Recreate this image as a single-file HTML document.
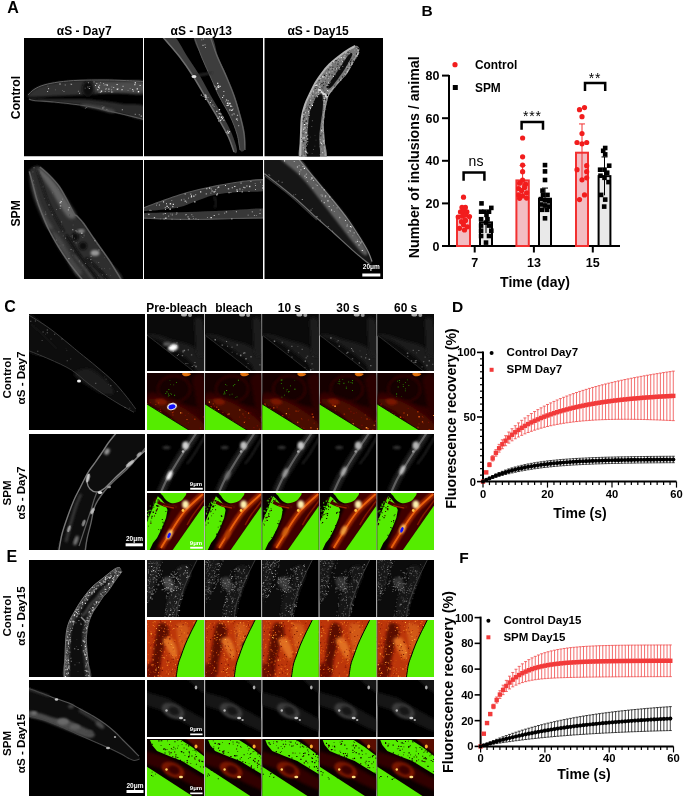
<!DOCTYPE html>
<html><head><meta charset="utf-8"><style>
html,body{margin:0;padding:0;background:#fff;width:685px;height:797px;overflow:hidden}
svg{display:block;will-change:transform}
text{font-family:"Liberation Sans",sans-serif}
</style></head><body>
<svg width="685" height="797" viewBox="0 0 685 797">
<defs>
<filter id="b04" x="-5%" y="-5%" width="110%" height="110%"><feGaussianBlur stdDeviation="0.3"/></filter>
<filter id="b05" x="-20%" y="-20%" width="140%" height="140%"><feGaussianBlur stdDeviation="0.4"/></filter>
<filter id="b1" x="-20%" y="-20%" width="140%" height="140%"><feGaussianBlur stdDeviation="0.8"/></filter>
<filter id="b2" x="-30%" y="-30%" width="160%" height="160%"><feGaussianBlur stdDeviation="1.6"/></filter>
<filter id="b3" x="-30%" y="-30%" width="160%" height="160%"><feGaussianBlur stdDeviation="3"/></filter>
</defs>
<rect width="685" height="797" fill="#fff"/>
<text x="7.3" y="12.6" font-size="16" font-weight="bold" text-anchor="start" fill="#000">A</text>
<text x="84.2" y="34.7" font-size="12" font-weight="bold" text-anchor="middle" fill="#000">αS - Day7</text>
<text x="201.3" y="34.7" font-size="12" font-weight="bold" text-anchor="middle" fill="#000">αS - Day13</text>
<text x="318.1" y="34.7" font-size="12" font-weight="bold" text-anchor="middle" fill="#000">αS - Day15</text>
<text x="19.7" y="97.5" font-size="12.2" font-weight="bold" text-anchor="middle" fill="#000" transform="rotate(-90 19.7 97.5)">Control</text>
<text x="19.7" y="213.3" font-size="12.2" font-weight="bold" text-anchor="middle" fill="#000" transform="rotate(-90 19.7 213.3)">SPM</text>
<clipPath id="cp1"><rect x="0" y="0" width="119" height="118.5"/></clipPath><g transform="translate(24,38)" clip-path="url(#cp1)"><rect x="0" y="0" width="119" height="118.5" fill="#000"/><path d="M4.0 57.0 C4.8 55.8 7.3 53.2 10.0 51.5 C12.7 49.8 15.8 48.2 20.0 47.0 C24.2 45.8 29.2 44.8 35.0 44.0 C40.8 43.2 47.5 42.6 55.0 42.3 C62.5 42.0 72.5 42.0 80.0 42.0 C87.5 42.0 93.3 42.2 100.0 42.5 C106.7 42.8 116.7 41.2 120.0 43.5 C123.3 45.8 123.3 54.0 120.0 56.0 C116.7 58.0 106.7 55.6 100.0 55.5 C93.3 55.4 86.7 55.2 80.0 55.5 C73.3 55.8 67.5 56.6 60.0 57.0 C52.5 57.4 42.5 57.7 35.0 58.0 C27.5 58.3 20.0 58.8 15.0 59.0 C10.0 59.2 6.8 59.3 5.0 59.0 C3.2 58.7 3.2 58.2 4.0 57.0 Z" fill="rgb(50,50,50)" filter="url(#b1)"/><path d="M70.0 45.0 C73.8 43.5 87.0 44.0 95.0 44.0 C103.0 44.0 114.2 43.3 118.0 45.0 C121.8 46.7 121.8 52.5 118.0 54.0 C114.2 55.5 102.7 54.2 95.0 54.0 C87.3 53.8 76.2 54.5 72.0 53.0 C67.8 51.5 66.2 46.5 70.0 45.0 Z" fill="rgb(78,78,78)" filter="url(#b2)"/><ellipse cx="64" cy="51" rx="6" ry="8" fill="rgb(14,14,14)" filter="url(#b2)"/><path d="M6.0 60.5 C10.2 60.5 21.8 60.9 30.0 61.0 C38.2 61.1 46.7 60.7 55.0 61.0 C63.3 61.3 72.5 62.2 80.0 63.0 C87.5 63.8 93.3 65.2 100.0 66.0 C106.7 66.8 116.7 65.4 120.0 68.0 C123.3 70.6 123.3 80.1 120.0 81.5 C116.7 82.9 105.8 77.9 100.0 76.5 C94.2 75.1 90.0 74.2 85.0 73.0 C80.0 71.8 75.5 70.6 70.0 69.5 C64.5 68.4 58.7 67.4 52.0 66.5 C45.3 65.6 37.0 64.7 30.0 64.0 C23.0 63.3 14.2 63.0 10.0 62.5 C5.8 62.0 5.7 61.3 5.0 61.0 C4.3 60.7 1.8 60.5 6.0 60.5 Z" fill="rgb(44,44,44)" filter="url(#b1)"/><path d="M60.0 66.0 C62.8 66.0 70.0 67.0 75.0 68.0 C80.0 69.0 87.8 70.8 90.0 72.0 C92.2 73.2 91.0 75.2 88.0 75.0 C85.0 74.8 77.0 72.2 72.0 71.0 C67.0 69.8 60.0 68.8 58.0 68.0 C56.0 67.2 57.2 66.0 60.0 66.0 Z" fill="rgb(70,70,70)" filter="url(#b1)"/><path d="M4.0 57.0 C5.0 56.1 7.3 53.2 10.0 51.5 C12.7 49.8 15.8 48.2 20.0 47.0 C24.2 45.8 29.2 44.8 35.0 44.0 C40.8 43.2 47.5 42.6 55.0 42.3 C62.5 42.0 72.5 42.0 80.0 42.0 C87.5 42.0 93.3 42.2 100.0 42.5 C106.7 42.8 116.7 43.3 120.0 43.5" stroke="rgb(100,100,100)" stroke-width="1" fill="none" filter="url(#b05)"/><path d="M120.0 81.5 C116.7 80.7 105.8 77.9 100.0 76.5 C94.2 75.1 90.0 74.2 85.0 73.0 C80.0 71.8 75.5 70.6 70.0 69.5 C64.5 68.4 58.7 67.4 52.0 66.5 C45.3 65.6 37.0 64.7 30.0 64.0 C23.0 63.3 14.2 63.0 10.0 62.5 C5.8 62.0 5.8 61.2 5.0 61.0" stroke="rgb(85,85,85)" stroke-width="1.2" fill="none" filter="url(#b05)"/><g filter="url(#b05)"><g filter="url(#b04)"><path d="M76.0 44.1h1.1v1.1h-1.1zM87.2 48.4h1.2v1.2h-1.2z" fill="#787878"/><path d="M81.0 50.7h0.9v0.9h-0.9zM108.6 52.5h1.1v1.1h-1.1zM89.2 48.9h1.0v1.0h-1.0zM97.8 51.2h0.7v0.7h-0.7zM110.7 44.1h1.3v1.3h-1.3zM110.2 46.0h1.3v1.3h-1.3zM72.3 45.0h1.0v1.0h-1.0zM81.5 46.2h1.0v1.0h-1.0zM84.2 50.5h1.3v1.3h-1.3z" fill="#c0c0c0"/><path d="M113.8 53.0h1.4v1.4h-1.4z" fill="#ffffff"/><path d="M115.6 46.9h1.0v1.0h-1.0zM81.9 50.4h0.8v0.8h-0.8zM97.5 51.2h1.0v1.0h-1.0zM73.3 51.2h1.1v1.1h-1.1zM74.0 48.5h1.2v1.2h-1.2zM92.6 46.1h1.0v1.0h-1.0zM71.2 47.1h0.8v0.8h-0.8zM82.7 46.6h1.2v1.2h-1.2z" fill="#f0f0f0"/><path d="M87.1 53.4h1.2v1.2h-1.2zM76.8 52.6h1.4v1.4h-1.4zM87.3 51.5h0.8v0.8h-0.8zM108.1 51.0h1.1v1.1h-1.1zM76.3 53.8h0.9v0.9h-0.9zM74.9 49.5h1.0v1.0h-1.0zM92.7 50.5h1.4v1.4h-1.4zM112.6 50.2h1.4v1.4h-1.4zM74.7 53.7h0.7v0.7h-0.7zM93.6 50.4h0.9v0.9h-0.9zM80.8 53.0h0.8v0.8h-0.8z" fill="#d8d8d8"/><path d="M79.1 44.9h1.0v1.0h-1.0zM84.5 53.0h0.9v0.9h-0.9zM98.5 47.8h1.1v1.1h-1.1zM109.3 52.9h0.7v0.7h-0.7zM103.7 52.1h0.7v0.7h-0.7zM105.7 49.9h0.8v0.8h-0.8z" fill="#a8a8a8"/><path d="M74.9 46.7h1.3v1.3h-1.3zM88.3 53.6h0.9v0.9h-0.9zM79.7 46.6h1.0v1.0h-1.0z" fill="#909090"/></g><g filter="url(#b04)"><path d="M23.0 52.9h1.1v1.1h-1.1zM24.0 50.1h1.1v1.1h-1.1zM63.9 44.3h0.9v0.9h-0.9zM64.8 49.9h1.2v1.2h-1.2z" fill="#a8a8a8"/><path d="M65.5 48.1h0.7v0.7h-0.7zM53.9 52.8h1.0v1.0h-1.0zM55.0 54.8h1.1v1.1h-1.1zM60.8 49.8h0.7v0.7h-0.7zM63.4 48.5h1.0v1.0h-1.0zM46.9 45.7h1.2v1.2h-1.2zM40.7 46.5h1.1v1.1h-1.1z" fill="#909090"/><path d="M31.2 51.4h0.8v0.8h-0.8zM46.1 45.7h0.9v0.9h-0.9zM69.5 43.3h1.1v1.1h-1.1zM23.5 47.8h0.8v0.8h-0.8zM38.2 51.9h0.8v0.8h-0.8z" fill="#787878"/><path d="M39.6 53.3h0.8v0.8h-0.8z" fill="#c0c0c0"/><path d="M35.4 45.4h1.2v1.2h-1.2z" fill="#d8d8d8"/></g><g filter="url(#b04)"><path d="M79.5 68.5h0.9v0.9h-0.9zM114.8 76.2h1.0v1.0h-1.0z" fill="#909090"/><path d="M83.7 72.6h0.8v0.8h-0.8zM78.5 69.6h1.0v1.0h-1.0zM77.6 67.5h0.8v0.8h-0.8zM62.1 68.9h1.1v1.1h-1.1z" fill="#606060"/><path d="M60.9 69.8h0.8v0.8h-0.8zM116.7 77.5h1.2v1.2h-1.2zM78.3 69.5h1.1v1.1h-1.1zM97.8 71.2h1.1v1.1h-1.1z" fill="#a8a8a8"/><path d="M110.7 75.7h1.2v1.2h-1.2zM82.4 71.0h1.0v1.0h-1.0z" fill="#787878"/></g></g></g>
<clipPath id="cp2"><rect x="0" y="0" width="119" height="118.5"/></clipPath><g transform="translate(144,38)" clip-path="url(#cp2)"><rect x="0" y="0" width="119" height="118.5" fill="#000"/><path d="M18.0 -2.0 C18.8 1.3 29.8 11.3 35.0 18.0 C40.2 24.7 44.5 31.0 49.0 38.0 C53.5 45.0 57.8 53.0 62.0 60.0 C66.2 67.0 70.3 73.7 74.0 80.0 C77.7 86.3 81.3 92.3 84.0 98.0 C86.7 103.7 88.5 111.7 90.0 114.0 C91.5 116.3 93.3 115.0 93.0 112.0 C92.7 109.0 90.3 101.7 88.0 96.0 C85.7 90.3 82.5 84.3 79.0 78.0 C75.5 71.7 70.8 64.7 67.0 58.0 C63.2 51.3 60.0 44.7 56.0 38.0 C52.0 31.3 47.3 24.7 43.0 18.0 C38.7 11.3 34.2 1.3 30.0 -2.0 C25.8 -5.3 17.2 -5.3 18.0 -2.0 Z" fill="rgb(60,60,60)" filter="url(#b05)"/><path d="M18.0 -2.0 C20.8 1.3 29.8 11.3 35.0 18.0 C40.2 24.7 44.5 31.0 49.0 38.0 C53.5 45.0 57.8 53.0 62.0 60.0 C66.2 67.0 70.3 73.7 74.0 80.0 C77.7 86.3 81.3 92.3 84.0 98.0 C86.7 103.7 89.0 111.3 90.0 114.0" stroke="rgb(110,110,110)" stroke-width="1.5" fill="none" filter="url(#b05)"/><path d="M50.0 -2.0 C51.5 -5.7 63.0 -5.3 67.0 -2.0 C71.0 1.3 71.3 11.3 74.0 18.0 C76.7 24.7 80.2 31.3 83.0 38.0 C85.8 44.7 88.7 51.3 91.0 58.0 C93.3 64.7 95.3 71.7 97.0 78.0 C98.7 84.3 100.3 90.5 101.0 96.0 C101.7 101.5 101.8 108.3 101.0 111.0 C100.2 113.7 97.3 114.5 96.0 112.0 C94.7 109.5 94.7 101.7 93.0 96.0 C91.3 90.3 89.0 84.3 86.0 78.0 C83.0 71.7 78.2 64.3 75.0 58.0 C71.8 51.7 69.8 46.3 67.0 40.0 C64.2 33.7 60.8 27.0 58.0 20.0 C55.2 13.0 48.5 1.7 50.0 -2.0 Z" fill="rgb(62,62,62)" filter="url(#b05)"/><path d="M66.0 -2.0 C67.2 1.3 70.3 11.3 73.0 18.0 C75.7 24.7 79.2 31.3 82.0 38.0 C84.8 44.7 87.7 51.3 90.0 58.0 C92.3 64.7 94.3 71.7 96.0 78.0 C97.7 84.3 99.2 90.3 100.0 96.0 C100.8 101.7 100.8 109.3 101.0 112.0" stroke="rgb(100,100,100)" stroke-width="1.2" fill="none" filter="url(#b05)"/><path d="M50.0 -2.0 C51.3 1.7 55.2 13.0 58.0 20.0 C60.8 27.0 64.2 33.7 67.0 40.0 C69.8 46.3 71.8 51.7 75.0 58.0 C78.2 64.3 83.0 71.7 86.0 78.0 C89.0 84.3 91.3 90.3 93.0 96.0 C94.7 101.7 95.5 109.3 96.0 112.0" stroke="rgb(90,90,90)" stroke-width="1" fill="none" filter="url(#b05)"/><path d="M48.0 38.0 C49.2 37.8 52.7 37.3 55.0 37.0 C57.3 36.7 59.8 36.5 62.0 36.0 C64.2 35.5 67.0 34.3 68.0 34.0" stroke="rgb(45,45,45)" stroke-width="2" fill="none" filter="url(#b1)"/><ellipse cx="50" cy="38.5" rx="2.5" ry="1.5" fill="rgb(230,230,230)" filter="url(#b05)"/><g filter="url(#b04)"><path d="M74.3 82.6h0.9v0.9h-0.9zM76.1 81.9h1.1v1.1h-1.1zM61.7 57.4h1.0v1.0h-1.0zM60.8 58.5h1.0v1.0h-1.0zM74.8 71.0h1.3v1.3h-1.3zM76.8 78.5h1.4v1.4h-1.4zM79.4 81.7h1.0v1.0h-1.0zM84.0 94.3h1.3v1.3h-1.3zM76.2 75.5h1.1v1.1h-1.1z" fill="#f0f0f0"/><path d="M68.4 66.4h1.0v1.0h-1.0zM78.8 78.8h1.0v1.0h-1.0zM74.6 74.9h1.3v1.3h-1.3zM78.2 77.9h0.7v0.7h-0.7zM58.7 58.2h0.8v0.8h-0.8zM83.1 94.4h1.0v1.0h-1.0zM72.2 72.7h1.2v1.2h-1.2z" fill="#c0c0c0"/><path d="M77.9 80.1h1.1v1.1h-1.1zM60.7 59.4h0.7v0.7h-0.7zM85.0 92.9h1.1v1.1h-1.1zM61.1 56.4h1.1v1.1h-1.1zM65.9 63.9h1.0v1.0h-1.0zM73.6 79.8h1.1v1.1h-1.1zM60.6 56.4h1.3v1.3h-1.3z" fill="#d8d8d8"/><path d="M69.7 68.1h0.9v0.9h-0.9zM64.0 63.1h0.7v0.7h-0.7zM56.8 56.5h1.2v1.2h-1.2z" fill="#909090"/><path d="M83.0 92.5h1.4v1.4h-1.4zM77.3 81.4h0.7v0.7h-0.7zM60.9 60.7h1.4v1.4h-1.4zM76.5 80.8h0.9v0.9h-0.9zM74.9 77.9h1.1v1.1h-1.1zM81.7 94.1h1.0v1.0h-1.0zM63.6 58.9h0.9v0.9h-0.9zM74.9 79.3h0.8v0.8h-0.8zM67.2 62.4h0.8v0.8h-0.8zM61.8 58.7h1.2v1.2h-1.2z" fill="#a8a8a8"/></g><g filter="url(#b04)"><path d="M93.3 80.6h0.8v0.8h-0.8zM92.9 76.8h1.2v1.2h-1.2zM87.5 68.1h0.8v0.8h-0.8zM84.4 66.3h0.9v0.9h-0.9zM87.7 71.1h1.3v1.3h-1.3zM85.2 71.3h1.4v1.4h-1.4zM87.6 76.3h1.1v1.1h-1.1z" fill="#a8a8a8"/><path d="M82.7 65.0h0.8v0.8h-0.8zM89.6 75.5h1.1v1.1h-1.1zM93.1 82.3h0.8v0.8h-0.8zM73.8 46.9h1.3v1.3h-1.3zM70.6 48.2h1.0v1.0h-1.0zM71.9 50.4h1.3v1.3h-1.3zM79.3 53.0h1.1v1.1h-1.1z" fill="#c0c0c0"/><path d="M88.8 70.6h0.9v0.9h-0.9zM81.3 63.3h0.9v0.9h-0.9zM69.9 47.3h0.8v0.8h-0.8zM94.0 87.0h1.2v1.2h-1.2zM88.8 75.2h0.7v0.7h-0.7z" fill="#909090"/><path d="M81.9 61.4h1.2v1.2h-1.2zM91.9 80.4h1.3v1.3h-1.3zM75.5 47.8h1.2v1.2h-1.2zM73.1 44.8h1.2v1.2h-1.2zM79.2 57.2h1.0v1.0h-1.0zM83.6 62.3h1.0v1.0h-1.0z" fill="#d8d8d8"/><path d="M73.3 48.3h1.3v1.3h-1.3zM74.2 48.8h1.1v1.1h-1.1zM78.1 58.9h1.0v1.0h-1.0zM86.1 67.4h1.4v1.4h-1.4zM83.4 66.8h1.2v1.2h-1.2zM85.2 64.8h1.4v1.4h-1.4zM72.3 49.4h0.8v0.8h-0.8zM82.4 67.2h0.9v0.9h-0.9zM83.1 64.5h1.4v1.4h-1.4zM87.2 71.9h1.1v1.1h-1.1z" fill="#f0f0f0"/></g><g filter="url(#b04)"><path d="M59.1 0.6h0.9v0.9h-0.9zM57.3 1.4h0.9v0.9h-0.9z" fill="#c0c0c0"/><path d="M58.4 6.8h1.2v1.2h-1.2z" fill="#a8a8a8"/><path d="M60.5 6.4h0.9v0.9h-0.9zM61.1 8.9h0.9v0.9h-0.9z" fill="#d8d8d8"/></g></g>
<clipPath id="cp3"><rect x="0" y="0" width="118.7" height="118.5"/></clipPath><g transform="translate(264.3,38)" clip-path="url(#cp3)"><rect x="0" y="0" width="118.7" height="118.5" fill="#000"/><path d="M36.0 121.0 C31.9 117.5 36.2 107.0 36.5 100.0 C36.8 93.0 36.9 84.5 37.6 78.8 C38.4 73.1 39.7 69.8 41.0 66.0 C42.3 62.2 43.8 59.5 45.5 56.0 C47.2 52.5 49.0 48.5 51.0 45.0 C53.0 41.5 55.5 38.1 57.8 35.0 C60.1 31.9 62.4 29.1 65.0 26.5 C67.6 23.9 70.7 21.6 73.5 19.3 C76.3 17.1 79.1 14.9 82.0 13.0 C84.9 11.1 88.9 8.5 91.0 7.9 C93.1 7.3 93.9 8.6 94.5 9.6 C95.1 10.6 95.6 11.4 94.5 14.0 C93.4 16.6 90.0 21.5 88.0 25.0 C86.0 28.5 84.3 32.2 82.3 35.0 C80.3 37.8 78.0 39.7 76.0 42.0 C74.0 44.3 72.0 46.5 70.0 49.0 C68.0 51.5 65.5 54.1 64.0 57.0 C62.5 59.9 62.0 63.2 61.3 66.5 C60.5 69.8 59.9 73.5 59.5 77.0 C59.1 80.5 58.7 83.8 58.7 87.6 C58.7 91.4 59.1 94.4 59.5 100.0 C59.9 105.6 65.2 117.5 61.3 121.0 C57.4 124.5 40.1 124.5 36.0 121.0 Z" fill="rgb(120,120,120)" filter="url(#b05)"/><path d="M43.0 121.0 C41.0 117.5 42.8 106.0 43.0 100.0 C43.2 94.0 43.5 89.7 44.0 85.0 C44.5 80.3 45.0 75.8 46.0 72.0 C47.0 68.2 48.7 64.5 50.0 62.0 C51.3 59.5 52.7 57.8 54.0 57.0 C55.3 56.2 57.2 54.8 58.0 57.0 C58.8 59.2 58.8 65.3 58.5 70.0 C58.2 74.7 57.1 80.0 56.5 85.0 C55.9 90.0 55.2 94.0 55.0 100.0 C54.8 106.0 57.0 117.5 55.0 121.0 C53.0 124.5 45.0 124.5 43.0 121.0 Z" fill="rgb(14,14,14)" filter="url(#b05)"/><path d="M62.0 49.0 C62.2 47.7 65.0 44.8 67.0 42.0 C69.0 39.2 71.8 35.2 74.0 32.0 C76.2 28.8 78.1 25.8 80.0 23.0 C81.9 20.2 84.2 16.6 85.5 15.5 C86.8 14.4 88.2 14.9 88.0 16.5 C87.8 18.1 85.6 22.1 84.0 25.0 C82.4 27.9 80.5 31.0 78.5 34.0 C76.5 37.0 74.1 40.3 72.0 43.0 C69.9 45.7 67.7 49.0 66.0 50.0 C64.3 51.0 61.8 50.3 62.0 49.0 Z" fill="rgb(14,14,14)" filter="url(#b05)"/><path d="M36.0 121.0 C36.1 117.5 36.2 107.0 36.5 100.0 C36.8 93.0 36.9 84.5 37.6 78.8 C38.4 73.1 39.7 69.8 41.0 66.0 C42.3 62.2 43.8 59.5 45.5 56.0 C47.2 52.5 49.0 48.5 51.0 45.0 C53.0 41.5 55.5 38.1 57.8 35.0 C60.1 31.9 62.4 29.1 65.0 26.5 C67.6 23.9 70.7 21.6 73.5 19.3 C76.3 17.1 79.1 14.9 82.0 13.0 C84.9 11.1 89.5 8.8 91.0 7.9" stroke="rgb(180,180,180)" stroke-width="2" fill="none" filter="url(#b05)"/><path d="M94.5 14.0 C93.4 15.8 90.0 21.5 88.0 25.0 C86.0 28.5 84.3 32.2 82.3 35.0 C80.3 37.8 78.0 39.7 76.0 42.0 C74.0 44.3 72.0 46.5 70.0 49.0 C68.0 51.5 65.5 54.1 64.0 57.0 C62.5 59.9 62.0 63.2 61.3 66.5 C60.5 69.8 59.9 73.5 59.5 77.0 C59.1 80.5 58.7 83.8 58.7 87.6 C58.7 91.4 59.1 94.4 59.5 100.0 C59.9 105.6 61.0 117.5 61.3 121.0" stroke="rgb(160,160,160)" stroke-width="1.6" fill="none" filter="url(#b05)"/><path d="M54 51 L63 59" stroke="rgb(215,215,215)" stroke-width="2.4" filter="url(#b05)"/><g filter="url(#b04)"><path d="M59.8 114.5h1.0v1.0h-1.0zM45.5 56.5h0.7v0.7h-0.7zM37.9 113.8h0.6v0.6h-0.6zM86.5 20.5h0.8v0.8h-0.8zM74.2 42.7h1.2v1.2h-1.2zM41.7 101.8h0.7v0.7h-0.7zM58.5 112.9h0.7v0.7h-0.7zM61.5 53.7h1.2v1.2h-1.2zM54.6 53.9h0.8v0.8h-0.8zM40.9 110.9h0.6v0.6h-0.6zM38.1 88.5h0.7v0.7h-0.7zM70.8 25.9h0.6v0.6h-0.6zM38.8 99.8h0.8v0.8h-0.8zM69.8 28.4h1.1v1.1h-1.1zM37.9 112.7h0.6v0.6h-0.6zM42.5 63.6h0.7v0.7h-0.7zM74.1 25.0h0.9v0.9h-0.9zM50.9 48.3h1.0v1.0h-1.0zM60.9 33.0h1.0v1.0h-1.0zM54.3 45.9h1.3v1.3h-1.3zM42.4 86.0h1.3v1.3h-1.3zM74.6 30.9h0.9v0.9h-0.9zM51.7 56.3h0.8v0.8h-0.8zM58.0 53.0h0.7v0.7h-0.7zM41.4 71.5h0.7v0.7h-0.7zM57.5 99.5h0.8v0.8h-0.8zM51.1 53.4h0.7v0.7h-0.7zM64.8 31.1h0.7v0.7h-0.7zM80.7 33.2h0.8v0.8h-0.8zM85.2 27.5h1.2v1.2h-1.2zM57.6 80.4h1.0v1.0h-1.0zM50.4 52.3h0.8v0.8h-0.8zM62.1 62.3h0.9v0.9h-0.9zM40.1 91.8h0.7v0.7h-0.7zM40.7 86.7h0.7v0.7h-0.7zM41.5 118.4h1.1v1.1h-1.1zM42.8 103.1h1.2v1.2h-1.2zM43.0 96.5h0.8v0.8h-0.8zM52.0 57.4h1.0v1.0h-1.0zM39.9 97.2h0.9v0.9h-0.9zM88.3 22.6h1.2v1.2h-1.2zM61.0 47.2h0.9v0.9h-0.9zM55.9 100.4h1.1v1.1h-1.1zM44.4 59.0h0.7v0.7h-0.7zM63.9 37.6h1.1v1.1h-1.1zM83.7 13.7h0.8v0.8h-0.8z" fill="#787878"/><path d="M80.9 13.9h0.6v0.6h-0.6zM64.5 33.5h0.9v0.9h-0.9zM40.9 112.7h1.2v1.2h-1.2zM68.5 23.6h1.0v1.0h-1.0zM54.6 45.5h0.9v0.9h-0.9zM51.4 50.9h0.9v0.9h-0.9zM92.0 10.2h1.0v1.0h-1.0zM42.7 105.5h1.0v1.0h-1.0zM63.6 52.6h1.1v1.1h-1.1zM38.9 90.7h1.3v1.3h-1.3zM49.1 54.6h0.7v0.7h-0.7zM42.5 114.7h0.8v0.8h-0.8zM36.9 103.2h0.7v0.7h-0.7zM56.7 92.2h1.1v1.1h-1.1zM39.8 84.6h1.0v1.0h-1.0zM45.5 58.7h1.1v1.1h-1.1zM60.6 54.1h1.2v1.2h-1.2zM39.6 78.4h0.8v0.8h-0.8zM82.4 13.7h1.3v1.3h-1.3zM44.5 77.2h0.8v0.8h-0.8zM43.2 96.8h0.7v0.7h-0.7zM59.6 59.8h1.0v1.0h-1.0zM57.5 106.4h0.7v0.7h-0.7zM51.9 46.6h1.2v1.2h-1.2zM39.2 99.3h1.2v1.2h-1.2zM64.7 44.9h0.7v0.7h-0.7zM57.8 81.3h0.7v0.7h-0.7zM41.3 89.3h1.1v1.1h-1.1zM56.3 104.4h0.6v0.6h-0.6zM42.3 84.8h0.7v0.7h-0.7zM62.7 51.9h1.1v1.1h-1.1zM82.6 14.3h0.9v0.9h-0.9zM41.2 94.0h1.2v1.2h-1.2zM58.4 102.5h1.1v1.1h-1.1zM76.3 19.0h1.2v1.2h-1.2zM59.4 66.0h0.8v0.8h-0.8zM50.6 46.8h1.3v1.3h-1.3zM84.4 25.5h1.0v1.0h-1.0z" fill="#f0f0f0"/><path d="M56.2 42.4h1.0v1.0h-1.0zM52.7 47.3h0.7v0.7h-0.7zM75.1 22.7h0.8v0.8h-0.8zM59.7 62.4h0.9v0.9h-0.9zM74.4 19.3h1.1v1.1h-1.1zM88.6 16.2h0.6v0.6h-0.6zM85.5 25.9h0.7v0.7h-0.7zM69.7 46.0h0.8v0.8h-0.8zM57.7 114.0h1.2v1.2h-1.2zM58.2 38.4h1.3v1.3h-1.3zM60.9 37.6h1.1v1.1h-1.1zM75.9 41.3h1.2v1.2h-1.2zM66.1 26.6h1.3v1.3h-1.3zM38.5 109.2h1.0v1.0h-1.0zM39.1 110.8h0.7v0.7h-0.7zM44.7 68.6h1.0v1.0h-1.0zM48.4 52.6h1.3v1.3h-1.3zM56.4 55.8h0.6v0.6h-0.6zM39.1 76.1h1.0v1.0h-1.0zM73.8 20.4h0.9v0.9h-0.9zM76.3 26.6h0.7v0.7h-0.7zM39.8 82.6h0.8v0.8h-0.8zM70.3 36.4h0.9v0.9h-0.9zM86.4 26.4h0.8v0.8h-0.8zM87.8 22.3h1.2v1.2h-1.2zM59.6 43.4h0.8v0.8h-0.8zM55.5 101.3h0.8v0.8h-0.8zM62.1 46.8h1.2v1.2h-1.2zM57.2 91.4h0.9v0.9h-0.9zM63.6 29.2h0.7v0.7h-0.7zM39.6 89.0h0.9v0.9h-0.9zM84.0 29.4h0.7v0.7h-0.7zM41.8 98.1h0.8v0.8h-0.8zM61.0 39.6h0.9v0.9h-0.9zM87.4 25.9h0.9v0.9h-0.9zM67.3 32.9h0.7v0.7h-0.7zM42.3 84.8h1.1v1.1h-1.1zM67.4 33.0h0.8v0.8h-0.8zM80.1 19.8h1.0v1.0h-1.0zM53.9 56.1h1.0v1.0h-1.0zM41.5 113.8h1.2v1.2h-1.2zM48.0 57.2h1.2v1.2h-1.2zM71.7 30.2h1.2v1.2h-1.2zM61.7 34.2h0.8v0.8h-0.8zM41.5 117.4h0.7v0.7h-0.7zM64.3 52.0h1.0v1.0h-1.0z" fill="#c0c0c0"/><path d="M57.1 44.9h1.1v1.1h-1.1zM58.7 72.6h0.6v0.6h-0.6zM69.9 36.9h1.0v1.0h-1.0zM58.9 47.1h1.1v1.1h-1.1zM40.8 118.5h0.9v0.9h-0.9zM90.5 20.8h0.7v0.7h-0.7zM42.6 101.6h0.8v0.8h-0.8zM38.3 102.5h1.2v1.2h-1.2zM39.6 92.4h0.9v0.9h-0.9zM77.7 38.2h1.2v1.2h-1.2zM42.7 104.8h1.3v1.3h-1.3zM43.3 68.4h0.8v0.8h-0.8zM44.8 66.0h1.1v1.1h-1.1zM59.6 36.7h1.3v1.3h-1.3zM56.0 97.3h1.0v1.0h-1.0zM73.9 22.6h0.8v0.8h-0.8zM58.2 78.8h0.7v0.7h-0.7zM38.4 95.3h0.8v0.8h-0.8zM62.8 56.3h0.8v0.8h-0.8zM42.7 115.0h1.1v1.1h-1.1zM70.8 45.3h1.2v1.2h-1.2zM37.1 117.6h0.8v0.8h-0.8zM41.6 69.7h0.8v0.8h-0.8zM43.9 78.3h0.9v0.9h-0.9zM68.1 28.7h1.0v1.0h-1.0zM50.7 49.9h0.8v0.8h-0.8zM85.8 25.4h0.8v0.8h-0.8zM36.7 100.1h0.7v0.7h-0.7zM70.0 46.6h1.2v1.2h-1.2zM43.2 88.2h1.1v1.1h-1.1zM53.9 56.9h0.6v0.6h-0.6zM71.1 22.0h1.2v1.2h-1.2zM41.7 89.4h1.1v1.1h-1.1zM79.9 22.8h0.7v0.7h-0.7zM73.1 25.6h1.1v1.1h-1.1zM83.0 13.8h1.1v1.1h-1.1zM48.5 61.0h0.8v0.8h-0.8zM52.2 51.6h0.6v0.6h-0.6zM59.0 106.5h1.2v1.2h-1.2zM57.1 90.0h0.7v0.7h-0.7zM41.8 105.6h1.3v1.3h-1.3zM60.1 53.8h1.3v1.3h-1.3zM60.9 60.9h0.7v0.7h-0.7zM75.2 27.5h1.0v1.0h-1.0zM70.7 30.4h0.9v0.9h-0.9zM57.7 49.8h0.6v0.6h-0.6zM78.7 22.6h0.8v0.8h-0.8zM85.6 24.5h0.8v0.8h-0.8zM69.8 48.0h1.0v1.0h-1.0zM42.5 102.2h0.7v0.7h-0.7zM86.2 27.7h1.2v1.2h-1.2zM78.8 22.7h0.9v0.9h-0.9zM91.7 15.2h1.2v1.2h-1.2zM39.6 78.1h0.6v0.6h-0.6zM41.5 82.6h1.2v1.2h-1.2zM64.2 49.8h0.8v0.8h-0.8zM82.9 14.0h0.6v0.6h-0.6zM41.4 87.0h0.8v0.8h-0.8zM67.4 31.1h1.0v1.0h-1.0z" fill="#181818"/><path d="M64.4 52.6h0.8v0.8h-0.8zM74.0 22.3h0.7v0.7h-0.7zM84.9 15.6h0.7v0.7h-0.7zM92.7 15.6h1.3v1.3h-1.3zM88.3 9.4h0.9v0.9h-0.9zM56.6 104.9h1.1v1.1h-1.1zM45.3 56.9h0.8v0.8h-0.8zM40.6 74.3h1.0v1.0h-1.0zM79.1 18.8h1.1v1.1h-1.1zM56.0 103.8h0.8v0.8h-0.8zM57.8 38.1h1.3v1.3h-1.3zM76.7 21.7h0.7v0.7h-0.7zM61.8 37.0h0.7v0.7h-0.7zM37.9 78.6h0.6v0.6h-0.6zM69.6 23.9h0.6v0.6h-0.6zM40.6 102.0h0.8v0.8h-0.8zM68.8 38.0h0.9v0.9h-0.9zM48.9 63.7h0.9v0.9h-0.9zM74.7 29.4h0.9v0.9h-0.9zM55.3 40.1h1.1v1.1h-1.1zM61.8 35.3h0.8v0.8h-0.8zM42.5 96.5h0.9v0.9h-0.9zM70.2 47.8h1.2v1.2h-1.2zM63.7 44.3h1.1v1.1h-1.1zM53.4 53.6h1.2v1.2h-1.2zM59.3 62.0h1.2v1.2h-1.2zM93.3 11.6h1.1v1.1h-1.1zM65.4 37.5h0.7v0.7h-0.7zM43.8 73.1h1.0v1.0h-1.0zM64.3 37.7h0.7v0.7h-0.7zM55.2 48.5h0.6v0.6h-0.6zM51.5 54.1h0.7v0.7h-0.7zM45.7 61.7h1.1v1.1h-1.1zM82.8 33.3h0.9v0.9h-0.9zM38.3 99.8h0.8v0.8h-0.8zM57.9 37.8h1.1v1.1h-1.1z" fill="#d8d8d8"/><path d="M54.9 50.0h1.0v1.0h-1.0zM39.3 96.0h0.6v0.6h-0.6zM39.0 77.0h0.8v0.8h-0.8zM60.6 42.2h0.8v0.8h-0.8zM44.9 73.3h0.7v0.7h-0.7zM55.2 53.3h1.2v1.2h-1.2zM39.5 114.4h1.1v1.1h-1.1zM55.9 46.0h0.9v0.9h-0.9zM74.4 40.9h1.2v1.2h-1.2zM40.4 82.9h1.0v1.0h-1.0zM74.2 31.0h0.8v0.8h-0.8zM80.2 33.8h0.8v0.8h-0.8zM51.4 47.9h1.0v1.0h-1.0zM44.6 78.7h0.8v0.8h-0.8zM57.0 95.9h0.6v0.6h-0.6zM70.2 48.2h1.3v1.3h-1.3zM60.7 38.1h0.8v0.8h-0.8zM82.2 16.6h1.2v1.2h-1.2zM83.9 13.8h1.3v1.3h-1.3zM37.4 94.5h0.8v0.8h-0.8zM64.2 52.6h1.2v1.2h-1.2zM64.2 35.2h0.8v0.8h-0.8zM80.9 34.4h1.0v1.0h-1.0zM38.8 79.5h1.1v1.1h-1.1zM51.6 45.5h0.6v0.6h-0.6zM79.7 37.2h1.2v1.2h-1.2zM58.7 93.1h1.0v1.0h-1.0zM50.7 58.9h1.3v1.3h-1.3zM91.1 8.5h0.7v0.7h-0.7zM89.4 18.4h1.0v1.0h-1.0zM57.3 48.6h0.8v0.8h-0.8zM68.0 24.1h0.9v0.9h-0.9zM59.1 56.9h1.3v1.3h-1.3zM60.7 44.0h0.9v0.9h-0.9zM56.7 48.9h1.3v1.3h-1.3zM92.2 9.2h1.2v1.2h-1.2zM67.1 36.1h1.3v1.3h-1.3zM76.2 40.6h1.0v1.0h-1.0zM61.3 45.2h1.2v1.2h-1.2zM91.4 19.2h1.3v1.3h-1.3zM57.5 80.9h0.8v0.8h-0.8zM56.7 56.6h0.7v0.7h-0.7zM88.7 22.8h0.8v0.8h-0.8z" fill="#484848"/><path d="M86.0 26.6h0.6v0.6h-0.6zM55.2 107.9h0.8v0.8h-0.8zM72.5 28.1h0.8v0.8h-0.8zM85.9 22.5h1.2v1.2h-1.2zM56.5 55.5h1.3v1.3h-1.3zM74.8 42.0h0.8v0.8h-0.8zM91.8 11.6h0.6v0.6h-0.6zM39.7 116.4h0.8v0.8h-0.8zM62.6 51.2h0.7v0.7h-0.7zM54.4 42.0h0.9v0.9h-0.9zM63.8 49.5h0.8v0.8h-0.8zM49.7 61.5h0.7v0.7h-0.7zM85.6 25.3h1.1v1.1h-1.1zM58.3 95.4h0.8v0.8h-0.8zM60.7 61.1h1.2v1.2h-1.2zM39.7 79.1h0.8v0.8h-0.8zM72.6 32.6h0.9v0.9h-0.9zM62.9 38.7h0.7v0.7h-0.7zM42.3 96.0h1.0v1.0h-1.0zM77.5 38.7h0.8v0.8h-0.8zM48.1 55.7h0.9v0.9h-0.9zM73.6 31.0h0.7v0.7h-0.7zM58.8 60.9h1.0v1.0h-1.0zM55.8 106.4h0.9v0.9h-0.9zM71.3 24.8h0.8v0.8h-0.8zM55.2 53.2h0.9v0.9h-0.9zM64.7 53.0h0.7v0.7h-0.7zM64.4 36.3h1.3v1.3h-1.3zM39.7 111.3h0.9v0.9h-0.9zM72.8 30.6h1.0v1.0h-1.0zM42.8 104.9h0.8v0.8h-0.8zM56.9 94.0h1.2v1.2h-1.2zM63.1 38.2h0.6v0.6h-0.6zM41.2 101.5h0.7v0.7h-0.7zM59.0 100.8h0.8v0.8h-0.8zM70.0 33.2h1.2v1.2h-1.2zM63.8 31.2h1.0v1.0h-1.0z" fill="#303030"/><path d="M90.0 11.5h0.7v0.7h-0.7zM58.6 60.0h0.8v0.8h-0.8zM62.2 36.0h0.8v0.8h-0.8zM85.6 27.1h0.7v0.7h-0.7zM57.8 101.5h1.0v1.0h-1.0zM68.5 30.9h1.1v1.1h-1.1zM69.9 49.0h0.8v0.8h-0.8zM59.6 34.2h1.1v1.1h-1.1zM60.4 54.3h1.0v1.0h-1.0zM71.0 45.1h1.2v1.2h-1.2zM56.9 85.1h1.1v1.1h-1.1zM60.1 64.1h1.1v1.1h-1.1zM40.4 97.3h0.6v0.6h-0.6zM46.7 57.3h0.7v0.7h-0.7zM39.4 93.4h0.7v0.7h-0.7zM57.4 89.5h0.9v0.9h-0.9zM66.9 52.7h1.0v1.0h-1.0zM59.6 110.1h1.3v1.3h-1.3zM38.5 92.6h0.6v0.6h-0.6zM62.9 35.3h1.1v1.1h-1.1zM89.7 11.6h1.1v1.1h-1.1zM61.5 33.8h0.7v0.7h-0.7zM63.1 47.0h1.1v1.1h-1.1zM59.1 44.8h1.0v1.0h-1.0zM91.1 17.2h1.2v1.2h-1.2zM56.8 93.8h1.2v1.2h-1.2zM59.2 107.3h1.2v1.2h-1.2zM63.9 43.3h1.0v1.0h-1.0zM62.1 51.1h1.0v1.0h-1.0zM76.1 25.5h1.0v1.0h-1.0zM57.1 116.4h0.9v0.9h-0.9zM45.5 58.7h1.2v1.2h-1.2zM59.9 62.4h0.9v0.9h-0.9zM48.0 65.3h0.8v0.8h-0.8zM60.9 67.7h0.8v0.8h-0.8zM56.5 40.0h0.9v0.9h-0.9zM49.3 61.3h1.1v1.1h-1.1zM80.3 19.6h0.7v0.7h-0.7zM53.6 47.7h1.2v1.2h-1.2zM43.2 63.0h1.2v1.2h-1.2zM55.3 108.2h1.0v1.0h-1.0zM48.6 53.7h0.7v0.7h-0.7zM40.7 118.3h0.6v0.6h-0.6zM76.7 25.6h1.2v1.2h-1.2zM65.7 37.6h1.0v1.0h-1.0z" fill="#909090"/><path d="M45.4 69.6h1.2v1.2h-1.2zM77.9 23.3h0.8v0.8h-0.8zM42.8 100.5h1.1v1.1h-1.1zM47.5 66.9h1.2v1.2h-1.2zM55.2 48.8h0.9v0.9h-0.9zM39.6 85.8h1.3v1.3h-1.3zM52.3 57.5h0.7v0.7h-0.7z" fill="#ffffff"/><path d="M64.9 33.2h1.2v1.2h-1.2zM38.0 102.8h1.2v1.2h-1.2zM43.9 74.5h1.2v1.2h-1.2zM59.3 78.5h1.0v1.0h-1.0zM64.7 52.8h1.0v1.0h-1.0zM80.8 14.8h1.2v1.2h-1.2zM37.8 99.6h1.3v1.3h-1.3zM39.3 89.6h1.2v1.2h-1.2zM38.4 117.6h1.0v1.0h-1.0zM82.0 28.5h1.2v1.2h-1.2zM47.6 52.7h0.6v0.6h-0.6zM67.8 50.1h0.8v0.8h-0.8zM63.7 40.0h1.0v1.0h-1.0zM68.7 29.9h0.9v0.9h-0.9zM75.6 18.0h0.6v0.6h-0.6zM39.0 102.9h1.2v1.2h-1.2zM40.4 102.1h0.9v0.9h-0.9zM51.2 55.0h1.0v1.0h-1.0zM59.0 101.8h1.2v1.2h-1.2zM84.6 12.7h0.8v0.8h-0.8zM42.8 88.8h0.9v0.9h-0.9zM57.0 110.6h0.8v0.8h-0.8zM62.2 37.7h1.0v1.0h-1.0zM52.6 58.1h1.2v1.2h-1.2zM40.5 69.0h0.9v0.9h-0.9zM85.2 12.7h0.9v0.9h-0.9zM55.5 116.1h0.7v0.7h-0.7zM80.2 18.9h0.9v0.9h-0.9zM71.7 24.6h0.8v0.8h-0.8zM58.1 92.7h1.3v1.3h-1.3zM59.9 38.3h1.1v1.1h-1.1zM84.5 26.9h0.8v0.8h-0.8zM38.0 106.5h1.2v1.2h-1.2zM46.6 55.7h1.1v1.1h-1.1zM71.4 23.6h0.7v0.7h-0.7zM56.8 48.6h0.7v0.7h-0.7zM39.1 117.2h1.1v1.1h-1.1zM42.0 77.3h0.6v0.6h-0.6zM80.0 35.2h0.9v0.9h-0.9zM66.1 30.3h1.2v1.2h-1.2zM70.6 46.3h0.7v0.7h-0.7zM80.5 17.0h0.8v0.8h-0.8zM91.7 17.1h1.0v1.0h-1.0zM41.7 80.3h1.1v1.1h-1.1zM92.6 11.4h1.0v1.0h-1.0zM40.1 92.9h0.8v0.8h-0.8zM43.5 74.2h0.9v0.9h-0.9zM39.3 91.2h1.1v1.1h-1.1zM56.1 38.5h0.6v0.6h-0.6zM55.6 117.7h0.7v0.7h-0.7zM47.1 65.7h1.2v1.2h-1.2zM92.1 17.4h1.3v1.3h-1.3zM79.6 17.3h0.9v0.9h-0.9zM73.4 19.6h1.2v1.2h-1.2zM53.8 53.7h0.9v0.9h-0.9zM37.4 99.8h0.9v0.9h-0.9zM59.1 58.1h0.6v0.6h-0.6zM58.5 73.2h0.8v0.8h-0.8zM65.9 52.8h0.8v0.8h-0.8zM75.5 25.5h0.6v0.6h-0.6z" fill="#a8a8a8"/><path d="M58.6 81.5h0.9v0.9h-0.9zM50.9 46.5h0.8v0.8h-0.8zM52.5 49.2h1.1v1.1h-1.1zM46.9 68.3h1.0v1.0h-1.0zM59.4 74.4h0.8v0.8h-0.8zM59.6 46.3h0.7v0.7h-0.7zM45.1 66.7h0.7v0.7h-0.7zM85.6 13.6h1.2v1.2h-1.2zM58.3 49.1h1.0v1.0h-1.0zM46.7 69.1h0.7v0.7h-0.7zM58.6 50.6h1.2v1.2h-1.2zM58.8 108.0h0.6v0.6h-0.6zM42.6 114.6h1.3v1.3h-1.3zM50.5 57.5h0.8v0.8h-0.8zM69.1 47.2h0.9v0.9h-0.9zM72.9 31.2h1.0v1.0h-1.0zM60.5 70.8h1.3v1.3h-1.3zM57.5 85.2h0.8v0.8h-0.8zM38.0 82.9h1.3v1.3h-1.3zM61.5 65.2h1.2v1.2h-1.2zM38.7 104.2h1.1v1.1h-1.1zM78.4 37.6h1.1v1.1h-1.1zM58.7 52.2h0.9v0.9h-0.9zM65.3 43.5h1.2v1.2h-1.2zM36.9 99.9h0.8v0.8h-0.8zM58.4 86.6h0.9v0.9h-0.9zM40.3 107.1h1.0v1.0h-1.0zM63.3 51.3h1.0v1.0h-1.0zM61.1 46.9h0.8v0.8h-0.8zM44.4 62.7h1.1v1.1h-1.1zM40.9 85.6h0.7v0.7h-0.7zM59.3 53.6h1.2v1.2h-1.2zM83.0 13.8h0.9v0.9h-0.9zM38.9 74.5h1.2v1.2h-1.2zM56.7 51.7h0.8v0.8h-0.8zM40.1 102.7h1.2v1.2h-1.2zM62.0 36.0h0.8v0.8h-0.8zM65.4 32.7h0.7v0.7h-0.7zM81.9 31.4h1.0v1.0h-1.0zM73.8 20.2h0.9v0.9h-0.9zM42.8 74.2h0.9v0.9h-0.9zM84.0 29.9h0.9v0.9h-0.9zM42.5 94.6h0.7v0.7h-0.7zM49.9 50.3h0.8v0.8h-0.8z" fill="#606060"/><path d="M39.5 84.5h1.2v1.2h-1.2zM83.1 30.3h0.6v0.6h-0.6zM93.4 10.1h1.1v1.1h-1.1zM87.0 21.4h0.9v0.9h-0.9zM38.5 80.6h1.0v1.0h-1.0zM41.8 109.0h1.3v1.3h-1.3zM49.8 58.7h0.7v0.7h-0.7zM85.8 23.0h0.8v0.8h-0.8zM65.6 29.5h0.6v0.6h-0.6zM45.3 68.6h0.6v0.6h-0.6zM58.5 44.3h0.9v0.9h-0.9zM40.3 91.0h0.6v0.6h-0.6zM88.3 22.6h1.2v1.2h-1.2zM38.9 102.9h1.1v1.1h-1.1zM43.9 69.6h0.6v0.6h-0.6zM84.6 12.2h0.6v0.6h-0.6zM44.3 70.2h1.2v1.2h-1.2zM62.5 56.7h1.2v1.2h-1.2zM39.1 73.7h0.9v0.9h-0.9z" fill="#000000"/></g><g filter="url(#b04)"><path d="M51.4 101.8h0.6v0.6h-0.6zM47.6 82.2h1.0v1.0h-1.0zM47.4 114.9h0.8v0.8h-0.8z" fill="#606060"/><path d="M83.8 23.9h0.8v0.8h-0.8zM48.9 111.3h0.8v0.8h-0.8zM77.9 28.0h1.0v1.0h-1.0zM75.4 31.0h0.7v0.7h-0.7zM50.4 97.4h0.6v0.6h-0.6zM47.1 88.2h0.8v0.8h-0.8z" fill="#787878"/><path d="M58.0 61.6h1.0v1.0h-1.0zM45.7 98.8h0.8v0.8h-0.8zM50.1 107.7h0.9v0.9h-0.9z" fill="#484848"/></g></g>
<clipPath id="cp4"><rect x="0" y="0" width="119" height="119"/></clipPath><g transform="translate(24,160)" clip-path="url(#cp4)"><rect x="0" y="0" width="119" height="119" fill="#000"/><path d="M5.3 11.4 C5.5 14.2 7.7 20.2 9.0 25.0 C10.3 29.8 11.6 35.4 13.0 40.0 C14.4 44.6 15.5 47.5 17.5 52.5 C19.5 57.5 22.1 64.2 25.0 70.0 C27.9 75.8 31.5 81.9 35.0 87.6 C38.5 93.3 41.9 98.4 46.0 104.0 C50.1 109.6 50.8 118.2 59.5 121.0 C68.2 123.8 93.8 124.5 98.0 121.0 C102.2 117.5 89.7 107.0 85.0 100.0 C80.3 93.0 74.2 84.8 70.0 78.8 C65.8 72.8 62.8 67.8 60.0 64.0 C57.2 60.2 54.7 57.7 53.0 56.0 C51.3 54.3 51.5 56.3 50.0 54.0 C48.5 51.7 46.5 46.6 44.0 42.0 C41.5 37.4 38.2 30.8 35.0 26.3 C31.8 21.8 28.2 18.2 25.0 15.0 C21.8 11.8 18.0 8.5 15.8 7.0 C13.6 5.5 13.3 5.8 12.0 6.0 C10.7 6.2 9.1 7.1 8.0 8.0 C6.9 8.9 5.1 8.6 5.3 11.4 Z" fill="rgb(45,45,45)" filter="url(#b1)"/><path d="M15.0 8.0 C17.0 8.8 22.5 13.3 26.0 17.0 C29.5 20.7 32.7 25.3 36.0 30.0 C39.3 34.7 43.3 40.7 46.0 45.0 C48.7 49.3 52.2 53.8 52.0 56.0 C51.8 58.2 47.7 59.7 45.0 58.0 C42.3 56.3 38.8 50.3 36.0 46.0 C33.2 41.7 30.7 36.3 28.0 32.0 C25.3 27.7 22.3 23.3 20.0 20.0 C17.7 16.7 14.8 14.0 14.0 12.0 C13.2 10.0 13.0 7.2 15.0 8.0 Z" fill="rgb(100,100,100)" filter="url(#b2)"/><path d="M6.0 13.0 C6.5 12.7 9.3 22.7 11.0 28.0 C12.7 33.3 13.8 39.7 16.0 45.0 C18.2 50.3 21.8 56.2 24.0 60.0 C26.2 63.8 29.0 66.7 29.0 68.0 C29.0 69.3 26.3 71.0 24.0 68.0 C21.7 65.0 17.7 56.3 15.0 50.0 C12.3 43.7 9.5 36.2 8.0 30.0 C6.5 23.8 5.5 13.3 6.0 13.0 Z" fill="rgb(80,80,80)" filter="url(#b2)"/><path d="M28.0 70.0 C29.0 69.7 34.7 75.3 38.0 80.0 C41.3 84.7 44.7 92.7 48.0 98.0 C51.3 103.3 57.3 109.3 58.0 112.0 C58.7 114.7 54.7 116.3 52.0 114.0 C49.3 111.7 45.3 103.3 42.0 98.0 C38.7 92.7 34.3 86.7 32.0 82.0 C29.7 77.3 27.0 70.3 28.0 70.0 Z" fill="rgb(70,70,70)" filter="url(#b2)"/><path d="M13.0 9.0 C13.8 11.7 16.2 19.5 18.0 25.0 C19.8 30.5 21.7 36.5 24.0 42.0 C26.3 47.5 29.3 53.0 32.0 58.0 C34.7 63.0 38.7 69.7 40.0 72.0" stroke="rgb(18,18,18)" stroke-width="1.8" fill="none" filter="url(#b1)"/><ellipse cx="51" cy="77" rx="3.5" ry="4" fill="rgb(10,10,10)" filter="url(#b1)"/><ellipse cx="59" cy="86" rx="4" ry="4" fill="rgb(12,12,12)" filter="url(#b1)"/><ellipse cx="71" cy="93" rx="4.5" ry="3" fill="rgb(150,150,150)" filter="url(#b1)"/><ellipse cx="57" cy="71" rx="3.5" ry="2" fill="rgb(130,130,130)" filter="url(#b1)"/><path d="M42.0 75.0 C44.2 78.3 50.7 88.8 55.0 95.0 C59.3 101.2 64.7 107.7 68.0 112.0 C71.3 116.3 73.8 119.5 75.0 121.0" stroke="rgb(14,14,14)" stroke-width="3" fill="none" filter="url(#b1)"/><path d="M62.0 98.0 C64.2 100.0 71.2 106.2 75.0 110.0 C78.8 113.8 83.3 119.2 85.0 121.0" stroke="rgb(14,14,14)" stroke-width="2.5" fill="none" filter="url(#b1)"/><path d="M50.0 95.0 C52.0 97.5 58.7 105.7 62.0 110.0 C65.3 114.3 68.7 119.2 70.0 121.0" stroke="rgb(80,80,80)" stroke-width="1.5" fill="none" filter="url(#b1)"/><path d="M5.3 11.4 C5.9 13.7 7.7 20.2 9.0 25.0 C10.3 29.8 11.6 35.4 13.0 40.0 C14.4 44.6 15.5 47.5 17.5 52.5 C19.5 57.5 22.1 64.2 25.0 70.0 C27.9 75.8 31.5 81.9 35.0 87.6 C38.5 93.3 41.9 98.4 46.0 104.0 C50.1 109.6 57.2 118.2 59.5 121.0" stroke="rgb(100,100,100)" stroke-width="1.5" fill="none" filter="url(#b05)"/><path d="M98.0 121.0 C95.8 117.5 89.7 107.0 85.0 100.0 C80.3 93.0 74.2 84.8 70.0 78.8 C65.8 72.8 62.8 67.8 60.0 64.0 C57.2 60.2 54.7 57.7 53.0 56.0 C51.3 54.3 51.5 56.3 50.0 54.0 C48.5 51.7 46.5 46.6 44.0 42.0 C41.5 37.4 38.2 30.8 35.0 26.3 C31.8 21.8 28.2 18.2 25.0 15.0 C21.8 11.8 17.3 8.3 15.8 7.0" stroke="rgb(95,95,95)" stroke-width="1.5" fill="none" filter="url(#b05)"/><g filter="url(#b04)"><path d="M44.6 46.9h1.3v1.3h-1.3zM35.9 45.3h1.3v1.3h-1.3zM43.8 49.2h1.2v1.2h-1.2z" fill="#a8a8a8"/><path d="M35.6 42.1h1.3v1.3h-1.3zM36.6 41.0h1.3v1.3h-1.3z" fill="#c0c0c0"/><path d="M36.8 40.6h0.8v0.8h-0.8z" fill="#d8d8d8"/></g><g filter="url(#b04)"><path d="M52.5 71.4h0.9v0.9h-0.9zM57.1 72.5h1.4v1.4h-1.4z" fill="#a8a8a8"/><path d="M48.3 69.2h1.0v1.0h-1.0z" fill="#c0c0c0"/></g><g filter="url(#b04)"><path d="M48.6 64.5h1.1v1.1h-1.1zM8.3 11.3h1.2v1.2h-1.2zM56.8 109.1h0.7v0.7h-0.7zM80.2 97.2h0.9v0.9h-0.9zM35.0 76.8h0.8v0.8h-0.8zM32.6 81.9h1.0v1.0h-1.0zM37.0 63.7h0.7v0.7h-0.7zM59.7 76.0h0.8v0.8h-0.8zM66.9 102.1h1.2v1.2h-1.2zM29.5 32.7h0.7v0.7h-0.7zM48.1 94.8h1.0v1.0h-1.0zM45.0 54.5h1.1v1.1h-1.1zM57.2 76.3h0.7v0.7h-0.7zM26.8 51.1h0.6v0.6h-0.6zM62.5 109.3h0.7v0.7h-0.7zM73.2 117.5h0.9v0.9h-0.9zM46.4 76.3h0.8v0.8h-0.8zM45.2 92.2h1.0v1.0h-1.0zM36.9 61.2h1.2v1.2h-1.2zM37.2 40.2h0.8v0.8h-0.8zM41.0 77.1h0.8v0.8h-0.8zM85.3 108.2h1.0v1.0h-1.0zM49.1 90.8h0.9v0.9h-0.9zM57.7 61.6h0.8v0.8h-0.8zM54.2 82.5h0.6v0.6h-0.6zM58.4 104.7h0.8v0.8h-0.8zM72.2 83.7h0.8v0.8h-0.8zM86.1 114.9h0.9v0.9h-0.9zM55.2 102.3h1.0v1.0h-1.0zM72.2 101.8h0.8v0.8h-0.8z" fill="#484848"/><path d="M45.0 48.2h1.0v1.0h-1.0zM74.4 115.4h0.6v0.6h-0.6zM61.0 102.9h1.0v1.0h-1.0zM29.8 27.6h1.0v1.0h-1.0zM21.3 53.6h1.1v1.1h-1.1zM38.6 84.5h1.1v1.1h-1.1zM32.7 27.6h1.1v1.1h-1.1zM38.8 75.4h0.9v0.9h-0.9zM34.3 71.3h1.1v1.1h-1.1zM21.2 51.5h0.9v0.9h-0.9zM37.3 61.6h0.8v0.8h-0.8zM16.5 12.3h1.1v1.1h-1.1zM58.0 104.7h0.9v0.9h-0.9zM24.7 14.9h0.7v0.7h-0.7zM74.1 102.0h1.1v1.1h-1.1zM54.8 100.5h1.2v1.2h-1.2zM59.5 74.6h1.1v1.1h-1.1zM35.4 85.6h0.9v0.9h-0.9zM47.7 77.3h1.0v1.0h-1.0zM9.4 24.2h1.0v1.0h-1.0zM80.2 108.2h0.7v0.7h-0.7zM74.8 107.5h0.6v0.6h-0.6zM58.8 62.9h1.2v1.2h-1.2z" fill="#606060"/><path d="M27.8 54.2h1.1v1.1h-1.1zM18.7 26.6h0.6v0.6h-0.6zM63.5 98.2h0.7v0.7h-0.7zM38.3 70.7h0.8v0.8h-0.8zM77.6 90.2h0.8v0.8h-0.8zM78.3 114.5h0.8v0.8h-0.8zM58.4 76.9h0.9v0.9h-0.9zM48.8 89.8h0.7v0.7h-0.7zM82.2 114.2h0.7v0.7h-0.7zM24.5 44.3h1.1v1.1h-1.1zM49.4 81.2h0.9v0.9h-0.9zM46.5 89.0h1.1v1.1h-1.1zM50.3 77.7h0.7v0.7h-0.7zM33.9 29.5h0.6v0.6h-0.6zM9.5 7.3h1.0v1.0h-1.0zM44.9 98.0h0.8v0.8h-0.8zM13.1 40.3h0.8v0.8h-0.8zM81.1 118.7h0.8v0.8h-0.8zM28.4 32.5h0.7v0.7h-0.7zM32.1 79.7h0.9v0.9h-0.9zM66.6 96.1h1.0v1.0h-1.0zM20.1 38.4h0.6v0.6h-0.6zM9.0 20.5h0.8v0.8h-0.8zM74.3 89.4h1.2v1.2h-1.2zM36.3 43.0h1.1v1.1h-1.1z" fill="#787878"/><path d="M35.7 48.0h0.9v0.9h-0.9zM77.5 108.5h0.7v0.7h-0.7zM32.3 49.1h0.7v0.7h-0.7zM38.0 38.7h0.9v0.9h-0.9zM66.4 99.1h0.9v0.9h-0.9zM51.7 82.4h0.8v0.8h-0.8zM70.3 80.1h1.2v1.2h-1.2zM47.7 75.5h1.0v1.0h-1.0zM20.9 53.9h0.7v0.7h-0.7zM44.2 98.1h1.2v1.2h-1.2zM51.4 70.2h1.1v1.1h-1.1zM41.3 78.3h0.8v0.8h-0.8z" fill="#909090"/></g></g>
<clipPath id="cp5"><rect x="0" y="0" width="119" height="119"/></clipPath><g transform="translate(144,160)" clip-path="url(#cp5)"><rect x="0" y="0" width="119" height="119" fill="#000"/><path d="M-2.0 48.5 C0.8 47.0 8.8 44.2 15.0 42.0 C21.2 39.8 28.3 37.1 35.0 35.0 C41.7 32.9 49.2 30.9 55.0 29.5 C60.8 28.1 63.3 27.6 70.0 26.3 C76.7 25.1 86.5 23.2 95.0 22.0 C103.5 20.8 116.7 17.9 121.0 19.3 C125.3 20.7 125.3 28.5 121.0 30.6 C116.7 32.7 103.5 31.3 95.0 32.0 C86.5 32.7 77.5 33.3 70.0 35.0 C62.5 36.7 55.8 40.0 50.0 42.0 C44.2 44.0 40.8 46.0 35.0 47.3 C29.2 48.6 21.2 49.4 15.0 50.0 C8.8 50.6 0.8 51.2 -2.0 51.0 C-4.8 50.8 -4.8 50.0 -2.0 48.5 Z" fill="rgb(55,55,55)" filter="url(#b05)"/><path d="M-2.0 53.5 C1.7 52.6 10.9 52.8 20.0 52.5 C29.1 52.2 40.8 52.1 52.5 51.7 C64.2 51.3 78.6 50.5 90.0 50.0 C101.4 49.5 115.8 47.7 121.0 49.0 C126.2 50.3 126.2 56.2 121.0 57.8 C115.8 59.4 101.4 58.2 90.0 58.5 C78.6 58.8 64.2 59.4 52.5 59.5 C40.8 59.6 29.1 59.2 20.0 59.0 C10.9 58.8 1.7 58.9 -2.0 58.0 C-5.7 57.1 -5.7 54.4 -2.0 53.5 Z" fill="rgb(55,55,55)" filter="url(#b05)"/><path d="M-2.0 48.5 C0.8 47.4 8.8 44.2 15.0 42.0 C21.2 39.8 28.3 37.1 35.0 35.0 C41.7 32.9 49.2 30.9 55.0 29.5 C60.8 28.1 63.3 27.6 70.0 26.3 C76.7 25.1 86.5 23.2 95.0 22.0 C103.5 20.8 116.7 19.8 121.0 19.3" stroke="rgb(90,90,90)" stroke-width="1.2" fill="none" filter="url(#b05)"/><path d="M121.0 57.8 C115.8 57.9 101.4 58.2 90.0 58.5 C78.6 58.8 64.2 59.4 52.5 59.5 C40.8 59.6 29.1 59.2 20.0 59.0 C10.9 58.8 1.7 58.2 -2.0 58.0" stroke="rgb(85,85,85)" stroke-width="1.2" fill="none" filter="url(#b05)"/><path d="M70.0 36.0 C70.3 37.0 71.8 40.0 72.0 42.0 C72.2 44.0 71.2 47.0 71.0 48.0" stroke="rgb(40,40,40)" stroke-width="1.5" fill="none" filter="url(#b1)"/><g filter="url(#b04)"><path d="M22.0 43.3h1.0v1.0h-1.0zM102.4 25.4h1.0v1.0h-1.0zM25.7 43.0h1.4v1.4h-1.4zM95.4 28.4h1.1v1.1h-1.1zM12.0 44.8h0.8v0.8h-0.8zM28.7 43.8h1.3v1.3h-1.3zM20.8 47.3h0.9v0.9h-0.9zM46.8 36.2h1.3v1.3h-1.3zM74.0 26.4h1.3v1.3h-1.3zM84.5 32.2h1.1v1.1h-1.1zM6.6 49.9h0.8v0.8h-0.8zM19.0 41.3h1.1v1.1h-1.1zM67.5 30.4h1.2v1.2h-1.2zM65.0 27.5h1.2v1.2h-1.2zM105.0 25.8h1.4v1.4h-1.4zM47.0 35.2h1.0v1.0h-1.0zM49.2 35.5h1.3v1.3h-1.3zM44.2 37.8h0.8v0.8h-0.8zM72.2 34.2h1.2v1.2h-1.2zM56.0 31.2h1.3v1.3h-1.3z" fill="#d8d8d8"/><path d="M71.2 30.7h0.8v0.8h-0.8zM92.7 30.8h1.2v1.2h-1.2zM21.2 49.0h0.8v0.8h-0.8zM90.2 25.9h1.2v1.2h-1.2zM73.3 27.6h0.7v0.7h-0.7zM50.3 41.3h1.1v1.1h-1.1zM25.5 48.4h1.3v1.3h-1.3zM24.1 47.0h0.8v0.8h-0.8zM40.5 40.7h0.9v0.9h-0.9zM22.5 45.7h1.2v1.2h-1.2zM40.7 33.6h0.9v0.9h-0.9zM81.1 25.0h0.9v0.9h-0.9zM87.8 27.3h0.9v0.9h-0.9zM111.0 25.2h0.8v0.8h-0.8zM69.5 31.2h1.3v1.3h-1.3zM118.2 27.4h1.2v1.2h-1.2z" fill="#f0f0f0"/><path d="M118.5 24.9h1.0v1.0h-1.0zM100.3 27.1h1.1v1.1h-1.1zM72.8 33.3h1.1v1.1h-1.1zM36.9 39.5h1.1v1.1h-1.1zM92.4 29.2h1.2v1.2h-1.2zM51.2 34.3h1.0v1.0h-1.0zM28.2 46.1h1.2v1.2h-1.2zM12.8 42.9h0.7v0.7h-0.7zM86.5 32.0h0.8v0.8h-0.8zM14.9 44.4h1.0v1.0h-1.0z" fill="#c0c0c0"/><path d="M27.4 40.1h0.8v0.8h-0.8zM97.5 31.0h1.4v1.4h-1.4zM46.1 33.4h1.3v1.3h-1.3zM39.6 38.8h0.9v0.9h-0.9zM104.5 31.1h1.0v1.0h-1.0z" fill="#909090"/><path d="M111.0 29.2h0.8v0.8h-0.8zM71.4 29.0h0.8v0.8h-0.8z" fill="#ffffff"/><path d="M62.1 28.0h1.3v1.3h-1.3zM96.5 22.6h1.1v1.1h-1.1zM116.0 21.8h0.8v0.8h-0.8zM61.7 33.2h1.2v1.2h-1.2zM41.1 40.6h1.1v1.1h-1.1zM66.7 28.4h1.1v1.1h-1.1zM99.1 26.7h1.2v1.2h-1.2zM83.8 28.1h1.4v1.4h-1.4zM42.2 41.8h0.9v0.9h-0.9zM106.4 21.1h1.0v1.0h-1.0zM32.9 47.2h0.8v0.8h-0.8z" fill="#a8a8a8"/><path d="M98.2 29.3h1.0v1.0h-1.0zM5.3 49.7h1.4v1.4h-1.4zM27.7 44.5h0.8v0.8h-0.8zM66.2 32.5h1.3v1.3h-1.3zM95.4 30.7h1.1v1.1h-1.1zM110.7 23.0h1.0v1.0h-1.0z" fill="#787878"/></g><g filter="url(#b04)"><path d="M18.8 53.6h0.9v0.9h-0.9zM87.3 58.3h1.1v1.1h-1.1zM74.4 53.8h0.9v0.9h-0.9zM53.8 59.2h0.9v0.9h-0.9zM31.8 53.9h0.8v0.8h-0.8zM49.0 58.0h0.8v0.8h-0.8zM115.4 52.9h1.2v1.2h-1.2zM109.9 55.0h0.9v0.9h-0.9zM48.7 56.0h0.7v0.7h-0.7zM81.8 51.3h1.3v1.3h-1.3zM43.5 56.3h1.1v1.1h-1.1z" fill="#a8a8a8"/><path d="M44.5 58.0h1.0v1.0h-1.0zM80.3 52.8h0.8v0.8h-0.8zM69.7 54.9h1.1v1.1h-1.1zM21.2 57.6h1.3v1.3h-1.3zM20.7 53.0h1.1v1.1h-1.1z" fill="#d8d8d8"/><path d="M24.1 55.6h1.1v1.1h-1.1zM115.8 49.5h0.9v0.9h-0.9zM63.1 57.1h0.9v0.9h-0.9zM27.5 58.8h1.0v1.0h-1.0zM27.8 54.8h0.9v0.9h-0.9zM44.6 59.1h1.0v1.0h-1.0z" fill="#909090"/><path d="M91.9 51.2h1.0v1.0h-1.0zM4.2 53.7h1.3v1.3h-1.3zM41.6 54.1h1.0v1.0h-1.0zM103.7 54.7h0.9v0.9h-0.9zM35.9 59.0h0.7v0.7h-0.7zM27.9 53.8h0.8v0.8h-0.8zM9.8 57.0h1.3v1.3h-1.3zM32.3 52.4h1.1v1.1h-1.1zM19.6 58.5h1.0v1.0h-1.0z" fill="#c0c0c0"/><path d="M51.6 58.6h0.7v0.7h-0.7zM66.5 56.9h1.3v1.3h-1.3z" fill="#f0f0f0"/><path d="M44.1 58.4h1.2v1.2h-1.2zM26.3 53.4h1.0v1.0h-1.0zM41.0 54.3h1.2v1.2h-1.2zM107.7 51.1h1.3v1.3h-1.3zM111.9 55.1h1.0v1.0h-1.0zM47.2 54.1h1.2v1.2h-1.2zM16.0 58.4h0.8v0.8h-0.8z" fill="#787878"/></g></g>
<clipPath id="cp6"><rect x="0" y="0" width="118.7" height="119"/></clipPath><g transform="translate(264.3,160)" clip-path="url(#cp6)"><rect x="0" y="0" width="118.7" height="119" fill="#000"/><path d="M-2.0 -2.0 C3.9 -4.2 24.6 -5.3 33.3 -2.0 C42.0 1.3 43.9 10.7 50.0 18.0 C56.1 25.3 64.3 35.0 70.0 42.0 C75.7 49.0 79.6 53.9 84.0 60.0 C88.4 66.1 93.0 73.5 96.3 78.8 C99.6 84.1 102.1 88.2 104.0 92.0 C105.9 95.8 107.5 99.6 107.7 101.6 C107.9 103.6 106.6 104.6 105.0 104.0 C103.4 103.4 100.9 100.5 98.0 98.0 C95.1 95.5 92.3 93.5 87.6 89.3 C82.9 85.1 75.8 78.2 70.0 73.0 C64.2 67.8 59.2 63.8 52.5 57.8 C45.8 51.8 39.1 44.8 30.0 37.0 C20.9 29.2 3.3 17.5 -2.0 11.0 C-7.3 4.5 -7.9 0.2 -2.0 -2.0 Z" fill="rgb(22,22,22)" filter="url(#b05)"/><path d="M16.0 -2.0 C15.8 -4.7 27.3 -5.3 33.0 -2.0 C38.7 1.3 43.8 10.7 50.0 18.0 C56.2 25.3 64.3 35.0 70.0 42.0 C75.7 49.0 79.7 53.9 84.0 60.0 C88.3 66.1 92.8 73.5 96.0 78.8 C99.2 84.1 102.3 89.3 103.0 92.0 C103.7 94.7 102.2 96.3 100.0 95.0 C97.8 93.7 94.0 88.8 90.0 84.0 C86.0 79.2 80.7 72.0 76.0 66.0 C71.3 60.0 66.7 54.0 62.0 48.0 C57.3 42.0 52.7 35.7 48.0 30.0 C43.3 24.3 39.3 19.3 34.0 14.0 C28.7 8.7 16.2 0.7 16.0 -2.0 Z" fill="rgb(95,95,95)" filter="url(#b1)"/><path d="M-2.0 14.0 C2.5 17.5 15.9 27.3 25.0 35.0 C34.1 42.7 47.9 55.8 52.5 60.0" stroke="rgb(50,50,50)" stroke-width="1.2" fill="none" filter="url(#b05)"/><path d="M-2.0 12.0 C3.3 16.2 20.9 29.8 30.0 37.5 C39.1 45.2 45.8 52.0 52.5 58.0 C59.2 64.0 64.2 68.2 70.0 73.5 C75.8 78.8 82.9 85.4 87.6 89.6 C92.3 93.8 95.1 96.1 98.0 98.5 C100.9 100.9 103.8 103.1 105.0 104.0" stroke="rgb(110,110,110)" stroke-width="1.2" fill="none" filter="url(#b05)"/><path d="M33.3 -2.0 C36.1 1.3 43.9 10.7 50.0 18.0 C56.1 25.3 64.3 35.0 70.0 42.0 C75.7 49.0 79.6 53.9 84.0 60.0 C88.4 66.1 93.0 73.5 96.3 78.8 C99.6 84.1 102.1 88.2 104.0 92.0 C105.9 95.8 107.1 100.0 107.7 101.6" stroke="rgb(130,130,130)" stroke-width="1.2" fill="none" filter="url(#b05)"/><g filter="url(#b04)"><path d="M47.0 17.1h1.2v1.2h-1.2zM68.7 45.0h0.8v0.8h-0.8zM74.8 57.0h1.2v1.2h-1.2zM34.3 5.2h1.1v1.1h-1.1zM69.6 51.2h0.9v0.9h-0.9zM91.2 81.4h1.2v1.2h-1.2zM74.9 56.8h0.7v0.7h-0.7zM60.6 35.1h1.3v1.3h-1.3zM34.9 11.2h1.0v1.0h-1.0zM67.5 39.2h0.8v0.8h-0.8z" fill="#a8a8a8"/><path d="M92.8 81.0h1.0v1.0h-1.0zM41.5 14.2h0.7v0.7h-0.7zM96.6 81.5h0.8v0.8h-0.8zM94.2 84.5h1.1v1.1h-1.1zM46.4 19.1h0.7v0.7h-0.7zM82.5 64.5h0.9v0.9h-0.9zM34.6 13.6h0.9v0.9h-0.9zM19.7 0.3h1.1v1.1h-1.1zM48.1 27.5h1.0v1.0h-1.0zM57.4 35.5h1.0v1.0h-1.0zM85.6 70.6h0.8v0.8h-0.8zM96.0 82.5h0.9v0.9h-0.9zM63.0 40.2h1.3v1.3h-1.3z" fill="#d8d8d8"/><path d="M51.3 24.2h0.8v0.8h-0.8zM83.4 71.8h0.9v0.9h-0.9zM88.0 75.3h1.0v1.0h-1.0zM56.1 34.5h0.9v0.9h-0.9zM82.1 65.6h1.3v1.3h-1.3zM72.2 47.2h1.2v1.2h-1.2zM41.7 13.0h0.8v0.8h-0.8zM57.2 34.3h1.0v1.0h-1.0zM40.5 17.6h0.8v0.8h-0.8zM92.8 79.6h0.8v0.8h-0.8zM56.7 40.3h1.1v1.1h-1.1zM84.6 70.0h1.0v1.0h-1.0zM57.0 27.0h1.2v1.2h-1.2zM92.9 74.0h0.9v0.9h-0.9zM94.7 81.2h1.0v1.0h-1.0z" fill="#909090"/><path d="M36.2 9.4h0.9v0.9h-0.9zM85.6 66.0h1.1v1.1h-1.1zM52.5 25.0h0.8v0.8h-0.8zM89.4 72.4h0.9v0.9h-0.9zM80.8 60.1h0.8v0.8h-0.8zM29.5 0.9h0.8v0.8h-0.8zM32.6 6.4h1.0v1.0h-1.0zM66.8 49.6h1.0v1.0h-1.0zM60.5 36.4h0.9v0.9h-0.9zM86.5 66.6h1.0v1.0h-1.0z" fill="#f0f0f0"/><path d="M41.8 17.1h0.9v0.9h-0.9zM40.1 15.6h1.1v1.1h-1.1zM64.3 45.9h1.2v1.2h-1.2zM64.8 36.2h1.2v1.2h-1.2zM38.1 6.0h1.1v1.1h-1.1zM59.3 29.2h1.2v1.2h-1.2zM42.6 21.1h0.7v0.7h-0.7zM48.7 19.9h1.1v1.1h-1.1zM59.4 42.1h1.1v1.1h-1.1z" fill="#c0c0c0"/><path d="M97.5 89.9h1.0v1.0h-1.0zM47.2 17.7h1.0v1.0h-1.0zM39.5 7.8h1.2v1.2h-1.2z" fill="#ffffff"/></g><g filter="url(#b04)"><path d="M37.5 39.0h0.9v0.9h-0.9zM4.3 14.0h0.7v0.7h-0.7zM12.3 21.5h0.6v0.6h-0.6zM68.0 70.8h0.8v0.8h-0.8zM47.6 47.9h0.7v0.7h-0.7zM63.5 66.2h0.9v0.9h-0.9z" fill="#a8a8a8"/><path d="M17.3 21.8h1.1v1.1h-1.1zM28.8 34.5h1.1v1.1h-1.1z" fill="#606060"/><path d="M31.0 34.2h0.8v0.8h-0.8zM55.8 59.7h0.9v0.9h-0.9zM13.8 20.4h1.1v1.1h-1.1zM46.2 49.6h1.1v1.1h-1.1z" fill="#787878"/><path d="M5.1 15.3h0.8v0.8h-0.8zM68.9 71.9h0.6v0.6h-0.6zM52.1 56.1h1.1v1.1h-1.1z" fill="#909090"/></g><text x="107" y="108.5" font-size="6.5" font-weight="bold" text-anchor="middle" fill="#fff">20μm</text><rect x="98" y="113.5" width="18" height="3" fill="#fff"/></g>
<clipPath id="cp7"><rect x="0" y="0" width="116" height="116"/></clipPath><g transform="translate(29,314)" clip-path="url(#cp7)"><rect x="0" y="0" width="116" height="116" fill="#000"/><path d="M-2.0 0.0 C1.7 -3.7 13.0 9.0 20.0 14.0 C27.0 19.0 34.9 25.8 40.0 30.0 C45.1 34.2 46.1 35.2 50.8 39.0 C55.5 42.8 62.4 48.2 68.0 53.0 C73.7 57.8 79.9 63.0 84.7 67.8 C89.5 72.6 93.3 77.5 97.0 82.0 C100.7 86.5 105.4 92.2 106.7 94.9 C108.0 97.6 107.8 99.1 105.0 98.3 C102.2 97.5 94.8 92.8 90.0 90.0 C85.2 87.2 81.2 84.6 76.2 81.3 C71.2 78.0 65.7 74.2 60.0 70.0 C54.4 65.8 49.0 60.1 42.3 55.9 C35.6 51.7 27.4 48.3 20.0 45.0 C12.6 41.7 1.7 43.5 -2.0 36.0 C-5.7 28.5 -5.7 3.7 -2.0 0.0 Z" fill="rgb(14,14,14)" filter="url(#b1)"/><path d="M45.0 60.0 C45.0 57.2 55.0 54.2 60.0 55.0 C65.0 55.8 70.8 61.2 75.0 65.0 C79.2 68.8 85.0 75.5 85.0 78.0 C85.0 80.5 79.2 81.0 75.0 80.0 C70.8 79.0 65.0 75.3 60.0 72.0 C55.0 68.7 45.0 62.8 45.0 60.0 Z" fill="rgb(30,30,30)" filter="url(#b2)"/><path d="M-2.0 0.0 C1.7 2.3 13.0 9.0 20.0 14.0 C27.0 19.0 34.9 25.8 40.0 30.0 C45.1 34.2 46.1 35.2 50.8 39.0 C55.5 42.8 62.4 48.2 68.0 53.0 C73.7 57.8 79.9 63.0 84.7 67.8 C89.5 72.6 93.3 77.5 97.0 82.0 C100.7 86.5 105.1 92.8 106.7 94.9" stroke="rgb(60,60,60)" stroke-width="1" fill="none" filter="url(#b05)"/><path d="M105.0 98.3 C102.5 96.9 94.8 92.8 90.0 90.0 C85.2 87.2 81.2 84.6 76.2 81.3 C71.2 78.0 65.7 74.2 60.0 70.0 C54.4 65.8 49.0 60.1 42.3 55.9 C35.6 51.7 27.4 48.3 20.0 45.0 C12.6 41.7 1.7 37.5 -2.0 36.0" stroke="rgb(55,55,55)" stroke-width="1" fill="none" filter="url(#b05)"/><path d="M2.0 10.0 C4.2 12.0 10.7 17.8 15.0 22.0 C19.3 26.2 25.8 32.8 28.0 35.0" stroke="rgb(35,35,35)" stroke-width="1" fill="none" filter="url(#b1)"/><ellipse cx="50" cy="67" rx="2" ry="1.5" fill="rgb(240,240,240)" filter="url(#b05)"/><g filter="url(#b04)"></g><g filter="url(#b04)"><path d="M13.6 17.6h0.9v0.9h-0.9zM17.8 15.5h1.0v1.0h-1.0zM17.8 18.3h0.9v0.9h-0.9z" fill="#787878"/></g><g filter="url(#b04)"><path d="M37.5 36.0h0.7v0.7h-0.7zM87.8 77.1h1.0v1.0h-1.0zM16.1 19.8h0.8v0.8h-0.8zM12.6 25.9h1.1v1.1h-1.1z" fill="#484848"/><path d="M76.7 64.8h0.8v0.8h-0.8zM66.2 68.8h1.1v1.1h-1.1zM8.3 36.7h1.0v1.0h-1.0zM5.9 6.5h1.1v1.1h-1.1zM95.6 93.0h1.0v1.0h-1.0zM100.4 93.8h0.8v0.8h-0.8zM41.4 44.4h0.8v0.8h-0.8zM32.5 24.4h1.0v1.0h-1.0zM37.7 46.3h1.0v1.0h-1.0zM25.1 19.7h1.1v1.1h-1.1z" fill="#606060"/><path d="M75.4 62.5h0.8v0.8h-0.8zM21.4 24.6h1.2v1.2h-1.2zM79.1 70.1h1.0v1.0h-1.0zM36.7 34.5h0.7v0.7h-0.7z" fill="#303030"/><path d="M81.3 71.2h1.0v1.0h-1.0zM1.3 6.8h1.0v1.0h-1.0z" fill="#787878"/></g></g>
<clipPath id="cp8"><rect x="0" y="0" width="116" height="116"/></clipPath><g transform="translate(29,434)" clip-path="url(#cp8)"><rect x="0" y="0" width="116" height="116" fill="#000"/><path d="M88.0 -2.0 C81.7 -0.3 82.7 4.3 80.0 8.0 C77.3 11.7 74.5 16.3 72.0 20.0 C69.5 23.7 67.2 26.9 65.0 30.0 C62.8 33.1 61.2 34.8 59.0 38.5 C56.8 42.2 54.3 47.4 52.0 52.0 C49.7 56.6 47.2 60.8 45.0 66.0 C42.8 71.2 40.5 77.3 38.5 83.0 C36.5 88.7 34.5 94.2 33.0 100.0 C31.5 105.8 25.8 115.0 29.6 118.0 C33.4 121.0 51.3 120.2 56.0 118.0 C60.7 115.8 57.0 109.9 58.0 105.0 C59.0 100.1 60.7 94.3 62.0 88.8 C63.3 83.3 64.0 77.0 66.0 72.0 C68.0 67.0 70.8 63.2 74.0 59.0 C77.2 54.8 81.1 50.9 85.0 47.0 C88.9 43.1 93.8 39.3 97.6 35.5 C101.4 31.7 104.6 27.9 108.0 24.0 C111.4 20.1 116.3 16.3 118.0 12.0 C119.7 7.7 123.0 0.3 118.0 -2.0 C113.0 -4.3 94.3 -3.7 88.0 -2.0 Z" fill="rgb(16,16,16)" filter="url(#b1)"/><path d="M88.0 -2.0 C86.7 -0.3 82.7 4.3 80.0 8.0 C77.3 11.7 74.5 16.3 72.0 20.0 C69.5 23.7 67.2 26.9 65.0 30.0 C62.8 33.1 61.2 34.8 59.0 38.5 C56.8 42.2 54.3 47.4 52.0 52.0 C49.7 56.6 47.2 60.8 45.0 66.0 C42.8 71.2 40.5 77.3 38.5 83.0 C36.5 88.7 34.5 94.2 33.0 100.0 C31.5 105.8 30.2 115.0 29.6 118.0" stroke="rgb(120,120,120)" stroke-width="1.4" fill="none" filter="url(#b05)"/><path d="M56.0 118.0 C56.3 115.8 57.0 109.9 58.0 105.0 C59.0 100.1 60.7 94.3 62.0 88.8 C63.3 83.3 64.0 77.0 66.0 72.0 C68.0 67.0 70.8 63.2 74.0 59.0 C77.2 54.8 81.1 50.9 85.0 47.0 C88.9 43.1 93.8 39.3 97.6 35.5 C101.4 31.7 104.6 27.9 108.0 24.0 C111.4 20.1 116.3 14.0 118.0 12.0" stroke="rgb(100,100,100)" stroke-width="1.3" fill="none" filter="url(#b05)"/><path d="M59.0 40.0 C58.8 41.3 57.7 45.5 58.0 48.0 C58.3 50.5 59.3 53.3 61.0 55.0 C62.7 56.7 65.5 58.2 68.0 58.0 C70.5 57.8 73.0 56.3 76.0 54.0 C79.0 51.7 82.3 47.5 86.0 44.0 C89.7 40.5 94.0 36.7 98.0 33.0 C102.0 29.3 106.8 24.8 110.0 22.0 C113.2 19.2 115.8 17.0 117.0 16.0" stroke="rgb(130,130,130)" stroke-width="1.4" fill="none" filter="url(#b05)"/><path d="M68.0 58.0 C67.5 59.3 66.0 63.0 65.0 66.0 C64.0 69.0 63.2 72.3 62.0 76.0 C60.8 79.7 59.3 84.0 58.0 88.0 C56.7 92.0 55.3 96.0 54.0 100.0 C52.7 104.0 50.7 110.0 50.0 112.0" stroke="rgb(90,90,90)" stroke-width="1.2" fill="none" filter="url(#b05)"/><path d="M52.0 60.0 C51.2 62.0 48.5 67.8 47.0 72.0 C45.5 76.2 44.2 81.0 43.0 85.0 C41.8 89.0 41.0 92.2 40.0 96.0 C39.0 99.8 37.5 106.0 37.0 108.0" stroke="rgb(55,55,55)" stroke-width="3" fill="none" filter="url(#b1)"/><ellipse cx="78" cy="17.5" rx="2.5" ry="3.5" transform="rotate(30 78 17.5)" fill="rgb(150,150,150)" filter="url(#b1)"/><ellipse cx="59" cy="44" rx="1.6" ry="4.5" transform="rotate(15 59 44)" fill="rgb(200,200,200)" filter="url(#b05)"/><ellipse cx="101" cy="29.5" rx="5" ry="1.8" transform="rotate(-40 101 29.5)" fill="rgb(190,190,190)" filter="url(#b05)"/><ellipse cx="110" cy="20.5" rx="3" ry="1.5" transform="rotate(-45 110 20.5)" fill="rgb(170,170,170)" filter="url(#b05)"/><ellipse cx="71" cy="58.5" rx="2.2" ry="1.6" fill="rgb(220,220,220)" filter="url(#b05)"/><ellipse cx="80" cy="53" rx="2" ry="1.2" fill="rgb(150,150,150)" filter="url(#b05)"/><ellipse cx="63.5" cy="77" rx="1.5" ry="3.5" transform="rotate(25 63.5 77)" fill="rgb(190,190,190)" filter="url(#b05)"/><ellipse cx="54.7" cy="89" rx="1.5" ry="3.5" transform="rotate(20 54.7 89)" fill="rgb(130,130,130)" filter="url(#b05)"/><ellipse cx="40" cy="94.7" rx="1.5" ry="3.5" transform="rotate(20 40 94.7)" fill="rgb(150,150,150)" filter="url(#b05)"/><ellipse cx="47" cy="106.5" rx="2" ry="5" transform="rotate(20 47 106.5)" fill="rgb(120,120,120)" filter="url(#b1)"/><text x="105.5" y="107.3" font-size="6.5" font-weight="bold" text-anchor="middle" fill="#fff">20μm</text><rect x="96.6" y="109.3" width="17.3" height="3" fill="#fff"/></g>
<rect x="204" y="314" width="174" height="236" fill="#b8b8b8"/>
<rect x="204" y="560" width="174" height="236" fill="#b8b8b8"/>
<clipPath id="cp9"><rect x="0" y="0" width="57.1" height="57"/></clipPath><g transform="translate(147,314)" clip-path="url(#cp9)"><rect x="0" y="0" width="57.1" height="57" fill="#000"/><path d="M-1.0 21.0 L-1.0 -1.0 L58.0 -1.0 L58.0 58.0 L47.5 58.0 Z" fill="rgb(10,10,10)"/><path d="M0.0 21.0 C0.8 22.0 10.0 24.3 15.0 27.0 C20.0 29.7 25.0 33.3 30.0 37.0 C35.0 40.7 41.7 45.5 45.0 49.0 C48.3 52.5 47.8 56.5 50.0 58.0 C52.2 59.5 56.7 60.7 58.0 58.0 C59.3 55.3 59.3 45.8 58.0 42.0 C56.7 38.2 53.0 37.0 50.0 35.0 C47.0 33.0 44.2 31.5 40.0 30.0 C35.8 28.5 30.0 27.5 25.0 26.0 C20.0 24.5 14.2 21.8 10.0 21.0 C5.8 20.2 -0.8 20.0 0.0 21.0 Z" fill="rgb(30,30,30)" filter="url(#b2)"/><path d="M48.0 5.0 C49.3 3.0 54.5 2.2 56.0 8.0 C57.5 13.8 58.0 34.7 57.0 40.0 C56.0 45.3 51.5 43.3 50.0 40.0 C48.5 36.7 48.3 25.8 48.0 20.0 C47.7 14.2 46.7 7.0 48.0 5.0 Z" fill="rgb(26,26,26)" filter="url(#b2)"/><path d="M0 21 L47.5 58" stroke="rgb(40,40,40)" stroke-width="1" filter="url(#b05)"/><ellipse cx="37" cy="0.8" rx="3" ry="1.8" fill="rgb(170,170,170)" filter="url(#b05)"/><ellipse cx="43" cy="1" rx="2" ry="2" fill="rgb(150,150,150)" filter="url(#b05)"/><g filter="url(#b04)"><path d="M43.9 40.2h1.4v1.4h-1.4zM34.7 40.9h1.4v1.4h-1.4zM35.4 37.1h1.4v1.4h-1.4zM29.9 41.0h1.0v1.0h-1.0zM40.7 35.3h1.3v1.3h-1.3zM22.9 30.8h1.2v1.2h-1.2zM35.6 36.1h0.9v0.9h-0.9z" fill="#606060"/><path d="M25.5 36.4h1.5v1.5h-1.5zM46.4 50.8h1.3v1.3h-1.3zM29.3 28.1h1.3v1.3h-1.3zM40.4 49.1h0.9v0.9h-0.9z" fill="#484848"/><path d="M48.3 51.8h1.4v1.4h-1.4zM38.5 49.1h0.9v0.9h-0.9zM31.1 39.9h0.9v0.9h-0.9zM36.6 35.7h1.5v1.5h-1.5zM44.7 52.1h1.0v1.0h-1.0zM28.9 31.2h0.9v0.9h-0.9z" fill="#787878"/><path d="M47.5 48.0h0.9v0.9h-0.9z" fill="#909090"/></g><ellipse cx="26" cy="33.5" rx="5" ry="3.5" transform="rotate(-15 26 33.5)" fill="#fff" filter="url(#b1)"/><ellipse cx="20" cy="30" rx="4" ry="2" fill="rgb(90,90,90)" filter="url(#b1)"/></g>
<clipPath id="cp10"><rect x="0" y="0" width="57.1" height="57"/></clipPath><g transform="translate(147,373)" clip-path="url(#cp10)"><rect x="0" y="0" width="57.1" height="57" fill="#000"/><rect x="0" y="0" width="57" height="57" fill="#160000"/><ellipse cx="27" cy="16" rx="16" ry="13" fill="none" stroke="#2a0200" stroke-width="3" filter="url(#b1)"/><path d="M0.0 22.0 C3.3 16.3 13.3 22.3 20.0 24.0 C26.7 25.7 33.8 29.7 40.0 32.0 C46.2 34.3 54.2 33.7 57.0 38.0 C59.8 42.3 66.5 54.7 57.0 58.0 C47.5 61.3 9.5 64.0 0.0 58.0 C-9.5 52.0 -3.3 27.7 0.0 22.0 Z" fill="#300400" filter="url(#b2)"/><path d="M2.0 26.0 C4.5 25.2 13.7 25.2 20.0 27.0 C26.3 28.8 34.0 33.2 40.0 37.0 C46.0 40.8 53.3 46.5 56.0 50.0 C58.7 53.5 58.7 56.7 56.0 58.0 C53.3 59.3 46.0 61.0 40.0 58.0 C34.0 55.0 25.8 44.3 20.0 40.0 C14.2 35.7 8.0 34.3 5.0 32.0 C2.0 29.7 -0.5 26.8 2.0 26.0 Z" fill="#4a0800" filter="url(#b2)"/><path d="M46.0 5.0 C47.5 2.3 55.2 -2.2 57.0 4.0 C58.8 10.2 58.0 36.7 57.0 42.0 C56.0 47.3 52.5 39.7 51.0 36.0 C49.5 32.3 48.8 25.2 48.0 20.0 C47.2 14.8 44.5 7.7 46.0 5.0 Z" fill="#2a0300" filter="url(#b2)"/><path d="M8.0 27.0 C8.5 26.0 14.0 25.5 16.0 26.0 C18.0 26.5 20.5 29.0 20.0 30.0 C19.5 31.0 15.0 32.5 13.0 32.0 C11.0 31.5 7.5 28.0 8.0 27.0 Z" fill="#7a1800" filter="url(#b1)"/><path d="M35.0 0.5 C35.5 0.0 38.5 -0.1 40.0 0.0 C41.5 0.1 43.8 0.5 44.0 1.0 C44.2 1.5 42.2 2.7 41.0 3.0 C39.8 3.3 38.0 3.4 37.0 3.0 C36.0 2.6 34.5 1.0 35.0 0.5 Z" fill="#e07010" filter="url(#b05)"/><g filter="url(#b04)"><path d="M11.0 48.6h1.0v1.0h-1.0zM24.8 39.1h1.2v1.2h-1.2zM8.3 30.9h1.0v1.0h-1.0zM6.0 40.8h1.5v1.5h-1.5zM20.6 47.1h1.5v1.5h-1.5zM0.1 30.2h1.0v1.0h-1.0zM0.8 54.1h1.6v1.6h-1.6zM26.1 38.6h1.0v1.0h-1.0zM5.5 50.5h1.6v1.6h-1.6zM23.9 33.3h1.4v1.4h-1.4zM25.4 41.4h1.1v1.1h-1.1zM5.3 36.3h0.9v0.9h-0.9zM11.0 29.2h1.2v1.2h-1.2zM8.4 54.9h1.0v1.0h-1.0zM1.5 44.1h1.6v1.6h-1.6zM1.7 54.2h1.1v1.1h-1.1zM21.6 54.6h0.9v0.9h-0.9zM47.1 45.6h1.4v1.4h-1.4z" fill="#9a2800"/><path d="M12.8 38.4h1.4v1.4h-1.4zM26.6 56.7h1.0v1.0h-1.0zM10.9 37.6h0.9v0.9h-0.9zM39.5 46.0h1.0v1.0h-1.0zM34.5 56.7h1.5v1.5h-1.5zM27.3 56.3h1.3v1.3h-1.3zM9.2 49.8h1.3v1.3h-1.3zM12.2 52.6h1.4v1.4h-1.4z" fill="#d05010"/><path d="M33.1 39.2h1.4v1.4h-1.4z" fill="#ff9a30"/><path d="M55.8 43.3h1.3v1.3h-1.3zM31.1 56.1h1.4v1.4h-1.4zM2.6 29.0h1.2v1.2h-1.2zM25.2 41.6h0.9v0.9h-0.9zM12.7 35.7h1.5v1.5h-1.5zM2.3 53.9h1.4v1.4h-1.4zM45.3 43.6h0.8v0.8h-0.8zM52.7 54.5h1.4v1.4h-1.4zM40.9 40.2h0.9v0.9h-0.9zM23.7 45.2h1.3v1.3h-1.3zM9.3 43.7h1.3v1.3h-1.3zM34.4 39.2h1.6v1.6h-1.6zM30.7 54.6h1.5v1.5h-1.5zM38.2 50.4h0.9v0.9h-0.9zM8.7 50.7h1.3v1.3h-1.3zM37.7 41.8h1.1v1.1h-1.1zM40.6 49.3h1.2v1.2h-1.2zM2.3 34.1h1.4v1.4h-1.4z" fill="#6a1000"/></g><g filter="url(#b04)"><path d="M21.8 22.0h0.8v0.8h-0.8zM23.2 10.9h0.7v0.7h-0.7zM29.1 8.9h0.9v0.9h-0.9zM26.5 11.6h0.6v0.6h-0.6zM23.5 20.1h0.7v0.7h-0.7zM24.1 21.3h0.7v0.7h-0.7zM20.9 22.8h0.7v0.7h-0.7zM22.6 7.4h0.7v0.7h-0.7zM27.1 21.7h1.0v1.0h-1.0zM21.1 20.5h0.9v0.9h-0.9zM19.6 18.6h0.8v0.8h-0.8zM19.5 18.2h0.7v0.7h-0.7zM21.5 16.1h0.8v0.8h-0.8zM18.3 20.2h0.9v0.9h-0.9z" fill="#30b000"/></g><path d="M-1 30.5 L-1 59 L45 59 Z" fill="#55ec00"/><path d="M-1 30.5 L45 59" stroke="#000" stroke-width="0.8"/><ellipse cx="25" cy="33.5" rx="5" ry="3.5" transform="rotate(-15 25 33.5)" fill="#fff" filter="url(#b05)"/><ellipse cx="25" cy="33.8" rx="3.6" ry="2.3" transform="rotate(-15 25 33.8)" fill="#1010ff"/></g>
<clipPath id="cp11"><rect x="0" y="0" width="57.1" height="57"/></clipPath><g transform="translate(147,434)" clip-path="url(#cp11)"><rect x="0" y="0" width="57.1" height="57" fill="#000"/><path d="M50.0 -2.0 C48.7 0.0 44.7 6.0 42.0 10.0 C39.3 14.0 36.7 17.8 34.0 22.0 C31.3 26.2 28.3 31.2 26.0 35.0 C23.7 38.8 22.0 41.2 20.0 45.0 C18.0 48.8 15.0 55.8 14.0 58.0" stroke="rgb(35,35,35)" stroke-width="8" fill="none" filter="url(#b2)"/><path d="M50.0 -2.0 C48.7 0.0 44.7 6.0 42.0 10.0 C39.3 14.0 36.7 17.8 34.0 22.0 C31.3 26.2 28.3 31.2 26.0 35.0 C23.7 38.8 22.0 41.2 20.0 45.0 C18.0 48.8 15.0 55.8 14.0 58.0" stroke="rgb(95,95,95)" stroke-width="2.2" fill="none" filter="url(#b05)"/><path d="M58.0 2.0 C57.0 3.7 54.0 8.7 52.0 12.0 C50.0 15.3 48.0 19.0 46.0 22.0 C44.0 25.0 41.0 28.7 40.0 30.0" stroke="rgb(55,55,55)" stroke-width="1.2" fill="none" filter="url(#b1)"/><ellipse cx="19.5" cy="13.5" rx="4" ry="1.8" fill="rgb(50,50,50)" filter="url(#b1)"/><ellipse cx="38.5" cy="11.5" rx="3.3" ry="4" fill="rgb(210,210,210)" filter="url(#b1)"/><ellipse cx="36" cy="17.5" rx="1.3" ry="1.3" fill="rgb(180,180,180)" filter="url(#b05)"/><ellipse cx="22.5" cy="41.5" rx="2.3" ry="5" transform="rotate(25 22.5 41.5)" fill="rgb(250,250,250)" filter="url(#b1)"/><text x="49" y="51.5" font-size="6" font-weight="bold" text-anchor="middle" fill="#fff">9μm</text><rect x="43.2" y="53.8" width="12.6" height="1.9" fill="#fff"/></g>
<clipPath id="cp12"><rect x="0" y="0" width="57.1" height="57"/></clipPath><g transform="translate(147,493)" clip-path="url(#cp12)"><rect x="0" y="0" width="57.1" height="57" fill="#000"/><rect x="0" y="0" width="57" height="57" fill="#0a0000"/><path d="M30.0 -1.0 L58.0 -1.0 L58.0 12.0 L26.0 58.0 L8.0 58.0 Z" fill="#400400" filter="url(#b1)"/><path d="M56.0 1.0 C54.3 2.5 49.0 7.2 46.0 10.0 C43.0 12.8 40.7 14.8 38.0 18.0 C35.3 21.2 32.7 25.0 30.0 29.0 C27.3 33.0 24.7 37.7 22.0 42.0 C19.3 46.3 15.3 52.8 14.0 55.0" stroke="#a02800" stroke-width="6" fill="none" filter="url(#b1)"/><path d="M56.0 1.0 C54.3 2.5 49.0 7.2 46.0 10.0 C43.0 12.8 40.7 14.8 38.0 18.0 C35.3 21.2 32.7 25.0 30.0 29.0 C27.3 33.0 24.7 37.7 22.0 42.0 C19.3 46.3 15.3 52.8 14.0 55.0" stroke="#e86010" stroke-width="1.8" fill="none" filter="url(#b05)"/><path d="M58.0 6.0 C57.0 7.3 54.0 11.3 52.0 14.0 C50.0 16.7 48.0 19.0 46.0 22.0 C44.0 25.0 41.0 30.3 40.0 32.0" stroke="#801800" stroke-width="1.5" fill="none" filter="url(#b05)"/><path d="M8.0 6.0 C9.0 6.7 11.7 8.9 14.0 10.0 C16.3 11.1 19.3 11.8 22.0 12.5 C24.7 13.2 28.7 13.8 30.0 14.0" stroke="#5a0800" stroke-width="3" fill="none" filter="url(#b1)"/><ellipse cx="38.5" cy="11.5" rx="3.3" ry="4" fill="#fff2b0" filter="url(#b1)"/><ellipse cx="36" cy="17.5" rx="1.4" ry="1.4" fill="#ffc040" filter="url(#b05)"/><ellipse cx="22.5" cy="41.5" rx="2.5" ry="5" transform="rotate(25 22.5 41.5)" fill="#ffd070" filter="url(#b1)"/><ellipse cx="22.5" cy="42.5" rx="1.4" ry="3" transform="rotate(25 22.5 41.5)" fill="#1010ff"/><path d="M58.5 10.0 L58.5 58.5 L24.6 58.5 Z" fill="#55ec00"/><path d="M15.0 -1.0 C18.7 -1.7 34.5 -2.2 38.0 -1.0 C41.5 0.2 37.3 4.2 36.0 6.0 C34.7 7.8 32.0 8.8 30.0 9.5 C28.0 10.2 25.8 10.4 24.0 10.0 C22.2 9.6 20.3 8.2 19.0 7.0 C17.7 5.8 16.7 4.3 16.0 3.0 C15.3 1.7 11.3 -0.3 15.0 -1.0 Z" fill="#55ec00"/><path d="M10.8 3.3 L14.0 6.0 L18.0 11.0 L20.5 17.0 L19.0 25.0 L15.0 35.0 L10.0 45.0 L6.0 50.0 L2.0 58.5 L-1.0 58.5 L-1.0 31.7 L3.0 22.0 L7.0 12.0 Z" fill="#55ec00"/><g filter="url(#b04)"><path d="M5.6 18.6h1.3v1.3h-1.3zM1.1 32.7h0.7v0.7h-0.7zM4.5 22.8h1.2v1.2h-1.2zM6.6 13.8h0.8v0.8h-0.8zM9.9 13.3h0.8v0.8h-0.8zM10.3 6.4h1.1v1.1h-1.1zM10.2 12.2h1.2v1.2h-1.2zM8.1 19.8h1.1v1.1h-1.1zM10.0 8.6h0.8v0.8h-0.8zM4.1 24.5h1.1v1.1h-1.1zM3.4 27.7h0.9v0.9h-0.9zM8.3 8.8h0.9v0.9h-0.9zM11.4 6.6h0.8v0.8h-0.8zM9.1 11.9h1.3v1.3h-1.3z" fill="#0a0000"/><path d="M7.0 22.5h1.0v1.0h-1.0zM8.7 17.3h1.3v1.3h-1.3zM12.2 7.2h0.9v0.9h-0.9zM9.9 15.3h1.1v1.1h-1.1zM5.8 13.9h0.9v0.9h-0.9zM11.3 12.7h1.0v1.0h-1.0zM9.2 16.2h1.2v1.2h-1.2zM3.2 29.4h1.3v1.3h-1.3z" fill="#3a0000"/></g><g filter="url(#b04)"><path d="M13.6 38.3h1.1v1.1h-1.1zM14.8 26.0h1.0v1.0h-1.0zM12.9 36.6h1.0v1.0h-1.0zM15.5 28.8h0.9v0.9h-0.9zM15.9 29.8h0.8v0.8h-0.8zM11.3 36.2h0.7v0.7h-0.7zM15.5 32.8h1.1v1.1h-1.1zM18.5 18.1h0.8v0.8h-0.8z" fill="#0a0000"/></g><g filter="url(#b04)"><path d="M1.2 17.4h1.1v1.1h-1.1zM1.1 19.7h1.0v1.0h-1.0zM5.5 13.4h1.2v1.2h-1.2zM6.4 10.6h0.9v0.9h-0.9zM0.0 18.1h0.9v0.9h-0.9zM1.0 22.1h1.1v1.1h-1.1zM0.3 21.1h1.3v1.3h-1.3zM0.6 25.5h1.2v1.2h-1.2zM2.8 21.3h0.9v0.9h-0.9zM0.7 24.2h1.1v1.1h-1.1zM2.4 16.8h1.1v1.1h-1.1zM3.6 16.8h1.0v1.0h-1.0zM2.8 12.6h0.9v0.9h-0.9zM6.5 8.7h0.8v0.8h-0.8z" fill="#40d000"/></g><path d="M11.0 9.0 C11.8 9.4 14.2 10.8 16.0 11.5 C17.8 12.2 20.0 12.9 22.0 13.5 C24.0 14.1 27.0 14.8 28.0 15.0" stroke="#4a0600" stroke-width="3.2" fill="none" filter="url(#b05)"/><path d="M16.0 12.5 C17.0 12.8 20.2 13.6 22.0 14.0 C23.8 14.4 26.2 14.8 27.0 15.0" stroke="#a02a00" stroke-width="1.2" fill="none" filter="url(#b05)"/><text x="49" y="51.5" font-size="6" font-weight="bold" text-anchor="middle" fill="#fff">9μm</text><rect x="43.2" y="53.8" width="12.6" height="1.9" fill="#fff"/></g>
<clipPath id="cp13"><rect x="0" y="0" width="56.2" height="57"/></clipPath><g transform="translate(205.1,314)" clip-path="url(#cp13)"><rect x="0" y="0" width="56.2" height="57" fill="#000"/><path d="M-1.0 21.0 L-1.0 -1.0 L58.0 -1.0 L58.0 58.0 L47.5 58.0 Z" fill="rgb(10,10,10)"/><path d="M0.0 21.0 C0.8 22.0 10.0 24.3 15.0 27.0 C20.0 29.7 25.0 33.3 30.0 37.0 C35.0 40.7 41.7 45.5 45.0 49.0 C48.3 52.5 47.8 56.5 50.0 58.0 C52.2 59.5 56.7 60.7 58.0 58.0 C59.3 55.3 59.3 45.8 58.0 42.0 C56.7 38.2 53.0 37.0 50.0 35.0 C47.0 33.0 44.2 31.5 40.0 30.0 C35.8 28.5 30.0 27.5 25.0 26.0 C20.0 24.5 14.2 21.8 10.0 21.0 C5.8 20.2 -0.8 20.0 0.0 21.0 Z" fill="rgb(30,30,30)" filter="url(#b2)"/><path d="M48.0 5.0 C49.3 3.0 54.5 2.2 56.0 8.0 C57.5 13.8 58.0 34.7 57.0 40.0 C56.0 45.3 51.5 43.3 50.0 40.0 C48.5 36.7 48.3 25.8 48.0 20.0 C47.7 14.2 46.7 7.0 48.0 5.0 Z" fill="rgb(26,26,26)" filter="url(#b2)"/><path d="M0 21 L47.5 58" stroke="rgb(40,40,40)" stroke-width="1" filter="url(#b05)"/><ellipse cx="37" cy="0.8" rx="3" ry="1.8" fill="rgb(170,170,170)" filter="url(#b05)"/><ellipse cx="43" cy="1" rx="2" ry="2" fill="rgb(150,150,150)" filter="url(#b05)"/><g filter="url(#b04)"><path d="M26.6 37.8h1.0v1.0h-1.0zM39.4 39.0h0.8v0.8h-0.8zM53.9 49.9h1.5v1.5h-1.5zM54.6 50.4h1.1v1.1h-1.1zM31.3 39.3h1.1v1.1h-1.1zM26.2 32.5h1.4v1.4h-1.4zM40.8 52.4h1.2v1.2h-1.2zM16.4 30.3h1.6v1.6h-1.6z" fill="#484848"/><path d="M20.9 26.9h1.1v1.1h-1.1zM40.2 44.1h1.4v1.4h-1.4zM42.6 48.9h0.8v0.8h-0.8zM34.8 40.6h1.6v1.6h-1.6zM22.1 31.8h0.9v0.9h-0.9zM9.4 25.0h1.5v1.5h-1.5z" fill="#787878"/><path d="M38.8 37.9h1.5v1.5h-1.5zM45.2 42.1h1.5v1.5h-1.5zM37.9 38.6h1.3v1.3h-1.3z" fill="#606060"/><path d="M31.5 30.5h1.1v1.1h-1.1z" fill="#909090"/></g></g>
<clipPath id="cp14"><rect x="0" y="0" width="56.2" height="57"/></clipPath><g transform="translate(205.1,373)" clip-path="url(#cp14)"><rect x="0" y="0" width="56.2" height="57" fill="#000"/><rect x="0" y="0" width="57" height="57" fill="#160000"/><ellipse cx="27" cy="16" rx="16" ry="13" fill="none" stroke="#2a0200" stroke-width="3" filter="url(#b1)"/><path d="M0.0 22.0 C3.3 16.3 13.3 22.3 20.0 24.0 C26.7 25.7 33.8 29.7 40.0 32.0 C46.2 34.3 54.2 33.7 57.0 38.0 C59.8 42.3 66.5 54.7 57.0 58.0 C47.5 61.3 9.5 64.0 0.0 58.0 C-9.5 52.0 -3.3 27.7 0.0 22.0 Z" fill="#300400" filter="url(#b2)"/><path d="M2.0 26.0 C4.5 25.2 13.7 25.2 20.0 27.0 C26.3 28.8 34.0 33.2 40.0 37.0 C46.0 40.8 53.3 46.5 56.0 50.0 C58.7 53.5 58.7 56.7 56.0 58.0 C53.3 59.3 46.0 61.0 40.0 58.0 C34.0 55.0 25.8 44.3 20.0 40.0 C14.2 35.7 8.0 34.3 5.0 32.0 C2.0 29.7 -0.5 26.8 2.0 26.0 Z" fill="#4a0800" filter="url(#b2)"/><path d="M46.0 5.0 C47.5 2.3 55.2 -2.2 57.0 4.0 C58.8 10.2 58.0 36.7 57.0 42.0 C56.0 47.3 52.5 39.7 51.0 36.0 C49.5 32.3 48.8 25.2 48.0 20.0 C47.2 14.8 44.5 7.7 46.0 5.0 Z" fill="#2a0300" filter="url(#b2)"/><path d="M8.0 27.0 C8.5 26.0 14.0 25.5 16.0 26.0 C18.0 26.5 20.5 29.0 20.0 30.0 C19.5 31.0 15.0 32.5 13.0 32.0 C11.0 31.5 7.5 28.0 8.0 27.0 Z" fill="#7a1800" filter="url(#b1)"/><path d="M35.0 0.5 C35.5 0.0 38.5 -0.1 40.0 0.0 C41.5 0.1 43.8 0.5 44.0 1.0 C44.2 1.5 42.2 2.7 41.0 3.0 C39.8 3.3 38.0 3.4 37.0 3.0 C36.0 2.6 34.5 1.0 35.0 0.5 Z" fill="#e07010" filter="url(#b05)"/><g filter="url(#b04)"><path d="M42.9 39.6h1.2v1.2h-1.2zM5.4 33.3h1.2v1.2h-1.2zM21.2 49.8h1.2v1.2h-1.2zM53.8 55.7h0.9v0.9h-0.9zM27.2 53.1h0.8v0.8h-0.8zM8.5 36.5h1.5v1.5h-1.5zM38.7 48.8h1.2v1.2h-1.2zM8.6 39.9h1.1v1.1h-1.1zM6.2 35.8h1.2v1.2h-1.2z" fill="#d05010"/><path d="M25.7 49.3h1.3v1.3h-1.3zM43.4 44.4h1.3v1.3h-1.3zM48.0 54.1h1.2v1.2h-1.2zM56.3 49.0h1.6v1.6h-1.6zM45.4 39.5h0.8v0.8h-0.8zM40.1 38.0h1.2v1.2h-1.2zM5.8 27.7h0.9v0.9h-0.9zM31.5 45.8h0.8v0.8h-0.8zM39.3 43.6h1.4v1.4h-1.4zM8.6 32.6h1.4v1.4h-1.4zM51.5 51.9h1.5v1.5h-1.5zM38.2 42.0h1.1v1.1h-1.1zM33.9 43.4h1.3v1.3h-1.3zM40.0 47.8h0.9v0.9h-0.9zM17.1 56.2h1.1v1.1h-1.1zM48.6 54.5h1.1v1.1h-1.1zM13.2 56.8h1.1v1.1h-1.1zM1.0 53.2h1.4v1.4h-1.4zM2.3 33.5h0.8v0.8h-0.8z" fill="#6a1000"/><path d="M1.7 32.8h0.9v0.9h-0.9zM10.9 33.5h1.4v1.4h-1.4zM17.4 39.1h0.8v0.8h-0.8zM2.3 51.7h1.2v1.2h-1.2zM7.6 30.2h1.2v1.2h-1.2zM22.0 40.7h1.5v1.5h-1.5zM37.3 40.4h1.1v1.1h-1.1zM23.7 48.9h1.2v1.2h-1.2zM26.8 47.4h1.5v1.5h-1.5zM18.3 42.7h1.4v1.4h-1.4zM56.7 46.6h1.1v1.1h-1.1zM55.5 43.8h1.0v1.0h-1.0z" fill="#9a2800"/><path d="M23.4 40.5h1.1v1.1h-1.1zM34.2 36.6h1.0v1.0h-1.0zM3.7 28.5h1.2v1.2h-1.2zM38.4 54.8h0.8v0.8h-0.8zM13.1 36.0h1.0v1.0h-1.0z" fill="#ff9a30"/></g><g filter="url(#b04)"><path d="M27.8 12.3h0.9v0.9h-0.9zM31.5 23.5h0.8v0.8h-0.8zM21.0 17.0h1.0v1.0h-1.0zM18.4 20.6h0.8v0.8h-0.8zM32.8 6.7h1.0v1.0h-1.0zM20.1 11.2h0.9v0.9h-0.9zM19.5 19.7h0.7v0.7h-0.7zM26.6 20.8h0.8v0.8h-0.8zM30.2 23.9h0.7v0.7h-0.7zM19.0 18.6h0.8v0.8h-0.8zM19.7 20.7h0.6v0.6h-0.6zM29.3 11.1h0.8v0.8h-0.8zM21.5 12.0h0.6v0.6h-0.6zM24.4 21.6h0.7v0.7h-0.7z" fill="#30b000"/></g><path d="M-1 30.5 L-1 59 L45 59 Z" fill="#55ec00"/><path d="M-1 30.5 L45 59" stroke="#000" stroke-width="0.8"/></g>
<clipPath id="cp15"><rect x="0" y="0" width="56.2" height="57"/></clipPath><g transform="translate(205.1,434)" clip-path="url(#cp15)"><rect x="0" y="0" width="56.2" height="57" fill="#000"/><path d="M50.0 -2.0 C48.7 0.0 44.7 6.0 42.0 10.0 C39.3 14.0 36.7 17.8 34.0 22.0 C31.3 26.2 28.3 31.2 26.0 35.0 C23.7 38.8 22.0 41.2 20.0 45.0 C18.0 48.8 15.0 55.8 14.0 58.0" stroke="rgb(35,35,35)" stroke-width="8" fill="none" filter="url(#b2)"/><path d="M50.0 -2.0 C48.7 0.0 44.7 6.0 42.0 10.0 C39.3 14.0 36.7 17.8 34.0 22.0 C31.3 26.2 28.3 31.2 26.0 35.0 C23.7 38.8 22.0 41.2 20.0 45.0 C18.0 48.8 15.0 55.8 14.0 58.0" stroke="rgb(95,95,95)" stroke-width="2.2" fill="none" filter="url(#b05)"/><path d="M58.0 2.0 C57.0 3.7 54.0 8.7 52.0 12.0 C50.0 15.3 48.0 19.0 46.0 22.0 C44.0 25.0 41.0 28.7 40.0 30.0" stroke="rgb(55,55,55)" stroke-width="1.2" fill="none" filter="url(#b1)"/><ellipse cx="19.5" cy="13.5" rx="4" ry="1.8" fill="rgb(50,50,50)" filter="url(#b1)"/><ellipse cx="38.5" cy="11.5" rx="3.3" ry="4" fill="rgb(190,190,190)" filter="url(#b1)"/><ellipse cx="36" cy="17.5" rx="1.3" ry="1.3" fill="rgb(160,160,160)" filter="url(#b05)"/><ellipse cx="22.5" cy="41.5" rx="2.3" ry="5" transform="rotate(25 22.5 41.5)" fill="rgb(110,110,110)" filter="url(#b1)"/></g>
<clipPath id="cp16"><rect x="0" y="0" width="56.2" height="57"/></clipPath><g transform="translate(205.1,493)" clip-path="url(#cp16)"><rect x="0" y="0" width="56.2" height="57" fill="#000"/><rect x="0" y="0" width="57" height="57" fill="#0a0000"/><path d="M30.0 -1.0 L58.0 -1.0 L58.0 12.0 L26.0 58.0 L8.0 58.0 Z" fill="#400400" filter="url(#b1)"/><path d="M56.0 1.0 C54.3 2.5 49.0 7.2 46.0 10.0 C43.0 12.8 40.7 14.8 38.0 18.0 C35.3 21.2 32.7 25.0 30.0 29.0 C27.3 33.0 24.7 37.7 22.0 42.0 C19.3 46.3 15.3 52.8 14.0 55.0" stroke="#a02800" stroke-width="6" fill="none" filter="url(#b1)"/><path d="M56.0 1.0 C54.3 2.5 49.0 7.2 46.0 10.0 C43.0 12.8 40.7 14.8 38.0 18.0 C35.3 21.2 32.7 25.0 30.0 29.0 C27.3 33.0 24.7 37.7 22.0 42.0 C19.3 46.3 15.3 52.8 14.0 55.0" stroke="#e86010" stroke-width="1.8" fill="none" filter="url(#b05)"/><path d="M58.0 6.0 C57.0 7.3 54.0 11.3 52.0 14.0 C50.0 16.7 48.0 19.0 46.0 22.0 C44.0 25.0 41.0 30.3 40.0 32.0" stroke="#801800" stroke-width="1.5" fill="none" filter="url(#b05)"/><path d="M8.0 6.0 C9.0 6.7 11.7 8.9 14.0 10.0 C16.3 11.1 19.3 11.8 22.0 12.5 C24.7 13.2 28.7 13.8 30.0 14.0" stroke="#5a0800" stroke-width="3" fill="none" filter="url(#b1)"/><ellipse cx="38.5" cy="11.5" rx="3.3" ry="4" fill="#fff2b0" filter="url(#b1)"/><ellipse cx="36" cy="17.5" rx="1.4" ry="1.4" fill="#ffc040" filter="url(#b05)"/><ellipse cx="22.5" cy="41.5" rx="2.5" ry="5" transform="rotate(25 22.5 41.5)" fill="#b03a00" filter="url(#b1)"/><path d="M58.5 10.0 L58.5 58.5 L24.6 58.5 Z" fill="#55ec00"/><path d="M15.0 -1.0 C18.7 -1.7 34.5 -2.2 38.0 -1.0 C41.5 0.2 37.3 4.2 36.0 6.0 C34.7 7.8 32.0 8.8 30.0 9.5 C28.0 10.2 25.8 10.4 24.0 10.0 C22.2 9.6 20.3 8.2 19.0 7.0 C17.7 5.8 16.7 4.3 16.0 3.0 C15.3 1.7 11.3 -0.3 15.0 -1.0 Z" fill="#55ec00"/><path d="M10.8 3.3 L14.0 6.0 L18.0 11.0 L20.5 17.0 L19.0 25.0 L15.0 35.0 L10.0 45.0 L6.0 50.0 L2.0 58.5 L-1.0 58.5 L-1.0 31.7 L3.0 22.0 L7.0 12.0 Z" fill="#55ec00"/><g filter="url(#b04)"><path d="M3.0 24.1h0.7v0.7h-0.7zM6.4 12.5h1.1v1.1h-1.1zM8.3 9.5h1.3v1.3h-1.3zM9.8 7.6h0.8v0.8h-0.8zM13.5 6.2h0.8v0.8h-0.8zM9.9 16.2h1.1v1.1h-1.1zM0.5 31.6h0.8v0.8h-0.8zM7.7 20.3h0.7v0.7h-0.7zM9.2 7.3h1.1v1.1h-1.1zM4.5 18.5h0.9v0.9h-0.9zM7.6 13.5h1.0v1.0h-1.0z" fill="#3a0000"/><path d="M12.6 8.6h1.2v1.2h-1.2zM10.0 7.1h1.3v1.3h-1.3zM7.8 12.6h1.3v1.3h-1.3zM9.7 12.0h0.8v0.8h-0.8zM7.1 12.9h1.3v1.3h-1.3zM2.8 25.0h1.0v1.0h-1.0zM2.6 29.4h1.1v1.1h-1.1zM2.6 26.0h0.9v0.9h-0.9zM6.0 22.5h0.7v0.7h-0.7zM7.0 15.9h0.8v0.8h-0.8zM5.2 17.5h1.2v1.2h-1.2z" fill="#0a0000"/></g><g filter="url(#b04)"><path d="M16.5 28.4h0.9v0.9h-0.9zM16.1 22.8h1.1v1.1h-1.1zM12.7 33.8h0.8v0.8h-0.8zM15.7 22.2h1.0v1.0h-1.0zM11.3 41.0h1.0v1.0h-1.0zM14.8 32.4h1.1v1.1h-1.1zM14.5 27.7h1.0v1.0h-1.0zM11.2 40.6h1.1v1.1h-1.1z" fill="#0a0000"/></g><g filter="url(#b04)"><path d="M4.0 10.5h0.9v0.9h-0.9zM7.6 8.7h0.8v0.8h-0.8zM1.8 17.7h0.8v0.8h-0.8zM5.7 13.2h1.2v1.2h-1.2zM3.4 12.5h1.2v1.2h-1.2zM0.7 19.4h0.9v0.9h-0.9zM5.6 8.8h1.1v1.1h-1.1zM6.0 10.1h1.2v1.2h-1.2zM2.0 15.4h1.1v1.1h-1.1zM0.5 15.7h0.9v0.9h-0.9zM0.8 20.3h1.2v1.2h-1.2zM5.8 14.0h0.7v0.7h-0.7zM0.1 13.5h1.1v1.1h-1.1zM6.9 10.1h1.3v1.3h-1.3z" fill="#40d000"/></g><path d="M11.0 9.0 C11.8 9.4 14.2 10.8 16.0 11.5 C17.8 12.2 20.0 12.9 22.0 13.5 C24.0 14.1 27.0 14.8 28.0 15.0" stroke="#4a0600" stroke-width="3.2" fill="none" filter="url(#b05)"/><path d="M16.0 12.5 C17.0 12.8 20.2 13.6 22.0 14.0 C23.8 14.4 26.2 14.8 27.0 15.0" stroke="#a02a00" stroke-width="1.2" fill="none" filter="url(#b05)"/></g>
<clipPath id="cp17"><rect x="0" y="0" width="56.4" height="57"/></clipPath><g transform="translate(262.3,314)" clip-path="url(#cp17)"><rect x="0" y="0" width="56.4" height="57" fill="#000"/><path d="M-1.0 21.0 L-1.0 -1.0 L58.0 -1.0 L58.0 58.0 L47.5 58.0 Z" fill="rgb(10,10,10)"/><path d="M0.0 21.0 C0.8 22.0 10.0 24.3 15.0 27.0 C20.0 29.7 25.0 33.3 30.0 37.0 C35.0 40.7 41.7 45.5 45.0 49.0 C48.3 52.5 47.8 56.5 50.0 58.0 C52.2 59.5 56.7 60.7 58.0 58.0 C59.3 55.3 59.3 45.8 58.0 42.0 C56.7 38.2 53.0 37.0 50.0 35.0 C47.0 33.0 44.2 31.5 40.0 30.0 C35.8 28.5 30.0 27.5 25.0 26.0 C20.0 24.5 14.2 21.8 10.0 21.0 C5.8 20.2 -0.8 20.0 0.0 21.0 Z" fill="rgb(30,30,30)" filter="url(#b2)"/><path d="M48.0 5.0 C49.3 3.0 54.5 2.2 56.0 8.0 C57.5 13.8 58.0 34.7 57.0 40.0 C56.0 45.3 51.5 43.3 50.0 40.0 C48.5 36.7 48.3 25.8 48.0 20.0 C47.7 14.2 46.7 7.0 48.0 5.0 Z" fill="rgb(26,26,26)" filter="url(#b2)"/><path d="M0 21 L47.5 58" stroke="rgb(40,40,40)" stroke-width="1" filter="url(#b05)"/><ellipse cx="37" cy="0.8" rx="3" ry="1.8" fill="rgb(170,170,170)" filter="url(#b05)"/><ellipse cx="43" cy="1" rx="2" ry="2" fill="rgb(150,150,150)" filter="url(#b05)"/><g filter="url(#b04)"><path d="M35.2 32.3h0.8v0.8h-0.8zM39.3 34.7h1.2v1.2h-1.2zM29.1 42.6h1.1v1.1h-1.1zM25.5 37.8h1.0v1.0h-1.0zM47.7 55.1h1.5v1.5h-1.5zM28.9 31.7h1.3v1.3h-1.3z" fill="#606060"/><path d="M50.1 41.9h1.1v1.1h-1.1zM35.9 38.2h1.0v1.0h-1.0zM44.4 41.5h1.5v1.5h-1.5zM50.1 54.5h1.1v1.1h-1.1zM43.2 43.0h1.6v1.6h-1.6zM19.3 27.8h1.4v1.4h-1.4zM49.0 48.9h1.5v1.5h-1.5zM42.1 53.0h1.0v1.0h-1.0z" fill="#484848"/><path d="M25.5 35.7h1.5v1.5h-1.5zM11.5 26.5h1.4v1.4h-1.4z" fill="#787878"/><path d="M47.5 56.4h1.2v1.2h-1.2zM42.4 46.4h1.3v1.3h-1.3z" fill="#909090"/></g></g>
<clipPath id="cp18"><rect x="0" y="0" width="56.4" height="57"/></clipPath><g transform="translate(262.3,373)" clip-path="url(#cp18)"><rect x="0" y="0" width="56.4" height="57" fill="#000"/><rect x="0" y="0" width="57" height="57" fill="#160000"/><ellipse cx="27" cy="16" rx="16" ry="13" fill="none" stroke="#2a0200" stroke-width="3" filter="url(#b1)"/><path d="M0.0 22.0 C3.3 16.3 13.3 22.3 20.0 24.0 C26.7 25.7 33.8 29.7 40.0 32.0 C46.2 34.3 54.2 33.7 57.0 38.0 C59.8 42.3 66.5 54.7 57.0 58.0 C47.5 61.3 9.5 64.0 0.0 58.0 C-9.5 52.0 -3.3 27.7 0.0 22.0 Z" fill="#300400" filter="url(#b2)"/><path d="M2.0 26.0 C4.5 25.2 13.7 25.2 20.0 27.0 C26.3 28.8 34.0 33.2 40.0 37.0 C46.0 40.8 53.3 46.5 56.0 50.0 C58.7 53.5 58.7 56.7 56.0 58.0 C53.3 59.3 46.0 61.0 40.0 58.0 C34.0 55.0 25.8 44.3 20.0 40.0 C14.2 35.7 8.0 34.3 5.0 32.0 C2.0 29.7 -0.5 26.8 2.0 26.0 Z" fill="#4a0800" filter="url(#b2)"/><path d="M46.0 5.0 C47.5 2.3 55.2 -2.2 57.0 4.0 C58.8 10.2 58.0 36.7 57.0 42.0 C56.0 47.3 52.5 39.7 51.0 36.0 C49.5 32.3 48.8 25.2 48.0 20.0 C47.2 14.8 44.5 7.7 46.0 5.0 Z" fill="#2a0300" filter="url(#b2)"/><path d="M8.0 27.0 C8.5 26.0 14.0 25.5 16.0 26.0 C18.0 26.5 20.5 29.0 20.0 30.0 C19.5 31.0 15.0 32.5 13.0 32.0 C11.0 31.5 7.5 28.0 8.0 27.0 Z" fill="#7a1800" filter="url(#b1)"/><path d="M35.0 0.5 C35.5 0.0 38.5 -0.1 40.0 0.0 C41.5 0.1 43.8 0.5 44.0 1.0 C44.2 1.5 42.2 2.7 41.0 3.0 C39.8 3.3 38.0 3.4 37.0 3.0 C36.0 2.6 34.5 1.0 35.0 0.5 Z" fill="#e07010" filter="url(#b05)"/><g filter="url(#b04)"><path d="M38.6 55.2h1.1v1.1h-1.1zM34.8 48.8h1.2v1.2h-1.2zM6.0 52.4h0.9v0.9h-0.9zM10.9 34.3h1.2v1.2h-1.2zM47.9 54.2h1.4v1.4h-1.4zM3.0 33.7h1.2v1.2h-1.2zM6.7 35.1h1.5v1.5h-1.5zM50.2 43.3h1.4v1.4h-1.4zM13.2 41.3h0.9v0.9h-0.9z" fill="#d05010"/><path d="M2.1 30.1h1.0v1.0h-1.0zM38.6 54.6h1.0v1.0h-1.0zM3.5 37.2h1.6v1.6h-1.6zM38.8 45.2h1.0v1.0h-1.0zM2.1 30.8h1.4v1.4h-1.4zM25.9 35.3h1.0v1.0h-1.0zM28.9 49.7h1.4v1.4h-1.4zM21.4 49.8h1.3v1.3h-1.3zM19.4 55.7h1.4v1.4h-1.4zM13.0 53.2h1.3v1.3h-1.3zM11.2 52.3h1.2v1.2h-1.2zM2.8 32.6h1.1v1.1h-1.1zM49.3 40.5h1.5v1.5h-1.5zM19.6 41.9h1.5v1.5h-1.5zM35.3 37.8h1.0v1.0h-1.0zM20.8 54.5h1.0v1.0h-1.0zM29.9 56.3h1.2v1.2h-1.2zM33.1 37.4h1.4v1.4h-1.4z" fill="#9a2800"/><path d="M26.5 40.8h1.4v1.4h-1.4zM26.9 49.1h1.0v1.0h-1.0zM51.2 49.5h1.4v1.4h-1.4zM16.6 49.3h1.6v1.6h-1.6zM19.7 55.5h1.3v1.3h-1.3zM10.6 31.8h0.9v0.9h-0.9zM5.8 32.2h0.9v0.9h-0.9zM39.4 46.3h1.0v1.0h-1.0zM25.5 44.2h1.1v1.1h-1.1zM40.8 54.4h1.5v1.5h-1.5zM14.1 33.3h1.2v1.2h-1.2zM45.5 46.2h1.4v1.4h-1.4zM20.8 51.4h1.4v1.4h-1.4zM36.5 36.9h0.8v0.8h-0.8zM31.8 53.8h1.0v1.0h-1.0zM14.2 33.7h1.6v1.6h-1.6z" fill="#6a1000"/><path d="M54.6 55.3h1.1v1.1h-1.1zM23.5 40.1h1.1v1.1h-1.1z" fill="#ff9a30"/></g><g filter="url(#b04)"><path d="M26.1 18.1h1.0v1.0h-1.0zM27.7 12.4h0.9v0.9h-0.9zM23.9 17.7h0.6v0.6h-0.6zM26.0 19.5h0.6v0.6h-0.6zM24.4 16.2h0.8v0.8h-0.8zM18.6 10.2h0.9v0.9h-0.9zM18.4 6.7h0.7v0.7h-0.7zM32.5 15.7h0.8v0.8h-0.8zM19.1 6.4h1.0v1.0h-1.0zM32.2 7.0h0.6v0.6h-0.6zM21.8 21.8h0.8v0.8h-0.8zM19.2 23.7h0.8v0.8h-0.8zM31.7 15.8h0.7v0.7h-0.7zM20.8 14.8h0.8v0.8h-0.8z" fill="#30b000"/></g><path d="M-1 30.5 L-1 59 L45 59 Z" fill="#55ec00"/><path d="M-1 30.5 L45 59" stroke="#000" stroke-width="0.8"/></g>
<clipPath id="cp19"><rect x="0" y="0" width="56.4" height="57"/></clipPath><g transform="translate(262.3,434)" clip-path="url(#cp19)"><rect x="0" y="0" width="56.4" height="57" fill="#000"/><path d="M50.0 -2.0 C48.7 0.0 44.7 6.0 42.0 10.0 C39.3 14.0 36.7 17.8 34.0 22.0 C31.3 26.2 28.3 31.2 26.0 35.0 C23.7 38.8 22.0 41.2 20.0 45.0 C18.0 48.8 15.0 55.8 14.0 58.0" stroke="rgb(35,35,35)" stroke-width="8" fill="none" filter="url(#b2)"/><path d="M50.0 -2.0 C48.7 0.0 44.7 6.0 42.0 10.0 C39.3 14.0 36.7 17.8 34.0 22.0 C31.3 26.2 28.3 31.2 26.0 35.0 C23.7 38.8 22.0 41.2 20.0 45.0 C18.0 48.8 15.0 55.8 14.0 58.0" stroke="rgb(95,95,95)" stroke-width="2.2" fill="none" filter="url(#b05)"/><path d="M58.0 2.0 C57.0 3.7 54.0 8.7 52.0 12.0 C50.0 15.3 48.0 19.0 46.0 22.0 C44.0 25.0 41.0 28.7 40.0 30.0" stroke="rgb(55,55,55)" stroke-width="1.2" fill="none" filter="url(#b1)"/><ellipse cx="19.5" cy="13.5" rx="4" ry="1.8" fill="rgb(50,50,50)" filter="url(#b1)"/><ellipse cx="38.5" cy="11.5" rx="3.3" ry="4" fill="rgb(200,200,200)" filter="url(#b1)"/><ellipse cx="36" cy="17.5" rx="1.3" ry="1.3" fill="rgb(170,170,170)" filter="url(#b05)"/><ellipse cx="23" cy="39" rx="2.3" ry="5" transform="rotate(25 23 39)" fill="rgb(150,150,150)" filter="url(#b1)"/></g>
<clipPath id="cp20"><rect x="0" y="0" width="56.4" height="57"/></clipPath><g transform="translate(262.3,493)" clip-path="url(#cp20)"><rect x="0" y="0" width="56.4" height="57" fill="#000"/><rect x="0" y="0" width="57" height="57" fill="#0a0000"/><path d="M30.0 -1.0 L58.0 -1.0 L58.0 12.0 L26.0 58.0 L8.0 58.0 Z" fill="#400400" filter="url(#b1)"/><path d="M56.0 1.0 C54.3 2.5 49.0 7.2 46.0 10.0 C43.0 12.8 40.7 14.8 38.0 18.0 C35.3 21.2 32.7 25.0 30.0 29.0 C27.3 33.0 24.7 37.7 22.0 42.0 C19.3 46.3 15.3 52.8 14.0 55.0" stroke="#a02800" stroke-width="6" fill="none" filter="url(#b1)"/><path d="M56.0 1.0 C54.3 2.5 49.0 7.2 46.0 10.0 C43.0 12.8 40.7 14.8 38.0 18.0 C35.3 21.2 32.7 25.0 30.0 29.0 C27.3 33.0 24.7 37.7 22.0 42.0 C19.3 46.3 15.3 52.8 14.0 55.0" stroke="#e86010" stroke-width="1.8" fill="none" filter="url(#b05)"/><path d="M58.0 6.0 C57.0 7.3 54.0 11.3 52.0 14.0 C50.0 16.7 48.0 19.0 46.0 22.0 C44.0 25.0 41.0 30.3 40.0 32.0" stroke="#801800" stroke-width="1.5" fill="none" filter="url(#b05)"/><path d="M8.0 6.0 C9.0 6.7 11.7 8.9 14.0 10.0 C16.3 11.1 19.3 11.8 22.0 12.5 C24.7 13.2 28.7 13.8 30.0 14.0" stroke="#5a0800" stroke-width="3" fill="none" filter="url(#b1)"/><ellipse cx="38.5" cy="11.5" rx="3.3" ry="4" fill="#fff2b0" filter="url(#b1)"/><ellipse cx="36" cy="17.5" rx="1.4" ry="1.4" fill="#ffc040" filter="url(#b05)"/><ellipse cx="23" cy="39" rx="2.5" ry="5" transform="rotate(25 23 39)" fill="#d06010" filter="url(#b1)"/><path d="M58.5 10.0 L58.5 58.5 L24.6 58.5 Z" fill="#55ec00"/><path d="M15.0 -1.0 C18.7 -1.7 34.5 -2.2 38.0 -1.0 C41.5 0.2 37.3 4.2 36.0 6.0 C34.7 7.8 32.0 8.8 30.0 9.5 C28.0 10.2 25.8 10.4 24.0 10.0 C22.2 9.6 20.3 8.2 19.0 7.0 C17.7 5.8 16.7 4.3 16.0 3.0 C15.3 1.7 11.3 -0.3 15.0 -1.0 Z" fill="#55ec00"/><path d="M10.8 3.3 L14.0 6.0 L18.0 11.0 L20.5 17.0 L19.0 25.0 L15.0 35.0 L10.0 45.0 L6.0 50.0 L2.0 58.5 L-1.0 58.5 L-1.0 31.7 L3.0 22.0 L7.0 12.0 Z" fill="#55ec00"/><g filter="url(#b04)"><path d="M8.6 16.7h0.9v0.9h-0.9zM10.6 5.6h0.7v0.7h-0.7zM13.1 6.4h0.9v0.9h-0.9zM10.9 7.0h1.0v1.0h-1.0zM1.1 30.4h0.8v0.8h-0.8zM5.7 22.6h1.1v1.1h-1.1zM8.8 9.0h0.8v0.8h-0.8zM8.4 15.3h0.7v0.7h-0.7zM5.8 20.3h1.3v1.3h-1.3zM5.8 14.4h0.9v0.9h-0.9zM10.1 8.4h0.7v0.7h-0.7zM4.8 27.0h0.9v0.9h-0.9zM3.4 24.1h0.9v0.9h-0.9z" fill="#0a0000"/><path d="M1.6 31.6h1.0v1.0h-1.0zM7.1 17.5h1.1v1.1h-1.1zM8.5 17.0h1.1v1.1h-1.1zM3.1 24.5h1.0v1.0h-1.0zM6.5 22.9h1.0v1.0h-1.0zM2.3 27.7h0.8v0.8h-0.8zM12.0 7.2h1.3v1.3h-1.3zM4.1 23.7h1.3v1.3h-1.3zM4.0 26.7h1.0v1.0h-1.0z" fill="#3a0000"/></g><g filter="url(#b04)"><path d="M14.8 30.2h0.8v0.8h-0.8zM16.1 30.0h1.0v1.0h-1.0zM16.2 27.4h0.8v0.8h-0.8zM11.6 41.5h0.7v0.7h-0.7zM9.2 44.1h0.9v0.9h-0.9zM19.7 18.5h0.8v0.8h-0.8zM13.2 38.5h1.2v1.2h-1.2zM15.7 31.4h0.7v0.7h-0.7z" fill="#0a0000"/></g><g filter="url(#b04)"><path d="M2.8 20.9h1.2v1.2h-1.2zM5.3 7.2h1.3v1.3h-1.3zM6.2 10.1h0.9v0.9h-0.9zM4.6 14.6h1.0v1.0h-1.0zM4.1 14.7h1.3v1.3h-1.3zM4.4 7.6h0.7v0.7h-0.7zM6.6 5.2h0.8v0.8h-0.8zM6.1 9.8h0.9v0.9h-0.9zM1.3 17.3h1.2v1.2h-1.2zM8.4 3.7h0.8v0.8h-0.8zM2.2 22.0h1.0v1.0h-1.0zM8.9 3.3h0.9v0.9h-0.9zM2.5 17.7h1.0v1.0h-1.0zM5.2 6.7h1.0v1.0h-1.0z" fill="#40d000"/></g><path d="M11.0 9.0 C11.8 9.4 14.2 10.8 16.0 11.5 C17.8 12.2 20.0 12.9 22.0 13.5 C24.0 14.1 27.0 14.8 28.0 15.0" stroke="#4a0600" stroke-width="3.2" fill="none" filter="url(#b05)"/><path d="M16.0 12.5 C17.0 12.8 20.2 13.6 22.0 14.0 C23.8 14.4 26.2 14.8 27.0 15.0" stroke="#a02a00" stroke-width="1.2" fill="none" filter="url(#b05)"/></g>
<clipPath id="cp21"><rect x="0" y="0" width="56.6" height="57"/></clipPath><g transform="translate(319.7,314)" clip-path="url(#cp21)"><rect x="0" y="0" width="56.6" height="57" fill="#000"/><path d="M-1.0 21.0 L-1.0 -1.0 L58.0 -1.0 L58.0 58.0 L47.5 58.0 Z" fill="rgb(10,10,10)"/><path d="M0.0 21.0 C0.8 22.0 10.0 24.3 15.0 27.0 C20.0 29.7 25.0 33.3 30.0 37.0 C35.0 40.7 41.7 45.5 45.0 49.0 C48.3 52.5 47.8 56.5 50.0 58.0 C52.2 59.5 56.7 60.7 58.0 58.0 C59.3 55.3 59.3 45.8 58.0 42.0 C56.7 38.2 53.0 37.0 50.0 35.0 C47.0 33.0 44.2 31.5 40.0 30.0 C35.8 28.5 30.0 27.5 25.0 26.0 C20.0 24.5 14.2 21.8 10.0 21.0 C5.8 20.2 -0.8 20.0 0.0 21.0 Z" fill="rgb(30,30,30)" filter="url(#b2)"/><path d="M48.0 5.0 C49.3 3.0 54.5 2.2 56.0 8.0 C57.5 13.8 58.0 34.7 57.0 40.0 C56.0 45.3 51.5 43.3 50.0 40.0 C48.5 36.7 48.3 25.8 48.0 20.0 C47.7 14.2 46.7 7.0 48.0 5.0 Z" fill="rgb(26,26,26)" filter="url(#b2)"/><path d="M0 21 L47.5 58" stroke="rgb(40,40,40)" stroke-width="1" filter="url(#b05)"/><ellipse cx="37" cy="0.8" rx="3" ry="1.8" fill="rgb(170,170,170)" filter="url(#b05)"/><ellipse cx="43" cy="1" rx="2" ry="2" fill="rgb(150,150,150)" filter="url(#b05)"/><g filter="url(#b04)"><path d="M41.0 41.9h1.0v1.0h-1.0zM32.1 44.0h1.4v1.4h-1.4zM41.3 42.4h1.1v1.1h-1.1zM26.3 38.6h1.5v1.5h-1.5zM17.9 25.9h1.4v1.4h-1.4zM39.9 36.5h0.8v0.8h-0.8z" fill="#484848"/><path d="M10.5 23.3h1.4v1.4h-1.4zM50.5 51.0h1.2v1.2h-1.2zM31.3 34.0h1.1v1.1h-1.1zM49.0 44.7h1.4v1.4h-1.4zM27.5 37.7h1.2v1.2h-1.2z" fill="#787878"/><path d="M16.9 27.4h0.9v0.9h-0.9zM46.3 39.9h0.9v0.9h-0.9zM32.2 35.5h1.0v1.0h-1.0zM33.0 36.8h1.1v1.1h-1.1zM18.9 31.6h1.3v1.3h-1.3zM45.3 43.2h1.3v1.3h-1.3z" fill="#606060"/><path d="M39.0 48.4h1.2v1.2h-1.2z" fill="#909090"/></g></g>
<clipPath id="cp22"><rect x="0" y="0" width="56.6" height="57"/></clipPath><g transform="translate(319.7,373)" clip-path="url(#cp22)"><rect x="0" y="0" width="56.6" height="57" fill="#000"/><rect x="0" y="0" width="57" height="57" fill="#160000"/><ellipse cx="27" cy="16" rx="16" ry="13" fill="none" stroke="#2a0200" stroke-width="3" filter="url(#b1)"/><path d="M0.0 22.0 C3.3 16.3 13.3 22.3 20.0 24.0 C26.7 25.7 33.8 29.7 40.0 32.0 C46.2 34.3 54.2 33.7 57.0 38.0 C59.8 42.3 66.5 54.7 57.0 58.0 C47.5 61.3 9.5 64.0 0.0 58.0 C-9.5 52.0 -3.3 27.7 0.0 22.0 Z" fill="#300400" filter="url(#b2)"/><path d="M2.0 26.0 C4.5 25.2 13.7 25.2 20.0 27.0 C26.3 28.8 34.0 33.2 40.0 37.0 C46.0 40.8 53.3 46.5 56.0 50.0 C58.7 53.5 58.7 56.7 56.0 58.0 C53.3 59.3 46.0 61.0 40.0 58.0 C34.0 55.0 25.8 44.3 20.0 40.0 C14.2 35.7 8.0 34.3 5.0 32.0 C2.0 29.7 -0.5 26.8 2.0 26.0 Z" fill="#4a0800" filter="url(#b2)"/><path d="M46.0 5.0 C47.5 2.3 55.2 -2.2 57.0 4.0 C58.8 10.2 58.0 36.7 57.0 42.0 C56.0 47.3 52.5 39.7 51.0 36.0 C49.5 32.3 48.8 25.2 48.0 20.0 C47.2 14.8 44.5 7.7 46.0 5.0 Z" fill="#2a0300" filter="url(#b2)"/><path d="M8.0 27.0 C8.5 26.0 14.0 25.5 16.0 26.0 C18.0 26.5 20.5 29.0 20.0 30.0 C19.5 31.0 15.0 32.5 13.0 32.0 C11.0 31.5 7.5 28.0 8.0 27.0 Z" fill="#7a1800" filter="url(#b1)"/><path d="M35.0 0.5 C35.5 0.0 38.5 -0.1 40.0 0.0 C41.5 0.1 43.8 0.5 44.0 1.0 C44.2 1.5 42.2 2.7 41.0 3.0 C39.8 3.3 38.0 3.4 37.0 3.0 C36.0 2.6 34.5 1.0 35.0 0.5 Z" fill="#e07010" filter="url(#b05)"/><g filter="url(#b04)"><path d="M5.2 48.0h1.3v1.3h-1.3zM41.2 44.2h1.1v1.1h-1.1zM31.7 56.5h1.1v1.1h-1.1zM4.2 33.9h1.0v1.0h-1.0zM1.3 48.3h1.2v1.2h-1.2zM30.6 38.3h1.2v1.2h-1.2zM6.2 52.2h1.3v1.3h-1.3zM14.3 32.3h1.3v1.3h-1.3zM43.7 55.4h1.4v1.4h-1.4zM36.3 39.3h1.0v1.0h-1.0zM54.9 47.6h1.5v1.5h-1.5zM49.0 46.1h1.1v1.1h-1.1zM15.1 36.7h1.2v1.2h-1.2zM24.2 40.7h1.4v1.4h-1.4zM0.1 28.8h1.2v1.2h-1.2zM2.9 43.3h1.2v1.2h-1.2zM11.0 51.7h1.5v1.5h-1.5zM30.7 37.7h1.1v1.1h-1.1zM32.2 45.9h1.0v1.0h-1.0zM25.6 54.4h1.5v1.5h-1.5zM41.5 51.6h1.5v1.5h-1.5zM28.7 34.9h1.6v1.6h-1.6zM5.3 34.6h0.9v0.9h-0.9zM33.5 39.5h1.4v1.4h-1.4zM28.2 55.0h1.0v1.0h-1.0z" fill="#6a1000"/><path d="M1.0 47.8h1.1v1.1h-1.1zM27.4 49.5h0.9v0.9h-0.9zM18.5 53.9h1.0v1.0h-1.0zM23.9 40.5h1.3v1.3h-1.3zM52.4 56.2h1.4v1.4h-1.4zM46.6 45.3h1.5v1.5h-1.5zM12.6 31.5h1.5v1.5h-1.5zM5.0 39.7h1.5v1.5h-1.5zM8.3 53.3h1.2v1.2h-1.2zM45.1 41.5h0.9v0.9h-0.9zM27.6 56.5h1.3v1.3h-1.3z" fill="#9a2800"/><path d="M2.5 44.5h0.9v0.9h-0.9zM4.3 53.0h1.1v1.1h-1.1zM6.3 51.1h1.0v1.0h-1.0zM47.6 55.1h1.3v1.3h-1.3z" fill="#d05010"/><path d="M46.0 53.9h1.6v1.6h-1.6zM8.4 55.5h1.6v1.6h-1.6zM32.9 50.3h1.2v1.2h-1.2zM14.6 32.5h1.6v1.6h-1.6zM54.0 51.8h1.0v1.0h-1.0z" fill="#ff9a30"/></g><g filter="url(#b04)"><path d="M18.1 10.1h0.6v0.6h-0.6zM22.7 6.2h0.7v0.7h-0.7zM19.6 10.5h0.8v0.8h-0.8zM28.6 8.6h0.8v0.8h-0.8zM26.2 15.2h0.8v0.8h-0.8zM19.7 8.2h0.8v0.8h-0.8zM32.3 7.1h0.8v0.8h-0.8zM19.5 6.6h0.7v0.7h-0.7zM32.3 17.2h0.9v0.9h-0.9zM30.9 9.1h0.7v0.7h-0.7zM32.2 9.5h0.9v0.9h-0.9zM26.2 13.8h0.8v0.8h-0.8zM18.6 8.4h0.6v0.6h-0.6zM23.7 9.7h1.0v1.0h-1.0z" fill="#30b000"/></g><path d="M-1 30.5 L-1 59 L45 59 Z" fill="#55ec00"/><path d="M-1 30.5 L45 59" stroke="#000" stroke-width="0.8"/></g>
<clipPath id="cp23"><rect x="0" y="0" width="56.6" height="57"/></clipPath><g transform="translate(319.7,434)" clip-path="url(#cp23)"><rect x="0" y="0" width="56.6" height="57" fill="#000"/><path d="M50.0 -2.0 C48.7 0.0 44.7 6.0 42.0 10.0 C39.3 14.0 36.7 17.8 34.0 22.0 C31.3 26.2 28.3 31.2 26.0 35.0 C23.7 38.8 22.0 41.2 20.0 45.0 C18.0 48.8 15.0 55.8 14.0 58.0" stroke="rgb(35,35,35)" stroke-width="8" fill="none" filter="url(#b2)"/><path d="M50.0 -2.0 C48.7 0.0 44.7 6.0 42.0 10.0 C39.3 14.0 36.7 17.8 34.0 22.0 C31.3 26.2 28.3 31.2 26.0 35.0 C23.7 38.8 22.0 41.2 20.0 45.0 C18.0 48.8 15.0 55.8 14.0 58.0" stroke="rgb(95,95,95)" stroke-width="2.2" fill="none" filter="url(#b05)"/><path d="M58.0 2.0 C57.0 3.7 54.0 8.7 52.0 12.0 C50.0 15.3 48.0 19.0 46.0 22.0 C44.0 25.0 41.0 28.7 40.0 30.0" stroke="rgb(55,55,55)" stroke-width="1.2" fill="none" filter="url(#b1)"/><ellipse cx="19.5" cy="13.5" rx="4" ry="1.8" fill="rgb(50,50,50)" filter="url(#b1)"/><ellipse cx="38.5" cy="11.5" rx="3.3" ry="4" fill="rgb(180,180,180)" filter="url(#b1)"/><ellipse cx="36" cy="17.5" rx="1.3" ry="1.3" fill="rgb(150,150,150)" filter="url(#b05)"/><ellipse cx="24" cy="37.5" rx="2.3" ry="5" transform="rotate(25 24 37.5)" fill="rgb(170,170,170)" filter="url(#b1)"/></g>
<clipPath id="cp24"><rect x="0" y="0" width="56.6" height="57"/></clipPath><g transform="translate(319.7,493)" clip-path="url(#cp24)"><rect x="0" y="0" width="56.6" height="57" fill="#000"/><rect x="0" y="0" width="57" height="57" fill="#0a0000"/><path d="M30.0 -1.0 L58.0 -1.0 L58.0 12.0 L26.0 58.0 L8.0 58.0 Z" fill="#400400" filter="url(#b1)"/><path d="M56.0 1.0 C54.3 2.5 49.0 7.2 46.0 10.0 C43.0 12.8 40.7 14.8 38.0 18.0 C35.3 21.2 32.7 25.0 30.0 29.0 C27.3 33.0 24.7 37.7 22.0 42.0 C19.3 46.3 15.3 52.8 14.0 55.0" stroke="#a02800" stroke-width="6" fill="none" filter="url(#b1)"/><path d="M56.0 1.0 C54.3 2.5 49.0 7.2 46.0 10.0 C43.0 12.8 40.7 14.8 38.0 18.0 C35.3 21.2 32.7 25.0 30.0 29.0 C27.3 33.0 24.7 37.7 22.0 42.0 C19.3 46.3 15.3 52.8 14.0 55.0" stroke="#e86010" stroke-width="1.8" fill="none" filter="url(#b05)"/><path d="M58.0 6.0 C57.0 7.3 54.0 11.3 52.0 14.0 C50.0 16.7 48.0 19.0 46.0 22.0 C44.0 25.0 41.0 30.3 40.0 32.0" stroke="#801800" stroke-width="1.5" fill="none" filter="url(#b05)"/><path d="M8.0 6.0 C9.0 6.7 11.7 8.9 14.0 10.0 C16.3 11.1 19.3 11.8 22.0 12.5 C24.7 13.2 28.7 13.8 30.0 14.0" stroke="#5a0800" stroke-width="3" fill="none" filter="url(#b1)"/><ellipse cx="38.5" cy="11.5" rx="3.3" ry="4" fill="#fff2b0" filter="url(#b1)"/><ellipse cx="36" cy="17.5" rx="1.4" ry="1.4" fill="#ffc040" filter="url(#b05)"/><ellipse cx="24" cy="37.5" rx="2.5" ry="5" transform="rotate(25 24 37.5)" fill="#f0a040" filter="url(#b1)"/><path d="M58.5 10.0 L58.5 58.5 L24.6 58.5 Z" fill="#55ec00"/><path d="M15.0 -1.0 C18.7 -1.7 34.5 -2.2 38.0 -1.0 C41.5 0.2 37.3 4.2 36.0 6.0 C34.7 7.8 32.0 8.8 30.0 9.5 C28.0 10.2 25.8 10.4 24.0 10.0 C22.2 9.6 20.3 8.2 19.0 7.0 C17.7 5.8 16.7 4.3 16.0 3.0 C15.3 1.7 11.3 -0.3 15.0 -1.0 Z" fill="#55ec00"/><path d="M10.8 3.3 L14.0 6.0 L18.0 11.0 L20.5 17.0 L19.0 25.0 L15.0 35.0 L10.0 45.0 L6.0 50.0 L2.0 58.5 L-1.0 58.5 L-1.0 31.7 L3.0 22.0 L7.0 12.0 Z" fill="#55ec00"/><g filter="url(#b04)"><path d="M8.5 9.0h1.2v1.2h-1.2zM10.1 13.6h1.1v1.1h-1.1zM10.8 9.8h1.2v1.2h-1.2zM1.9 30.3h0.7v0.7h-0.7zM13.0 5.9h0.8v0.8h-0.8zM4.4 21.3h0.8v0.8h-0.8zM2.4 22.1h1.1v1.1h-1.1zM8.3 16.1h0.8v0.8h-0.8zM8.1 11.4h1.0v1.0h-1.0zM1.7 24.0h1.0v1.0h-1.0z" fill="#3a0000"/><path d="M2.3 28.9h1.2v1.2h-1.2zM5.9 20.2h1.0v1.0h-1.0zM7.2 22.0h1.0v1.0h-1.0zM7.3 20.0h1.2v1.2h-1.2zM6.8 15.4h0.7v0.7h-0.7zM12.4 7.0h1.3v1.3h-1.3zM8.2 12.6h0.8v0.8h-0.8zM3.5 21.3h0.9v0.9h-0.9zM6.4 25.0h1.1v1.1h-1.1zM8.4 13.0h1.2v1.2h-1.2zM6.7 11.5h1.2v1.2h-1.2zM5.9 15.2h1.2v1.2h-1.2z" fill="#0a0000"/></g><g filter="url(#b04)"><path d="M16.4 19.2h1.2v1.2h-1.2zM16.5 20.2h0.7v0.7h-0.7zM11.0 42.0h1.0v1.0h-1.0zM15.5 31.9h1.0v1.0h-1.0zM19.4 18.6h1.1v1.1h-1.1zM17.7 18.8h0.9v0.9h-0.9zM9.2 45.2h0.8v0.8h-0.8zM11.3 38.1h0.9v0.9h-0.9z" fill="#0a0000"/></g><g filter="url(#b04)"><path d="M7.9 6.8h0.7v0.7h-0.7zM9.0 4.4h1.1v1.1h-1.1zM1.0 16.2h0.8v0.8h-0.8zM3.7 12.7h1.2v1.2h-1.2zM1.8 21.5h1.1v1.1h-1.1zM4.7 13.0h1.3v1.3h-1.3zM1.8 17.7h0.8v0.8h-0.8zM4.5 15.0h0.9v0.9h-0.9zM3.4 9.2h1.1v1.1h-1.1zM6.0 7.6h1.2v1.2h-1.2zM0.1 13.7h0.8v0.8h-0.8zM3.3 9.5h1.1v1.1h-1.1zM2.9 16.9h1.3v1.3h-1.3zM0.9 17.4h1.2v1.2h-1.2z" fill="#40d000"/></g><path d="M11.0 9.0 C11.8 9.4 14.2 10.8 16.0 11.5 C17.8 12.2 20.0 12.9 22.0 13.5 C24.0 14.1 27.0 14.8 28.0 15.0" stroke="#4a0600" stroke-width="3.2" fill="none" filter="url(#b05)"/><path d="M16.0 12.5 C17.0 12.8 20.2 13.6 22.0 14.0 C23.8 14.4 26.2 14.8 27.0 15.0" stroke="#a02a00" stroke-width="1.2" fill="none" filter="url(#b05)"/></g>
<clipPath id="cp25"><rect x="0" y="0" width="56.7" height="57"/></clipPath><g transform="translate(377.3,314)" clip-path="url(#cp25)"><rect x="0" y="0" width="56.7" height="57" fill="#000"/><path d="M-1.0 21.0 L-1.0 -1.0 L58.0 -1.0 L58.0 58.0 L47.5 58.0 Z" fill="rgb(10,10,10)"/><path d="M0.0 21.0 C0.8 22.0 10.0 24.3 15.0 27.0 C20.0 29.7 25.0 33.3 30.0 37.0 C35.0 40.7 41.7 45.5 45.0 49.0 C48.3 52.5 47.8 56.5 50.0 58.0 C52.2 59.5 56.7 60.7 58.0 58.0 C59.3 55.3 59.3 45.8 58.0 42.0 C56.7 38.2 53.0 37.0 50.0 35.0 C47.0 33.0 44.2 31.5 40.0 30.0 C35.8 28.5 30.0 27.5 25.0 26.0 C20.0 24.5 14.2 21.8 10.0 21.0 C5.8 20.2 -0.8 20.0 0.0 21.0 Z" fill="rgb(30,30,30)" filter="url(#b2)"/><path d="M48.0 5.0 C49.3 3.0 54.5 2.2 56.0 8.0 C57.5 13.8 58.0 34.7 57.0 40.0 C56.0 45.3 51.5 43.3 50.0 40.0 C48.5 36.7 48.3 25.8 48.0 20.0 C47.7 14.2 46.7 7.0 48.0 5.0 Z" fill="rgb(26,26,26)" filter="url(#b2)"/><path d="M0 21 L47.5 58" stroke="rgb(40,40,40)" stroke-width="1" filter="url(#b05)"/><ellipse cx="37" cy="0.8" rx="3" ry="1.8" fill="rgb(170,170,170)" filter="url(#b05)"/><ellipse cx="43" cy="1" rx="2" ry="2" fill="rgb(150,150,150)" filter="url(#b05)"/><g filter="url(#b04)"><path d="M54.7 49.7h1.4v1.4h-1.4zM29.8 41.8h1.3v1.3h-1.3zM44.2 52.2h1.2v1.2h-1.2zM46.3 46.9h0.9v0.9h-0.9zM47.2 42.5h1.3v1.3h-1.3z" fill="#484848"/><path d="M35.4 35.8h1.1v1.1h-1.1zM45.7 47.2h1.0v1.0h-1.0zM52.1 56.8h0.9v0.9h-0.9zM40.9 35.9h1.2v1.2h-1.2zM48.9 50.8h1.5v1.5h-1.5zM33.6 46.3h1.3v1.3h-1.3zM39.0 38.5h0.8v0.8h-0.8zM37.5 47.4h1.6v1.6h-1.6zM29.5 38.5h1.5v1.5h-1.5zM37.4 46.5h0.8v0.8h-0.8zM51.3 46.1h1.4v1.4h-1.4z" fill="#606060"/><path d="M38.1 45.9h1.2v1.2h-1.2zM36.3 48.1h0.8v0.8h-0.8z" fill="#787878"/></g></g>
<clipPath id="cp26"><rect x="0" y="0" width="56.7" height="57"/></clipPath><g transform="translate(377.3,373)" clip-path="url(#cp26)"><rect x="0" y="0" width="56.7" height="57" fill="#000"/><rect x="0" y="0" width="57" height="57" fill="#160000"/><ellipse cx="27" cy="16" rx="16" ry="13" fill="none" stroke="#2a0200" stroke-width="3" filter="url(#b1)"/><path d="M0.0 22.0 C3.3 16.3 13.3 22.3 20.0 24.0 C26.7 25.7 33.8 29.7 40.0 32.0 C46.2 34.3 54.2 33.7 57.0 38.0 C59.8 42.3 66.5 54.7 57.0 58.0 C47.5 61.3 9.5 64.0 0.0 58.0 C-9.5 52.0 -3.3 27.7 0.0 22.0 Z" fill="#300400" filter="url(#b2)"/><path d="M2.0 26.0 C4.5 25.2 13.7 25.2 20.0 27.0 C26.3 28.8 34.0 33.2 40.0 37.0 C46.0 40.8 53.3 46.5 56.0 50.0 C58.7 53.5 58.7 56.7 56.0 58.0 C53.3 59.3 46.0 61.0 40.0 58.0 C34.0 55.0 25.8 44.3 20.0 40.0 C14.2 35.7 8.0 34.3 5.0 32.0 C2.0 29.7 -0.5 26.8 2.0 26.0 Z" fill="#4a0800" filter="url(#b2)"/><path d="M46.0 5.0 C47.5 2.3 55.2 -2.2 57.0 4.0 C58.8 10.2 58.0 36.7 57.0 42.0 C56.0 47.3 52.5 39.7 51.0 36.0 C49.5 32.3 48.8 25.2 48.0 20.0 C47.2 14.8 44.5 7.7 46.0 5.0 Z" fill="#2a0300" filter="url(#b2)"/><path d="M8.0 27.0 C8.5 26.0 14.0 25.5 16.0 26.0 C18.0 26.5 20.5 29.0 20.0 30.0 C19.5 31.0 15.0 32.5 13.0 32.0 C11.0 31.5 7.5 28.0 8.0 27.0 Z" fill="#7a1800" filter="url(#b1)"/><path d="M35.0 0.5 C35.5 0.0 38.5 -0.1 40.0 0.0 C41.5 0.1 43.8 0.5 44.0 1.0 C44.2 1.5 42.2 2.7 41.0 3.0 C39.8 3.3 38.0 3.4 37.0 3.0 C36.0 2.6 34.5 1.0 35.0 0.5 Z" fill="#e07010" filter="url(#b05)"/><g filter="url(#b04)"><path d="M3.9 38.4h1.6v1.6h-1.6zM26.5 52.8h1.5v1.5h-1.5zM56.9 55.6h1.1v1.1h-1.1zM27.2 56.3h1.0v1.0h-1.0zM11.6 53.2h1.1v1.1h-1.1zM22.4 43.6h1.6v1.6h-1.6zM14.0 42.5h1.2v1.2h-1.2zM16.9 41.0h0.9v0.9h-0.9zM41.0 43.0h1.6v1.6h-1.6zM44.6 48.3h1.2v1.2h-1.2z" fill="#d05010"/><path d="M18.4 46.0h1.5v1.5h-1.5zM23.1 51.4h1.2v1.2h-1.2zM41.0 50.3h1.4v1.4h-1.4zM51.1 56.9h1.4v1.4h-1.4zM45.7 43.8h0.9v0.9h-0.9zM25.3 43.7h1.5v1.5h-1.5zM14.8 41.5h0.9v0.9h-0.9zM3.7 30.2h1.2v1.2h-1.2zM23.3 49.6h1.0v1.0h-1.0zM45.7 49.5h1.0v1.0h-1.0zM28.1 51.6h1.1v1.1h-1.1zM2.3 52.5h0.9v0.9h-0.9zM22.4 52.2h1.1v1.1h-1.1zM40.4 55.9h1.1v1.1h-1.1zM15.0 39.3h1.0v1.0h-1.0zM50.7 48.8h1.2v1.2h-1.2zM25.5 51.4h1.4v1.4h-1.4zM30.3 34.9h1.2v1.2h-1.2zM7.9 47.7h1.4v1.4h-1.4z" fill="#6a1000"/><path d="M29.7 41.6h0.8v0.8h-0.8zM28.6 55.0h0.8v0.8h-0.8zM55.8 41.9h1.0v1.0h-1.0zM20.1 49.1h1.0v1.0h-1.0z" fill="#ff9a30"/><path d="M3.8 53.8h1.2v1.2h-1.2zM40.0 53.8h1.4v1.4h-1.4zM26.0 39.3h1.4v1.4h-1.4zM23.2 53.1h1.6v1.6h-1.6zM16.6 42.5h1.3v1.3h-1.3zM23.2 48.6h0.9v0.9h-0.9zM51.2 56.1h1.6v1.6h-1.6zM3.0 31.6h1.0v1.0h-1.0zM11.2 38.2h1.4v1.4h-1.4zM39.7 37.9h1.6v1.6h-1.6zM6.8 54.5h1.2v1.2h-1.2zM44.6 43.3h0.9v0.9h-0.9z" fill="#9a2800"/></g><g filter="url(#b04)"><path d="M20.4 13.6h0.9v0.9h-0.9zM21.6 7.0h0.9v0.9h-0.9zM27.8 15.6h0.7v0.7h-0.7zM18.8 20.6h1.0v1.0h-1.0zM27.9 9.1h0.7v0.7h-0.7zM19.9 7.7h0.9v0.9h-0.9zM25.5 11.0h0.7v0.7h-0.7zM27.6 17.4h0.8v0.8h-0.8zM19.0 23.0h0.6v0.6h-0.6zM31.1 12.0h0.8v0.8h-0.8zM22.1 9.4h0.6v0.6h-0.6zM25.6 13.2h0.9v0.9h-0.9zM23.9 23.5h0.6v0.6h-0.6zM30.0 6.5h0.7v0.7h-0.7z" fill="#30b000"/></g><path d="M-1 30.5 L-1 59 L45 59 Z" fill="#55ec00"/><path d="M-1 30.5 L45 59" stroke="#000" stroke-width="0.8"/></g>
<clipPath id="cp27"><rect x="0" y="0" width="56.7" height="57"/></clipPath><g transform="translate(377.3,434)" clip-path="url(#cp27)"><rect x="0" y="0" width="56.7" height="57" fill="#000"/><path d="M50.0 -2.0 C48.7 0.0 44.7 6.0 42.0 10.0 C39.3 14.0 36.7 17.8 34.0 22.0 C31.3 26.2 28.3 31.2 26.0 35.0 C23.7 38.8 22.0 41.2 20.0 45.0 C18.0 48.8 15.0 55.8 14.0 58.0" stroke="rgb(35,35,35)" stroke-width="8" fill="none" filter="url(#b2)"/><path d="M50.0 -2.0 C48.7 0.0 44.7 6.0 42.0 10.0 C39.3 14.0 36.7 17.8 34.0 22.0 C31.3 26.2 28.3 31.2 26.0 35.0 C23.7 38.8 22.0 41.2 20.0 45.0 C18.0 48.8 15.0 55.8 14.0 58.0" stroke="rgb(95,95,95)" stroke-width="2.2" fill="none" filter="url(#b05)"/><path d="M58.0 2.0 C57.0 3.7 54.0 8.7 52.0 12.0 C50.0 15.3 48.0 19.0 46.0 22.0 C44.0 25.0 41.0 28.7 40.0 30.0" stroke="rgb(55,55,55)" stroke-width="1.2" fill="none" filter="url(#b1)"/><ellipse cx="19.5" cy="13.5" rx="4" ry="1.8" fill="rgb(50,50,50)" filter="url(#b1)"/><ellipse cx="38.5" cy="11.5" rx="3.3" ry="4" fill="rgb(180,180,180)" filter="url(#b1)"/><ellipse cx="36" cy="17.5" rx="1.3" ry="1.3" fill="rgb(150,150,150)" filter="url(#b05)"/><ellipse cx="25" cy="36" rx="2.3" ry="5" transform="rotate(25 25 36)" fill="rgb(190,190,190)" filter="url(#b1)"/></g>
<clipPath id="cp28"><rect x="0" y="0" width="56.7" height="57"/></clipPath><g transform="translate(377.3,493)" clip-path="url(#cp28)"><rect x="0" y="0" width="56.7" height="57" fill="#000"/><rect x="0" y="0" width="57" height="57" fill="#0a0000"/><path d="M30.0 -1.0 L58.0 -1.0 L58.0 12.0 L26.0 58.0 L8.0 58.0 Z" fill="#400400" filter="url(#b1)"/><path d="M56.0 1.0 C54.3 2.5 49.0 7.2 46.0 10.0 C43.0 12.8 40.7 14.8 38.0 18.0 C35.3 21.2 32.7 25.0 30.0 29.0 C27.3 33.0 24.7 37.7 22.0 42.0 C19.3 46.3 15.3 52.8 14.0 55.0" stroke="#a02800" stroke-width="6" fill="none" filter="url(#b1)"/><path d="M56.0 1.0 C54.3 2.5 49.0 7.2 46.0 10.0 C43.0 12.8 40.7 14.8 38.0 18.0 C35.3 21.2 32.7 25.0 30.0 29.0 C27.3 33.0 24.7 37.7 22.0 42.0 C19.3 46.3 15.3 52.8 14.0 55.0" stroke="#e86010" stroke-width="1.8" fill="none" filter="url(#b05)"/><path d="M58.0 6.0 C57.0 7.3 54.0 11.3 52.0 14.0 C50.0 16.7 48.0 19.0 46.0 22.0 C44.0 25.0 41.0 30.3 40.0 32.0" stroke="#801800" stroke-width="1.5" fill="none" filter="url(#b05)"/><path d="M8.0 6.0 C9.0 6.7 11.7 8.9 14.0 10.0 C16.3 11.1 19.3 11.8 22.0 12.5 C24.7 13.2 28.7 13.8 30.0 14.0" stroke="#5a0800" stroke-width="3" fill="none" filter="url(#b1)"/><ellipse cx="38.5" cy="11.5" rx="3.3" ry="4" fill="#fff2b0" filter="url(#b1)"/><ellipse cx="36" cy="17.5" rx="1.4" ry="1.4" fill="#ffc040" filter="url(#b05)"/><ellipse cx="25" cy="36" rx="2.5" ry="5" transform="rotate(25 25 36)" fill="#ffc060" filter="url(#b1)"/><ellipse cx="25" cy="37" rx="1.4" ry="3" transform="rotate(25 25 36)" fill="#1010ff"/><path d="M58.5 10.0 L58.5 58.5 L24.6 58.5 Z" fill="#55ec00"/><path d="M15.0 -1.0 C18.7 -1.7 34.5 -2.2 38.0 -1.0 C41.5 0.2 37.3 4.2 36.0 6.0 C34.7 7.8 32.0 8.8 30.0 9.5 C28.0 10.2 25.8 10.4 24.0 10.0 C22.2 9.6 20.3 8.2 19.0 7.0 C17.7 5.8 16.7 4.3 16.0 3.0 C15.3 1.7 11.3 -0.3 15.0 -1.0 Z" fill="#55ec00"/><path d="M10.8 3.3 L14.0 6.0 L18.0 11.0 L20.5 17.0 L19.0 25.0 L15.0 35.0 L10.0 45.0 L6.0 50.0 L2.0 58.5 L-1.0 58.5 L-1.0 31.7 L3.0 22.0 L7.0 12.0 Z" fill="#55ec00"/><g filter="url(#b04)"><path d="M5.0 23.1h0.7v0.7h-0.7zM6.2 24.1h1.1v1.1h-1.1zM8.1 14.2h1.1v1.1h-1.1zM8.8 8.9h0.8v0.8h-0.8zM11.3 9.7h0.9v0.9h-0.9zM9.6 15.3h1.1v1.1h-1.1zM9.9 12.9h1.2v1.2h-1.2zM4.3 19.3h1.0v1.0h-1.0zM1.9 26.5h1.1v1.1h-1.1zM11.4 8.9h0.8v0.8h-0.8zM0.6 30.1h1.2v1.2h-1.2z" fill="#0a0000"/><path d="M10.6 4.9h1.0v1.0h-1.0zM9.8 15.2h1.3v1.3h-1.3zM7.1 22.1h1.1v1.1h-1.1zM9.7 14.9h1.1v1.1h-1.1zM9.9 16.0h1.2v1.2h-1.2zM10.6 3.9h1.0v1.0h-1.0zM6.2 13.1h0.9v0.9h-0.9zM0.4 31.1h1.2v1.2h-1.2zM8.3 8.4h1.1v1.1h-1.1zM12.3 6.0h1.3v1.3h-1.3zM7.7 18.0h1.1v1.1h-1.1z" fill="#3a0000"/></g><g filter="url(#b04)"><path d="M10.2 41.7h1.1v1.1h-1.1zM17.3 21.2h0.8v0.8h-0.8zM16.4 22.3h0.9v0.9h-0.9zM13.8 28.2h0.9v0.9h-0.9zM15.8 26.9h1.1v1.1h-1.1zM14.0 34.4h1.2v1.2h-1.2zM15.9 28.6h0.9v0.9h-0.9zM12.9 33.9h0.9v0.9h-0.9z" fill="#0a0000"/></g><g filter="url(#b04)"><path d="M0.7 17.5h0.8v0.8h-0.8zM2.5 17.3h0.8v0.8h-0.8zM1.7 17.2h1.2v1.2h-1.2zM2.8 13.7h1.0v1.0h-1.0zM6.4 12.1h1.0v1.0h-1.0zM0.6 25.0h0.8v0.8h-0.8zM4.2 12.2h1.1v1.1h-1.1zM4.3 10.6h1.3v1.3h-1.3zM6.1 8.3h1.3v1.3h-1.3zM4.0 13.8h1.2v1.2h-1.2zM4.9 11.8h0.9v0.9h-0.9zM6.1 9.8h0.8v0.8h-0.8zM2.4 19.6h1.1v1.1h-1.1zM0.0 18.3h1.2v1.2h-1.2z" fill="#40d000"/></g><path d="M11.0 9.0 C11.8 9.4 14.2 10.8 16.0 11.5 C17.8 12.2 20.0 12.9 22.0 13.5 C24.0 14.1 27.0 14.8 28.0 15.0" stroke="#4a0600" stroke-width="3.2" fill="none" filter="url(#b05)"/><path d="M16.0 12.5 C17.0 12.8 20.2 13.6 22.0 14.0 C23.8 14.4 26.2 14.8 27.0 15.0" stroke="#a02a00" stroke-width="1.2" fill="none" filter="url(#b05)"/></g>
<rect x="147" y="371" width="287" height="2" fill="#fff"/>
<rect x="147" y="430" width="287" height="4" fill="#fff"/>
<rect x="147" y="491" width="287" height="2" fill="#fff"/>
<rect x="147" y="617" width="287" height="3" fill="#fff"/>
<rect x="147" y="677" width="287" height="3" fill="#fff"/>
<rect x="147" y="737" width="287" height="2" fill="#fff"/>
<clipPath id="cp30"><rect x="0" y="0" width="116" height="117"/></clipPath><g transform="translate(29,560)" clip-path="url(#cp30)"><rect x="0" y="0" width="116" height="117" fill="#000"/><clipPath id="bc29"><path d="M35.6 119.0 C31.4 115.0 35.7 102.7 36.0 95.0 C36.3 87.3 36.6 78.4 37.3 72.9 C38.0 67.4 38.9 65.1 40.0 62.0 C41.1 58.9 42.3 57.2 44.0 54.2 C45.7 51.2 48.0 47.1 50.0 44.0 C52.0 40.9 53.7 38.4 55.9 35.6 C58.1 32.8 60.5 29.6 63.0 27.0 C65.5 24.4 68.5 22.5 71.2 20.3 C73.9 18.1 76.5 16.0 79.0 14.0 C81.5 12.0 84.4 9.6 86.4 8.5 C88.4 7.4 89.9 7.1 91.0 7.5 C92.1 7.9 92.9 10.0 93.0 11.0 C93.1 12.0 92.7 11.9 91.5 13.6 C90.3 15.3 88.0 18.2 86.0 21.0 C84.0 23.8 81.7 27.8 79.7 30.5 C77.7 33.2 75.7 34.8 74.0 37.0 C72.3 39.2 71.3 41.2 69.5 44.0 C67.7 46.8 64.7 50.6 63.0 54.0 C61.3 57.4 60.2 60.9 59.3 64.4 C58.4 67.9 57.9 71.6 57.6 75.0 C57.3 78.4 57.4 80.5 57.6 84.7 C57.8 88.9 58.4 94.3 59.0 100.0 C59.6 105.7 64.9 115.8 61.0 119.0 C57.1 122.2 39.8 123.0 35.6 119.0 Z"/></clipPath><path d="M35.6 119.0 C31.4 115.0 35.7 102.7 36.0 95.0 C36.3 87.3 36.6 78.4 37.3 72.9 C38.0 67.4 38.9 65.1 40.0 62.0 C41.1 58.9 42.3 57.2 44.0 54.2 C45.7 51.2 48.0 47.1 50.0 44.0 C52.0 40.9 53.7 38.4 55.9 35.6 C58.1 32.8 60.5 29.6 63.0 27.0 C65.5 24.4 68.5 22.5 71.2 20.3 C73.9 18.1 76.5 16.0 79.0 14.0 C81.5 12.0 84.4 9.6 86.4 8.5 C88.4 7.4 89.9 7.1 91.0 7.5 C92.1 7.9 92.9 10.0 93.0 11.0 C93.1 12.0 92.7 11.9 91.5 13.6 C90.3 15.3 88.0 18.2 86.0 21.0 C84.0 23.8 81.7 27.8 79.7 30.5 C77.7 33.2 75.7 34.8 74.0 37.0 C72.3 39.2 71.3 41.2 69.5 44.0 C67.7 46.8 64.7 50.6 63.0 54.0 C61.3 57.4 60.2 60.9 59.3 64.4 C58.4 67.9 57.9 71.6 57.6 75.0 C57.3 78.4 57.4 80.5 57.6 84.7 C57.8 88.9 58.4 94.3 59.0 100.0 C59.6 105.7 64.9 115.8 61.0 119.0 C57.1 122.2 39.8 123.0 35.6 119.0 Z" fill="rgb(14,14,14)"/><g clip-path="url(#bc29)"><path d="M35.6 119.0 C35.7 115.0 35.7 102.7 36.0 95.0 C36.3 87.3 36.6 78.4 37.3 72.9 C38.0 67.4 38.9 65.1 40.0 62.0 C41.1 58.9 42.3 57.2 44.0 54.2 C45.7 51.2 48.0 47.1 50.0 44.0 C52.0 40.9 53.7 38.4 55.9 35.6 C58.1 32.8 60.5 29.6 63.0 27.0 C65.5 24.4 68.5 22.5 71.2 20.3 C73.9 18.1 76.5 16.0 79.0 14.0 C81.5 12.0 84.4 9.6 86.4 8.5 C88.4 7.4 90.2 7.7 91.0 7.5" stroke="rgb(65,65,65)" stroke-width="9" fill="none" filter="url(#b1)"/><path d="M93.0 11.0 C92.8 11.4 92.7 11.9 91.5 13.6 C90.3 15.3 88.0 18.2 86.0 21.0 C84.0 23.8 81.7 27.8 79.7 30.5 C77.7 33.2 75.7 34.8 74.0 37.0 C72.3 39.2 71.3 41.2 69.5 44.0 C67.7 46.8 64.7 50.6 63.0 54.0 C61.3 57.4 60.2 60.9 59.3 64.4 C58.4 67.9 57.9 71.6 57.6 75.0 C57.3 78.4 57.4 80.5 57.6 84.7 C57.8 88.9 58.4 94.3 59.0 100.0 C59.6 105.7 60.7 115.8 61.0 119.0" stroke="rgb(55,55,55)" stroke-width="8" fill="none" filter="url(#b1)"/><path d="M53.0 56.0 C53.7 55.3 55.5 54.0 57.0 52.0 C58.5 50.0 60.2 46.3 62.0 44.0 C63.8 41.7 66.3 40.0 68.0 38.0 C69.7 36.0 70.0 34.3 72.0 32.0 C74.0 29.7 77.3 27.0 80.0 24.0 C82.7 21.0 86.7 15.7 88.0 14.0" stroke="rgb(70,70,70)" stroke-width="2.5" fill="none" filter="url(#b1)"/><g filter="url(#b04)"><path d="M48.2 55.0h0.9v0.9h-0.9zM55.7 75.2h0.8v0.8h-0.8zM60.7 116.2h0.9v0.9h-0.9zM82.3 23.5h1.1v1.1h-1.1zM62.0 31.9h0.9v0.9h-0.9zM54.6 72.7h1.1v1.1h-1.1zM59.8 53.4h0.8v0.8h-0.8zM41.9 60.7h1.2v1.2h-1.2zM90.7 8.1h0.7v0.7h-0.7zM39.5 92.1h0.6v0.6h-0.6zM40.4 72.0h1.1v1.1h-1.1zM63.5 32.4h0.9v0.9h-0.9zM77.2 32.4h0.9v0.9h-0.9zM40.0 84.1h0.6v0.6h-0.6zM56.7 84.2h0.6v0.6h-0.6zM86.3 9.1h0.6v0.6h-0.6zM70.5 36.5h0.6v0.6h-0.6zM38.6 74.4h0.9v0.9h-0.9zM52.2 42.2h0.9v0.9h-0.9zM56.9 62.0h0.9v0.9h-0.9zM57.6 62.5h1.2v1.2h-1.2zM58.5 61.0h0.6v0.6h-0.6zM41.5 70.5h0.8v0.8h-0.8zM59.2 33.5h0.9v0.9h-0.9zM37.9 98.6h0.5v0.5h-0.5zM47.4 50.3h0.9v0.9h-0.9zM38.8 73.3h0.7v0.7h-0.7zM84.8 17.3h0.6v0.6h-0.6zM40.1 63.4h0.6v0.6h-0.6zM58.3 63.7h1.1v1.1h-1.1zM56.9 111.2h0.8v0.8h-0.8zM46.4 52.9h0.9v0.9h-0.9zM47.4 54.8h0.6v0.6h-0.6zM58.0 35.5h0.6v0.6h-0.6zM67.6 45.5h0.6v0.6h-0.6zM74.9 29.5h0.8v0.8h-0.8zM56.8 64.8h1.1v1.1h-1.1zM53.9 91.8h0.9v0.9h-0.9zM39.9 106.6h0.9v0.9h-0.9zM58.6 35.0h1.2v1.2h-1.2zM62.8 50.0h0.9v0.9h-0.9zM37.6 96.4h1.1v1.1h-1.1zM90.7 8.6h1.0v1.0h-1.0zM91.2 9.7h0.6v0.6h-0.6zM58.0 35.6h0.8v0.8h-0.8zM78.3 16.5h0.7v0.7h-0.7zM77.4 31.6h0.7v0.7h-0.7zM37.1 84.0h0.6v0.6h-0.6zM81.3 23.6h1.1v1.1h-1.1zM61.9 55.0h0.9v0.9h-0.9zM82.0 25.5h1.0v1.0h-1.0zM69.1 36.6h0.7v0.7h-0.7zM49.1 51.8h0.7v0.7h-0.7zM71.7 24.9h0.9v0.9h-0.9zM86.8 18.4h1.2v1.2h-1.2zM56.0 105.8h1.0v1.0h-1.0zM82.2 25.2h1.1v1.1h-1.1zM61.0 32.4h0.7v0.7h-0.7zM57.5 79.8h0.6v0.6h-0.6zM87.8 18.1h0.6v0.6h-0.6zM38.7 77.1h1.2v1.2h-1.2zM60.3 53.3h0.6v0.6h-0.6zM70.3 37.8h0.9v0.9h-0.9zM59.2 35.0h0.7v0.7h-0.7zM38.2 109.3h0.5v0.5h-0.5zM59.0 64.5h0.6v0.6h-0.6zM38.1 109.6h0.9v0.9h-0.9zM78.7 25.0h0.8v0.8h-0.8z" fill="#606060"/><path d="M48.0 52.8h0.8v0.8h-0.8zM82.7 23.4h0.7v0.7h-0.7zM82.5 25.9h1.1v1.1h-1.1zM64.9 26.8h1.0v1.0h-1.0zM79.6 24.0h0.7v0.7h-0.7zM55.8 88.6h1.2v1.2h-1.2zM38.9 69.4h0.6v0.6h-0.6zM85.5 12.1h1.2v1.2h-1.2zM54.0 80.4h0.8v0.8h-0.8zM49.1 50.9h1.1v1.1h-1.1zM39.2 81.8h0.9v0.9h-0.9zM64.6 29.3h1.2v1.2h-1.2zM37.5 103.3h0.9v0.9h-0.9zM43.3 61.5h1.1v1.1h-1.1zM61.1 58.4h0.5v0.5h-0.5zM81.4 25.4h1.1v1.1h-1.1zM77.1 32.6h0.7v0.7h-0.7zM41.6 70.6h0.5v0.5h-0.5zM38.6 90.9h0.8v0.8h-0.8zM37.8 114.0h0.7v0.7h-0.7zM55.3 39.5h1.0v1.0h-1.0zM75.8 31.0h1.1v1.1h-1.1zM58.9 34.9h1.2v1.2h-1.2zM55.7 110.0h1.0v1.0h-1.0zM86.6 13.5h0.8v0.8h-0.8zM36.1 95.4h1.2v1.2h-1.2zM88.9 14.7h0.6v0.6h-0.6zM60.5 30.1h0.5v0.5h-0.5zM54.7 69.3h0.7v0.7h-0.7zM81.4 15.1h1.1v1.1h-1.1zM71.0 36.2h0.5v0.5h-0.5zM57.8 57.3h0.8v0.8h-0.8zM57.2 87.7h1.1v1.1h-1.1zM44.1 60.4h0.6v0.6h-0.6zM55.0 81.6h0.9v0.9h-0.9zM69.7 42.5h0.6v0.6h-0.6zM86.3 10.3h1.2v1.2h-1.2zM58.6 100.9h0.6v0.6h-0.6zM61.1 53.0h1.2v1.2h-1.2zM57.4 117.0h1.2v1.2h-1.2zM60.4 115.4h0.6v0.6h-0.6zM57.9 39.3h1.2v1.2h-1.2zM73.5 23.8h0.9v0.9h-0.9zM56.4 105.5h0.7v0.7h-0.7zM67.1 26.6h0.6v0.6h-0.6zM58.2 33.2h0.8v0.8h-0.8zM38.9 80.3h0.7v0.7h-0.7zM48.2 53.0h0.5v0.5h-0.5zM62.6 31.6h1.2v1.2h-1.2zM36.9 100.3h1.0v1.0h-1.0zM81.2 16.6h0.7v0.7h-0.7zM69.9 42.6h1.0v1.0h-1.0zM40.8 79.3h1.1v1.1h-1.1zM44.0 63.8h0.6v0.6h-0.6zM64.4 48.6h1.1v1.1h-1.1zM68.6 25.2h1.0v1.0h-1.0zM53.8 80.8h1.1v1.1h-1.1zM57.6 92.6h0.9v0.9h-0.9zM43.3 60.7h0.7v0.7h-0.7zM37.4 100.3h1.1v1.1h-1.1zM56.4 96.8h0.7v0.7h-0.7zM67.6 25.1h0.6v0.6h-0.6z" fill="#a8a8a8"/><path d="M49.5 46.1h1.1v1.1h-1.1zM74.0 21.3h1.0v1.0h-1.0zM83.5 23.7h1.1v1.1h-1.1zM38.8 98.2h0.9v0.9h-0.9zM56.2 97.6h1.0v1.0h-1.0zM81.9 25.0h0.7v0.7h-0.7zM40.9 70.0h0.6v0.6h-0.6zM53.6 90.4h1.1v1.1h-1.1zM62.3 48.9h0.9v0.9h-0.9zM57.5 106.3h1.0v1.0h-1.0zM66.0 43.9h0.8v0.8h-0.8zM37.5 87.9h1.0v1.0h-1.0zM67.7 45.5h1.0v1.0h-1.0zM48.2 54.2h0.7v0.7h-0.7zM56.3 40.3h0.5v0.5h-0.5zM37.4 108.9h0.7v0.7h-0.7zM67.9 41.1h1.0v1.0h-1.0zM57.3 96.6h0.8v0.8h-0.8zM38.8 95.6h1.0v1.0h-1.0zM63.7 26.9h1.0v1.0h-1.0zM57.7 110.7h1.1v1.1h-1.1zM56.4 78.1h0.9v0.9h-0.9zM39.4 107.6h1.1v1.1h-1.1zM44.4 54.8h0.8v0.8h-0.8zM72.0 36.4h0.8v0.8h-0.8zM39.2 100.6h0.8v0.8h-0.8zM55.5 94.9h0.9v0.9h-0.9zM61.2 59.1h0.5v0.5h-0.5zM38.0 99.1h0.7v0.7h-0.7zM66.4 47.5h0.8v0.8h-0.8zM38.1 75.6h0.7v0.7h-0.7zM53.2 43.6h0.9v0.9h-0.9zM76.1 19.6h1.0v1.0h-1.0zM56.2 39.9h0.7v0.7h-0.7zM44.4 62.5h0.7v0.7h-0.7zM36.7 86.3h0.6v0.6h-0.6zM72.1 36.2h0.6v0.6h-0.6zM59.8 52.7h0.6v0.6h-0.6zM68.2 42.0h0.6v0.6h-0.6zM61.5 34.9h0.6v0.6h-0.6zM79.5 16.2h0.5v0.5h-0.5zM59.3 58.0h0.7v0.7h-0.7zM37.0 98.6h0.7v0.7h-0.7zM56.8 103.2h0.6v0.6h-0.6zM39.6 74.0h1.0v1.0h-1.0zM55.4 80.6h1.1v1.1h-1.1zM60.7 58.2h0.6v0.6h-0.6zM85.4 19.7h0.8v0.8h-0.8zM37.6 112.7h0.9v0.9h-0.9zM83.8 17.3h0.8v0.8h-0.8zM43.9 54.9h0.8v0.8h-0.8zM58.5 66.8h0.7v0.7h-0.7zM40.9 68.7h0.6v0.6h-0.6zM40.8 77.1h1.1v1.1h-1.1zM56.4 64.3h0.6v0.6h-0.6zM90.5 12.1h0.7v0.7h-0.7zM74.4 31.8h1.1v1.1h-1.1zM56.5 102.5h0.7v0.7h-0.7zM57.8 58.1h1.1v1.1h-1.1zM81.0 15.0h0.8v0.8h-0.8zM86.5 13.2h1.1v1.1h-1.1zM62.2 33.8h1.2v1.2h-1.2zM50.2 47.2h0.6v0.6h-0.6zM36.3 100.7h0.7v0.7h-0.7z" fill="#787878"/><path d="M71.4 33.5h0.9v0.9h-0.9zM73.1 35.6h0.6v0.6h-0.6zM52.1 47.4h1.0v1.0h-1.0zM38.9 99.6h1.2v1.2h-1.2zM38.2 79.7h0.7v0.7h-0.7zM65.4 49.2h0.9v0.9h-0.9z" fill="#ffffff"/><path d="M39.1 85.9h0.8v0.8h-0.8zM40.7 61.2h1.1v1.1h-1.1zM60.1 56.4h0.7v0.7h-0.7zM59.5 116.8h1.1v1.1h-1.1zM91.1 11.6h0.7v0.7h-0.7zM39.0 102.4h0.7v0.7h-0.7zM56.9 87.8h0.9v0.9h-0.9zM44.2 62.6h0.6v0.6h-0.6zM37.1 79.7h0.8v0.8h-0.8zM60.0 31.9h1.0v1.0h-1.0zM80.0 17.4h1.1v1.1h-1.1zM60.5 115.7h0.7v0.7h-0.7zM71.8 24.8h0.7v0.7h-0.7zM88.9 11.5h0.8v0.8h-0.8zM60.0 51.6h0.7v0.7h-0.7zM77.8 18.0h0.8v0.8h-0.8zM40.0 73.9h0.5v0.5h-0.5zM56.9 92.2h0.8v0.8h-0.8zM52.9 42.0h1.1v1.1h-1.1zM58.3 95.8h1.0v1.0h-1.0zM53.6 71.8h0.9v0.9h-0.9zM54.4 90.3h1.0v1.0h-1.0zM43.7 61.0h1.1v1.1h-1.1zM80.9 16.5h1.2v1.2h-1.2zM83.9 19.5h0.9v0.9h-0.9zM67.6 28.1h0.6v0.6h-0.6zM57.8 94.5h1.2v1.2h-1.2zM70.5 41.3h1.1v1.1h-1.1zM63.1 32.7h0.7v0.7h-0.7zM64.8 31.4h1.2v1.2h-1.2zM64.5 30.7h0.8v0.8h-0.8zM56.7 66.9h1.1v1.1h-1.1zM43.0 67.7h0.8v0.8h-0.8zM37.5 89.7h1.1v1.1h-1.1zM66.7 41.2h1.2v1.2h-1.2zM55.7 94.3h1.1v1.1h-1.1zM36.7 105.4h0.9v0.9h-0.9zM55.0 64.9h0.7v0.7h-0.7zM57.5 83.0h0.9v0.9h-0.9zM84.6 18.7h0.8v0.8h-0.8zM56.0 86.0h1.1v1.1h-1.1zM45.3 54.2h0.9v0.9h-0.9zM53.3 41.4h0.6v0.6h-0.6zM57.3 71.5h0.9v0.9h-0.9zM81.1 13.3h0.6v0.6h-0.6zM55.8 42.8h1.2v1.2h-1.2zM76.1 17.0h1.0v1.0h-1.0zM38.0 76.5h1.1v1.1h-1.1zM58.4 39.1h0.7v0.7h-0.7zM37.1 113.2h0.9v0.9h-0.9zM54.9 90.9h0.5v0.5h-0.5zM64.3 51.1h0.5v0.5h-0.5zM54.5 81.0h0.8v0.8h-0.8zM66.4 48.3h0.8v0.8h-0.8zM79.5 22.9h1.0v1.0h-1.0zM63.0 53.4h0.9v0.9h-0.9zM57.0 68.8h0.6v0.6h-0.6zM75.6 28.8h1.0v1.0h-1.0zM38.4 72.8h0.5v0.5h-0.5zM53.1 43.7h0.8v0.8h-0.8zM66.9 42.5h1.0v1.0h-1.0zM65.3 44.6h0.7v0.7h-0.7zM72.5 23.2h0.7v0.7h-0.7zM56.4 61.9h0.7v0.7h-0.7z" fill="#d8d8d8"/><path d="M83.7 11.3h0.7v0.7h-0.7zM86.1 8.8h0.9v0.9h-0.9zM58.5 57.0h0.7v0.7h-0.7zM57.1 104.7h1.1v1.1h-1.1zM41.3 80.9h0.9v0.9h-0.9zM36.2 102.3h1.0v1.0h-1.0zM61.4 48.3h0.7v0.7h-0.7zM54.3 80.3h1.1v1.1h-1.1zM55.8 63.8h0.8v0.8h-0.8zM60.6 33.8h0.8v0.8h-0.8zM56.6 91.3h0.5v0.5h-0.5zM56.4 106.9h0.7v0.7h-0.7zM39.8 108.0h0.7v0.7h-0.7zM44.8 56.0h0.6v0.6h-0.6zM57.8 64.3h0.5v0.5h-0.5zM61.1 54.5h1.1v1.1h-1.1zM64.5 48.4h1.0v1.0h-1.0zM56.2 115.0h0.8v0.8h-0.8zM39.1 81.1h1.0v1.0h-1.0zM88.1 9.3h0.5v0.5h-0.5zM58.5 65.8h0.8v0.8h-0.8zM80.4 16.7h0.8v0.8h-0.8zM87.6 16.3h1.1v1.1h-1.1zM51.4 43.0h0.9v0.9h-0.9zM58.8 116.9h1.2v1.2h-1.2zM45.0 61.2h1.1v1.1h-1.1zM38.7 97.2h0.7v0.7h-0.7zM39.3 103.1h1.0v1.0h-1.0zM58.1 62.1h0.7v0.7h-0.7zM58.1 102.1h1.0v1.0h-1.0zM40.1 87.6h0.9v0.9h-0.9zM83.6 20.2h0.9v0.9h-0.9zM42.1 70.0h1.1v1.1h-1.1zM59.4 52.5h0.5v0.5h-0.5zM61.7 32.0h1.0v1.0h-1.0zM87.1 11.1h1.1v1.1h-1.1zM38.8 98.9h1.0v1.0h-1.0zM57.3 114.6h1.0v1.0h-1.0zM59.8 55.5h0.7v0.7h-0.7zM49.3 48.6h0.6v0.6h-0.6zM64.4 43.5h1.1v1.1h-1.1zM40.7 81.4h1.0v1.0h-1.0zM40.1 106.4h1.0v1.0h-1.0zM69.4 25.3h0.6v0.6h-0.6zM56.7 76.5h0.9v0.9h-0.9zM63.5 50.6h0.7v0.7h-0.7zM57.4 39.0h1.2v1.2h-1.2zM57.0 94.3h0.8v0.8h-0.8zM85.4 10.6h0.9v0.9h-0.9zM55.3 77.0h0.7v0.7h-0.7zM83.7 22.0h1.1v1.1h-1.1zM38.8 67.1h0.6v0.6h-0.6zM89.5 11.2h1.1v1.1h-1.1zM57.2 110.1h1.0v1.0h-1.0zM53.4 79.7h1.1v1.1h-1.1zM37.5 108.4h1.2v1.2h-1.2zM40.9 83.1h0.5v0.5h-0.5zM61.5 29.6h0.5v0.5h-0.5zM57.6 115.7h0.6v0.6h-0.6zM42.5 59.6h0.6v0.6h-0.6zM49.6 47.6h0.7v0.7h-0.7zM39.8 104.7h0.8v0.8h-0.8zM57.2 103.5h1.0v1.0h-1.0zM72.3 23.0h1.0v1.0h-1.0zM57.0 67.2h1.1v1.1h-1.1zM58.4 103.2h0.9v0.9h-0.9zM36.1 106.1h0.8v0.8h-0.8zM79.3 28.3h0.6v0.6h-0.6zM57.2 97.3h0.8v0.8h-0.8z" fill="#909090"/><path d="M75.4 21.6h0.8v0.8h-0.8zM57.4 68.0h0.9v0.9h-0.9zM79.0 23.5h1.1v1.1h-1.1zM61.2 56.1h1.1v1.1h-1.1zM75.9 21.6h0.9v0.9h-0.9zM76.2 34.4h0.6v0.6h-0.6zM38.8 108.4h0.7v0.7h-0.7zM84.2 21.8h0.9v0.9h-0.9zM74.3 21.9h0.6v0.6h-0.6zM45.3 55.5h0.6v0.6h-0.6zM56.5 37.7h1.1v1.1h-1.1zM40.9 61.7h0.7v0.7h-0.7zM75.9 19.5h0.8v0.8h-0.8zM75.7 18.4h1.2v1.2h-1.2zM47.9 49.8h0.5v0.5h-0.5zM42.4 58.6h0.7v0.7h-0.7zM57.6 60.0h0.9v0.9h-0.9zM55.4 92.6h0.6v0.6h-0.6zM87.6 14.9h0.6v0.6h-0.6zM46.7 51.9h1.1v1.1h-1.1zM59.7 51.4h1.1v1.1h-1.1zM38.7 112.6h1.1v1.1h-1.1zM58.9 111.5h0.7v0.7h-0.7zM36.5 116.0h0.6v0.6h-0.6zM88.3 14.9h1.1v1.1h-1.1zM57.9 66.1h1.1v1.1h-1.1zM66.5 28.3h1.1v1.1h-1.1zM66.3 28.4h0.6v0.6h-0.6zM63.0 50.3h0.5v0.5h-0.5zM80.5 17.6h0.8v0.8h-0.8zM49.5 53.6h0.9v0.9h-0.9zM57.3 34.4h1.1v1.1h-1.1zM38.4 71.3h1.0v1.0h-1.0zM76.5 29.1h0.8v0.8h-0.8zM77.6 16.1h0.7v0.7h-0.7zM60.6 35.4h0.5v0.5h-0.5zM63.3 47.1h1.2v1.2h-1.2zM41.3 68.5h0.6v0.6h-0.6zM57.5 110.9h0.8v0.8h-0.8zM39.1 82.7h1.0v1.0h-1.0zM62.4 33.3h0.6v0.6h-0.6zM44.9 54.5h1.2v1.2h-1.2zM56.3 35.9h0.9v0.9h-0.9zM35.9 115.9h1.1v1.1h-1.1zM56.9 98.6h1.1v1.1h-1.1zM36.3 109.3h1.0v1.0h-1.0zM85.1 15.4h1.0v1.0h-1.0zM40.5 91.7h0.8v0.8h-0.8zM91.9 12.1h1.0v1.0h-1.0zM80.0 26.9h1.0v1.0h-1.0zM55.6 85.4h0.9v0.9h-0.9zM82.4 16.1h0.6v0.6h-0.6zM71.4 23.5h1.1v1.1h-1.1zM70.4 21.9h1.0v1.0h-1.0zM79.3 16.9h1.0v1.0h-1.0zM36.9 80.2h0.5v0.5h-0.5zM55.7 86.5h0.5v0.5h-0.5zM63.1 27.2h0.7v0.7h-0.7zM48.8 49.2h0.7v0.7h-0.7zM39.1 83.7h0.9v0.9h-0.9zM72.0 34.5h0.7v0.7h-0.7zM48.2 53.3h0.8v0.8h-0.8zM56.5 90.4h1.1v1.1h-1.1z" fill="#f0f0f0"/><path d="M39.0 96.2h1.1v1.1h-1.1zM87.2 11.9h1.1v1.1h-1.1zM55.3 68.1h1.1v1.1h-1.1zM59.9 61.8h1.2v1.2h-1.2zM39.2 111.3h0.6v0.6h-0.6zM36.4 113.8h1.1v1.1h-1.1zM45.9 51.8h1.0v1.0h-1.0zM58.5 36.5h1.2v1.2h-1.2zM56.2 103.4h0.8v0.8h-0.8zM39.5 72.2h0.9v0.9h-0.9zM56.4 78.3h1.1v1.1h-1.1zM55.5 38.0h0.9v0.9h-0.9zM38.5 87.2h0.9v0.9h-0.9zM71.8 34.4h0.5v0.5h-0.5zM56.6 84.9h0.6v0.6h-0.6zM50.0 46.0h0.6v0.6h-0.6zM39.7 65.8h0.5v0.5h-0.5zM83.0 20.1h1.1v1.1h-1.1zM54.1 75.4h0.8v0.8h-0.8zM39.4 105.6h1.1v1.1h-1.1zM83.3 21.1h0.8v0.8h-0.8zM39.9 91.6h0.8v0.8h-0.8zM37.2 98.1h1.1v1.1h-1.1zM81.1 15.9h0.8v0.8h-0.8zM62.9 31.2h0.6v0.6h-0.6zM60.6 52.0h0.8v0.8h-0.8zM40.1 94.3h0.8v0.8h-0.8z" fill="#484848"/><path d="M56.9 110.7h0.8v0.8h-0.8zM57.2 89.5h0.7v0.7h-0.7zM37.6 113.8h0.6v0.6h-0.6zM38.7 101.9h0.9v0.9h-0.9zM57.6 93.2h0.9v0.9h-0.9zM83.0 21.1h1.2v1.2h-1.2zM37.1 92.3h0.8v0.8h-0.8zM41.0 71.5h0.7v0.7h-0.7zM37.7 92.9h0.8v0.8h-0.8zM57.5 89.1h0.8v0.8h-0.8zM76.3 18.6h1.1v1.1h-1.1zM58.1 96.6h1.1v1.1h-1.1zM60.9 56.1h1.1v1.1h-1.1zM46.2 50.9h1.0v1.0h-1.0zM88.9 13.8h0.6v0.6h-0.6zM55.1 81.4h1.2v1.2h-1.2zM39.7 79.5h1.1v1.1h-1.1zM73.8 20.4h1.0v1.0h-1.0zM84.1 17.1h1.1v1.1h-1.1zM91.0 12.3h1.1v1.1h-1.1zM43.8 64.4h0.9v0.9h-0.9zM39.3 105.6h1.1v1.1h-1.1zM37.8 108.7h1.2v1.2h-1.2zM84.2 20.9h0.7v0.7h-0.7zM90.5 11.9h0.9v0.9h-0.9zM55.3 93.9h1.1v1.1h-1.1zM59.4 60.2h1.1v1.1h-1.1zM38.8 82.8h1.2v1.2h-1.2zM39.2 107.1h0.7v0.7h-0.7zM47.3 56.1h1.1v1.1h-1.1zM63.7 49.6h1.1v1.1h-1.1zM36.1 99.2h1.0v1.0h-1.0zM40.0 108.8h0.6v0.6h-0.6zM63.8 30.4h0.7v0.7h-0.7zM83.2 18.1h1.0v1.0h-1.0zM55.5 78.8h0.8v0.8h-0.8zM57.1 96.9h1.2v1.2h-1.2zM47.4 49.1h1.1v1.1h-1.1zM56.0 84.4h0.8v0.8h-0.8zM37.4 106.7h0.9v0.9h-0.9zM78.2 32.1h1.1v1.1h-1.1zM60.7 55.9h0.7v0.7h-0.7zM36.8 91.5h0.7v0.7h-0.7zM59.2 115.1h1.2v1.2h-1.2zM73.8 37.2h1.2v1.2h-1.2zM58.7 60.7h1.0v1.0h-1.0zM69.1 41.8h1.2v1.2h-1.2zM36.5 97.6h1.0v1.0h-1.0zM74.8 21.4h0.9v0.9h-0.9zM60.2 115.5h0.6v0.6h-0.6zM73.0 31.9h0.7v0.7h-0.7zM55.8 72.5h0.8v0.8h-0.8zM62.8 50.3h1.1v1.1h-1.1zM39.0 106.9h0.8v0.8h-0.8zM55.7 87.4h0.7v0.7h-0.7zM55.6 93.2h0.6v0.6h-0.6zM40.2 74.3h1.0v1.0h-1.0z" fill="#c0c0c0"/></g><g filter="url(#b04)"><path d="M45.2 88.3h1.0v1.0h-1.0zM78.9 24.7h0.9v0.9h-0.9zM48.6 88.9h1.0v1.0h-1.0zM75.0 18.9h0.6v0.6h-0.6zM57.3 67.5h0.5v0.5h-0.5zM74.9 26.4h0.9v0.9h-0.9zM55.0 92.9h0.9v0.9h-0.9zM44.4 62.5h0.9v0.9h-0.9zM41.6 97.7h0.9v0.9h-0.9zM41.8 100.7h1.0v1.0h-1.0zM55.4 62.3h0.5v0.5h-0.5z" fill="#909090"/><path d="M72.8 35.9h0.7v0.7h-0.7zM36.8 93.0h0.9v0.9h-0.9zM41.2 97.9h0.8v0.8h-0.8zM51.7 46.7h0.7v0.7h-0.7zM49.8 102.3h0.9v0.9h-0.9zM49.7 56.8h0.7v0.7h-0.7zM82.2 20.5h0.7v0.7h-0.7z" fill="#606060"/><path d="M59.1 44.9h0.5v0.5h-0.5zM38.5 72.1h0.9v0.9h-0.9zM47.5 79.3h0.7v0.7h-0.7zM83.4 13.9h0.7v0.7h-0.7zM66.2 27.3h1.0v1.0h-1.0zM61.1 33.4h0.8v0.8h-0.8zM69.6 42.6h0.8v0.8h-0.8z" fill="#303030"/><path d="M78.7 16.7h1.0v1.0h-1.0zM45.5 104.4h0.9v0.9h-0.9zM52.1 85.1h0.9v0.9h-0.9zM50.2 52.7h0.7v0.7h-0.7zM78.8 20.2h0.9v0.9h-0.9zM52.3 53.5h0.7v0.7h-0.7zM47.0 86.0h0.5v0.5h-0.5zM46.5 62.4h0.9v0.9h-0.9z" fill="#787878"/><path d="M53.3 76.5h0.5v0.5h-0.5zM55.5 65.5h0.8v0.8h-0.8zM72.8 26.8h0.7v0.7h-0.7zM62.8 51.1h0.6v0.6h-0.6zM55.2 83.5h0.8v0.8h-0.8zM62.5 44.5h0.6v0.6h-0.6zM85.7 16.6h0.9v0.9h-0.9zM38.8 99.4h0.9v0.9h-0.9zM40.7 109.7h0.7v0.7h-0.7zM51.3 62.8h0.9v0.9h-0.9zM74.6 32.5h0.9v0.9h-0.9zM48.7 111.3h0.6v0.6h-0.6zM70.1 23.6h0.5v0.5h-0.5zM57.0 95.2h0.7v0.7h-0.7zM47.7 102.5h0.5v0.5h-0.5z" fill="#484848"/><path d="M49.5 60.1h0.8v0.8h-0.8zM51.6 63.7h1.0v1.0h-1.0z" fill="#a8a8a8"/></g></g><path d="M35.6 119.0 C35.7 115.0 35.7 102.7 36.0 95.0 C36.3 87.3 36.6 78.4 37.3 72.9 C38.0 67.4 38.9 65.1 40.0 62.0 C41.1 58.9 42.3 57.2 44.0 54.2 C45.7 51.2 48.0 47.1 50.0 44.0 C52.0 40.9 53.7 38.4 55.9 35.6 C58.1 32.8 60.5 29.6 63.0 27.0 C65.5 24.4 68.5 22.5 71.2 20.3 C73.9 18.1 76.5 16.0 79.0 14.0 C81.5 12.0 84.4 9.6 86.4 8.5 C88.4 7.4 90.2 7.7 91.0 7.5" stroke="rgb(130,130,130)" stroke-width="0.9" fill="none" filter="url(#b05)"/><path d="M93.0 11.0 C92.8 11.4 92.7 11.9 91.5 13.6 C90.3 15.3 88.0 18.2 86.0 21.0 C84.0 23.8 81.7 27.8 79.7 30.5 C77.7 33.2 75.7 34.8 74.0 37.0 C72.3 39.2 71.3 41.2 69.5 44.0 C67.7 46.8 64.7 50.6 63.0 54.0 C61.3 57.4 60.2 60.9 59.3 64.4 C58.4 67.9 57.9 71.6 57.6 75.0 C57.3 78.4 57.4 80.5 57.6 84.7 C57.8 88.9 58.4 94.3 59.0 100.0 C59.6 105.7 60.7 115.8 61.0 119.0" stroke="rgb(110,110,110)" stroke-width="0.9" fill="none" filter="url(#b05)"/><path d="M52.0 57.0 C52.8 57.8 56.2 61.2 57.0 62.0" stroke="rgb(140,140,140)" stroke-width="1.5" fill="none" filter="url(#b05)"/></g>
<clipPath id="cp31"><rect x="0" y="0" width="116" height="116"/></clipPath><g transform="translate(29,680)" clip-path="url(#cp31)"><rect x="0" y="0" width="116" height="116" fill="#000"/><path d="M-2.0 8.0 C0.3 4.2 7.2 11.2 12.0 13.0 C16.8 14.8 22.3 16.9 27.0 18.6 C31.7 20.3 36.0 21.3 40.0 23.0 C44.0 24.7 46.8 26.6 50.8 28.8 C54.8 31.0 59.8 33.5 64.0 36.0 C68.2 38.5 72.5 41.3 76.2 44.0 C79.9 46.7 82.9 49.2 86.0 52.0 C89.1 54.8 92.1 58.2 94.9 61.0 C97.7 63.8 100.5 66.5 103.0 69.0 C105.5 71.5 108.8 74.5 110.0 76.2 C111.2 77.9 111.3 78.3 110.5 79.0 C109.7 79.7 106.9 80.7 105.0 80.5 C103.1 80.3 101.0 79.0 99.0 78.0 C97.0 77.0 96.4 76.3 93.2 74.6 C90.0 72.9 84.2 70.0 80.0 68.0 C75.8 66.0 72.8 64.9 67.8 62.7 C62.8 60.5 55.6 57.5 50.0 55.0 C44.4 52.5 39.7 50.0 33.9 47.5 C28.1 45.0 21.0 42.0 15.0 40.0 C9.0 38.0 0.8 40.9 -2.0 35.6 C-4.8 30.3 -4.3 11.8 -2.0 8.0 Z" fill="rgb(12,12,12)" filter="url(#b05)"/><path d="M-2.0 31.0 C-0.7 30.3 3.3 31.5 6.0 32.0 C8.7 32.5 11.3 33.2 14.0 34.0 C16.7 34.8 19.3 36.2 22.0 37.0 C24.7 37.8 27.3 38.5 30.0 39.0 C32.7 39.5 35.3 39.3 38.0 40.0 C40.7 40.7 43.3 41.8 46.0 43.0 C48.7 44.2 51.3 45.7 54.0 47.0 C56.7 48.3 60.0 49.7 62.0 51.0 C64.0 52.3 66.3 53.8 66.0 55.0 C65.7 56.2 63.5 58.3 60.0 58.0 C56.5 57.7 50.0 54.8 45.0 53.0 C40.0 51.2 35.0 49.0 30.0 47.0 C25.0 45.0 20.3 42.8 15.0 41.0 C9.7 39.2 0.8 37.7 -2.0 36.0 C-4.8 34.3 -3.3 31.7 -2.0 31.0 Z" fill="rgb(75,75,75)" filter="url(#b1)"/><ellipse cx="34" cy="41.5" rx="6" ry="3.5" fill="rgb(105,105,105)" filter="url(#b1)"/><ellipse cx="46" cy="47" rx="5" ry="2.8" fill="rgb(95,95,95)" filter="url(#b1)"/><ellipse cx="5" cy="33" rx="3" ry="2" fill="rgb(110,110,110)" filter="url(#b1)"/><ellipse cx="61" cy="52" rx="3" ry="2" fill="rgb(70,70,70)" filter="url(#b1)"/><path d="M50.0 30.0 C51.3 30.8 55.3 33.3 58.0 35.0 C60.7 36.7 63.7 38.5 66.0 40.0 C68.3 41.5 71.0 43.3 72.0 44.0" stroke="rgb(55,55,55)" stroke-width="3" fill="none" filter="url(#b1)"/><ellipse cx="71" cy="45" rx="5" ry="2.5" transform="rotate(35 71 45)" fill="rgb(75,75,75)" filter="url(#b1)"/><ellipse cx="42" cy="26.5" rx="3" ry="2" fill="rgb(65,65,65)" filter="url(#b1)"/><path d="M-2.0 8.0 C0.3 8.8 7.2 11.2 12.0 13.0 C16.8 14.8 22.3 16.9 27.0 18.6 C31.7 20.3 36.0 21.3 40.0 23.0 C44.0 24.7 46.8 26.6 50.8 28.8 C54.8 31.0 59.8 33.5 64.0 36.0 C68.2 38.5 72.5 41.3 76.2 44.0 C79.9 46.7 82.9 49.2 86.0 52.0 C89.1 54.8 92.1 58.2 94.9 61.0 C97.7 63.8 100.5 66.5 103.0 69.0 C105.5 71.5 108.8 75.0 110.0 76.2" stroke="rgb(85,85,85)" stroke-width="1.1" fill="none" filter="url(#b05)"/><path d="M110.5 79.0 C109.6 79.2 106.9 80.7 105.0 80.5 C103.1 80.3 101.0 79.0 99.0 78.0 C97.0 77.0 96.4 76.3 93.2 74.6 C90.0 72.9 84.2 70.0 80.0 68.0 C75.8 66.0 72.8 64.9 67.8 62.7 C62.8 60.5 55.6 57.5 50.0 55.0 C44.4 52.5 39.7 50.0 33.9 47.5 C28.1 45.0 21.0 42.0 15.0 40.0 C9.0 38.0 0.8 36.3 -2.0 35.6" stroke="rgb(70,70,70)" stroke-width="1.1" fill="none" filter="url(#b05)"/><path d="M-2.0 9.0 C-0.3 9.5 4.3 10.8 8.0 12.0 C11.7 13.2 18.0 15.3 20.0 16.0" stroke="rgb(55,55,55)" stroke-width="2" fill="none" filter="url(#b1)"/><ellipse cx="27.5" cy="19.5" rx="1.7" ry="1.2" fill="rgb(200,200,200)" filter="url(#b05)"/><ellipse cx="79" cy="68" rx="2" ry="1.2" fill="rgb(180,180,180)" filter="url(#b05)"/><ellipse cx="86" cy="57" rx="1.2" ry="1" fill="rgb(170,170,170)" filter="url(#b05)"/><text x="106" y="108.3" font-size="6.5" font-weight="bold" text-anchor="middle" fill="#fff">20μm</text><rect x="97.5" y="110" width="17" height="3" fill="#fff"/></g>
<clipPath id="cp32"><rect x="0" y="0" width="57.1" height="57"/></clipPath><g transform="translate(147,560)" clip-path="url(#cp32)"><rect x="0" y="0" width="57.1" height="57" fill="#000"/><path d="M-1.0 -1.0 L50.5 -1.0 L47.0 6.0 L43.0 14.0 L38.0 25.0 L34.0 36.0 L31.0 45.0 L29.0 58.5 L-1.0 58.5 Z" fill="rgb(12,12,12)"/><path d="M30.0 8.0 C31.3 5.8 37.7 4.0 40.0 5.0 C42.3 6.0 44.3 9.8 44.0 14.0 C43.7 18.2 39.8 24.8 38.0 30.0 C36.2 35.2 34.3 40.7 33.0 45.0 C31.7 49.3 32.2 54.2 30.0 56.0 C27.8 57.8 21.7 58.7 20.0 56.0 C18.3 53.3 19.0 44.7 20.0 40.0 C21.0 35.3 24.0 31.7 26.0 28.0 C28.0 24.3 31.3 21.3 32.0 18.0 C32.7 14.7 28.7 10.2 30.0 8.0 Z" fill="rgb(30,30,30)" filter="url(#b1)"/><path d="M-1.0 -1.0 C1.5 -7.8 11.8 -2.8 14.0 -1.0 C16.2 0.8 13.0 5.7 12.0 10.0 C11.0 14.3 9.3 20.8 8.0 25.0 C6.7 29.2 5.5 32.5 4.0 35.0 C2.5 37.5 -0.2 46.0 -1.0 40.0 C-1.8 34.0 -3.5 5.8 -1.0 -1.0 Z" fill="rgb(30,30,30)" filter="url(#b1)"/><path d="M16.0 19.0 C16.8 17.3 21.2 16.0 23.0 17.0 C24.8 18.0 26.7 22.7 27.0 25.0 C27.3 27.3 26.5 30.7 25.0 31.0 C23.5 31.3 19.5 29.0 18.0 27.0 C16.5 25.0 15.2 20.7 16.0 19.0 Z" fill="rgb(70,70,70)" filter="url(#b1)"/><g filter="url(#b04)"><path d="M33.0 14.6h0.9v0.9h-0.9zM32.5 45.1h0.5v0.5h-0.5zM27.2 13.7h0.6v0.6h-0.6zM31.1 44.9h0.9v0.9h-0.9zM34.7 33.9h0.7v0.7h-0.7zM29.5 33.7h0.5v0.5h-0.5zM31.8 47.4h0.5v0.5h-0.5zM25.6 46.7h0.9v0.9h-0.9zM28.4 37.5h0.5v0.5h-0.5zM26.5 38.4h0.6v0.6h-0.6zM29.0 17.1h1.0v1.0h-1.0zM18.9 37.5h0.9v0.9h-0.9zM39.9 15.5h0.5v0.5h-0.5zM26.4 48.1h0.9v0.9h-0.9zM39.8 16.9h0.9v0.9h-0.9zM29.0 29.8h0.7v0.7h-0.7zM30.2 9.1h0.6v0.6h-0.6zM23.2 30.7h0.8v0.8h-0.8zM22.6 20.9h0.9v0.9h-0.9zM44.0 5.5h0.5v0.5h-0.5zM28.4 48.7h0.8v0.8h-0.8z" fill="#606060"/><path d="M22.7 16.8h1.0v1.0h-1.0zM25.5 17.5h0.6v0.6h-0.6zM19.4 37.2h0.6v0.6h-0.6zM21.5 49.2h0.6v0.6h-0.6zM29.0 14.3h0.7v0.7h-0.7zM23.9 19.9h1.0v1.0h-1.0zM22.4 36.7h0.6v0.6h-0.6zM27.1 17.3h0.6v0.6h-0.6zM19.2 46.1h0.9v0.9h-0.9zM21.7 40.8h0.8v0.8h-0.8zM25.2 46.7h0.8v0.8h-0.8zM34.7 27.1h0.9v0.9h-0.9zM36.0 12.4h0.6v0.6h-0.6zM34.7 32.6h0.9v0.9h-0.9zM21.7 27.8h1.0v1.0h-1.0zM25.4 40.9h0.5v0.5h-0.5zM33.0 43.4h0.8v0.8h-0.8zM28.2 9.4h0.9v0.9h-0.9zM42.7 4.2h0.8v0.8h-0.8zM31.7 41.7h0.5v0.5h-0.5zM31.7 46.7h0.7v0.7h-0.7z" fill="#303030"/><path d="M27.2 54.0h0.8v0.8h-0.8zM33.0 31.5h0.5v0.5h-0.5zM27.3 19.3h0.7v0.7h-0.7zM17.6 53.6h0.7v0.7h-0.7zM26.0 29.6h0.9v0.9h-0.9zM20.5 42.6h0.8v0.8h-0.8zM24.9 52.1h0.9v0.9h-0.9zM22.8 43.2h0.7v0.7h-0.7zM30.7 33.1h0.7v0.7h-0.7zM30.9 56.1h0.7v0.7h-0.7zM35.4 34.9h1.0v1.0h-1.0zM28.8 14.5h0.6v0.6h-0.6zM21.2 32.2h1.0v1.0h-1.0zM27.7 43.9h0.7v0.7h-0.7zM39.6 8.0h0.5v0.5h-0.5zM33.0 26.8h0.9v0.9h-0.9zM27.3 51.0h0.7v0.7h-0.7zM28.0 16.8h0.9v0.9h-0.9zM33.7 8.2h0.8v0.8h-0.8zM25.3 20.4h0.7v0.7h-0.7zM20.9 36.6h0.5v0.5h-0.5zM32.4 19.3h0.8v0.8h-0.8zM30.7 8.5h1.0v1.0h-1.0zM27.2 45.6h0.9v0.9h-0.9zM31.4 18.6h0.9v0.9h-0.9zM24.6 16.8h0.8v0.8h-0.8zM22.7 28.2h0.9v0.9h-0.9zM22.3 21.7h0.6v0.6h-0.6zM28.6 34.2h0.6v0.6h-0.6zM22.3 54.8h0.5v0.5h-0.5zM29.2 16.7h0.7v0.7h-0.7zM22.2 54.9h0.9v0.9h-0.9zM22.3 17.8h0.7v0.7h-0.7zM24.8 44.8h0.7v0.7h-0.7zM34.9 38.3h1.0v1.0h-1.0zM37.2 15.4h0.6v0.6h-0.6z" fill="#484848"/><path d="M42.0 15.8h0.8v0.8h-0.8zM18.8 48.2h0.7v0.7h-0.7zM27.9 43.2h0.8v0.8h-0.8zM31.2 55.1h0.7v0.7h-0.7zM40.0 7.0h0.9v0.9h-0.9zM32.0 45.7h0.5v0.5h-0.5zM23.6 13.6h1.0v1.0h-1.0zM29.9 12.0h0.7v0.7h-0.7zM39.1 6.0h0.9v0.9h-0.9zM39.9 12.0h0.9v0.9h-0.9zM33.8 22.2h0.6v0.6h-0.6zM34.7 33.1h0.7v0.7h-0.7zM39.2 7.0h0.9v0.9h-0.9zM27.2 20.4h0.7v0.7h-0.7zM33.2 29.1h0.8v0.8h-0.8zM19.7 51.9h0.5v0.5h-0.5zM30.3 16.5h0.6v0.6h-0.6zM35.5 24.3h0.7v0.7h-0.7zM18.9 53.8h0.7v0.7h-0.7zM19.7 50.6h0.8v0.8h-0.8zM38.7 12.5h0.9v0.9h-0.9zM33.1 24.4h0.9v0.9h-0.9zM29.4 25.9h0.9v0.9h-0.9zM31.7 34.6h0.6v0.6h-0.6zM23.1 54.3h0.9v0.9h-0.9zM41.2 16.0h0.9v0.9h-0.9zM30.4 26.6h0.8v0.8h-0.8zM22.8 41.7h0.7v0.7h-0.7zM27.1 41.3h0.8v0.8h-0.8zM30.5 38.1h0.6v0.6h-0.6zM22.1 31.9h0.6v0.6h-0.6zM25.2 53.7h1.0v1.0h-1.0zM33.4 7.4h0.8v0.8h-0.8zM27.1 11.5h0.8v0.8h-0.8zM26.8 12.4h0.6v0.6h-0.6zM24.8 24.1h1.0v1.0h-1.0zM20.3 33.3h0.8v0.8h-0.8zM30.3 17.2h0.6v0.6h-0.6z" fill="#909090"/><path d="M21.1 32.9h0.9v0.9h-0.9zM29.0 43.2h0.7v0.7h-0.7zM29.0 17.9h1.0v1.0h-1.0zM34.5 27.6h0.6v0.6h-0.6zM40.1 10.1h0.7v0.7h-0.7zM22.5 38.5h0.5v0.5h-0.5zM18.0 49.6h1.0v1.0h-1.0zM27.1 20.7h0.8v0.8h-0.8zM22.5 42.2h0.8v0.8h-0.8zM22.9 54.1h1.0v1.0h-1.0zM27.5 36.8h0.7v0.7h-0.7zM22.4 25.6h0.9v0.9h-0.9zM18.9 36.5h0.5v0.5h-0.5zM24.3 23.7h0.5v0.5h-0.5zM32.4 8.7h0.9v0.9h-0.9zM24.1 34.6h0.9v0.9h-0.9zM32.8 16.4h0.7v0.7h-0.7zM31.0 9.0h0.6v0.6h-0.6zM40.1 12.7h0.9v0.9h-0.9zM24.5 29.1h1.0v1.0h-1.0zM20.0 44.0h0.8v0.8h-0.8zM27.1 27.8h0.8v0.8h-0.8zM30.0 54.1h0.5v0.5h-0.5zM31.9 15.0h0.8v0.8h-0.8zM23.0 42.9h0.5v0.5h-0.5zM39.8 18.7h0.9v0.9h-0.9zM35.0 35.5h0.9v0.9h-0.9zM23.3 48.2h0.8v0.8h-0.8zM22.8 19.5h1.0v1.0h-1.0z" fill="#787878"/><path d="M22.0 54.3h0.9v0.9h-0.9zM28.8 27.5h0.9v0.9h-0.9zM39.2 16.9h0.9v0.9h-0.9zM37.9 10.3h1.0v1.0h-1.0zM21.7 20.2h0.7v0.7h-0.7zM23.0 50.3h0.8v0.8h-0.8zM26.4 29.8h0.9v0.9h-0.9zM32.3 22.6h0.9v0.9h-0.9zM24.5 14.2h0.8v0.8h-0.8zM19.9 32.2h0.5v0.5h-0.5zM27.2 49.8h0.7v0.7h-0.7zM30.7 50.1h0.8v0.8h-0.8zM30.5 18.4h1.0v1.0h-1.0zM25.6 11.4h0.6v0.6h-0.6zM23.4 30.8h0.6v0.6h-0.6zM23.5 29.7h0.8v0.8h-0.8zM33.4 38.9h1.0v1.0h-1.0zM31.2 21.3h0.8v0.8h-0.8zM37.2 12.6h0.6v0.6h-0.6zM25.5 56.6h0.8v0.8h-0.8zM26.2 52.2h0.7v0.7h-0.7zM29.3 47.4h0.8v0.8h-0.8zM21.1 55.7h0.8v0.8h-0.8z" fill="#c0c0c0"/><path d="M20.6 27.7h1.0v1.0h-1.0zM36.2 13.6h0.9v0.9h-0.9zM19.6 36.2h0.7v0.7h-0.7zM23.5 49.6h1.0v1.0h-1.0zM30.2 19.4h0.9v0.9h-0.9zM27.6 14.0h0.6v0.6h-0.6zM40.7 17.3h0.5v0.5h-0.5zM33.1 23.0h0.7v0.7h-0.7zM18.4 52.0h0.6v0.6h-0.6zM26.1 30.0h1.0v1.0h-1.0zM25.5 15.2h1.0v1.0h-1.0zM29.0 35.9h0.6v0.6h-0.6zM21.8 19.6h1.0v1.0h-1.0zM33.0 18.9h0.5v0.5h-0.5zM32.1 45.0h0.8v0.8h-0.8zM28.0 35.8h0.9v0.9h-0.9zM17.6 56.0h0.8v0.8h-0.8zM19.6 29.4h0.5v0.5h-0.5zM40.6 16.8h0.7v0.7h-0.7zM19.2 34.9h0.7v0.7h-0.7zM22.8 28.4h0.9v0.9h-0.9zM32.1 50.1h1.0v1.0h-1.0zM35.8 31.7h0.5v0.5h-0.5zM25.1 24.5h0.7v0.7h-0.7zM24.2 31.1h0.9v0.9h-0.9zM40.3 15.6h0.8v0.8h-0.8zM27.7 13.7h1.0v1.0h-1.0zM29.3 30.1h0.8v0.8h-0.8zM38.4 6.2h0.5v0.5h-0.5z" fill="#a8a8a8"/><path d="M29.1 41.6h1.0v1.0h-1.0zM29.2 13.4h0.7v0.7h-0.7zM31.0 28.3h0.6v0.6h-0.6z" fill="#d8d8d8"/></g><g filter="url(#b04)"><path d="M12.8 20.9h0.7v0.7h-0.7zM4.7 30.6h0.7v0.7h-0.7zM6.8 7.2h0.7v0.7h-0.7zM1.2 13.5h0.6v0.6h-0.6zM9.5 19.3h0.6v0.6h-0.6zM10.9 12.9h0.9v0.9h-0.9zM1.1 20.3h0.6v0.6h-0.6zM11.3 24.4h0.9v0.9h-0.9zM4.1 6.1h1.0v1.0h-1.0zM12.7 9.8h0.9v0.9h-0.9zM0.4 42.3h0.6v0.6h-0.6zM9.9 19.8h0.5v0.5h-0.5zM7.0 29.7h0.6v0.6h-0.6zM8.0 31.7h0.6v0.6h-0.6zM2.3 23.6h0.6v0.6h-0.6zM3.3 14.2h0.9v0.9h-0.9zM12.0 14.8h0.8v0.8h-0.8zM1.7 6.8h0.5v0.5h-0.5zM1.7 27.0h0.8v0.8h-0.8zM9.2 21.8h0.6v0.6h-0.6z" fill="#c0c0c0"/><path d="M1.0 9.8h0.9v0.9h-0.9zM7.6 8.9h0.6v0.6h-0.6zM9.3 3.5h0.9v0.9h-0.9zM3.8 10.0h0.7v0.7h-0.7zM13.7 13.5h0.9v0.9h-0.9zM5.0 31.6h1.0v1.0h-1.0zM10.1 2.7h0.8v0.8h-0.8zM2.5 28.3h0.8v0.8h-0.8zM13.1 16.6h0.7v0.7h-0.7zM6.7 29.0h1.0v1.0h-1.0zM7.9 18.2h0.7v0.7h-0.7zM13.1 4.9h0.8v0.8h-0.8zM5.5 34.4h0.7v0.7h-0.7zM11.4 4.5h0.9v0.9h-0.9zM11.9 7.3h1.0v1.0h-1.0zM5.5 14.0h1.0v1.0h-1.0zM5.0 27.3h0.8v0.8h-0.8zM8.8 5.1h0.5v0.5h-0.5zM4.9 5.8h0.9v0.9h-0.9z" fill="#606060"/><path d="M4.5 15.3h0.6v0.6h-0.6zM5.7 16.4h0.5v0.5h-0.5zM2.6 14.3h0.5v0.5h-0.5zM1.7 38.6h0.7v0.7h-0.7zM3.6 21.7h0.7v0.7h-0.7zM0.8 29.5h1.0v1.0h-1.0zM5.8 1.7h0.6v0.6h-0.6zM4.2 32.8h0.8v0.8h-0.8zM6.1 2.6h0.9v0.9h-0.9zM9.3 1.6h0.9v0.9h-0.9zM12.9 4.5h0.7v0.7h-0.7zM10.9 23.5h1.0v1.0h-1.0zM8.4 31.2h0.9v0.9h-0.9zM8.1 2.5h0.6v0.6h-0.6zM3.5 33.5h0.9v0.9h-0.9zM7.6 12.2h1.0v1.0h-1.0zM2.3 28.3h1.0v1.0h-1.0zM0.4 19.3h1.0v1.0h-1.0zM9.8 2.2h0.9v0.9h-0.9zM3.7 15.7h0.5v0.5h-0.5zM8.2 31.3h0.9v0.9h-0.9zM1.4 40.3h0.9v0.9h-0.9zM4.1 11.4h0.8v0.8h-0.8zM1.2 19.3h0.8v0.8h-0.8zM3.7 18.9h0.5v0.5h-0.5zM15.1 11.2h0.8v0.8h-0.8zM3.4 14.9h0.9v0.9h-0.9z" fill="#484848"/><path d="M15.1 2.3h0.6v0.6h-0.6zM6.6 29.6h1.0v1.0h-1.0zM7.0 18.2h0.6v0.6h-0.6zM6.2 32.9h0.9v0.9h-0.9zM6.4 8.0h0.6v0.6h-0.6zM5.4 34.1h0.9v0.9h-0.9zM0.6 24.9h0.8v0.8h-0.8zM1.6 31.8h0.7v0.7h-0.7zM11.9 7.2h0.6v0.6h-0.6zM5.0 9.5h0.7v0.7h-0.7zM7.6 3.1h0.6v0.6h-0.6zM6.2 21.4h0.9v0.9h-0.9zM5.9 10.3h0.6v0.6h-0.6zM2.4 17.3h0.7v0.7h-0.7zM0.1 31.2h0.9v0.9h-0.9zM15.2 9.9h0.6v0.6h-0.6zM5.2 33.0h0.7v0.7h-0.7zM3.9 3.1h0.6v0.6h-0.6zM5.8 17.6h0.8v0.8h-0.8z" fill="#909090"/><path d="M8.3 27.9h0.7v0.7h-0.7zM0.3 36.9h0.9v0.9h-0.9zM2.7 18.0h1.0v1.0h-1.0zM15.3 2.0h0.6v0.6h-0.6zM0.9 28.4h0.7v0.7h-0.7zM11.6 23.8h0.8v0.8h-0.8zM0.3 35.9h0.9v0.9h-0.9zM5.7 33.5h0.8v0.8h-0.8zM8.2 6.9h0.8v0.8h-0.8zM10.9 17.4h0.8v0.8h-0.8zM7.2 0.5h0.7v0.7h-0.7zM1.0 42.3h0.8v0.8h-0.8zM3.2 37.6h0.8v0.8h-0.8zM0.9 35.3h0.7v0.7h-0.7zM9.5 10.4h0.9v0.9h-0.9zM7.7 19.3h0.8v0.8h-0.8z" fill="#303030"/><path d="M6.4 26.1h0.6v0.6h-0.6zM7.1 17.0h0.5v0.5h-0.5zM4.6 38.6h1.0v1.0h-1.0zM6.9 17.3h0.6v0.6h-0.6zM1.0 11.5h0.9v0.9h-0.9zM1.8 21.4h0.8v0.8h-0.8zM3.1 37.5h1.0v1.0h-1.0zM9.1 16.3h0.7v0.7h-0.7zM2.7 20.7h0.8v0.8h-0.8zM2.9 1.0h0.5v0.5h-0.5zM3.5 36.7h0.8v0.8h-0.8zM10.9 10.2h0.8v0.8h-0.8zM9.6 8.0h0.7v0.7h-0.7zM6.5 21.9h0.6v0.6h-0.6zM10.3 15.9h0.7v0.7h-0.7zM2.6 31.6h0.9v0.9h-0.9zM2.4 3.0h0.7v0.7h-0.7zM10.1 5.8h0.5v0.5h-0.5zM6.5 11.4h0.7v0.7h-0.7zM9.4 28.8h0.8v0.8h-0.8zM4.7 28.4h0.6v0.6h-0.6z" fill="#a8a8a8"/><path d="M3.4 36.5h0.8v0.8h-0.8zM5.1 3.2h0.8v0.8h-0.8zM0.9 8.9h0.9v0.9h-0.9zM3.8 2.7h0.6v0.6h-0.6zM14.0 14.1h0.7v0.7h-0.7zM9.1 11.9h0.6v0.6h-0.6zM12.6 11.6h0.6v0.6h-0.6zM8.1 11.0h0.9v0.9h-0.9zM1.4 3.1h0.7v0.7h-0.7zM5.7 19.0h0.9v0.9h-0.9zM11.7 17.6h0.6v0.6h-0.6zM6.9 17.2h0.8v0.8h-0.8zM8.6 19.7h0.9v0.9h-0.9zM7.5 9.9h0.7v0.7h-0.7zM9.3 9.4h0.8v0.8h-0.8zM1.5 40.7h0.5v0.5h-0.5zM8.8 24.5h0.6v0.6h-0.6zM11.0 24.3h0.8v0.8h-0.8zM4.8 11.6h0.7v0.7h-0.7zM10.4 24.6h1.0v1.0h-1.0zM2.1 6.5h0.6v0.6h-0.6zM11.6 24.5h0.7v0.7h-0.7zM2.8 19.3h0.7v0.7h-0.7z" fill="#787878"/><path d="M4.4 11.0h0.8v0.8h-0.8zM9.4 7.4h0.7v0.7h-0.7zM6.1 9.9h1.0v1.0h-1.0zM8.8 15.3h0.6v0.6h-0.6zM4.0 33.7h0.7v0.7h-0.7z" fill="#d8d8d8"/></g><g filter="url(#b04)"><path d="M24.3 27.9h0.8v0.8h-0.8zM27.9 25.9h0.8v0.8h-0.8zM19.2 27.2h1.0v1.0h-1.0zM17.4 22.1h0.8v0.8h-0.8zM19.7 21.9h0.6v0.6h-0.6zM24.4 31.3h0.9v0.9h-0.9zM17.6 28.1h0.8v0.8h-0.8zM16.1 19.4h0.8v0.8h-0.8zM15.7 29.3h0.8v0.8h-0.8zM22.6 23.3h0.7v0.7h-0.7zM27.6 21.6h0.5v0.5h-0.5zM24.1 23.8h0.9v0.9h-0.9zM27.5 23.5h0.6v0.6h-0.6z" fill="#c0c0c0"/><path d="M20.8 26.9h1.0v1.0h-1.0zM14.0 21.2h0.9v0.9h-0.9zM21.3 24.4h0.5v0.5h-0.5zM19.8 27.7h0.5v0.5h-0.5zM19.7 29.8h0.7v0.7h-0.7zM25.6 24.0h0.7v0.7h-0.7zM26.8 16.2h0.8v0.8h-0.8zM17.3 28.3h0.9v0.9h-0.9zM24.5 17.2h0.9v0.9h-0.9zM17.6 31.4h0.5v0.5h-0.5z" fill="#909090"/><path d="M18.2 17.8h0.7v0.7h-0.7zM27.3 17.1h0.6v0.6h-0.6zM18.2 30.3h0.7v0.7h-0.7zM18.7 20.7h0.9v0.9h-0.9zM24.2 21.0h0.8v0.8h-0.8zM20.2 32.0h0.6v0.6h-0.6zM21.6 22.6h0.8v0.8h-0.8zM18.3 17.7h0.6v0.6h-0.6zM24.4 30.4h1.0v1.0h-1.0z" fill="#606060"/><path d="M14.2 20.0h0.7v0.7h-0.7zM26.0 16.8h1.0v1.0h-1.0zM15.0 23.7h0.6v0.6h-0.6zM15.1 23.4h0.5v0.5h-0.5zM15.2 17.6h0.7v0.7h-0.7z" fill="#787878"/><path d="M14.7 29.3h0.9v0.9h-0.9zM15.0 23.3h0.9v0.9h-0.9zM15.8 19.9h0.7v0.7h-0.7zM22.2 16.0h0.9v0.9h-0.9zM26.7 21.9h0.5v0.5h-0.5zM18.6 28.9h0.6v0.6h-0.6zM23.1 29.5h0.6v0.6h-0.6z" fill="#a8a8a8"/><path d="M21.4 21.5h0.6v0.6h-0.6z" fill="#484848"/></g><path d="M50.5 -1.0 C49.9 0.2 48.2 3.5 47.0 6.0 C45.8 8.5 44.5 10.8 43.0 14.0 C41.5 17.2 39.5 21.3 38.0 25.0 C36.5 28.7 35.2 32.7 34.0 36.0 C32.8 39.3 31.8 41.2 31.0 45.0 C30.2 48.8 29.3 56.2 29.0 58.5" stroke="rgb(70,70,70)" stroke-width="0.8" fill="none" filter="url(#b05)"/></g>
<clipPath id="cp33"><rect x="0" y="0" width="57.1" height="57"/></clipPath><g transform="translate(147,620)" clip-path="url(#cp33)"><rect x="0" y="0" width="57.1" height="57" fill="#000"/><rect x="0" y="0" width="57" height="57" fill="#bc360a"/><path d="M12.0 4.0 C14.0 1.5 18.3 3.2 20.0 5.0 C21.7 6.8 22.3 11.7 22.0 15.0 C21.7 18.3 19.3 20.8 18.0 25.0 C16.7 29.2 15.0 35.0 14.0 40.0 C13.0 45.0 13.7 52.5 12.0 55.0 C10.3 57.5 5.0 58.3 4.0 55.0 C3.0 51.7 5.3 40.8 6.0 35.0 C6.7 29.2 7.0 25.2 8.0 20.0 C9.0 14.8 10.0 6.5 12.0 4.0 Z" fill="#5a0800" filter="url(#b2)"/><path d="M0.0 45.0 C1.3 42.7 6.3 41.8 8.0 44.0 C9.7 46.2 11.3 55.7 10.0 58.0 C8.7 60.3 1.7 60.2 0.0 58.0 C-1.7 55.8 -1.3 47.3 0.0 45.0 Z" fill="#6a1000" filter="url(#b2)"/><path d="M16.0 20.0 C16.3 17.7 21.7 16.3 24.0 18.0 C26.3 19.7 29.3 26.3 30.0 30.0 C30.7 33.7 29.3 39.7 28.0 40.0 C26.7 40.3 24.0 35.3 22.0 32.0 C20.0 28.7 15.7 22.3 16.0 20.0 Z" fill="#e07020" filter="url(#b2)"/><path d="M30.0 5.0 C31.3 1.7 38.0 3.3 40.0 5.0 C42.0 6.7 42.7 10.5 42.0 15.0 C41.3 19.5 37.7 30.3 36.0 32.0 C34.3 33.7 33.0 29.5 32.0 25.0 C31.0 20.5 28.7 8.3 30.0 5.0 Z" fill="#d05818" filter="url(#b2)"/><g filter="url(#b04)"><path d="M53.6 19.6h0.8v0.8h-0.8zM53.0 22.3h0.8v0.8h-0.8zM37.3 33.3h0.9v0.9h-0.9zM54.8 13.4h0.6v0.6h-0.6zM10.8 43.6h1.0v1.0h-1.0zM41.8 39.1h0.6v0.6h-0.6zM40.5 12.6h0.8v0.8h-0.8zM41.0 29.7h1.0v1.0h-1.0zM32.9 10.4h0.5v0.5h-0.5zM47.8 11.8h0.7v0.7h-0.7zM40.9 44.1h1.0v1.0h-1.0zM14.8 50.0h1.1v1.1h-1.1zM46.0 24.6h1.2v1.2h-1.2zM16.2 7.1h0.8v0.8h-0.8zM7.2 24.5h1.1v1.1h-1.1zM0.1 48.3h0.7v0.7h-0.7zM20.9 17.0h1.0v1.0h-1.0zM12.7 14.5h0.6v0.6h-0.6zM13.2 43.4h0.9v0.9h-0.9zM22.2 18.3h1.2v1.2h-1.2zM25.9 41.8h0.8v0.8h-0.8zM33.3 43.0h0.6v0.6h-0.6zM13.5 20.4h1.1v1.1h-1.1zM26.3 38.8h1.0v1.0h-1.0zM4.9 37.1h0.8v0.8h-0.8zM50.2 15.4h0.6v0.6h-0.6zM35.6 4.2h1.0v1.0h-1.0zM13.1 21.8h0.8v0.8h-0.8zM5.8 36.7h0.8v0.8h-0.8zM23.4 51.2h1.1v1.1h-1.1zM32.2 52.0h1.0v1.0h-1.0zM4.4 24.4h0.5v0.5h-0.5zM53.6 37.7h0.8v0.8h-0.8zM20.2 40.5h1.2v1.2h-1.2zM9.9 36.6h0.5v0.5h-0.5zM28.6 5.3h1.0v1.0h-1.0zM12.9 0.6h0.9v0.9h-0.9zM49.5 41.7h0.6v0.6h-0.6zM42.8 19.1h0.6v0.6h-0.6z" fill="#6a0c00"/><path d="M39.5 31.7h0.5v0.5h-0.5zM9.2 7.9h0.8v0.8h-0.8zM10.2 32.0h0.7v0.7h-0.7zM35.1 21.7h0.7v0.7h-0.7zM22.0 45.9h0.6v0.6h-0.6zM29.2 56.5h0.6v0.6h-0.6zM41.0 24.7h0.9v0.9h-0.9zM24.5 35.3h1.2v1.2h-1.2zM33.8 43.6h0.6v0.6h-0.6zM2.1 14.8h0.8v0.8h-0.8zM21.2 22.7h0.8v0.8h-0.8zM34.3 20.9h0.6v0.6h-0.6zM27.7 47.7h1.0v1.0h-1.0zM51.0 44.9h1.0v1.0h-1.0zM33.3 50.3h0.9v0.9h-0.9zM23.1 42.3h1.0v1.0h-1.0zM25.9 29.6h0.9v0.9h-0.9zM49.7 35.0h0.9v0.9h-0.9zM37.3 26.0h1.2v1.2h-1.2zM12.8 6.9h0.8v0.8h-0.8zM36.1 43.4h0.6v0.6h-0.6zM52.4 25.6h0.5v0.5h-0.5zM25.8 56.0h0.8v0.8h-0.8zM19.3 54.4h0.6v0.6h-0.6zM0.2 10.8h0.9v0.9h-0.9zM39.0 50.8h0.6v0.6h-0.6zM3.7 36.9h1.0v1.0h-1.0zM5.8 15.5h1.0v1.0h-1.0zM49.6 35.6h1.1v1.1h-1.1zM18.8 13.7h1.1v1.1h-1.1zM8.6 6.9h0.5v0.5h-0.5zM39.6 21.4h1.1v1.1h-1.1zM1.8 48.2h0.8v0.8h-0.8zM2.6 12.7h0.7v0.7h-0.7zM38.8 18.4h0.8v0.8h-0.8zM32.5 15.9h0.8v0.8h-0.8zM31.1 46.3h1.1v1.1h-1.1zM32.9 0.5h0.9v0.9h-0.9zM19.7 42.4h0.7v0.7h-0.7zM47.7 18.6h0.9v0.9h-0.9zM29.3 44.9h0.9v0.9h-0.9zM54.0 56.1h1.2v1.2h-1.2zM32.8 49.4h0.6v0.6h-0.6zM20.7 37.6h0.6v0.6h-0.6zM19.9 4.4h0.7v0.7h-0.7zM42.5 47.4h1.0v1.0h-1.0zM45.9 38.3h0.7v0.7h-0.7zM6.4 20.3h1.0v1.0h-1.0zM13.0 5.2h0.8v0.8h-0.8zM29.9 6.3h1.2v1.2h-1.2zM40.9 5.8h0.7v0.7h-0.7zM11.8 15.2h1.0v1.0h-1.0zM48.1 20.3h0.7v0.7h-0.7zM18.3 18.3h0.8v0.8h-0.8zM49.0 56.1h1.1v1.1h-1.1zM43.6 14.0h0.7v0.7h-0.7zM28.3 37.5h1.1v1.1h-1.1zM2.6 50.5h0.9v0.9h-0.9zM39.5 55.3h0.7v0.7h-0.7zM27.0 21.0h0.8v0.8h-0.8zM4.7 17.0h0.9v0.9h-0.9zM7.8 43.0h0.7v0.7h-0.7zM18.8 8.9h0.8v0.8h-0.8zM2.3 51.6h1.0v1.0h-1.0zM34.3 13.4h0.9v0.9h-0.9zM35.2 56.2h0.8v0.8h-0.8zM14.3 39.8h0.6v0.6h-0.6zM18.3 26.3h1.0v1.0h-1.0zM24.5 38.8h1.2v1.2h-1.2zM49.3 35.4h1.0v1.0h-1.0zM46.2 33.5h0.8v0.8h-0.8zM34.8 19.9h0.7v0.7h-0.7zM11.0 37.5h0.9v0.9h-0.9zM5.5 14.1h1.0v1.0h-1.0zM18.7 4.1h0.7v0.7h-0.7zM5.4 2.5h0.9v0.9h-0.9zM45.1 22.9h0.5v0.5h-0.5zM49.9 49.4h1.1v1.1h-1.1zM32.2 46.4h0.5v0.5h-0.5zM49.7 47.4h0.8v0.8h-0.8zM22.0 13.1h0.6v0.6h-0.6zM18.4 16.4h1.0v1.0h-1.0zM53.4 5.0h1.2v1.2h-1.2zM21.7 32.9h1.1v1.1h-1.1zM53.6 41.4h1.0v1.0h-1.0zM3.2 25.1h0.9v0.9h-0.9zM41.0 24.8h0.9v0.9h-0.9zM23.7 24.8h0.9v0.9h-0.9zM5.5 38.9h1.2v1.2h-1.2z" fill="#9a2200"/><path d="M35.6 19.4h0.6v0.6h-0.6zM39.2 30.8h1.1v1.1h-1.1zM30.6 48.6h0.9v0.9h-0.9zM25.0 8.7h1.0v1.0h-1.0zM29.7 53.1h1.1v1.1h-1.1zM41.2 14.4h1.2v1.2h-1.2zM55.2 4.3h0.9v0.9h-0.9zM20.3 16.2h1.1v1.1h-1.1zM19.3 51.5h1.0v1.0h-1.0zM47.4 46.1h1.0v1.0h-1.0zM44.4 34.3h1.1v1.1h-1.1zM14.6 23.5h1.0v1.0h-1.0zM42.1 33.8h0.5v0.5h-0.5zM23.9 20.8h0.9v0.9h-0.9zM25.6 42.4h1.1v1.1h-1.1zM46.7 23.3h0.7v0.7h-0.7zM27.1 54.8h1.0v1.0h-1.0zM2.2 54.0h0.8v0.8h-0.8zM17.4 37.7h0.8v0.8h-0.8zM51.7 16.4h0.6v0.6h-0.6zM6.4 20.4h1.0v1.0h-1.0zM9.1 24.5h0.9v0.9h-0.9zM55.5 5.8h1.1v1.1h-1.1zM31.2 54.8h1.0v1.0h-1.0zM50.8 29.2h0.5v0.5h-0.5zM4.9 4.3h0.5v0.5h-0.5zM8.3 34.1h1.0v1.0h-1.0zM32.5 6.2h0.5v0.5h-0.5zM21.8 20.0h0.7v0.7h-0.7zM51.3 11.0h1.2v1.2h-1.2zM15.4 16.2h0.9v0.9h-0.9zM45.3 50.6h0.9v0.9h-0.9zM49.4 25.0h0.9v0.9h-0.9zM25.8 32.0h0.6v0.6h-0.6zM15.1 47.9h0.9v0.9h-0.9zM7.2 11.5h0.6v0.6h-0.6zM18.2 5.3h0.9v0.9h-0.9zM34.5 0.9h0.6v0.6h-0.6zM45.2 14.7h0.5v0.5h-0.5zM1.7 9.4h0.7v0.7h-0.7zM26.3 36.5h0.6v0.6h-0.6zM46.0 10.2h1.1v1.1h-1.1zM13.4 55.1h0.7v0.7h-0.7zM33.9 42.5h0.8v0.8h-0.8zM8.2 45.6h0.6v0.6h-0.6zM7.5 14.2h1.1v1.1h-1.1zM1.2 6.5h0.7v0.7h-0.7zM14.1 24.5h0.6v0.6h-0.6zM38.0 33.4h0.5v0.5h-0.5zM47.2 27.5h0.9v0.9h-0.9zM6.1 44.3h0.6v0.6h-0.6zM53.3 35.3h0.9v0.9h-0.9zM26.4 45.1h0.6v0.6h-0.6zM34.7 21.7h0.6v0.6h-0.6zM53.3 33.3h0.6v0.6h-0.6zM3.9 44.4h1.2v1.2h-1.2zM4.7 27.4h0.6v0.6h-0.6zM7.1 55.8h1.1v1.1h-1.1zM20.3 44.5h1.1v1.1h-1.1zM40.3 2.7h0.7v0.7h-0.7zM40.8 34.7h0.8v0.8h-0.8zM44.3 50.1h0.6v0.6h-0.6zM13.8 30.9h1.0v1.0h-1.0zM40.2 25.5h1.2v1.2h-1.2zM31.6 21.0h1.1v1.1h-1.1zM23.9 5.3h0.9v0.9h-0.9zM25.7 35.1h0.6v0.6h-0.6zM19.8 56.6h0.7v0.7h-0.7zM5.6 46.1h0.5v0.5h-0.5zM1.3 49.4h0.9v0.9h-0.9zM15.8 47.2h0.5v0.5h-0.5zM35.3 57.0h1.1v1.1h-1.1zM11.0 52.1h1.1v1.1h-1.1zM27.4 19.8h1.1v1.1h-1.1zM55.9 6.6h0.8v0.8h-0.8zM16.8 14.3h0.6v0.6h-0.6zM17.9 53.5h0.6v0.6h-0.6zM56.4 47.1h0.8v0.8h-0.8zM23.4 11.4h0.8v0.8h-0.8zM3.6 52.4h0.7v0.7h-0.7zM31.3 46.0h1.0v1.0h-1.0zM39.9 37.0h0.6v0.6h-0.6zM18.9 50.6h0.7v0.7h-0.7zM37.7 40.6h0.7v0.7h-0.7zM0.5 39.5h1.1v1.1h-1.1zM11.4 9.8h0.8v0.8h-0.8zM6.8 0.9h1.1v1.1h-1.1zM30.7 50.1h1.0v1.0h-1.0zM49.5 34.0h0.8v0.8h-0.8zM1.4 6.6h0.7v0.7h-0.7zM14.9 47.1h0.9v0.9h-0.9zM46.1 39.8h1.0v1.0h-1.0zM51.7 32.6h1.0v1.0h-1.0zM51.2 44.6h0.8v0.8h-0.8zM52.7 1.8h1.0v1.0h-1.0zM21.9 4.5h1.1v1.1h-1.1zM21.6 16.1h1.0v1.0h-1.0zM54.6 47.6h0.6v0.6h-0.6zM5.4 44.2h0.8v0.8h-0.8zM45.5 36.1h0.7v0.7h-0.7zM39.2 21.9h1.0v1.0h-1.0zM17.2 24.8h0.7v0.7h-0.7zM29.0 36.9h0.9v0.9h-0.9zM54.2 9.9h0.8v0.8h-0.8zM15.4 0.9h0.9v0.9h-0.9zM7.1 6.0h0.9v0.9h-0.9zM26.1 30.4h0.6v0.6h-0.6zM47.9 54.2h1.1v1.1h-1.1zM0.9 42.3h1.1v1.1h-1.1zM0.7 34.0h0.9v0.9h-0.9zM40.0 41.5h0.8v0.8h-0.8zM33.2 47.8h0.8v0.8h-0.8zM54.9 36.6h1.1v1.1h-1.1zM25.6 27.0h1.0v1.0h-1.0zM34.8 53.3h1.0v1.0h-1.0zM7.1 20.0h0.8v0.8h-0.8zM49.0 34.6h0.7v0.7h-0.7zM47.7 44.2h0.9v0.9h-0.9zM22.6 13.0h0.6v0.6h-0.6zM1.5 22.0h1.2v1.2h-1.2zM27.4 36.0h1.1v1.1h-1.1zM44.4 44.3h1.0v1.0h-1.0zM46.5 15.9h0.7v0.7h-0.7zM43.3 32.9h0.8v0.8h-0.8zM54.0 51.4h0.9v0.9h-0.9zM19.9 3.4h1.0v1.0h-1.0zM45.4 10.4h1.0v1.0h-1.0zM56.0 29.9h0.7v0.7h-0.7zM47.1 43.1h0.5v0.5h-0.5zM47.3 1.3h1.2v1.2h-1.2zM19.4 21.9h0.5v0.5h-0.5zM35.2 1.3h0.5v0.5h-0.5zM14.3 23.9h0.7v0.7h-0.7zM27.3 28.5h0.9v0.9h-0.9zM1.0 0.7h0.8v0.8h-0.8zM40.0 3.2h0.9v0.9h-0.9zM45.9 4.6h0.7v0.7h-0.7zM1.1 50.0h0.6v0.6h-0.6zM51.8 11.6h0.6v0.6h-0.6zM16.0 10.7h1.1v1.1h-1.1zM51.1 27.6h0.7v0.7h-0.7zM56.4 12.2h1.0v1.0h-1.0zM45.7 10.7h1.2v1.2h-1.2zM17.4 8.2h0.6v0.6h-0.6zM35.3 30.3h1.0v1.0h-1.0zM29.0 46.4h0.7v0.7h-0.7zM17.0 31.3h1.1v1.1h-1.1z" fill="#e05a12"/><path d="M46.4 7.3h1.2v1.2h-1.2zM34.3 6.2h0.9v0.9h-0.9zM50.6 55.9h0.9v0.9h-0.9zM39.7 15.3h1.1v1.1h-1.1zM5.6 2.2h1.0v1.0h-1.0zM17.3 21.6h0.9v0.9h-0.9zM3.3 27.6h0.9v0.9h-0.9zM29.0 53.5h1.2v1.2h-1.2zM46.9 39.5h0.7v0.7h-0.7zM47.0 10.5h0.7v0.7h-0.7zM19.8 44.8h1.2v1.2h-1.2zM57.0 1.2h1.1v1.1h-1.1zM6.2 22.3h0.8v0.8h-0.8zM13.3 47.8h0.6v0.6h-0.6zM55.9 9.3h0.5v0.5h-0.5zM49.1 24.9h0.9v0.9h-0.9zM55.9 0.8h0.9v0.9h-0.9zM32.2 35.1h0.7v0.7h-0.7zM22.6 51.4h1.1v1.1h-1.1zM3.5 11.4h0.9v0.9h-0.9zM35.4 54.8h0.9v0.9h-0.9zM25.8 53.0h0.6v0.6h-0.6zM32.7 19.5h0.9v0.9h-0.9zM5.3 44.5h1.1v1.1h-1.1zM31.6 14.9h1.2v1.2h-1.2zM20.6 41.0h0.5v0.5h-0.5zM14.8 35.0h0.8v0.8h-0.8zM29.8 7.9h0.5v0.5h-0.5zM38.3 2.1h1.0v1.0h-1.0zM7.6 20.4h0.7v0.7h-0.7zM15.0 22.7h0.7v0.7h-0.7zM27.1 49.4h0.5v0.5h-0.5zM26.6 31.0h0.7v0.7h-0.7zM7.7 52.3h0.7v0.7h-0.7zM37.2 36.8h1.1v1.1h-1.1zM43.3 29.7h0.5v0.5h-0.5zM46.2 2.2h1.2v1.2h-1.2zM44.1 28.4h0.8v0.8h-0.8zM17.3 11.5h0.8v0.8h-0.8zM28.2 51.0h0.6v0.6h-0.6zM20.6 16.9h0.8v0.8h-0.8zM17.2 8.4h0.9v0.9h-0.9zM30.2 39.1h1.1v1.1h-1.1zM10.4 42.1h0.8v0.8h-0.8zM28.0 45.4h0.6v0.6h-0.6zM1.2 40.5h0.7v0.7h-0.7zM8.1 49.7h0.8v0.8h-0.8zM21.0 49.6h0.5v0.5h-0.5zM36.8 12.3h1.1v1.1h-1.1zM29.9 52.1h0.5v0.5h-0.5zM28.6 34.7h1.2v1.2h-1.2zM5.8 4.9h1.0v1.0h-1.0zM42.9 37.6h0.9v0.9h-0.9zM53.4 17.9h1.0v1.0h-1.0zM14.7 37.2h0.8v0.8h-0.8zM29.3 4.9h0.5v0.5h-0.5zM24.5 25.0h1.1v1.1h-1.1zM23.8 14.5h1.1v1.1h-1.1zM53.2 0.3h1.0v1.0h-1.0zM8.1 49.3h0.7v0.7h-0.7zM5.6 39.3h1.1v1.1h-1.1zM39.6 28.9h0.9v0.9h-0.9zM40.6 45.8h1.0v1.0h-1.0zM20.8 9.3h0.8v0.8h-0.8zM39.7 55.8h0.9v0.9h-0.9zM13.8 28.4h0.9v0.9h-0.9zM14.4 7.7h0.8v0.8h-0.8zM25.0 34.9h1.2v1.2h-1.2zM21.4 16.9h0.8v0.8h-0.8zM29.7 4.7h0.5v0.5h-0.5zM19.2 35.2h0.7v0.7h-0.7zM47.5 30.8h0.7v0.7h-0.7zM45.3 45.0h0.9v0.9h-0.9zM36.1 53.7h0.9v0.9h-0.9zM53.4 18.3h1.0v1.0h-1.0zM17.3 19.0h1.0v1.0h-1.0zM45.9 56.0h0.5v0.5h-0.5zM32.2 6.0h1.0v1.0h-1.0zM5.9 51.6h0.6v0.6h-0.6zM3.2 13.2h1.1v1.1h-1.1zM34.1 25.7h0.6v0.6h-0.6zM36.3 22.6h0.9v0.9h-0.9zM23.6 21.0h0.8v0.8h-0.8zM8.6 50.2h0.6v0.6h-0.6zM42.0 7.8h0.5v0.5h-0.5zM50.0 31.6h0.6v0.6h-0.6zM34.2 9.4h1.1v1.1h-1.1zM42.7 25.2h0.8v0.8h-0.8zM25.0 48.7h1.0v1.0h-1.0zM23.6 30.8h0.7v0.7h-0.7zM44.0 23.7h1.0v1.0h-1.0zM5.5 34.0h1.0v1.0h-1.0zM35.4 35.7h0.7v0.7h-0.7z" fill="#f07a20"/><path d="M28.1 44.0h0.8v0.8h-0.8zM50.6 0.7h0.6v0.6h-0.6zM19.2 41.8h0.6v0.6h-0.6zM17.4 1.7h1.1v1.1h-1.1zM23.0 1.1h1.1v1.1h-1.1zM38.8 48.2h1.2v1.2h-1.2zM21.1 53.6h0.9v0.9h-0.9zM3.9 13.3h1.1v1.1h-1.1zM43.2 25.2h1.2v1.2h-1.2zM42.2 56.0h0.7v0.7h-0.7zM38.8 50.7h1.1v1.1h-1.1zM23.8 24.1h1.0v1.0h-1.0zM17.0 37.8h0.6v0.6h-0.6zM13.6 56.7h1.2v1.2h-1.2zM39.3 42.7h1.1v1.1h-1.1zM13.0 23.3h1.0v1.0h-1.0zM26.4 8.0h0.9v0.9h-0.9zM45.7 25.1h0.6v0.6h-0.6zM42.5 37.8h0.8v0.8h-0.8zM26.4 29.8h0.8v0.8h-0.8zM8.9 47.7h0.7v0.7h-0.7zM16.5 37.1h0.8v0.8h-0.8zM32.2 44.9h0.9v0.9h-0.9zM6.5 28.4h0.8v0.8h-0.8zM51.9 17.9h0.6v0.6h-0.6zM50.1 45.9h0.6v0.6h-0.6zM40.4 52.9h0.8v0.8h-0.8zM27.2 38.7h0.6v0.6h-0.6zM44.3 37.2h0.9v0.9h-0.9zM10.6 55.2h1.1v1.1h-1.1zM39.9 33.7h1.2v1.2h-1.2zM11.9 2.0h0.5v0.5h-0.5zM0.4 56.7h0.8v0.8h-0.8zM25.7 27.0h0.9v0.9h-0.9zM7.8 1.6h0.7v0.7h-0.7zM55.1 9.9h1.1v1.1h-1.1zM11.6 5.1h1.0v1.0h-1.0zM0.5 3.8h0.6v0.6h-0.6zM20.1 42.8h0.5v0.5h-0.5zM40.8 39.2h1.0v1.0h-1.0zM21.4 41.8h0.9v0.9h-0.9zM41.9 51.1h0.9v0.9h-0.9zM9.4 19.0h0.8v0.8h-0.8zM50.0 41.6h0.7v0.7h-0.7zM8.9 49.6h0.8v0.8h-0.8zM9.0 8.1h0.8v0.8h-0.8zM12.8 29.9h0.8v0.8h-0.8zM53.7 39.2h0.6v0.6h-0.6zM43.0 45.6h1.1v1.1h-1.1zM11.9 10.0h0.9v0.9h-0.9zM11.0 46.8h1.0v1.0h-1.0zM41.7 35.9h0.7v0.7h-0.7z" fill="#ffb040"/></g><path d="M50.5 -1.0 L47.0 6.0 L43.0 14.0 L38.0 25.0 L34.0 36.0 L31.0 45.0 L29.0 58.5 L58.5 58.5 L58.5 -1.0 Z" fill="#55ec00"/><path d="M50.5 -1.0 C49.9 0.2 48.2 3.5 47.0 6.0 C45.8 8.5 44.5 10.8 43.0 14.0 C41.5 17.2 39.5 21.3 38.0 25.0 C36.5 28.7 35.2 32.7 34.0 36.0 C32.8 39.3 31.8 41.2 31.0 45.0 C30.2 48.8 29.3 56.2 29.0 58.5" stroke="#000" stroke-width="1" fill="none"/></g>
<clipPath id="cp34"><rect x="0" y="0" width="57.1" height="57"/></clipPath><g transform="translate(147,680)" clip-path="url(#cp34)"><rect x="0" y="0" width="57.1" height="57" fill="#000"/><path d="M-1.0 12.0 L20.0 18.0 L40.0 30.0 L58.0 40.0 L58.0 52.0 L40.0 44.0 L20.0 32.0 L-1.0 25.0 Z" fill="rgb(22,22,22)" filter="url(#b2)"/><path d="M40.0 -1.0 L58.0 -1.0 L58.0 14.0 L48.0 6.0 Z" fill="rgb(25,25,25)" filter="url(#b2)"/><ellipse cx="26" cy="31" rx="12" ry="7" transform="rotate(25 26 31)" fill="rgb(58,58,58)" filter="url(#b1)"/><ellipse cx="27" cy="31" rx="6" ry="4.3" transform="rotate(25 27 31)" fill="rgb(22,22,22)" filter="url(#b1)"/><ellipse cx="19.5" cy="30.5" rx="1.2" ry="1.2" fill="rgb(180,180,180)" filter="url(#b05)"/><ellipse cx="34" cy="38" rx="2" ry="1.2" fill="rgb(200,200,200)" filter="url(#b05)"/><ellipse cx="37.5" cy="40" rx="1.2" ry="1" fill="rgb(170,170,170)" filter="url(#b05)"/><ellipse cx="49" cy="7.5" rx="1.3" ry="2" fill="rgb(170,170,170)" filter="url(#b05)"/><text x="49" y="51" font-size="6" font-weight="bold" text-anchor="middle" fill="#fff">9μm</text><rect x="43.2" y="53.5" width="12.4" height="1.7" fill="#fff"/></g>
<clipPath id="cp35"><rect x="0" y="0" width="57.1" height="57"/></clipPath><g transform="translate(147,739)" clip-path="url(#cp35)"><rect x="0" y="0" width="57.1" height="57" fill="#000"/><rect x="0" y="0" width="57" height="57" fill="#0a0000"/><path d="M-1.0 12.0 L20.0 18.0 L40.0 30.0 L58.0 40.0 L58.0 52.0 L40.0 44.0 L20.0 32.0 L-1.0 25.0 Z" fill="#300000" filter="url(#b2)"/><path d="M38.0 -1.0 L58.0 -1.0 L58.0 16.0 L46.0 6.0 Z" fill="#5a0a00" filter="url(#b1)"/><ellipse cx="26" cy="31" rx="12" ry="7" transform="rotate(25 26 31)" fill="#7a1800" filter="url(#b1)"/><ellipse cx="27" cy="31" rx="6" ry="4.3" transform="rotate(25 27 31)" fill="#3a0400" filter="url(#b1)"/><ellipse cx="19.5" cy="30.5" rx="1.2" ry="1.2" fill="#ffd060" filter="url(#b05)"/><ellipse cx="34" cy="38" rx="2" ry="1.2" fill="#ffe080" filter="url(#b05)"/><ellipse cx="49" cy="7.5" rx="1.5" ry="2" fill="#ffb030" filter="url(#b05)"/><path d="M3.0 1.0 L34.0 1.0 L45.0 8.0 L58.0 18.0 L58.0 36.0 L48.0 30.0 L35.0 22.0 L22.0 17.0 L10.0 12.0 L5.0 6.0 Z" fill="#55ec00"/><g filter="url(#b04)"><path d="M29.1 17.9h0.7v0.7h-0.7zM37.6 16.1h0.7v0.7h-0.7zM48.9 24.8h0.9v0.9h-0.9zM55.4 22.3h1.0v1.0h-1.0zM54.4 21.7h1.2v1.2h-1.2zM28.3 16.8h1.0v1.0h-1.0zM30.3 18.1h1.0v1.0h-1.0zM52.9 27.4h0.9v0.9h-0.9zM45.6 11.4h0.7v0.7h-0.7zM32.7 20.7h1.3v1.3h-1.3zM33.8 12.0h1.1v1.1h-1.1zM39.3 9.7h1.0v1.0h-1.0zM41.7 12.3h1.0v1.0h-1.0zM48.7 16.9h1.2v1.2h-1.2zM30.0 8.7h0.9v0.9h-0.9zM41.0 17.1h1.3v1.3h-1.3zM34.2 12.3h1.2v1.2h-1.2zM25.6 10.0h0.8v0.8h-0.8zM48.2 15.0h0.7v0.7h-0.7zM51.9 21.7h1.1v1.1h-1.1zM4.6 4.8h1.1v1.1h-1.1zM42.3 14.4h0.8v0.8h-0.8zM14.3 1.2h1.0v1.0h-1.0zM17.4 9.3h0.8v0.8h-0.8zM13.5 1.4h0.9v0.9h-0.9zM36.2 13.3h1.0v1.0h-1.0zM20.1 1.4h0.8v0.8h-0.8zM17.7 10.3h0.9v0.9h-0.9zM34.7 5.1h0.7v0.7h-0.7zM27.8 9.4h0.9v0.9h-0.9zM44.4 16.5h1.1v1.1h-1.1zM27.9 18.4h0.9v0.9h-0.9zM27.4 2.2h1.1v1.1h-1.1zM18.2 10.3h0.9v0.9h-0.9zM39.6 21.0h1.2v1.2h-1.2zM48.7 12.4h0.9v0.9h-0.9zM30.8 6.4h0.8v0.8h-0.8zM41.0 6.2h1.2v1.2h-1.2zM21.6 12.4h1.1v1.1h-1.1zM13.6 5.9h0.9v0.9h-0.9zM47.5 10.6h1.2v1.2h-1.2zM11.3 1.3h1.2v1.2h-1.2zM17.4 13.4h1.2v1.2h-1.2zM41.8 13.2h0.9v0.9h-0.9zM16.1 9.6h1.2v1.2h-1.2zM26.3 7.8h1.0v1.0h-1.0z" fill="#0a0000"/><path d="M19.6 9.9h0.9v0.9h-0.9zM52.2 20.6h1.0v1.0h-1.0zM23.5 13.0h1.2v1.2h-1.2zM38.7 5.3h0.9v0.9h-0.9zM23.9 9.2h1.1v1.1h-1.1zM36.6 8.6h1.0v1.0h-1.0zM22.2 5.0h0.9v0.9h-0.9zM56.0 27.5h1.1v1.1h-1.1zM27.1 12.4h1.1v1.1h-1.1zM41.9 16.6h0.9v0.9h-0.9zM30.3 1.2h0.9v0.9h-0.9zM43.4 24.3h0.8v0.8h-0.8zM51.4 20.7h1.0v1.0h-1.0zM33.9 2.2h0.9v0.9h-0.9zM39.6 23.0h1.2v1.2h-1.2zM25.3 16.9h1.0v1.0h-1.0zM33.9 2.2h0.7v0.7h-0.7zM47.1 18.4h1.1v1.1h-1.1zM22.2 14.4h1.0v1.0h-1.0zM28.4 15.2h1.1v1.1h-1.1zM36.7 22.6h0.8v0.8h-0.8zM48.6 17.5h0.8v0.8h-0.8zM47.6 19.8h0.9v0.9h-0.9zM28.2 19.2h1.1v1.1h-1.1z" fill="#2a0000"/></g><path d="M-1.0 27.0 L-1.0 58.5 L47.5 58.5 Z" fill="#55ec00"/><g filter="url(#b04)"><path d="M1.7 28.3h0.8v0.8h-0.8zM8.2 34.7h0.7v0.7h-0.7zM5.5 36.7h0.9v0.9h-0.9zM4.7 32.7h0.8v0.8h-0.8zM4.0 36.1h1.0v1.0h-1.0z" fill="#0a0000"/></g><text x="49" y="51" font-size="6" font-weight="bold" text-anchor="middle" fill="#fff">9μm</text><rect x="43.2" y="53.5" width="12.4" height="1.7" fill="#fff"/></g>
<clipPath id="cp36"><rect x="0" y="0" width="56.2" height="57"/></clipPath><g transform="translate(205.1,560)" clip-path="url(#cp36)"><rect x="0" y="0" width="56.2" height="57" fill="#000"/><path d="M-1.0 -1.0 L50.5 -1.0 L47.0 6.0 L43.0 14.0 L38.0 25.0 L34.0 36.0 L31.0 45.0 L29.0 58.5 L-1.0 58.5 Z" fill="rgb(12,12,12)"/><path d="M30.0 8.0 C31.3 5.8 37.7 4.0 40.0 5.0 C42.3 6.0 44.3 9.8 44.0 14.0 C43.7 18.2 39.8 24.8 38.0 30.0 C36.2 35.2 34.3 40.7 33.0 45.0 C31.7 49.3 32.2 54.2 30.0 56.0 C27.8 57.8 21.7 58.7 20.0 56.0 C18.3 53.3 19.0 44.7 20.0 40.0 C21.0 35.3 24.0 31.7 26.0 28.0 C28.0 24.3 31.3 21.3 32.0 18.0 C32.7 14.7 28.7 10.2 30.0 8.0 Z" fill="rgb(25,25,25)" filter="url(#b1)"/><path d="M-1.0 -1.0 C1.5 -7.8 11.8 -2.8 14.0 -1.0 C16.2 0.8 13.0 5.7 12.0 10.0 C11.0 14.3 9.3 20.8 8.0 25.0 C6.7 29.2 5.5 32.5 4.0 35.0 C2.5 37.5 -0.2 46.0 -1.0 40.0 C-1.8 34.0 -3.5 5.8 -1.0 -1.0 Z" fill="rgb(25,25,25)" filter="url(#b1)"/><path d="M16.0 19.0 C16.8 17.3 21.2 16.0 23.0 17.0 C24.8 18.0 26.7 22.7 27.0 25.0 C27.3 27.3 26.5 30.7 25.0 31.0 C23.5 31.3 19.5 29.0 18.0 27.0 C16.5 25.0 15.2 20.7 16.0 19.0 Z" fill="rgb(59,59,59)" filter="url(#b1)"/><g filter="url(#b04)"><path d="M26.0 38.5h0.7v0.7h-0.7zM26.6 46.2h0.6v0.6h-0.6zM21.0 52.7h0.6v0.6h-0.6zM36.6 22.6h0.6v0.6h-0.6zM43.3 5.4h0.7v0.7h-0.7zM30.7 9.4h0.6v0.6h-0.6zM17.3 56.6h0.8v0.8h-0.8zM32.5 10.4h1.0v1.0h-1.0zM35.3 17.4h0.9v0.9h-0.9zM18.2 46.5h0.8v0.8h-0.8zM35.5 31.5h0.7v0.7h-0.7zM20.2 56.1h0.8v0.8h-0.8zM30.6 8.8h0.8v0.8h-0.8zM19.7 41.9h0.9v0.9h-0.9zM33.3 41.2h0.6v0.6h-0.6zM18.7 44.6h1.0v1.0h-1.0zM32.8 47.9h0.7v0.7h-0.7zM22.0 33.8h0.7v0.7h-0.7zM35.8 20.3h1.0v1.0h-1.0zM25.9 51.0h0.8v0.8h-0.8zM31.1 21.7h0.7v0.7h-0.7zM29.4 56.0h0.8v0.8h-0.8zM26.4 16.3h0.9v0.9h-0.9zM26.8 41.0h0.9v0.9h-0.9zM30.9 8.3h0.6v0.6h-0.6z" fill="#a8a8a8"/><path d="M22.5 20.4h0.6v0.6h-0.6zM24.5 36.3h0.5v0.5h-0.5zM23.3 27.7h0.8v0.8h-0.8zM28.1 31.9h0.9v0.9h-0.9zM36.3 26.3h0.6v0.6h-0.6zM21.2 50.3h0.7v0.7h-0.7zM32.7 43.1h0.9v0.9h-0.9zM18.6 54.7h0.6v0.6h-0.6zM43.6 7.4h0.5v0.5h-0.5zM30.3 53.0h0.8v0.8h-0.8zM29.0 28.0h1.0v1.0h-1.0zM27.5 18.4h0.9v0.9h-0.9zM28.5 47.3h0.8v0.8h-0.8zM29.2 27.6h0.8v0.8h-0.8zM43.0 4.7h0.6v0.6h-0.6zM23.7 45.3h0.8v0.8h-0.8zM30.5 43.1h0.6v0.6h-0.6zM21.6 37.5h0.7v0.7h-0.7zM27.4 22.3h0.9v0.9h-0.9zM29.1 41.9h0.5v0.5h-0.5zM25.1 28.4h0.8v0.8h-0.8zM26.5 20.2h0.9v0.9h-0.9zM22.0 17.9h0.9v0.9h-0.9zM18.5 54.3h0.8v0.8h-0.8zM39.7 7.0h0.8v0.8h-0.8zM20.5 30.2h0.9v0.9h-0.9zM23.1 32.6h0.8v0.8h-0.8zM37.5 22.2h0.9v0.9h-0.9z" fill="#303030"/><path d="M21.9 40.7h1.0v1.0h-1.0zM20.4 53.6h0.8v0.8h-0.8zM44.0 7.0h0.9v0.9h-0.9zM29.7 15.5h0.8v0.8h-0.8zM33.3 28.6h0.8v0.8h-0.8zM26.0 54.0h0.7v0.7h-0.7zM30.3 21.5h0.6v0.6h-0.6zM34.7 22.7h0.5v0.5h-0.5zM41.4 15.0h0.7v0.7h-0.7zM30.3 44.8h0.7v0.7h-0.7zM25.4 36.0h0.7v0.7h-0.7zM24.8 32.6h0.7v0.7h-0.7zM35.3 35.8h0.6v0.6h-0.6zM27.4 42.0h0.9v0.9h-0.9zM26.6 16.6h0.5v0.5h-0.5zM36.5 12.5h0.6v0.6h-0.6zM30.1 31.9h0.6v0.6h-0.6zM27.0 51.5h0.5v0.5h-0.5zM38.0 10.3h0.8v0.8h-0.8zM23.6 33.2h0.9v0.9h-0.9zM22.1 23.9h0.6v0.6h-0.6zM24.3 51.6h0.8v0.8h-0.8zM32.4 16.8h1.0v1.0h-1.0zM28.2 31.0h0.6v0.6h-0.6zM25.1 10.4h0.6v0.6h-0.6zM39.1 12.5h0.9v0.9h-0.9zM33.4 37.0h0.7v0.7h-0.7zM37.8 11.0h0.9v0.9h-0.9zM21.6 46.6h0.9v0.9h-0.9zM27.4 24.7h0.7v0.7h-0.7zM35.3 34.6h0.8v0.8h-0.8zM29.3 9.1h0.9v0.9h-0.9zM33.1 28.4h0.9v0.9h-0.9zM32.8 32.7h0.7v0.7h-0.7zM24.0 33.6h0.8v0.8h-0.8zM30.3 21.7h0.9v0.9h-0.9zM34.3 24.4h0.9v0.9h-0.9zM25.6 17.3h1.0v1.0h-1.0zM38.2 26.1h0.7v0.7h-0.7zM38.8 22.2h0.7v0.7h-0.7zM21.3 36.3h0.7v0.7h-0.7zM20.4 44.0h0.5v0.5h-0.5zM24.5 31.9h0.6v0.6h-0.6z" fill="#606060"/><path d="M23.5 39.6h0.6v0.6h-0.6zM33.2 18.3h0.8v0.8h-0.8zM19.8 28.4h0.6v0.6h-0.6zM28.2 9.5h0.6v0.6h-0.6zM36.8 13.9h0.5v0.5h-0.5zM24.0 15.6h1.0v1.0h-1.0zM27.0 42.5h0.9v0.9h-0.9zM30.4 8.0h0.8v0.8h-0.8zM40.9 15.3h1.0v1.0h-1.0zM28.3 40.5h0.5v0.5h-0.5zM32.8 8.4h0.9v0.9h-0.9zM29.6 13.9h0.9v0.9h-0.9zM28.5 27.9h0.6v0.6h-0.6zM32.4 28.1h0.8v0.8h-0.8zM32.2 39.0h0.9v0.9h-0.9zM18.2 49.4h0.8v0.8h-0.8zM40.9 6.6h0.5v0.5h-0.5zM22.7 56.5h0.7v0.7h-0.7zM31.8 29.1h0.6v0.6h-0.6zM32.6 7.3h0.7v0.7h-0.7zM17.2 49.1h0.7v0.7h-0.7zM16.9 52.5h0.8v0.8h-0.8zM27.4 24.6h0.6v0.6h-0.6zM17.5 55.4h0.6v0.6h-0.6zM25.9 42.8h0.9v0.9h-0.9zM27.5 37.1h0.7v0.7h-0.7zM39.6 12.5h0.5v0.5h-0.5zM28.8 50.4h0.8v0.8h-0.8zM26.6 37.6h0.8v0.8h-0.8zM24.7 35.8h0.5v0.5h-0.5zM37.0 25.2h0.9v0.9h-0.9zM40.9 6.0h0.6v0.6h-0.6zM34.5 11.6h1.0v1.0h-1.0z" fill="#484848"/><path d="M29.2 11.1h0.9v0.9h-0.9zM39.5 20.5h0.7v0.7h-0.7zM27.9 39.0h0.6v0.6h-0.6zM27.2 39.9h0.9v0.9h-0.9zM37.7 18.6h0.5v0.5h-0.5zM33.6 21.5h0.9v0.9h-0.9zM20.7 50.1h0.8v0.8h-0.8zM40.9 18.1h0.8v0.8h-0.8zM18.8 53.2h0.8v0.8h-0.8zM23.8 34.0h0.5v0.5h-0.5zM32.6 16.0h0.9v0.9h-0.9zM20.9 45.9h0.7v0.7h-0.7zM20.4 28.0h0.8v0.8h-0.8zM33.6 29.5h1.0v1.0h-1.0zM32.8 37.3h1.0v1.0h-1.0zM35.4 21.6h0.9v0.9h-0.9zM19.2 50.1h0.5v0.5h-0.5zM21.3 50.2h0.8v0.8h-0.8zM34.4 24.6h0.7v0.7h-0.7zM29.2 45.7h0.8v0.8h-0.8zM23.0 21.9h0.8v0.8h-0.8zM27.0 48.2h0.8v0.8h-0.8zM21.2 40.8h0.9v0.9h-0.9zM28.8 25.6h0.9v0.9h-0.9zM32.0 29.7h0.9v0.9h-0.9zM23.8 51.0h0.7v0.7h-0.7zM38.5 9.0h1.0v1.0h-1.0zM28.7 15.9h0.5v0.5h-0.5zM25.3 36.7h0.6v0.6h-0.6zM33.4 30.8h0.7v0.7h-0.7zM30.0 26.2h1.0v1.0h-1.0zM35.5 27.3h1.0v1.0h-1.0zM36.3 13.0h0.8v0.8h-0.8zM29.2 30.1h0.8v0.8h-0.8zM22.4 56.5h0.7v0.7h-0.7zM29.4 34.7h0.6v0.6h-0.6zM29.7 22.5h0.8v0.8h-0.8zM25.2 13.8h0.6v0.6h-0.6z" fill="#787878"/><path d="M33.9 8.8h0.9v0.9h-0.9zM22.0 19.6h0.8v0.8h-0.8zM30.4 18.3h1.0v1.0h-1.0zM40.7 15.8h0.9v0.9h-0.9zM21.3 53.8h0.5v0.5h-0.5zM31.2 56.1h0.6v0.6h-0.6zM20.7 28.4h0.7v0.7h-0.7zM19.9 42.0h1.0v1.0h-1.0zM23.7 19.4h0.5v0.5h-0.5zM29.5 49.8h0.6v0.6h-0.6zM21.7 38.8h0.9v0.9h-0.9zM39.5 17.8h0.7v0.7h-0.7zM19.8 56.4h0.6v0.6h-0.6zM30.7 23.8h0.9v0.9h-0.9zM33.9 10.3h0.5v0.5h-0.5zM30.6 16.5h0.7v0.7h-0.7zM29.6 38.4h0.7v0.7h-0.7zM25.1 14.6h0.7v0.7h-0.7zM20.3 36.3h0.7v0.7h-0.7zM18.5 53.5h0.7v0.7h-0.7zM20.5 38.8h0.8v0.8h-0.8zM26.5 29.9h0.7v0.7h-0.7zM34.7 28.7h0.8v0.8h-0.8zM33.8 32.8h0.5v0.5h-0.5zM20.9 25.6h0.7v0.7h-0.7zM28.7 26.5h0.9v0.9h-0.9zM21.2 38.0h0.8v0.8h-0.8zM34.3 26.7h1.0v1.0h-1.0zM23.0 45.4h0.6v0.6h-0.6zM27.6 38.4h0.8v0.8h-0.8zM31.7 23.1h0.6v0.6h-0.6zM43.8 6.2h0.5v0.5h-0.5zM26.3 11.5h0.7v0.7h-0.7z" fill="#909090"/></g><g filter="url(#b04)"><path d="M3.2 26.0h0.9v0.9h-0.9zM5.6 13.5h0.7v0.7h-0.7zM4.7 34.1h1.0v1.0h-1.0zM1.3 5.8h0.8v0.8h-0.8zM4.5 39.0h1.0v1.0h-1.0zM1.7 17.8h1.0v1.0h-1.0zM2.1 11.2h0.6v0.6h-0.6zM2.4 28.7h0.6v0.6h-0.6zM7.1 3.0h0.9v0.9h-0.9zM2.1 26.7h1.0v1.0h-1.0zM2.9 28.1h1.0v1.0h-1.0zM11.5 23.5h0.5v0.5h-0.5zM1.6 31.9h0.6v0.6h-0.6zM7.8 28.9h0.8v0.8h-0.8zM0.8 8.7h1.0v1.0h-1.0zM13.0 2.9h0.7v0.7h-0.7zM6.0 32.2h0.9v0.9h-0.9zM7.9 0.2h1.0v1.0h-1.0zM13.8 4.5h1.0v1.0h-1.0zM8.9 0.5h0.5v0.5h-0.5z" fill="#303030"/><path d="M14.9 5.9h0.5v0.5h-0.5zM13.0 9.6h0.7v0.7h-0.7zM3.9 27.7h0.6v0.6h-0.6zM2.9 29.2h0.7v0.7h-0.7zM0.3 34.4h0.7v0.7h-0.7zM8.0 22.7h0.7v0.7h-0.7zM13.4 9.0h0.8v0.8h-0.8zM0.5 1.6h1.0v1.0h-1.0zM3.2 32.2h0.5v0.5h-0.5zM12.1 21.7h0.6v0.6h-0.6zM7.1 18.9h0.8v0.8h-0.8zM6.9 15.8h0.5v0.5h-0.5zM3.9 19.1h0.5v0.5h-0.5zM2.1 2.2h0.9v0.9h-0.9zM13.1 14.0h0.8v0.8h-0.8zM8.8 22.7h0.9v0.9h-0.9zM12.2 3.6h0.9v0.9h-0.9zM3.3 37.6h0.7v0.7h-0.7zM13.4 3.2h0.7v0.7h-0.7zM4.4 13.8h0.6v0.6h-0.6zM2.0 8.4h0.6v0.6h-0.6zM9.4 11.4h0.8v0.8h-0.8z" fill="#a8a8a8"/><path d="M16.5 0.5h0.6v0.6h-0.6zM14.4 7.6h0.7v0.7h-0.7zM13.9 3.0h0.7v0.7h-0.7zM12.8 20.5h0.9v0.9h-0.9zM8.4 10.0h0.7v0.7h-0.7zM10.0 21.6h0.7v0.7h-0.7zM4.3 1.6h0.9v0.9h-0.9zM7.5 7.2h0.6v0.6h-0.6zM11.5 14.6h0.9v0.9h-0.9zM2.5 31.3h0.9v0.9h-0.9zM4.8 6.7h0.7v0.7h-0.7zM0.8 21.9h0.6v0.6h-0.6zM9.6 26.9h0.9v0.9h-0.9zM1.0 42.4h0.6v0.6h-0.6zM10.8 3.8h0.7v0.7h-0.7zM17.5 0.6h0.9v0.9h-0.9zM1.8 6.0h0.5v0.5h-0.5zM6.1 22.6h0.9v0.9h-0.9zM0.5 26.3h0.8v0.8h-0.8zM2.9 5.4h1.0v1.0h-1.0zM2.0 31.4h0.7v0.7h-0.7zM2.6 21.9h0.9v0.9h-0.9zM8.6 19.4h0.8v0.8h-0.8zM16.2 3.1h0.6v0.6h-0.6zM5.0 20.5h0.5v0.5h-0.5zM2.9 3.7h1.0v1.0h-1.0zM7.6 17.3h0.7v0.7h-0.7zM5.2 33.0h0.6v0.6h-0.6zM5.8 16.5h0.9v0.9h-0.9zM2.5 19.8h0.9v0.9h-0.9zM4.9 5.0h0.8v0.8h-0.8zM5.3 4.6h1.0v1.0h-1.0zM10.2 6.8h0.6v0.6h-0.6zM4.5 22.3h0.9v0.9h-0.9zM3.8 19.5h0.8v0.8h-0.8zM0.2 4.3h0.8v0.8h-0.8z" fill="#787878"/><path d="M0.4 28.9h0.8v0.8h-0.8zM13.6 14.4h0.7v0.7h-0.7zM13.3 16.4h0.9v0.9h-0.9zM10.1 15.8h0.7v0.7h-0.7zM9.5 18.4h0.7v0.7h-0.7zM3.9 30.1h0.9v0.9h-0.9zM10.0 26.0h0.6v0.6h-0.6zM4.1 7.0h0.6v0.6h-0.6zM8.9 15.2h0.8v0.8h-0.8zM4.4 33.2h0.8v0.8h-0.8zM7.4 31.1h0.8v0.8h-0.8zM1.6 28.9h0.9v0.9h-0.9zM9.0 16.8h0.5v0.5h-0.5zM4.2 38.9h0.6v0.6h-0.6zM3.6 13.0h0.9v0.9h-0.9zM6.4 10.0h0.6v0.6h-0.6zM5.3 32.2h0.8v0.8h-0.8zM9.9 4.2h0.6v0.6h-0.6zM13.1 14.1h0.9v0.9h-0.9zM2.5 29.7h0.8v0.8h-0.8zM2.8 10.5h0.7v0.7h-0.7zM14.3 11.0h0.6v0.6h-0.6zM5.2 30.8h0.8v0.8h-0.8zM1.4 37.8h0.7v0.7h-0.7zM13.6 13.8h0.6v0.6h-0.6z" fill="#606060"/><path d="M10.9 23.2h0.6v0.6h-0.6zM11.4 9.0h1.0v1.0h-1.0zM13.1 18.9h0.7v0.7h-0.7zM9.0 12.9h0.9v0.9h-0.9zM14.1 5.0h0.9v0.9h-0.9zM8.3 9.9h0.6v0.6h-0.6zM12.7 5.7h0.7v0.7h-0.7zM15.2 6.5h0.6v0.6h-0.6zM10.6 16.3h0.7v0.7h-0.7zM1.4 38.8h0.7v0.7h-0.7zM0.5 30.5h0.7v0.7h-0.7zM11.9 19.4h0.8v0.8h-0.8zM3.7 21.5h1.0v1.0h-1.0zM2.8 0.3h0.8v0.8h-0.8zM8.7 21.9h0.6v0.6h-0.6zM2.8 15.4h0.8v0.8h-0.8zM3.4 27.5h1.0v1.0h-1.0zM16.5 4.3h0.6v0.6h-0.6zM2.4 9.6h0.7v0.7h-0.7zM9.3 28.1h0.6v0.6h-0.6zM3.5 24.7h0.7v0.7h-0.7zM5.5 17.2h0.6v0.6h-0.6zM10.5 24.0h0.8v0.8h-0.8zM3.1 22.0h1.0v1.0h-1.0zM4.0 8.2h0.5v0.5h-0.5zM4.7 31.3h0.8v0.8h-0.8zM8.5 28.2h0.9v0.9h-0.9z" fill="#909090"/><path d="M11.9 22.2h0.6v0.6h-0.6zM6.8 19.9h0.8v0.8h-0.8zM4.4 36.1h0.5v0.5h-0.5zM0.2 17.9h0.6v0.6h-0.6zM2.0 11.0h0.9v0.9h-0.9zM10.5 24.8h0.7v0.7h-0.7zM6.1 33.5h0.8v0.8h-0.8zM11.8 17.0h0.8v0.8h-0.8zM12.8 6.0h0.6v0.6h-0.6zM12.8 18.3h0.6v0.6h-0.6zM8.9 16.3h0.9v0.9h-0.9zM0.8 34.2h0.7v0.7h-0.7zM2.2 20.7h0.8v0.8h-0.8zM6.1 31.3h0.7v0.7h-0.7zM7.4 5.5h0.5v0.5h-0.5zM6.6 10.4h1.0v1.0h-1.0zM9.3 8.3h0.6v0.6h-0.6zM15.3 4.8h0.8v0.8h-0.8zM0.8 12.5h0.9v0.9h-0.9zM9.3 12.5h0.6v0.6h-0.6z" fill="#484848"/></g><g filter="url(#b04)"><path d="M16.0 17.7h0.9v0.9h-0.9zM21.7 25.7h0.8v0.8h-0.8zM21.8 31.2h0.6v0.6h-0.6zM16.8 28.8h0.6v0.6h-0.6zM17.7 24.7h0.8v0.8h-0.8zM18.3 22.3h0.6v0.6h-0.6zM18.4 28.2h0.7v0.7h-0.7zM22.1 29.6h0.7v0.7h-0.7zM21.4 22.5h1.0v1.0h-1.0zM27.1 26.4h0.8v0.8h-0.8zM22.9 21.1h0.9v0.9h-0.9zM24.3 30.7h0.5v0.5h-0.5zM27.2 30.5h0.8v0.8h-0.8zM15.1 22.1h0.8v0.8h-0.8zM16.7 28.8h0.6v0.6h-0.6zM23.2 26.3h0.7v0.7h-0.7zM14.8 18.8h1.0v1.0h-1.0z" fill="#606060"/><path d="M27.5 24.1h0.9v0.9h-0.9z" fill="#909090"/><path d="M26.0 18.1h0.8v0.8h-0.8zM24.0 21.7h0.8v0.8h-0.8zM27.4 29.0h1.0v1.0h-1.0zM21.0 28.7h0.5v0.5h-0.5zM24.4 19.4h0.8v0.8h-0.8zM26.6 16.1h0.9v0.9h-0.9zM16.9 25.5h0.7v0.7h-0.7zM19.5 23.2h0.9v0.9h-0.9zM15.5 31.5h0.8v0.8h-0.8zM20.0 22.7h0.6v0.6h-0.6zM16.2 27.3h0.5v0.5h-0.5zM23.5 30.7h1.0v1.0h-1.0zM26.2 28.9h0.8v0.8h-0.8zM18.0 20.4h0.7v0.7h-0.7z" fill="#a8a8a8"/><path d="M19.5 21.9h0.6v0.6h-0.6zM24.7 23.5h0.9v0.9h-0.9zM19.5 23.3h0.9v0.9h-0.9zM26.5 22.9h0.8v0.8h-0.8zM14.9 24.0h0.8v0.8h-0.8zM18.4 26.5h0.8v0.8h-0.8zM17.4 21.9h0.9v0.9h-0.9zM26.9 24.9h0.6v0.6h-0.6zM22.9 24.0h0.7v0.7h-0.7zM21.5 31.6h0.6v0.6h-0.6zM27.2 27.1h1.0v1.0h-1.0zM17.7 30.2h0.7v0.7h-0.7z" fill="#787878"/><path d="M21.5 29.4h0.8v0.8h-0.8z" fill="#484848"/></g><path d="M50.5 -1.0 C49.9 0.2 48.2 3.5 47.0 6.0 C45.8 8.5 44.5 10.8 43.0 14.0 C41.5 17.2 39.5 21.3 38.0 25.0 C36.5 28.7 35.2 32.7 34.0 36.0 C32.8 39.3 31.8 41.2 31.0 45.0 C30.2 48.8 29.3 56.2 29.0 58.5" stroke="rgb(70,70,70)" stroke-width="0.8" fill="none" filter="url(#b05)"/></g>
<clipPath id="cp37"><rect x="0" y="0" width="56.2" height="57"/></clipPath><g transform="translate(205.1,620)" clip-path="url(#cp37)"><rect x="0" y="0" width="56.2" height="57" fill="#000"/><rect x="0" y="0" width="57" height="57" fill="#bc360a"/><path d="M12.0 4.0 C14.0 1.5 18.3 3.2 20.0 5.0 C21.7 6.8 22.3 11.7 22.0 15.0 C21.7 18.3 19.3 20.8 18.0 25.0 C16.7 29.2 15.0 35.0 14.0 40.0 C13.0 45.0 13.7 52.5 12.0 55.0 C10.3 57.5 5.0 58.3 4.0 55.0 C3.0 51.7 5.3 40.8 6.0 35.0 C6.7 29.2 7.0 25.2 8.0 20.0 C9.0 14.8 10.0 6.5 12.0 4.0 Z" fill="#5a0800" filter="url(#b2)"/><path d="M0.0 45.0 C1.3 42.7 6.3 41.8 8.0 44.0 C9.7 46.2 11.3 55.7 10.0 58.0 C8.7 60.3 1.7 60.2 0.0 58.0 C-1.7 55.8 -1.3 47.3 0.0 45.0 Z" fill="#6a1000" filter="url(#b2)"/><path d="M16.0 20.0 C16.3 17.7 21.7 16.3 24.0 18.0 C26.3 19.7 29.3 26.3 30.0 30.0 C30.7 33.7 29.3 39.7 28.0 40.0 C26.7 40.3 24.0 35.3 22.0 32.0 C20.0 28.7 15.7 22.3 16.0 20.0 Z" fill="#e07020" filter="url(#b2)"/><path d="M30.0 5.0 C31.3 1.7 38.0 3.3 40.0 5.0 C42.0 6.7 42.7 10.5 42.0 15.0 C41.3 19.5 37.7 30.3 36.0 32.0 C34.3 33.7 33.0 29.5 32.0 25.0 C31.0 20.5 28.7 8.3 30.0 5.0 Z" fill="#d05818" filter="url(#b2)"/><g filter="url(#b04)"><path d="M11.0 32.3h1.0v1.0h-1.0zM38.0 39.2h0.7v0.7h-0.7zM31.7 22.3h1.0v1.0h-1.0zM56.9 37.2h1.1v1.1h-1.1zM53.3 24.8h0.9v0.9h-0.9zM46.8 45.7h0.9v0.9h-0.9zM28.4 0.3h0.9v0.9h-0.9zM39.6 55.3h0.9v0.9h-0.9zM8.2 35.4h0.9v0.9h-0.9zM25.4 12.5h1.1v1.1h-1.1zM33.5 15.4h0.9v0.9h-0.9zM50.4 12.2h1.1v1.1h-1.1zM14.7 14.7h1.2v1.2h-1.2zM37.3 13.4h1.1v1.1h-1.1zM16.9 29.3h0.7v0.7h-0.7zM22.8 13.5h0.9v0.9h-0.9zM21.2 39.5h0.9v0.9h-0.9zM2.6 2.4h0.6v0.6h-0.6zM39.2 34.4h0.9v0.9h-0.9zM17.6 7.0h1.0v1.0h-1.0zM28.3 21.5h0.7v0.7h-0.7zM54.9 41.1h0.7v0.7h-0.7zM24.2 47.3h0.9v0.9h-0.9zM27.3 29.6h1.0v1.0h-1.0zM12.7 34.2h0.6v0.6h-0.6zM3.4 6.0h0.5v0.5h-0.5zM56.7 36.5h0.8v0.8h-0.8zM35.6 12.9h0.8v0.8h-0.8zM21.6 52.2h0.6v0.6h-0.6zM48.0 34.3h0.5v0.5h-0.5zM56.7 45.1h0.5v0.5h-0.5zM43.1 52.3h1.0v1.0h-1.0zM4.3 33.6h1.1v1.1h-1.1zM18.3 50.9h0.7v0.7h-0.7zM42.8 48.7h1.1v1.1h-1.1zM43.5 49.0h0.8v0.8h-0.8zM45.8 0.3h0.8v0.8h-0.8zM52.4 21.2h0.6v0.6h-0.6zM51.3 43.2h0.7v0.7h-0.7zM53.9 18.8h1.1v1.1h-1.1zM3.7 20.4h1.1v1.1h-1.1zM24.3 56.7h0.9v0.9h-0.9zM22.2 38.0h0.9v0.9h-0.9zM52.0 22.7h0.8v0.8h-0.8zM39.6 17.2h1.0v1.0h-1.0zM48.8 8.8h0.6v0.6h-0.6zM36.7 11.1h0.7v0.7h-0.7zM15.3 1.3h1.0v1.0h-1.0zM32.8 46.3h0.7v0.7h-0.7zM43.9 4.2h1.2v1.2h-1.2zM52.8 7.9h0.8v0.8h-0.8zM43.5 42.5h0.6v0.6h-0.6zM56.3 44.0h0.7v0.7h-0.7zM48.4 33.4h0.7v0.7h-0.7zM47.5 24.9h1.0v1.0h-1.0zM19.1 12.7h1.1v1.1h-1.1zM19.8 7.4h0.9v0.9h-0.9zM25.3 33.3h0.6v0.6h-0.6zM18.5 37.2h1.0v1.0h-1.0zM33.0 9.1h0.9v0.9h-0.9zM16.9 3.6h1.0v1.0h-1.0zM55.9 3.0h1.0v1.0h-1.0zM31.6 3.7h1.0v1.0h-1.0zM10.2 50.6h1.1v1.1h-1.1zM20.2 49.7h1.0v1.0h-1.0zM42.0 2.9h0.6v0.6h-0.6zM47.5 11.4h1.2v1.2h-1.2zM24.6 29.1h0.8v0.8h-0.8zM25.5 1.8h1.0v1.0h-1.0zM3.3 6.8h1.1v1.1h-1.1zM26.5 1.0h0.7v0.7h-0.7zM41.9 13.1h0.8v0.8h-0.8zM4.5 23.9h0.6v0.6h-0.6zM3.9 5.0h0.9v0.9h-0.9zM50.1 11.7h0.9v0.9h-0.9zM35.8 33.2h0.6v0.6h-0.6zM27.2 47.5h0.7v0.7h-0.7zM3.3 22.3h0.8v0.8h-0.8zM4.7 3.4h0.8v0.8h-0.8zM42.1 37.5h1.2v1.2h-1.2zM8.9 2.5h0.9v0.9h-0.9zM12.2 23.0h0.8v0.8h-0.8zM6.0 30.1h1.1v1.1h-1.1zM24.0 12.6h0.9v0.9h-0.9zM36.3 6.5h0.9v0.9h-0.9zM20.3 4.8h1.0v1.0h-1.0zM48.2 38.8h0.6v0.6h-0.6zM37.2 21.2h1.0v1.0h-1.0zM11.7 55.6h0.6v0.6h-0.6zM9.1 17.9h1.1v1.1h-1.1zM49.3 45.7h1.1v1.1h-1.1zM3.0 42.6h1.2v1.2h-1.2zM30.1 56.0h1.0v1.0h-1.0zM24.7 1.3h0.9v0.9h-0.9zM50.8 50.8h1.1v1.1h-1.1zM40.4 27.1h0.7v0.7h-0.7zM37.1 49.8h1.1v1.1h-1.1zM4.3 36.4h0.8v0.8h-0.8zM19.0 47.0h1.1v1.1h-1.1zM17.6 17.9h0.7v0.7h-0.7zM32.4 3.9h0.8v0.8h-0.8zM4.3 38.5h1.2v1.2h-1.2zM36.4 20.9h1.1v1.1h-1.1zM27.0 29.0h1.0v1.0h-1.0zM17.8 21.1h0.6v0.6h-0.6zM55.0 7.1h1.0v1.0h-1.0zM18.1 1.1h1.1v1.1h-1.1zM2.8 5.8h0.7v0.7h-0.7zM22.1 1.3h0.5v0.5h-0.5zM47.2 41.6h1.0v1.0h-1.0zM55.9 25.8h1.1v1.1h-1.1zM43.3 8.3h1.1v1.1h-1.1zM22.4 46.8h0.6v0.6h-0.6zM23.8 27.0h0.9v0.9h-0.9zM0.9 52.3h0.7v0.7h-0.7zM4.8 20.1h0.5v0.5h-0.5zM35.8 13.5h1.0v1.0h-1.0zM19.4 2.5h0.7v0.7h-0.7zM19.1 7.7h0.8v0.8h-0.8zM46.4 23.2h0.5v0.5h-0.5zM37.3 55.3h1.0v1.0h-1.0zM5.6 33.9h0.5v0.5h-0.5zM41.1 35.2h1.1v1.1h-1.1zM30.8 32.0h1.0v1.0h-1.0zM17.5 39.5h0.7v0.7h-0.7zM45.9 21.8h0.8v0.8h-0.8zM54.5 46.1h0.6v0.6h-0.6zM48.6 1.7h0.8v0.8h-0.8zM33.5 18.7h0.8v0.8h-0.8zM23.4 54.3h1.1v1.1h-1.1zM20.8 6.6h0.9v0.9h-0.9zM38.3 55.9h0.6v0.6h-0.6zM47.4 56.7h1.0v1.0h-1.0zM25.6 10.0h1.0v1.0h-1.0zM9.8 50.4h0.5v0.5h-0.5zM9.0 41.3h1.0v1.0h-1.0zM41.6 51.3h0.6v0.6h-0.6zM48.0 26.6h0.6v0.6h-0.6zM42.3 0.7h0.8v0.8h-0.8zM56.9 9.9h1.1v1.1h-1.1zM7.3 44.9h0.7v0.7h-0.7zM39.2 25.7h0.9v0.9h-0.9zM29.1 49.3h0.9v0.9h-0.9zM38.2 44.7h1.0v1.0h-1.0zM7.9 31.0h0.6v0.6h-0.6z" fill="#e05a12"/><path d="M41.6 28.4h1.1v1.1h-1.1zM13.7 25.4h0.5v0.5h-0.5zM3.7 39.5h0.6v0.6h-0.6zM11.9 30.4h0.8v0.8h-0.8zM2.2 38.5h1.1v1.1h-1.1zM21.0 11.6h0.5v0.5h-0.5zM48.1 20.7h1.0v1.0h-1.0zM56.4 29.6h1.0v1.0h-1.0zM51.1 11.7h1.0v1.0h-1.0zM18.6 51.3h0.8v0.8h-0.8zM22.8 54.8h0.5v0.5h-0.5zM44.8 33.6h1.0v1.0h-1.0zM46.4 28.4h1.0v1.0h-1.0zM45.1 13.1h0.9v0.9h-0.9zM51.2 54.6h0.8v0.8h-0.8zM47.7 54.9h0.6v0.6h-0.6zM0.8 27.4h0.8v0.8h-0.8zM43.8 37.2h0.9v0.9h-0.9zM47.6 0.9h1.1v1.1h-1.1zM39.8 15.0h1.0v1.0h-1.0zM7.5 23.3h1.1v1.1h-1.1zM5.4 49.9h0.7v0.7h-0.7zM23.1 9.0h0.8v0.8h-0.8zM17.7 34.5h1.2v1.2h-1.2zM49.2 2.9h0.7v0.7h-0.7zM33.5 48.7h0.5v0.5h-0.5zM24.0 12.7h0.9v0.9h-0.9zM4.0 50.8h0.7v0.7h-0.7zM44.9 14.8h1.1v1.1h-1.1zM19.8 41.0h0.6v0.6h-0.6zM31.2 53.3h0.9v0.9h-0.9zM35.5 21.6h0.7v0.7h-0.7zM6.9 3.6h0.9v0.9h-0.9zM37.3 0.9h0.6v0.6h-0.6zM28.9 1.1h1.2v1.2h-1.2zM32.5 39.0h1.1v1.1h-1.1zM46.0 48.0h1.2v1.2h-1.2zM7.5 14.4h0.7v0.7h-0.7zM17.0 23.4h0.7v0.7h-0.7zM17.6 4.9h0.8v0.8h-0.8zM15.0 28.5h0.8v0.8h-0.8zM49.5 9.8h1.2v1.2h-1.2zM25.7 30.5h0.7v0.7h-0.7zM15.8 23.1h1.0v1.0h-1.0zM7.6 36.7h0.9v0.9h-0.9zM6.9 52.1h0.9v0.9h-0.9zM24.8 29.5h0.9v0.9h-0.9zM20.8 29.2h0.7v0.7h-0.7zM42.0 1.5h0.7v0.7h-0.7zM27.8 3.3h1.0v1.0h-1.0zM48.3 37.9h0.8v0.8h-0.8zM24.5 46.3h0.6v0.6h-0.6zM12.4 34.8h1.1v1.1h-1.1zM5.7 9.0h1.0v1.0h-1.0zM20.7 50.5h1.1v1.1h-1.1zM34.7 30.4h0.8v0.8h-0.8zM43.9 7.2h0.9v0.9h-0.9zM30.5 10.3h1.1v1.1h-1.1zM2.4 50.6h1.0v1.0h-1.0zM10.5 12.1h0.6v0.6h-0.6zM38.8 56.1h0.9v0.9h-0.9zM54.8 43.3h0.7v0.7h-0.7zM37.2 19.6h0.5v0.5h-0.5zM1.1 1.3h0.8v0.8h-0.8zM31.2 17.8h0.6v0.6h-0.6zM34.6 40.0h0.5v0.5h-0.5zM51.2 28.8h1.0v1.0h-1.0zM38.7 34.8h0.9v0.9h-0.9zM10.8 42.5h0.9v0.9h-0.9zM44.2 44.1h0.7v0.7h-0.7zM9.7 50.7h0.8v0.8h-0.8zM29.1 49.8h1.0v1.0h-1.0zM0.4 51.5h0.6v0.6h-0.6zM53.6 2.8h0.9v0.9h-0.9zM33.5 40.3h0.5v0.5h-0.5zM20.2 51.4h1.0v1.0h-1.0zM57.0 17.3h1.0v1.0h-1.0zM35.6 42.2h1.0v1.0h-1.0zM56.3 56.9h1.1v1.1h-1.1zM33.1 2.9h0.8v0.8h-0.8zM31.6 5.5h0.9v0.9h-0.9zM38.5 32.7h0.8v0.8h-0.8zM52.1 16.0h0.7v0.7h-0.7zM14.9 31.7h1.1v1.1h-1.1zM7.6 3.0h0.5v0.5h-0.5zM41.9 22.0h1.2v1.2h-1.2zM24.6 38.1h1.1v1.1h-1.1zM38.3 12.8h0.8v0.8h-0.8zM22.3 21.8h0.8v0.8h-0.8zM50.4 0.6h0.9v0.9h-0.9zM9.4 27.6h0.6v0.6h-0.6zM52.1 11.1h0.9v0.9h-0.9zM27.9 35.9h1.0v1.0h-1.0zM0.8 51.4h0.5v0.5h-0.5zM47.3 41.2h0.6v0.6h-0.6zM45.6 51.1h0.6v0.6h-0.6zM12.5 42.6h0.8v0.8h-0.8zM15.2 32.4h1.0v1.0h-1.0zM4.3 45.9h1.1v1.1h-1.1zM24.0 33.2h0.6v0.6h-0.6z" fill="#9a2200"/><path d="M20.4 37.9h0.9v0.9h-0.9zM14.1 0.1h1.0v1.0h-1.0zM28.8 10.9h0.9v0.9h-0.9zM14.5 18.8h0.8v0.8h-0.8zM42.2 11.0h0.6v0.6h-0.6zM30.1 21.2h0.7v0.7h-0.7zM38.3 37.4h0.9v0.9h-0.9zM38.2 4.7h1.2v1.2h-1.2zM42.2 19.1h1.1v1.1h-1.1zM10.6 19.5h1.0v1.0h-1.0zM41.5 10.4h0.8v0.8h-0.8zM8.0 49.8h0.8v0.8h-0.8zM33.6 10.6h1.2v1.2h-1.2zM1.0 17.0h0.8v0.8h-0.8zM35.6 33.5h1.1v1.1h-1.1zM46.7 12.6h1.1v1.1h-1.1zM20.3 4.3h0.6v0.6h-0.6zM38.0 2.3h1.1v1.1h-1.1zM52.8 22.9h0.7v0.7h-0.7zM33.0 47.9h0.7v0.7h-0.7zM20.5 9.5h0.5v0.5h-0.5zM37.9 37.5h1.0v1.0h-1.0zM42.7 0.9h0.8v0.8h-0.8zM40.2 17.5h0.5v0.5h-0.5zM19.1 39.8h0.6v0.6h-0.6zM41.4 20.7h1.2v1.2h-1.2zM14.1 2.7h1.1v1.1h-1.1zM18.6 34.8h1.1v1.1h-1.1zM47.0 24.5h0.8v0.8h-0.8zM20.1 43.7h1.1v1.1h-1.1zM13.9 19.5h0.8v0.8h-0.8zM28.0 54.7h0.9v0.9h-0.9zM45.6 14.2h0.8v0.8h-0.8zM56.8 28.1h1.0v1.0h-1.0zM32.2 45.6h1.1v1.1h-1.1zM11.2 11.5h1.0v1.0h-1.0zM30.5 31.5h0.5v0.5h-0.5zM32.1 29.5h1.0v1.0h-1.0zM9.2 14.9h1.0v1.0h-1.0zM23.1 1.2h0.6v0.6h-0.6zM17.0 28.7h0.9v0.9h-0.9zM17.9 50.8h0.9v0.9h-0.9zM35.6 11.3h1.0v1.0h-1.0zM34.3 13.1h1.0v1.0h-1.0zM12.3 13.8h1.0v1.0h-1.0zM42.0 4.7h0.9v0.9h-0.9zM38.0 31.4h0.6v0.6h-0.6zM34.9 16.5h0.8v0.8h-0.8zM31.4 26.6h0.7v0.7h-0.7zM32.9 14.7h1.1v1.1h-1.1zM19.8 56.2h0.7v0.7h-0.7zM55.8 55.4h0.6v0.6h-0.6zM37.6 20.7h0.6v0.6h-0.6zM5.2 3.4h0.7v0.7h-0.7zM22.4 19.4h0.6v0.6h-0.6zM25.3 23.2h1.1v1.1h-1.1zM1.3 7.8h1.1v1.1h-1.1zM22.3 41.6h0.7v0.7h-0.7zM48.8 38.2h0.7v0.7h-0.7zM32.3 35.4h0.7v0.7h-0.7zM33.9 39.3h0.9v0.9h-0.9zM48.2 30.0h0.6v0.6h-0.6zM29.7 12.9h0.9v0.9h-0.9zM32.4 47.7h0.9v0.9h-0.9zM11.7 6.4h0.9v0.9h-0.9zM11.9 19.6h0.5v0.5h-0.5zM18.4 33.0h1.0v1.0h-1.0zM34.6 18.0h1.1v1.1h-1.1zM21.1 8.9h0.5v0.5h-0.5zM47.0 22.2h0.8v0.8h-0.8zM35.7 48.9h0.9v0.9h-0.9zM16.2 51.3h1.0v1.0h-1.0zM0.2 55.4h0.5v0.5h-0.5zM49.4 5.9h0.9v0.9h-0.9zM40.9 6.1h0.9v0.9h-0.9zM6.0 53.3h0.6v0.6h-0.6zM15.1 31.5h0.5v0.5h-0.5zM8.8 47.3h1.2v1.2h-1.2zM46.3 10.7h0.8v0.8h-0.8zM37.9 16.4h1.0v1.0h-1.0zM36.7 20.1h1.0v1.0h-1.0zM27.0 0.7h0.8v0.8h-0.8zM46.5 10.1h1.2v1.2h-1.2zM28.2 45.9h0.5v0.5h-0.5zM26.7 52.7h0.6v0.6h-0.6zM22.3 54.4h1.0v1.0h-1.0zM49.4 5.5h0.6v0.6h-0.6zM23.5 3.8h0.7v0.7h-0.7zM35.6 44.8h0.8v0.8h-0.8zM41.2 36.3h1.1v1.1h-1.1z" fill="#f07a20"/><path d="M34.7 25.6h0.7v0.7h-0.7zM39.1 15.7h1.2v1.2h-1.2zM39.8 23.8h1.0v1.0h-1.0zM24.8 34.3h0.9v0.9h-0.9zM47.3 52.4h1.2v1.2h-1.2zM29.0 56.5h0.6v0.6h-0.6zM35.2 46.1h0.7v0.7h-0.7zM14.8 27.9h1.1v1.1h-1.1zM23.0 55.9h0.6v0.6h-0.6zM8.0 46.3h0.8v0.8h-0.8zM30.7 42.4h0.9v0.9h-0.9zM22.9 26.3h0.6v0.6h-0.6zM8.0 55.5h1.2v1.2h-1.2zM43.4 52.4h1.1v1.1h-1.1zM21.8 9.4h0.6v0.6h-0.6zM9.2 19.9h0.9v0.9h-0.9zM2.3 14.2h0.6v0.6h-0.6zM20.7 10.2h1.0v1.0h-1.0zM29.0 6.9h0.6v0.6h-0.6zM27.8 49.7h1.0v1.0h-1.0zM17.6 24.5h0.6v0.6h-0.6zM16.0 43.0h1.0v1.0h-1.0zM31.0 31.4h0.9v0.9h-0.9zM42.7 0.0h0.6v0.6h-0.6zM31.2 15.5h1.1v1.1h-1.1zM31.5 13.6h0.9v0.9h-0.9zM8.5 27.1h0.5v0.5h-0.5zM38.6 25.8h1.1v1.1h-1.1zM6.2 54.0h0.8v0.8h-0.8zM10.3 38.9h0.6v0.6h-0.6zM18.8 14.7h1.2v1.2h-1.2zM17.8 50.1h0.9v0.9h-0.9zM3.5 37.1h1.1v1.1h-1.1zM22.6 25.5h0.6v0.6h-0.6zM22.6 44.3h1.1v1.1h-1.1zM4.9 19.1h1.1v1.1h-1.1zM12.8 16.7h1.0v1.0h-1.0zM33.7 50.1h0.6v0.6h-0.6zM7.3 17.1h1.0v1.0h-1.0zM6.4 27.6h0.6v0.6h-0.6zM7.8 6.6h1.2v1.2h-1.2zM18.5 47.9h0.6v0.6h-0.6zM7.6 56.4h0.7v0.7h-0.7zM19.7 25.5h0.9v0.9h-0.9zM31.0 30.2h0.5v0.5h-0.5zM9.0 13.1h0.8v0.8h-0.8zM42.8 4.5h1.1v1.1h-1.1zM33.6 51.2h0.9v0.9h-0.9zM2.0 11.6h0.7v0.7h-0.7zM10.9 37.8h0.6v0.6h-0.6z" fill="#6a0c00"/><path d="M11.5 16.9h1.0v1.0h-1.0zM29.9 49.8h1.0v1.0h-1.0zM20.7 49.3h1.0v1.0h-1.0zM37.5 24.9h0.8v0.8h-0.8zM53.0 8.7h0.9v0.9h-0.9zM33.0 32.8h1.0v1.0h-1.0zM21.5 39.2h1.0v1.0h-1.0zM4.9 43.1h0.5v0.5h-0.5zM13.3 34.4h0.5v0.5h-0.5zM34.1 8.1h0.5v0.5h-0.5zM19.7 19.0h1.1v1.1h-1.1zM21.2 51.9h1.0v1.0h-1.0zM22.5 1.1h1.2v1.2h-1.2zM15.5 27.2h0.8v0.8h-0.8zM36.6 53.0h1.2v1.2h-1.2zM33.1 44.5h0.9v0.9h-0.9zM21.9 47.9h1.0v1.0h-1.0zM49.4 32.4h1.1v1.1h-1.1zM14.8 25.6h0.6v0.6h-0.6zM2.4 20.0h0.5v0.5h-0.5zM16.4 31.2h0.5v0.5h-0.5zM53.9 37.2h0.9v0.9h-0.9zM41.5 18.9h0.7v0.7h-0.7zM32.4 24.5h0.7v0.7h-0.7zM16.0 14.2h0.7v0.7h-0.7zM38.4 16.7h0.7v0.7h-0.7zM16.4 2.7h1.1v1.1h-1.1zM45.5 14.2h0.7v0.7h-0.7zM34.8 2.3h1.0v1.0h-1.0zM32.2 47.9h0.9v0.9h-0.9zM43.9 39.8h1.1v1.1h-1.1zM55.1 48.1h1.2v1.2h-1.2zM56.3 28.2h0.9v0.9h-0.9zM56.1 27.8h1.0v1.0h-1.0zM41.9 54.5h0.9v0.9h-0.9z" fill="#ffb040"/></g><ellipse cx="40" cy="25" rx="3" ry="3" fill="#200000" filter="url(#b1)"/><path d="M50.5 -1.0 L47.0 6.0 L43.0 14.0 L38.0 25.0 L34.0 36.0 L31.0 45.0 L29.0 58.5 L58.5 58.5 L58.5 -1.0 Z" fill="#55ec00"/><path d="M50.5 -1.0 C49.9 0.2 48.2 3.5 47.0 6.0 C45.8 8.5 44.5 10.8 43.0 14.0 C41.5 17.2 39.5 21.3 38.0 25.0 C36.5 28.7 35.2 32.7 34.0 36.0 C32.8 39.3 31.8 41.2 31.0 45.0 C30.2 48.8 29.3 56.2 29.0 58.5" stroke="#000" stroke-width="1" fill="none"/></g>
<clipPath id="cp38"><rect x="0" y="0" width="56.2" height="57"/></clipPath><g transform="translate(205.1,680)" clip-path="url(#cp38)"><rect x="0" y="0" width="56.2" height="57" fill="#000"/><path d="M-1.0 12.0 L20.0 18.0 L40.0 30.0 L58.0 40.0 L58.0 52.0 L40.0 44.0 L20.0 32.0 L-1.0 25.0 Z" fill="rgb(22,22,22)" filter="url(#b2)"/><path d="M40.0 -1.0 L58.0 -1.0 L58.0 14.0 L48.0 6.0 Z" fill="rgb(25,25,25)" filter="url(#b2)"/><ellipse cx="26" cy="31" rx="12" ry="7" transform="rotate(25 26 31)" fill="rgb(58,58,58)" filter="url(#b1)"/><ellipse cx="27" cy="31" rx="6" ry="4.3" transform="rotate(25 27 31)" fill="rgb(22,22,22)" filter="url(#b1)"/><ellipse cx="19.5" cy="30.5" rx="1.2" ry="1.2" fill="rgb(180,180,180)" filter="url(#b05)"/><ellipse cx="34" cy="38" rx="2" ry="1.2" fill="rgb(200,200,200)" filter="url(#b05)"/><ellipse cx="37.5" cy="40" rx="1.2" ry="1" fill="rgb(170,170,170)" filter="url(#b05)"/><ellipse cx="49" cy="7.5" rx="1.3" ry="2" fill="rgb(170,170,170)" filter="url(#b05)"/></g>
<clipPath id="cp39"><rect x="0" y="0" width="56.2" height="57"/></clipPath><g transform="translate(205.1,739)" clip-path="url(#cp39)"><rect x="0" y="0" width="56.2" height="57" fill="#000"/><rect x="0" y="0" width="57" height="57" fill="#0a0000"/><path d="M-1.0 12.0 L20.0 18.0 L40.0 30.0 L58.0 40.0 L58.0 52.0 L40.0 44.0 L20.0 32.0 L-1.0 25.0 Z" fill="#300000" filter="url(#b2)"/><path d="M38.0 -1.0 L58.0 -1.0 L58.0 16.0 L46.0 6.0 Z" fill="#5a0a00" filter="url(#b1)"/><ellipse cx="26" cy="31" rx="12" ry="7" transform="rotate(25 26 31)" fill="#7a1800" filter="url(#b1)"/><ellipse cx="27" cy="31" rx="6" ry="4.3" transform="rotate(25 27 31)" fill="#3a0400" filter="url(#b1)"/><ellipse cx="19.5" cy="30.5" rx="1.2" ry="1.2" fill="#ffd060" filter="url(#b05)"/><ellipse cx="34" cy="38" rx="2" ry="1.2" fill="#ffe080" filter="url(#b05)"/><ellipse cx="49" cy="7.5" rx="1.5" ry="2" fill="#ffb030" filter="url(#b05)"/><path d="M3.0 1.0 L34.0 1.0 L45.0 8.0 L58.0 18.0 L58.0 36.0 L48.0 30.0 L35.0 22.0 L22.0 17.0 L10.0 12.0 L5.0 6.0 Z" fill="#55ec00"/><g filter="url(#b04)"><path d="M45.6 28.1h1.0v1.0h-1.0zM55.7 29.5h1.1v1.1h-1.1zM49.4 19.1h1.2v1.2h-1.2zM52.8 21.2h1.2v1.2h-1.2zM17.1 11.9h1.1v1.1h-1.1zM23.7 4.1h1.2v1.2h-1.2zM52.0 28.2h0.9v0.9h-0.9zM14.1 11.0h1.0v1.0h-1.0zM16.9 3.0h0.7v0.7h-0.7zM39.9 23.1h0.9v0.9h-0.9zM31.0 9.4h1.0v1.0h-1.0zM51.7 23.5h1.2v1.2h-1.2zM35.0 7.2h1.0v1.0h-1.0zM12.3 4.7h0.9v0.9h-0.9zM7.7 1.4h0.9v0.9h-0.9zM52.1 14.4h1.1v1.1h-1.1zM55.6 26.3h1.0v1.0h-1.0zM27.7 4.7h0.8v0.8h-0.8zM25.1 16.9h1.0v1.0h-1.0zM52.5 14.3h1.0v1.0h-1.0zM56.3 29.0h0.7v0.7h-0.7zM48.4 11.9h0.8v0.8h-0.8zM43.5 9.0h0.9v0.9h-0.9zM47.4 12.5h0.8v0.8h-0.8zM24.9 1.2h0.8v0.8h-0.8zM12.9 4.2h1.1v1.1h-1.1zM25.8 16.9h0.9v0.9h-0.9zM18.3 12.1h0.8v0.8h-0.8z" fill="#2a0000"/><path d="M31.8 20.3h0.9v0.9h-0.9zM48.3 29.6h1.1v1.1h-1.1zM28.9 16.0h1.2v1.2h-1.2zM31.3 2.5h1.2v1.2h-1.2zM46.0 26.3h0.9v0.9h-0.9zM33.3 3.6h1.0v1.0h-1.0zM18.4 11.2h1.0v1.0h-1.0zM42.8 10.7h0.8v0.8h-0.8zM44.5 15.2h0.9v0.9h-0.9zM7.9 9.3h1.2v1.2h-1.2zM37.2 22.2h1.1v1.1h-1.1zM53.2 24.8h1.2v1.2h-1.2zM12.8 8.7h1.1v1.1h-1.1zM22.7 13.2h0.9v0.9h-0.9zM54.1 17.0h0.7v0.7h-0.7zM9.4 3.7h1.3v1.3h-1.3zM13.8 4.6h1.3v1.3h-1.3zM49.1 22.0h1.2v1.2h-1.2zM35.8 18.1h0.9v0.9h-0.9zM55.6 18.5h0.9v0.9h-0.9zM29.5 16.3h1.2v1.2h-1.2zM31.2 16.2h1.1v1.1h-1.1zM42.0 6.7h0.8v0.8h-0.8zM51.9 26.3h1.0v1.0h-1.0zM35.9 7.9h0.7v0.7h-0.7zM36.6 22.8h0.7v0.7h-0.7zM43.6 23.9h0.7v0.7h-0.7zM8.3 7.4h0.9v0.9h-0.9zM47.8 20.8h1.2v1.2h-1.2zM45.5 27.2h1.1v1.1h-1.1zM27.5 2.6h0.8v0.8h-0.8zM43.1 19.0h0.7v0.7h-0.7zM45.3 14.1h0.9v0.9h-0.9zM34.6 19.6h0.9v0.9h-0.9zM42.0 14.4h0.7v0.7h-0.7zM32.1 6.3h0.9v0.9h-0.9zM44.6 18.1h0.9v0.9h-0.9zM38.5 15.3h1.0v1.0h-1.0zM17.9 13.5h1.3v1.3h-1.3zM13.5 7.9h0.7v0.7h-0.7zM32.2 12.2h0.8v0.8h-0.8zM17.3 13.3h1.0v1.0h-1.0z" fill="#0a0000"/></g><path d="M-1.0 27.0 L-1.0 58.5 L47.5 58.5 Z" fill="#55ec00"/><g filter="url(#b04)"><path d="M2.7 34.4h1.0v1.0h-1.0zM12.7 39.3h0.9v0.9h-0.9zM2.1 36.6h0.9v0.9h-0.9zM3.9 35.8h0.9v0.9h-0.9zM5.7 31.1h1.0v1.0h-1.0zM8.7 32.7h0.7v0.7h-0.7z" fill="#0a0000"/></g></g>
<clipPath id="cp40"><rect x="0" y="0" width="56.4" height="57"/></clipPath><g transform="translate(262.3,560)" clip-path="url(#cp40)"><rect x="0" y="0" width="56.4" height="57" fill="#000"/><path d="M-1.0 -1.0 L50.5 -1.0 L47.0 6.0 L43.0 14.0 L38.0 25.0 L34.0 36.0 L31.0 45.0 L29.0 58.5 L-1.0 58.5 Z" fill="rgb(12,12,12)"/><path d="M30.0 8.0 C31.3 5.8 37.7 4.0 40.0 5.0 C42.3 6.0 44.3 9.8 44.0 14.0 C43.7 18.2 39.8 24.8 38.0 30.0 C36.2 35.2 34.3 40.7 33.0 45.0 C31.7 49.3 32.2 54.2 30.0 56.0 C27.8 57.8 21.7 58.7 20.0 56.0 C18.3 53.3 19.0 44.7 20.0 40.0 C21.0 35.3 24.0 31.7 26.0 28.0 C28.0 24.3 31.3 21.3 32.0 18.0 C32.7 14.7 28.7 10.2 30.0 8.0 Z" fill="rgb(25,25,25)" filter="url(#b1)"/><path d="M-1.0 -1.0 C1.5 -7.8 11.8 -2.8 14.0 -1.0 C16.2 0.8 13.0 5.7 12.0 10.0 C11.0 14.3 9.3 20.8 8.0 25.0 C6.7 29.2 5.5 32.5 4.0 35.0 C2.5 37.5 -0.2 46.0 -1.0 40.0 C-1.8 34.0 -3.5 5.8 -1.0 -1.0 Z" fill="rgb(25,25,25)" filter="url(#b1)"/><path d="M16.0 19.0 C16.8 17.3 21.2 16.0 23.0 17.0 C24.8 18.0 26.7 22.7 27.0 25.0 C27.3 27.3 26.5 30.7 25.0 31.0 C23.5 31.3 19.5 29.0 18.0 27.0 C16.5 25.0 15.2 20.7 16.0 19.0 Z" fill="rgb(59,59,59)" filter="url(#b1)"/><g filter="url(#b04)"><path d="M28.8 9.6h0.7v0.7h-0.7zM34.1 41.9h0.9v0.9h-0.9zM23.4 15.9h0.6v0.6h-0.6zM27.1 26.6h0.9v0.9h-0.9zM37.9 22.3h0.9v0.9h-0.9zM27.4 52.3h0.8v0.8h-0.8zM23.7 9.7h0.8v0.8h-0.8zM20.9 24.6h0.9v0.9h-0.9zM29.8 49.0h0.8v0.8h-0.8zM35.0 13.9h0.7v0.7h-0.7zM32.0 43.8h0.7v0.7h-0.7zM41.5 5.9h1.0v1.0h-1.0zM33.3 44.2h0.7v0.7h-0.7zM33.1 11.3h0.8v0.8h-0.8zM32.5 45.0h0.8v0.8h-0.8zM34.7 27.9h0.7v0.7h-0.7zM29.5 28.8h0.7v0.7h-0.7zM19.3 31.4h0.7v0.7h-0.7zM30.7 53.4h0.6v0.6h-0.6zM25.0 46.2h0.8v0.8h-0.8zM31.0 55.5h0.8v0.8h-0.8zM27.1 44.7h1.0v1.0h-1.0zM28.6 55.2h0.5v0.5h-0.5zM24.6 12.7h0.9v0.9h-0.9zM19.5 52.7h0.5v0.5h-0.5zM27.9 15.8h0.7v0.7h-0.7zM27.9 47.0h0.5v0.5h-0.5zM34.3 8.7h0.7v0.7h-0.7zM29.1 37.8h0.8v0.8h-0.8zM39.0 24.3h0.6v0.6h-0.6zM28.5 54.2h0.7v0.7h-0.7zM21.8 16.5h0.6v0.6h-0.6zM37.8 24.9h0.9v0.9h-0.9zM33.5 26.1h0.7v0.7h-0.7zM27.6 47.9h1.0v1.0h-1.0zM30.8 33.7h0.7v0.7h-0.7zM35.5 25.7h1.0v1.0h-1.0zM22.5 28.5h0.8v0.8h-0.8zM31.7 45.8h0.7v0.7h-0.7zM38.8 24.2h0.9v0.9h-0.9z" fill="#909090"/><path d="M39.8 9.7h0.9v0.9h-0.9zM30.3 15.6h0.8v0.8h-0.8zM28.1 8.6h0.9v0.9h-0.9zM28.3 30.1h0.5v0.5h-0.5zM30.7 29.7h0.7v0.7h-0.7zM33.5 45.8h1.0v1.0h-1.0zM35.7 24.2h1.0v1.0h-1.0zM31.8 44.0h0.6v0.6h-0.6zM31.9 46.0h0.8v0.8h-0.8zM32.1 50.7h0.5v0.5h-0.5zM31.6 29.4h0.7v0.7h-0.7zM25.5 20.6h1.0v1.0h-1.0zM30.7 8.0h0.5v0.5h-0.5zM28.2 51.4h0.9v0.9h-0.9zM33.7 8.1h0.8v0.8h-0.8zM35.1 14.4h0.5v0.5h-0.5zM29.3 50.3h0.8v0.8h-0.8zM33.3 46.5h0.5v0.5h-0.5zM29.6 20.0h0.5v0.5h-0.5zM34.4 19.1h0.8v0.8h-0.8zM18.3 55.9h0.7v0.7h-0.7zM29.4 53.4h1.0v1.0h-1.0zM35.2 34.8h0.7v0.7h-0.7zM23.9 18.7h0.8v0.8h-0.8zM23.2 25.5h0.7v0.7h-0.7zM39.6 15.8h0.7v0.7h-0.7zM35.1 17.1h0.8v0.8h-0.8zM33.5 17.6h1.0v1.0h-1.0zM25.9 51.1h1.0v1.0h-1.0zM40.7 5.3h0.8v0.8h-0.8zM35.2 28.7h0.7v0.7h-0.7zM25.5 19.9h0.6v0.6h-0.6z" fill="#a8a8a8"/><path d="M39.2 13.3h0.9v0.9h-0.9zM32.8 13.8h0.8v0.8h-0.8zM28.4 28.4h0.7v0.7h-0.7zM30.2 44.3h0.6v0.6h-0.6zM26.7 50.2h0.6v0.6h-0.6zM21.0 34.5h0.5v0.5h-0.5zM34.5 21.2h0.9v0.9h-0.9zM33.3 7.2h0.7v0.7h-0.7zM38.9 13.6h0.8v0.8h-0.8zM25.5 15.1h0.5v0.5h-0.5zM27.5 44.9h0.8v0.8h-0.8zM23.4 43.4h0.9v0.9h-0.9zM42.8 11.1h0.8v0.8h-0.8zM21.0 30.3h0.8v0.8h-0.8zM31.4 10.2h1.0v1.0h-1.0zM30.8 37.9h0.6v0.6h-0.6zM17.6 54.6h0.6v0.6h-0.6zM33.6 10.5h1.0v1.0h-1.0zM19.9 55.5h0.8v0.8h-0.8zM23.5 50.2h0.9v0.9h-0.9zM41.6 4.5h0.9v0.9h-0.9zM33.4 13.1h0.7v0.7h-0.7zM37.1 9.1h0.6v0.6h-0.6zM38.5 12.7h0.7v0.7h-0.7zM34.3 31.5h0.9v0.9h-0.9zM25.8 27.2h0.7v0.7h-0.7zM27.9 31.2h0.8v0.8h-0.8zM41.0 16.9h0.5v0.5h-0.5zM20.1 29.3h1.0v1.0h-1.0zM21.4 27.7h0.9v0.9h-0.9zM35.3 6.3h0.9v0.9h-0.9z" fill="#787878"/><path d="M28.3 31.2h1.0v1.0h-1.0zM20.3 34.6h0.7v0.7h-0.7zM35.2 38.4h0.7v0.7h-0.7zM23.1 14.4h0.7v0.7h-0.7zM28.1 54.2h0.7v0.7h-0.7zM31.7 35.1h0.8v0.8h-0.8zM29.8 53.2h0.8v0.8h-0.8zM35.7 33.2h0.6v0.6h-0.6zM28.4 14.1h0.8v0.8h-0.8zM39.8 12.7h0.9v0.9h-0.9zM31.2 34.0h0.6v0.6h-0.6zM29.6 18.6h0.9v0.9h-0.9zM34.5 21.3h0.9v0.9h-0.9zM22.6 26.7h0.8v0.8h-0.8zM30.4 33.1h0.7v0.7h-0.7zM28.3 28.7h0.9v0.9h-0.9zM24.7 27.4h0.9v0.9h-0.9zM29.0 17.0h0.7v0.7h-0.7zM25.2 53.7h0.5v0.5h-0.5zM25.5 27.8h0.7v0.7h-0.7zM18.6 47.8h0.5v0.5h-0.5zM25.6 16.4h0.7v0.7h-0.7zM20.1 35.1h0.5v0.5h-0.5zM40.6 7.6h0.5v0.5h-0.5zM28.4 31.5h1.0v1.0h-1.0zM32.4 25.1h0.8v0.8h-0.8zM19.7 41.0h0.9v0.9h-0.9zM25.6 31.3h0.9v0.9h-0.9z" fill="#303030"/><path d="M27.4 47.1h0.6v0.6h-0.6zM23.4 45.0h0.8v0.8h-0.8zM27.7 42.8h0.5v0.5h-0.5zM28.9 27.1h0.7v0.7h-0.7zM23.3 23.4h0.6v0.6h-0.6zM27.9 54.1h0.6v0.6h-0.6zM32.1 46.9h0.6v0.6h-0.6zM35.9 6.4h1.0v1.0h-1.0zM22.5 19.5h0.5v0.5h-0.5zM24.9 29.7h0.7v0.7h-0.7zM42.2 11.5h0.6v0.6h-0.6zM34.5 39.5h0.7v0.7h-0.7zM29.5 24.0h1.0v1.0h-1.0zM22.9 48.0h0.7v0.7h-0.7zM30.0 9.3h0.6v0.6h-0.6zM29.5 54.2h0.6v0.6h-0.6zM28.8 48.7h0.8v0.8h-0.8zM19.7 56.8h0.7v0.7h-0.7zM32.7 24.4h0.7v0.7h-0.7zM22.7 30.6h0.8v0.8h-0.8zM19.4 53.2h0.9v0.9h-0.9zM34.5 34.7h0.9v0.9h-0.9zM19.2 37.9h0.8v0.8h-0.8zM30.6 56.3h0.6v0.6h-0.6zM33.7 37.4h0.6v0.6h-0.6zM22.5 55.3h0.8v0.8h-0.8zM23.5 22.4h0.6v0.6h-0.6zM21.3 18.1h0.6v0.6h-0.6zM23.3 22.4h0.8v0.8h-0.8zM22.9 31.8h0.6v0.6h-0.6zM18.9 35.6h0.6v0.6h-0.6zM39.3 12.2h1.0v1.0h-1.0zM32.2 12.2h0.6v0.6h-0.6zM33.3 44.9h0.7v0.7h-0.7zM22.4 48.4h0.7v0.7h-0.7zM35.6 19.3h0.8v0.8h-0.8zM32.7 29.4h0.7v0.7h-0.7zM37.5 21.1h0.6v0.6h-0.6zM23.4 47.5h0.9v0.9h-0.9zM17.1 53.4h0.9v0.9h-0.9zM27.9 18.2h0.6v0.6h-0.6zM24.4 16.5h0.8v0.8h-0.8zM38.2 11.1h0.5v0.5h-0.5z" fill="#606060"/><path d="M34.9 38.1h0.7v0.7h-0.7zM31.1 18.2h0.8v0.8h-0.8zM32.8 48.8h0.5v0.5h-0.5zM42.8 10.8h0.8v0.8h-0.8zM21.7 19.4h1.0v1.0h-1.0zM23.8 46.6h0.9v0.9h-0.9zM30.0 39.5h0.6v0.6h-0.6zM18.5 45.1h0.6v0.6h-0.6zM28.9 55.2h0.7v0.7h-0.7zM28.9 47.2h0.7v0.7h-0.7zM33.8 36.6h0.8v0.8h-0.8zM23.9 36.2h0.9v0.9h-0.9zM26.4 20.6h1.0v1.0h-1.0zM20.9 33.9h0.9v0.9h-0.9zM22.3 53.9h0.9v0.9h-0.9zM32.4 11.8h0.9v0.9h-0.9zM28.8 22.8h0.5v0.5h-0.5zM36.8 7.4h0.5v0.5h-0.5zM27.4 52.5h0.9v0.9h-0.9zM32.0 35.4h0.9v0.9h-0.9zM33.2 33.1h0.9v0.9h-0.9zM33.0 23.3h0.7v0.7h-0.7zM25.6 19.1h0.7v0.7h-0.7zM17.3 54.6h0.7v0.7h-0.7zM32.1 45.2h0.9v0.9h-0.9zM36.1 29.1h0.6v0.6h-0.6z" fill="#484848"/></g><g filter="url(#b04)"><path d="M11.4 12.8h0.6v0.6h-0.6zM4.6 17.5h0.8v0.8h-0.8zM5.6 22.9h0.9v0.9h-0.9zM2.8 41.2h1.0v1.0h-1.0zM2.0 0.4h0.9v0.9h-0.9zM4.9 36.9h0.6v0.6h-0.6zM11.4 13.2h1.0v1.0h-1.0zM6.1 6.7h0.7v0.7h-0.7zM6.8 18.8h0.6v0.6h-0.6zM14.3 2.0h0.9v0.9h-0.9zM5.7 25.9h0.9v0.9h-0.9zM9.5 18.2h0.8v0.8h-0.8zM10.2 15.7h0.6v0.6h-0.6zM9.9 6.8h0.6v0.6h-0.6zM12.3 19.1h0.6v0.6h-0.6zM7.0 30.8h0.8v0.8h-0.8zM3.2 13.9h0.9v0.9h-0.9z" fill="#303030"/><path d="M12.5 0.3h0.7v0.7h-0.7zM3.2 6.9h0.6v0.6h-0.6zM10.9 16.1h0.5v0.5h-0.5zM10.7 25.9h1.0v1.0h-1.0zM0.3 22.9h1.0v1.0h-1.0zM9.8 13.2h0.8v0.8h-0.8zM6.1 4.2h0.6v0.6h-0.6zM0.7 22.1h0.8v0.8h-0.8zM9.0 4.3h0.9v0.9h-0.9zM11.9 24.6h1.0v1.0h-1.0zM7.7 31.3h0.9v0.9h-0.9zM0.7 7.2h0.9v0.9h-0.9zM1.8 30.4h0.8v0.8h-0.8zM0.2 26.0h0.7v0.7h-0.7zM3.7 37.3h0.6v0.6h-0.6zM12.9 16.3h0.6v0.6h-0.6zM7.9 5.1h0.7v0.7h-0.7zM2.1 26.0h0.7v0.7h-0.7zM10.9 1.8h0.8v0.8h-0.8zM6.9 8.8h1.0v1.0h-1.0zM0.1 25.1h0.6v0.6h-0.6zM1.2 28.9h0.9v0.9h-0.9zM10.8 16.1h1.0v1.0h-1.0zM8.0 5.9h0.8v0.8h-0.8zM10.5 19.7h0.9v0.9h-0.9zM17.0 0.1h0.6v0.6h-0.6zM0.1 34.0h0.9v0.9h-0.9zM9.6 12.9h0.9v0.9h-0.9zM16.0 6.5h0.8v0.8h-0.8z" fill="#a8a8a8"/><path d="M5.9 27.8h1.0v1.0h-1.0zM5.8 31.2h0.8v0.8h-0.8zM9.8 7.2h1.0v1.0h-1.0zM11.9 4.9h1.0v1.0h-1.0zM9.0 10.5h0.5v0.5h-0.5zM10.0 26.9h1.0v1.0h-1.0zM5.2 5.4h1.0v1.0h-1.0zM12.2 9.9h0.7v0.7h-0.7zM13.7 4.6h0.9v0.9h-0.9zM9.0 23.1h0.6v0.6h-0.6zM13.2 11.1h0.6v0.6h-0.6zM9.7 15.9h0.6v0.6h-0.6zM6.7 26.0h0.6v0.6h-0.6zM7.8 4.0h0.8v0.8h-0.8zM1.2 14.8h0.7v0.7h-0.7zM3.6 9.4h1.0v1.0h-1.0zM13.8 2.5h0.6v0.6h-0.6zM4.6 20.3h0.8v0.8h-0.8zM15.7 7.2h0.9v0.9h-0.9zM5.2 8.0h0.6v0.6h-0.6zM5.0 10.0h1.0v1.0h-1.0zM14.6 7.4h0.6v0.6h-0.6zM6.5 34.6h0.6v0.6h-0.6zM5.7 8.9h0.8v0.8h-0.8zM10.7 26.6h0.7v0.7h-0.7zM6.7 1.9h1.0v1.0h-1.0zM1.2 19.7h0.6v0.6h-0.6zM7.1 5.5h0.5v0.5h-0.5zM1.9 29.7h0.6v0.6h-0.6zM4.0 17.6h0.7v0.7h-0.7zM5.2 36.0h0.9v0.9h-0.9zM7.3 23.3h1.0v1.0h-1.0zM1.3 24.0h0.6v0.6h-0.6zM5.8 20.5h0.6v0.6h-0.6z" fill="#484848"/><path d="M16.2 3.4h0.5v0.5h-0.5zM11.3 5.8h0.7v0.7h-0.7zM8.8 11.9h0.6v0.6h-0.6zM14.4 1.5h0.9v0.9h-0.9zM1.5 22.0h0.7v0.7h-0.7zM0.2 36.3h0.8v0.8h-0.8zM6.7 29.9h1.0v1.0h-1.0zM3.4 28.0h1.0v1.0h-1.0zM5.9 13.6h0.6v0.6h-0.6zM6.8 11.7h0.9v0.9h-0.9zM4.6 28.8h0.9v0.9h-0.9zM7.2 23.7h0.6v0.6h-0.6zM7.3 23.6h0.9v0.9h-0.9zM4.7 4.1h0.7v0.7h-0.7zM2.5 19.8h0.9v0.9h-0.9zM2.5 29.9h1.0v1.0h-1.0zM4.8 36.3h0.9v0.9h-0.9zM16.1 1.1h0.9v0.9h-0.9zM4.6 35.6h0.7v0.7h-0.7zM9.0 11.4h0.8v0.8h-0.8zM12.2 3.2h1.0v1.0h-1.0z" fill="#787878"/><path d="M3.4 28.3h0.5v0.5h-0.5zM12.1 6.1h0.8v0.8h-0.8zM4.4 23.5h1.0v1.0h-1.0zM7.1 27.7h0.8v0.8h-0.8zM3.7 0.4h0.7v0.7h-0.7zM5.1 16.1h0.8v0.8h-0.8zM8.1 29.1h0.7v0.7h-0.7zM4.5 4.5h0.7v0.7h-0.7zM0.2 33.0h0.6v0.6h-0.6zM9.9 3.0h0.8v0.8h-0.8zM0.2 4.1h0.8v0.8h-0.8zM14.6 12.7h0.7v0.7h-0.7zM5.9 33.9h0.9v0.9h-0.9zM6.2 22.5h0.6v0.6h-0.6zM7.7 27.5h0.5v0.5h-0.5zM0.9 7.7h0.9v0.9h-0.9zM6.1 0.5h0.5v0.5h-0.5zM3.9 19.6h0.8v0.8h-0.8zM0.1 30.2h0.9v0.9h-0.9zM8.3 5.5h0.6v0.6h-0.6z" fill="#606060"/><path d="M0.2 4.3h0.6v0.6h-0.6zM0.4 25.6h0.5v0.5h-0.5zM3.4 11.5h1.0v1.0h-1.0zM4.0 35.0h0.7v0.7h-0.7zM4.3 2.5h0.9v0.9h-0.9zM8.7 26.1h0.9v0.9h-0.9zM10.2 2.4h0.8v0.8h-0.8zM3.2 35.6h0.6v0.6h-0.6zM2.8 32.3h0.6v0.6h-0.6zM8.7 12.8h0.7v0.7h-0.7zM1.7 7.6h0.6v0.6h-0.6zM5.8 7.3h0.8v0.8h-0.8zM16.3 4.8h0.8v0.8h-0.8zM7.6 9.1h0.9v0.9h-0.9zM4.4 17.3h0.9v0.9h-0.9zM3.1 3.7h0.9v0.9h-0.9zM2.7 16.0h0.8v0.8h-0.8zM12.8 13.7h1.0v1.0h-1.0zM3.3 6.1h0.8v0.8h-0.8zM4.6 0.9h0.7v0.7h-0.7zM7.2 18.8h0.8v0.8h-0.8zM10.8 16.6h1.0v1.0h-1.0zM1.1 10.0h0.6v0.6h-0.6zM12.1 2.8h0.9v0.9h-0.9zM5.7 35.0h0.9v0.9h-0.9zM0.6 33.0h0.7v0.7h-0.7zM11.7 19.3h0.8v0.8h-0.8zM2.5 37.6h0.5v0.5h-0.5zM12.8 10.1h1.0v1.0h-1.0z" fill="#909090"/></g><g filter="url(#b04)"><path d="M26.7 22.3h0.7v0.7h-0.7zM25.7 23.2h0.8v0.8h-0.8zM27.3 17.8h0.9v0.9h-0.9zM23.9 27.4h0.6v0.6h-0.6zM26.3 31.8h0.8v0.8h-0.8zM15.6 17.6h1.0v1.0h-1.0zM22.9 24.9h0.8v0.8h-0.8zM18.0 19.8h0.8v0.8h-0.8zM19.5 18.6h0.9v0.9h-0.9zM25.6 26.6h0.5v0.5h-0.5zM25.6 29.1h0.9v0.9h-0.9zM21.5 17.2h0.6v0.6h-0.6zM21.7 31.0h1.0v1.0h-1.0z" fill="#909090"/><path d="M20.9 21.3h0.6v0.6h-0.6zM22.9 19.3h0.8v0.8h-0.8zM28.0 27.3h0.6v0.6h-0.6zM18.2 29.6h0.6v0.6h-0.6zM27.4 17.7h1.0v1.0h-1.0zM24.5 18.5h0.6v0.6h-0.6zM18.4 21.6h0.8v0.8h-0.8zM14.3 28.6h0.7v0.7h-0.7zM27.0 20.3h0.8v0.8h-0.8zM16.1 19.0h1.0v1.0h-1.0zM16.0 22.8h0.9v0.9h-0.9z" fill="#a8a8a8"/><path d="M25.3 17.6h0.9v0.9h-0.9zM26.1 19.8h1.0v1.0h-1.0zM21.1 18.7h0.5v0.5h-0.5zM16.2 26.7h0.5v0.5h-0.5zM19.0 21.2h0.8v0.8h-0.8zM26.7 26.8h1.0v1.0h-1.0zM21.8 18.7h0.9v0.9h-0.9zM21.2 21.6h0.6v0.6h-0.6zM25.8 18.4h0.6v0.6h-0.6zM20.3 29.7h0.6v0.6h-0.6zM27.1 17.1h0.5v0.5h-0.5z" fill="#606060"/><path d="M17.8 17.6h0.9v0.9h-0.9zM15.4 20.7h0.6v0.6h-0.6zM24.5 30.7h0.6v0.6h-0.6zM22.0 21.9h0.7v0.7h-0.7zM14.6 22.6h0.7v0.7h-0.7zM21.7 31.7h0.7v0.7h-0.7zM15.4 28.9h0.9v0.9h-0.9zM26.0 29.7h0.5v0.5h-0.5zM23.7 32.0h1.0v1.0h-1.0zM15.3 21.5h0.9v0.9h-0.9z" fill="#787878"/></g><path d="M50.5 -1.0 C49.9 0.2 48.2 3.5 47.0 6.0 C45.8 8.5 44.5 10.8 43.0 14.0 C41.5 17.2 39.5 21.3 38.0 25.0 C36.5 28.7 35.2 32.7 34.0 36.0 C32.8 39.3 31.8 41.2 31.0 45.0 C30.2 48.8 29.3 56.2 29.0 58.5" stroke="rgb(70,70,70)" stroke-width="0.8" fill="none" filter="url(#b05)"/></g>
<clipPath id="cp41"><rect x="0" y="0" width="56.4" height="57"/></clipPath><g transform="translate(262.3,620)" clip-path="url(#cp41)"><rect x="0" y="0" width="56.4" height="57" fill="#000"/><rect x="0" y="0" width="57" height="57" fill="#bc360a"/><path d="M12.0 4.0 C14.0 1.5 18.3 3.2 20.0 5.0 C21.7 6.8 22.3 11.7 22.0 15.0 C21.7 18.3 19.3 20.8 18.0 25.0 C16.7 29.2 15.0 35.0 14.0 40.0 C13.0 45.0 13.7 52.5 12.0 55.0 C10.3 57.5 5.0 58.3 4.0 55.0 C3.0 51.7 5.3 40.8 6.0 35.0 C6.7 29.2 7.0 25.2 8.0 20.0 C9.0 14.8 10.0 6.5 12.0 4.0 Z" fill="#5a0800" filter="url(#b2)"/><path d="M0.0 45.0 C1.3 42.7 6.3 41.8 8.0 44.0 C9.7 46.2 11.3 55.7 10.0 58.0 C8.7 60.3 1.7 60.2 0.0 58.0 C-1.7 55.8 -1.3 47.3 0.0 45.0 Z" fill="#6a1000" filter="url(#b2)"/><path d="M16.0 20.0 C16.3 17.7 21.7 16.3 24.0 18.0 C26.3 19.7 29.3 26.3 30.0 30.0 C30.7 33.7 29.3 39.7 28.0 40.0 C26.7 40.3 24.0 35.3 22.0 32.0 C20.0 28.7 15.7 22.3 16.0 20.0 Z" fill="#e07020" filter="url(#b2)"/><path d="M30.0 5.0 C31.3 1.7 38.0 3.3 40.0 5.0 C42.0 6.7 42.7 10.5 42.0 15.0 C41.3 19.5 37.7 30.3 36.0 32.0 C34.3 33.7 33.0 29.5 32.0 25.0 C31.0 20.5 28.7 8.3 30.0 5.0 Z" fill="#d05818" filter="url(#b2)"/><g filter="url(#b04)"><path d="M22.9 19.1h1.0v1.0h-1.0zM34.3 21.6h1.1v1.1h-1.1zM55.9 20.1h0.8v0.8h-0.8zM50.2 47.8h0.5v0.5h-0.5zM36.8 27.5h0.9v0.9h-0.9zM52.5 40.0h0.5v0.5h-0.5zM29.9 2.5h1.2v1.2h-1.2zM53.3 2.9h0.6v0.6h-0.6zM48.2 11.5h1.1v1.1h-1.1zM39.8 24.2h0.7v0.7h-0.7zM41.8 56.4h0.8v0.8h-0.8zM10.6 34.2h0.6v0.6h-0.6zM27.4 0.3h0.5v0.5h-0.5zM3.0 25.8h0.6v0.6h-0.6zM17.3 19.7h0.8v0.8h-0.8zM0.0 47.4h0.6v0.6h-0.6zM17.8 39.7h0.8v0.8h-0.8zM28.3 11.8h0.6v0.6h-0.6zM12.5 53.6h1.1v1.1h-1.1zM48.8 19.2h0.6v0.6h-0.6zM33.4 7.8h1.1v1.1h-1.1zM18.2 31.3h0.8v0.8h-0.8zM28.5 2.6h1.2v1.2h-1.2zM50.7 10.0h0.7v0.7h-0.7zM45.8 9.4h1.1v1.1h-1.1zM26.4 26.8h0.5v0.5h-0.5zM52.9 30.7h1.1v1.1h-1.1zM7.0 36.2h0.6v0.6h-0.6zM41.0 34.5h0.6v0.6h-0.6zM18.8 6.0h1.0v1.0h-1.0zM54.2 17.9h0.8v0.8h-0.8zM44.0 24.7h1.1v1.1h-1.1zM25.4 35.4h0.7v0.7h-0.7zM18.2 28.6h1.0v1.0h-1.0zM38.5 18.6h0.8v0.8h-0.8zM25.3 0.9h1.0v1.0h-1.0zM17.1 2.5h0.9v0.9h-0.9zM6.1 19.3h0.8v0.8h-0.8zM45.8 22.9h1.1v1.1h-1.1zM1.1 7.5h0.9v0.9h-0.9zM29.9 31.3h1.1v1.1h-1.1zM45.0 32.6h0.6v0.6h-0.6zM12.6 15.2h0.5v0.5h-0.5zM29.1 8.2h0.9v0.9h-0.9zM50.3 19.6h0.5v0.5h-0.5zM40.9 25.4h0.7v0.7h-0.7zM35.6 16.5h1.0v1.0h-1.0zM29.0 52.8h0.9v0.9h-0.9zM25.6 7.8h0.6v0.6h-0.6zM27.4 20.0h0.8v0.8h-0.8zM50.2 24.2h0.6v0.6h-0.6zM28.8 47.2h0.6v0.6h-0.6zM1.7 49.2h0.9v0.9h-0.9zM0.6 19.2h1.1v1.1h-1.1zM52.3 11.1h1.1v1.1h-1.1zM5.9 44.8h0.9v0.9h-0.9zM50.1 37.9h0.9v0.9h-0.9zM54.8 18.8h0.8v0.8h-0.8zM47.0 52.6h1.2v1.2h-1.2zM31.5 54.2h1.0v1.0h-1.0zM46.9 27.1h1.0v1.0h-1.0zM13.9 5.4h0.5v0.5h-0.5zM32.5 8.2h0.8v0.8h-0.8zM5.2 55.0h0.6v0.6h-0.6zM31.6 18.9h0.7v0.7h-0.7zM19.2 45.7h0.8v0.8h-0.8zM10.7 14.8h1.1v1.1h-1.1zM18.2 52.6h0.7v0.7h-0.7zM36.8 19.7h0.6v0.6h-0.6zM37.5 47.2h1.1v1.1h-1.1zM22.3 25.8h0.9v0.9h-0.9zM5.1 4.7h0.6v0.6h-0.6zM18.8 48.3h1.1v1.1h-1.1zM29.0 35.6h1.0v1.0h-1.0zM53.7 8.4h0.5v0.5h-0.5zM31.1 3.9h1.0v1.0h-1.0zM2.0 5.5h0.6v0.6h-0.6zM35.8 39.7h0.6v0.6h-0.6zM53.5 56.2h1.2v1.2h-1.2zM39.9 12.1h0.9v0.9h-0.9zM32.3 24.4h1.1v1.1h-1.1zM18.6 14.8h1.1v1.1h-1.1zM42.5 44.6h0.8v0.8h-0.8zM47.2 44.9h1.2v1.2h-1.2zM12.5 25.7h0.8v0.8h-0.8zM28.3 32.2h1.1v1.1h-1.1zM55.3 33.7h0.6v0.6h-0.6zM11.4 31.9h0.6v0.6h-0.6zM3.3 26.1h0.7v0.7h-0.7zM54.3 24.5h1.0v1.0h-1.0zM51.6 25.0h0.8v0.8h-0.8zM51.7 0.8h0.7v0.7h-0.7zM52.1 26.5h0.7v0.7h-0.7zM1.6 28.3h0.6v0.6h-0.6zM8.3 42.4h0.8v0.8h-0.8zM54.0 55.4h1.0v1.0h-1.0z" fill="#f07a20"/><path d="M42.2 18.0h0.7v0.7h-0.7zM7.6 3.5h0.7v0.7h-0.7zM40.3 4.9h1.0v1.0h-1.0zM20.4 5.4h1.1v1.1h-1.1zM40.2 37.0h0.5v0.5h-0.5zM28.2 53.7h1.0v1.0h-1.0zM47.6 38.5h0.7v0.7h-0.7zM35.6 44.3h0.9v0.9h-0.9zM21.1 19.5h0.8v0.8h-0.8zM18.7 17.1h0.9v0.9h-0.9zM20.8 17.0h0.8v0.8h-0.8zM3.5 47.7h0.6v0.6h-0.6zM11.9 49.7h1.0v1.0h-1.0zM30.5 50.5h0.8v0.8h-0.8zM31.3 42.6h0.7v0.7h-0.7zM7.4 25.1h0.6v0.6h-0.6zM20.5 33.6h0.6v0.6h-0.6zM43.5 1.2h0.9v0.9h-0.9zM17.9 47.9h1.2v1.2h-1.2zM7.9 22.6h1.0v1.0h-1.0zM46.0 55.6h0.9v0.9h-0.9zM35.7 21.7h1.1v1.1h-1.1zM49.6 52.9h0.7v0.7h-0.7zM23.4 53.8h0.8v0.8h-0.8zM14.7 56.1h0.8v0.8h-0.8zM7.2 20.4h0.5v0.5h-0.5zM17.1 11.4h0.9v0.9h-0.9zM54.9 50.0h0.7v0.7h-0.7zM34.4 6.2h1.0v1.0h-1.0zM13.9 5.1h0.8v0.8h-0.8zM44.1 11.3h0.8v0.8h-0.8zM9.3 30.4h1.1v1.1h-1.1zM16.1 55.7h0.7v0.7h-0.7zM20.6 23.5h0.6v0.6h-0.6zM52.0 20.6h0.6v0.6h-0.6zM5.9 43.0h0.7v0.7h-0.7zM2.9 23.9h1.2v1.2h-1.2zM33.9 46.6h1.1v1.1h-1.1zM18.5 22.3h0.5v0.5h-0.5zM49.4 27.8h0.8v0.8h-0.8zM36.7 0.7h1.0v1.0h-1.0zM0.7 19.3h0.6v0.6h-0.6zM25.5 52.1h0.7v0.7h-0.7zM7.7 54.5h1.1v1.1h-1.1zM29.4 23.9h1.1v1.1h-1.1zM13.5 18.2h1.1v1.1h-1.1zM29.2 26.0h0.5v0.5h-0.5zM20.5 37.9h1.1v1.1h-1.1zM14.4 29.9h0.8v0.8h-0.8zM4.4 7.4h0.5v0.5h-0.5zM54.4 5.8h1.0v1.0h-1.0zM3.2 42.5h1.1v1.1h-1.1zM19.4 26.2h0.6v0.6h-0.6zM8.2 29.1h1.1v1.1h-1.1zM54.7 2.8h0.5v0.5h-0.5zM39.3 11.8h0.6v0.6h-0.6zM6.7 38.8h1.2v1.2h-1.2zM5.1 42.5h0.7v0.7h-0.7zM49.4 13.8h0.9v0.9h-0.9zM40.7 15.4h0.6v0.6h-0.6zM3.6 1.3h0.9v0.9h-0.9zM43.9 34.2h0.7v0.7h-0.7zM39.1 26.2h1.1v1.1h-1.1zM3.0 18.6h0.6v0.6h-0.6zM16.3 49.1h0.9v0.9h-0.9zM51.4 9.6h0.9v0.9h-0.9zM26.4 56.7h0.6v0.6h-0.6zM6.7 54.6h0.5v0.5h-0.5zM22.3 45.8h1.1v1.1h-1.1zM1.2 13.9h1.2v1.2h-1.2zM11.5 43.8h0.7v0.7h-0.7zM37.9 32.7h0.7v0.7h-0.7zM38.6 39.8h1.1v1.1h-1.1zM42.0 51.0h0.8v0.8h-0.8zM6.4 6.7h1.0v1.0h-1.0zM28.6 27.4h0.9v0.9h-0.9zM30.0 41.8h0.7v0.7h-0.7zM53.5 23.2h0.6v0.6h-0.6zM35.1 6.6h0.5v0.5h-0.5zM8.5 15.0h0.9v0.9h-0.9zM7.6 2.8h0.9v0.9h-0.9zM23.4 16.0h0.5v0.5h-0.5zM3.4 51.8h0.7v0.7h-0.7zM27.7 27.5h1.1v1.1h-1.1zM42.0 50.5h1.1v1.1h-1.1zM43.1 48.3h0.8v0.8h-0.8zM13.8 5.2h0.7v0.7h-0.7zM52.0 53.8h1.1v1.1h-1.1zM55.9 38.0h0.7v0.7h-0.7zM4.2 27.5h0.6v0.6h-0.6zM5.5 51.0h1.1v1.1h-1.1zM36.9 41.4h1.0v1.0h-1.0zM49.4 53.7h1.2v1.2h-1.2zM12.2 40.6h1.2v1.2h-1.2zM36.3 56.1h0.6v0.6h-0.6zM17.7 21.1h0.8v0.8h-0.8zM51.8 34.3h1.2v1.2h-1.2zM23.0 17.7h1.1v1.1h-1.1zM4.6 54.6h0.6v0.6h-0.6zM12.3 13.8h1.0v1.0h-1.0zM11.7 43.9h0.8v0.8h-0.8zM0.2 28.7h0.5v0.5h-0.5zM39.2 41.8h0.7v0.7h-0.7zM55.4 11.9h1.1v1.1h-1.1zM9.3 41.5h0.9v0.9h-0.9zM5.1 33.2h1.0v1.0h-1.0zM32.7 5.5h0.9v0.9h-0.9zM23.0 51.9h0.8v0.8h-0.8zM5.1 56.4h0.6v0.6h-0.6zM34.8 25.8h0.6v0.6h-0.6zM2.6 10.8h0.7v0.7h-0.7zM43.0 43.6h0.7v0.7h-0.7zM4.1 7.5h1.1v1.1h-1.1zM11.5 21.4h1.0v1.0h-1.0zM16.0 10.8h0.7v0.7h-0.7zM20.7 50.8h0.9v0.9h-0.9zM47.9 52.2h1.1v1.1h-1.1zM37.8 2.4h0.6v0.6h-0.6zM2.2 48.5h1.0v1.0h-1.0zM51.7 40.8h1.1v1.1h-1.1zM22.9 37.1h1.0v1.0h-1.0zM54.6 20.6h1.0v1.0h-1.0zM27.2 0.3h0.9v0.9h-0.9zM2.0 6.0h0.7v0.7h-0.7zM11.0 5.9h0.8v0.8h-0.8zM13.2 33.2h1.0v1.0h-1.0zM9.2 38.3h0.6v0.6h-0.6zM47.7 2.5h1.1v1.1h-1.1zM21.6 39.3h0.9v0.9h-0.9zM49.9 6.3h1.0v1.0h-1.0zM6.2 1.1h1.0v1.0h-1.0zM24.8 16.8h0.8v0.8h-0.8zM1.0 37.5h0.8v0.8h-0.8zM16.5 20.2h1.1v1.1h-1.1zM12.6 12.0h1.1v1.1h-1.1zM53.6 44.0h0.5v0.5h-0.5zM33.5 56.4h0.9v0.9h-0.9zM10.8 6.9h0.6v0.6h-0.6zM12.5 53.0h0.7v0.7h-0.7zM29.1 28.9h0.6v0.6h-0.6zM52.6 14.4h0.6v0.6h-0.6zM5.7 31.2h0.7v0.7h-0.7zM54.1 46.0h0.9v0.9h-0.9zM52.3 6.3h1.0v1.0h-1.0zM5.9 19.3h1.0v1.0h-1.0zM32.2 14.8h0.6v0.6h-0.6zM10.4 10.0h1.1v1.1h-1.1zM29.1 45.5h1.2v1.2h-1.2zM34.6 0.5h1.0v1.0h-1.0zM54.7 23.5h0.9v0.9h-0.9zM24.7 34.6h0.8v0.8h-0.8z" fill="#e05a12"/><path d="M54.9 37.5h0.7v0.7h-0.7zM53.6 24.3h0.6v0.6h-0.6zM36.0 39.7h0.6v0.6h-0.6zM13.8 45.3h0.9v0.9h-0.9zM21.8 48.3h0.8v0.8h-0.8zM13.7 35.7h0.7v0.7h-0.7zM5.8 46.3h0.6v0.6h-0.6zM11.5 4.1h0.6v0.6h-0.6zM54.6 24.6h0.9v0.9h-0.9zM42.9 43.9h0.9v0.9h-0.9zM36.6 45.7h0.8v0.8h-0.8zM1.2 46.7h0.7v0.7h-0.7zM22.9 51.3h1.0v1.0h-1.0zM39.3 33.4h1.1v1.1h-1.1zM44.6 24.5h0.9v0.9h-0.9zM45.1 34.2h0.6v0.6h-0.6zM33.3 39.0h0.8v0.8h-0.8zM15.3 2.3h1.0v1.0h-1.0zM17.8 7.0h0.8v0.8h-0.8zM10.8 44.3h1.1v1.1h-1.1zM13.8 18.7h0.9v0.9h-0.9zM16.8 53.8h1.1v1.1h-1.1zM46.2 13.1h1.1v1.1h-1.1zM44.0 15.6h1.2v1.2h-1.2zM49.1 46.2h0.6v0.6h-0.6zM42.9 2.8h1.1v1.1h-1.1zM31.1 49.3h1.1v1.1h-1.1zM16.1 6.9h0.7v0.7h-0.7zM29.1 56.7h1.2v1.2h-1.2zM31.2 53.7h0.7v0.7h-0.7zM0.0 24.2h0.7v0.7h-0.7zM19.9 8.8h0.7v0.7h-0.7zM39.4 13.8h1.0v1.0h-1.0zM24.5 41.1h1.1v1.1h-1.1zM23.7 43.8h1.2v1.2h-1.2zM42.7 22.7h0.8v0.8h-0.8zM21.5 18.4h0.5v0.5h-0.5zM56.6 8.1h1.1v1.1h-1.1zM14.0 49.2h0.8v0.8h-0.8zM36.6 51.2h0.9v0.9h-0.9zM2.4 40.3h0.6v0.6h-0.6zM31.8 52.3h0.8v0.8h-0.8zM35.7 15.7h0.7v0.7h-0.7zM20.2 45.2h0.8v0.8h-0.8zM27.4 16.2h0.7v0.7h-0.7zM7.2 4.8h0.8v0.8h-0.8zM6.5 53.3h0.9v0.9h-0.9zM34.6 26.5h1.2v1.2h-1.2zM29.1 6.1h0.9v0.9h-0.9zM36.5 21.5h0.6v0.6h-0.6zM1.8 32.2h1.1v1.1h-1.1zM7.4 45.7h0.6v0.6h-0.6zM13.1 56.4h0.9v0.9h-0.9zM48.6 33.4h0.6v0.6h-0.6zM24.0 55.9h0.6v0.6h-0.6zM34.2 13.5h0.5v0.5h-0.5zM39.1 30.8h1.1v1.1h-1.1zM56.9 14.8h0.8v0.8h-0.8zM16.6 36.1h0.7v0.7h-0.7zM53.0 21.2h1.1v1.1h-1.1zM44.0 12.3h1.0v1.0h-1.0zM34.7 54.4h0.7v0.7h-0.7zM19.4 50.9h0.8v0.8h-0.8zM27.5 38.1h0.8v0.8h-0.8zM12.6 32.9h0.9v0.9h-0.9zM10.3 42.8h0.5v0.5h-0.5zM16.6 46.2h0.5v0.5h-0.5zM19.8 37.3h0.6v0.6h-0.6zM24.5 5.6h0.6v0.6h-0.6zM14.6 26.2h0.9v0.9h-0.9zM19.0 13.2h0.7v0.7h-0.7zM9.0 18.9h0.6v0.6h-0.6zM12.3 24.2h0.8v0.8h-0.8zM41.6 48.7h1.1v1.1h-1.1zM14.2 44.1h0.8v0.8h-0.8zM52.3 44.5h1.0v1.0h-1.0zM41.6 37.1h0.7v0.7h-0.7zM30.3 33.6h1.2v1.2h-1.2zM46.9 21.9h1.0v1.0h-1.0zM9.0 41.6h1.0v1.0h-1.0zM27.5 45.0h0.6v0.6h-0.6zM2.2 20.5h0.7v0.7h-0.7zM9.6 39.2h0.6v0.6h-0.6zM52.8 55.0h0.6v0.6h-0.6zM11.5 35.9h0.9v0.9h-0.9zM5.7 2.7h1.0v1.0h-1.0zM12.7 36.9h0.8v0.8h-0.8zM34.2 54.2h0.8v0.8h-0.8zM27.3 52.3h0.7v0.7h-0.7z" fill="#9a2200"/><path d="M24.8 53.6h0.9v0.9h-0.9zM33.4 7.3h0.6v0.6h-0.6zM18.8 2.4h1.0v1.0h-1.0zM45.0 20.7h0.9v0.9h-0.9zM49.7 33.2h1.1v1.1h-1.1zM40.6 27.3h0.9v0.9h-0.9zM45.2 45.6h0.5v0.5h-0.5zM33.4 32.1h1.1v1.1h-1.1zM6.6 14.3h1.0v1.0h-1.0zM16.6 5.6h0.6v0.6h-0.6zM2.9 27.5h0.6v0.6h-0.6zM4.6 8.7h0.6v0.6h-0.6zM55.4 11.5h1.0v1.0h-1.0zM15.4 39.6h1.2v1.2h-1.2zM0.3 39.0h0.8v0.8h-0.8zM54.4 1.4h0.9v0.9h-0.9zM39.8 43.6h0.9v0.9h-0.9zM23.5 21.0h1.1v1.1h-1.1zM54.3 41.5h1.2v1.2h-1.2zM24.5 48.9h1.0v1.0h-1.0zM54.8 14.0h0.8v0.8h-0.8zM16.9 52.4h0.9v0.9h-0.9zM47.2 52.8h1.0v1.0h-1.0zM39.7 36.2h0.5v0.5h-0.5zM17.9 23.5h0.9v0.9h-0.9zM13.5 14.5h0.8v0.8h-0.8zM25.8 0.6h0.8v0.8h-0.8zM50.3 2.8h0.6v0.6h-0.6zM10.8 17.6h1.0v1.0h-1.0zM34.1 55.0h1.1v1.1h-1.1zM38.0 13.8h1.1v1.1h-1.1zM9.8 17.0h1.0v1.0h-1.0zM51.6 29.2h1.2v1.2h-1.2z" fill="#ffb040"/><path d="M20.6 2.3h1.0v1.0h-1.0zM53.6 42.2h0.7v0.7h-0.7zM50.4 16.1h1.1v1.1h-1.1zM44.4 28.7h0.6v0.6h-0.6zM15.9 12.0h0.8v0.8h-0.8zM29.6 16.7h0.9v0.9h-0.9zM8.2 9.2h0.9v0.9h-0.9zM43.2 35.9h0.8v0.8h-0.8zM54.1 27.3h0.7v0.7h-0.7zM41.8 29.9h0.7v0.7h-0.7zM47.3 21.3h1.1v1.1h-1.1zM55.2 40.2h0.9v0.9h-0.9zM19.6 52.5h0.9v0.9h-0.9zM40.5 48.9h0.6v0.6h-0.6zM19.1 44.4h0.9v0.9h-0.9zM11.9 37.7h0.5v0.5h-0.5zM44.4 34.9h0.5v0.5h-0.5zM50.6 36.6h0.5v0.5h-0.5zM29.9 54.3h0.9v0.9h-0.9zM31.9 14.1h0.9v0.9h-0.9zM35.7 22.3h1.0v1.0h-1.0zM48.1 29.5h1.2v1.2h-1.2zM37.9 39.9h0.5v0.5h-0.5zM30.8 4.7h1.0v1.0h-1.0zM7.5 11.4h0.9v0.9h-0.9zM54.8 14.3h0.7v0.7h-0.7zM14.7 35.3h1.1v1.1h-1.1zM51.5 48.6h1.1v1.1h-1.1zM26.6 10.4h0.8v0.8h-0.8zM51.5 36.9h0.7v0.7h-0.7zM0.8 35.1h1.1v1.1h-1.1zM5.1 8.5h0.9v0.9h-0.9zM22.5 54.4h0.7v0.7h-0.7zM17.9 21.6h0.5v0.5h-0.5zM34.2 10.9h1.1v1.1h-1.1zM21.9 5.6h0.9v0.9h-0.9zM15.9 44.8h1.1v1.1h-1.1zM15.9 36.6h0.8v0.8h-0.8zM18.5 26.0h1.0v1.0h-1.0zM1.7 11.1h0.9v0.9h-0.9zM52.6 29.0h0.9v0.9h-0.9zM38.2 48.3h0.6v0.6h-0.6zM10.5 40.8h0.7v0.7h-0.7zM21.7 34.2h1.1v1.1h-1.1zM44.0 55.2h0.6v0.6h-0.6zM22.3 13.9h1.0v1.0h-1.0zM23.5 36.3h1.0v1.0h-1.0zM7.0 11.7h1.1v1.1h-1.1zM34.6 39.7h1.0v1.0h-1.0zM50.2 42.0h0.8v0.8h-0.8zM7.4 25.9h0.6v0.6h-0.6z" fill="#6a0c00"/></g><path d="M50.5 -1.0 L47.0 6.0 L43.0 14.0 L38.0 25.0 L34.0 36.0 L31.0 45.0 L29.0 58.5 L58.5 58.5 L58.5 -1.0 Z" fill="#55ec00"/><path d="M50.5 -1.0 C49.9 0.2 48.2 3.5 47.0 6.0 C45.8 8.5 44.5 10.8 43.0 14.0 C41.5 17.2 39.5 21.3 38.0 25.0 C36.5 28.7 35.2 32.7 34.0 36.0 C32.8 39.3 31.8 41.2 31.0 45.0 C30.2 48.8 29.3 56.2 29.0 58.5" stroke="#000" stroke-width="1" fill="none"/></g>
<clipPath id="cp42"><rect x="0" y="0" width="56.4" height="57"/></clipPath><g transform="translate(262.3,680)" clip-path="url(#cp42)"><rect x="0" y="0" width="56.4" height="57" fill="#000"/><path d="M-1.0 12.0 L20.0 18.0 L40.0 30.0 L58.0 40.0 L58.0 52.0 L40.0 44.0 L20.0 32.0 L-1.0 25.0 Z" fill="rgb(22,22,22)" filter="url(#b2)"/><path d="M40.0 -1.0 L58.0 -1.0 L58.0 14.0 L48.0 6.0 Z" fill="rgb(25,25,25)" filter="url(#b2)"/><ellipse cx="26" cy="31" rx="12" ry="7" transform="rotate(25 26 31)" fill="rgb(58,58,58)" filter="url(#b1)"/><ellipse cx="27" cy="31" rx="6" ry="4.3" transform="rotate(25 27 31)" fill="rgb(22,22,22)" filter="url(#b1)"/><ellipse cx="19.5" cy="30.5" rx="1.2" ry="1.2" fill="rgb(180,180,180)" filter="url(#b05)"/><ellipse cx="34" cy="38" rx="2" ry="1.2" fill="rgb(200,200,200)" filter="url(#b05)"/><ellipse cx="37.5" cy="40" rx="1.2" ry="1" fill="rgb(170,170,170)" filter="url(#b05)"/><ellipse cx="49" cy="7.5" rx="1.3" ry="2" fill="rgb(170,170,170)" filter="url(#b05)"/></g>
<clipPath id="cp43"><rect x="0" y="0" width="56.4" height="57"/></clipPath><g transform="translate(262.3,739)" clip-path="url(#cp43)"><rect x="0" y="0" width="56.4" height="57" fill="#000"/><rect x="0" y="0" width="57" height="57" fill="#0a0000"/><path d="M-1.0 12.0 L20.0 18.0 L40.0 30.0 L58.0 40.0 L58.0 52.0 L40.0 44.0 L20.0 32.0 L-1.0 25.0 Z" fill="#300000" filter="url(#b2)"/><path d="M38.0 -1.0 L58.0 -1.0 L58.0 16.0 L46.0 6.0 Z" fill="#5a0a00" filter="url(#b1)"/><ellipse cx="26" cy="31" rx="12" ry="7" transform="rotate(25 26 31)" fill="#7a1800" filter="url(#b1)"/><ellipse cx="27" cy="31" rx="6" ry="4.3" transform="rotate(25 27 31)" fill="#3a0400" filter="url(#b1)"/><ellipse cx="19.5" cy="30.5" rx="1.2" ry="1.2" fill="#ffd060" filter="url(#b05)"/><ellipse cx="34" cy="38" rx="2" ry="1.2" fill="#ffe080" filter="url(#b05)"/><ellipse cx="49" cy="7.5" rx="1.5" ry="2" fill="#ffb030" filter="url(#b05)"/><path d="M3.0 1.0 L34.0 1.0 L45.0 8.0 L58.0 18.0 L58.0 36.0 L48.0 30.0 L35.0 22.0 L22.0 17.0 L10.0 12.0 L5.0 6.0 Z" fill="#55ec00"/><g filter="url(#b04)"><path d="M53.5 27.0h1.2v1.2h-1.2zM56.3 31.0h0.8v0.8h-0.8zM51.5 27.2h1.2v1.2h-1.2zM23.2 5.2h0.8v0.8h-0.8zM40.7 14.0h1.1v1.1h-1.1zM15.4 8.4h1.1v1.1h-1.1zM53.2 21.5h0.7v0.7h-0.7zM49.5 22.3h1.1v1.1h-1.1zM26.8 5.4h0.8v0.8h-0.8zM26.5 16.3h1.2v1.2h-1.2zM22.9 1.7h0.9v0.9h-0.9zM55.1 17.7h1.1v1.1h-1.1zM50.6 14.8h1.1v1.1h-1.1zM49.7 19.0h1.1v1.1h-1.1zM20.0 9.3h0.7v0.7h-0.7zM17.6 13.1h0.9v0.9h-0.9zM20.5 4.7h1.1v1.1h-1.1zM45.9 12.4h0.8v0.8h-0.8zM53.9 21.5h0.8v0.8h-0.8zM29.0 6.5h1.2v1.2h-1.2zM29.2 18.9h0.8v0.8h-0.8zM52.8 16.9h0.8v0.8h-0.8zM49.1 18.3h1.1v1.1h-1.1zM38.0 4.3h0.9v0.9h-0.9zM18.9 12.2h0.7v0.7h-0.7zM13.8 2.0h0.7v0.7h-0.7zM54.8 31.1h1.2v1.2h-1.2zM54.9 28.7h1.0v1.0h-1.0zM56.1 21.9h0.9v0.9h-0.9zM29.1 18.5h1.1v1.1h-1.1zM26.0 15.9h1.2v1.2h-1.2zM45.8 15.1h1.2v1.2h-1.2zM38.0 19.7h1.2v1.2h-1.2zM11.0 2.4h0.8v0.8h-0.8zM18.4 7.2h0.8v0.8h-0.8zM32.7 3.6h0.8v0.8h-0.8zM53.4 14.8h1.3v1.3h-1.3zM6.1 3.2h1.3v1.3h-1.3zM13.4 12.0h1.2v1.2h-1.2zM40.9 7.4h1.0v1.0h-1.0zM42.1 13.5h1.2v1.2h-1.2zM14.0 6.4h0.7v0.7h-0.7zM44.9 10.4h1.0v1.0h-1.0zM43.1 21.6h1.3v1.3h-1.3zM33.9 16.9h1.2v1.2h-1.2zM39.6 6.7h1.1v1.1h-1.1zM51.8 22.9h1.3v1.3h-1.3zM28.0 2.6h1.2v1.2h-1.2zM7.3 4.8h1.1v1.1h-1.1zM34.1 1.3h0.9v0.9h-0.9zM40.1 17.1h0.9v0.9h-0.9zM49.3 22.0h1.1v1.1h-1.1z" fill="#0a0000"/><path d="M14.2 2.3h1.1v1.1h-1.1zM44.2 8.2h0.8v0.8h-0.8zM45.0 23.4h0.9v0.9h-0.9zM21.7 7.2h1.1v1.1h-1.1zM30.1 13.4h1.1v1.1h-1.1zM40.7 16.3h1.2v1.2h-1.2zM55.4 31.2h0.9v0.9h-0.9zM26.5 2.5h0.8v0.8h-0.8zM37.5 7.6h1.0v1.0h-1.0zM10.7 4.2h0.7v0.7h-0.7zM30.6 6.4h0.9v0.9h-0.9zM32.5 13.7h0.8v0.8h-0.8zM19.2 1.2h0.9v0.9h-0.9zM41.4 23.3h1.2v1.2h-1.2zM34.3 4.8h1.1v1.1h-1.1zM22.7 4.7h0.9v0.9h-0.9zM46.6 27.6h1.0v1.0h-1.0zM37.1 13.7h0.9v0.9h-0.9z" fill="#2a0000"/></g><path d="M-1.0 27.0 L-1.0 58.5 L47.5 58.5 Z" fill="#55ec00"/><g filter="url(#b04)"><path d="M11.3 37.7h0.9v0.9h-0.9zM10.7 38.3h0.8v0.8h-0.8zM7.7 34.4h1.0v1.0h-1.0zM0.5 34.8h1.0v1.0h-1.0zM7.0 36.9h0.8v0.8h-0.8zM8.2 33.9h1.1v1.1h-1.1z" fill="#0a0000"/></g></g>
<clipPath id="cp44"><rect x="0" y="0" width="56.6" height="57"/></clipPath><g transform="translate(319.7,560)" clip-path="url(#cp44)"><rect x="0" y="0" width="56.6" height="57" fill="#000"/><path d="M-1.0 -1.0 L50.5 -1.0 L47.0 6.0 L43.0 14.0 L38.0 25.0 L34.0 36.0 L31.0 45.0 L29.0 58.5 L-1.0 58.5 Z" fill="rgb(12,12,12)"/><path d="M30.0 8.0 C31.3 5.8 37.7 4.0 40.0 5.0 C42.3 6.0 44.3 9.8 44.0 14.0 C43.7 18.2 39.8 24.8 38.0 30.0 C36.2 35.2 34.3 40.7 33.0 45.0 C31.7 49.3 32.2 54.2 30.0 56.0 C27.8 57.8 21.7 58.7 20.0 56.0 C18.3 53.3 19.0 44.7 20.0 40.0 C21.0 35.3 24.0 31.7 26.0 28.0 C28.0 24.3 31.3 21.3 32.0 18.0 C32.7 14.7 28.7 10.2 30.0 8.0 Z" fill="rgb(22,22,22)" filter="url(#b1)"/><path d="M-1.0 -1.0 C1.5 -7.8 11.8 -2.8 14.0 -1.0 C16.2 0.8 13.0 5.7 12.0 10.0 C11.0 14.3 9.3 20.8 8.0 25.0 C6.7 29.2 5.5 32.5 4.0 35.0 C2.5 37.5 -0.2 46.0 -1.0 40.0 C-1.8 34.0 -3.5 5.8 -1.0 -1.0 Z" fill="rgb(22,22,22)" filter="url(#b1)"/><path d="M16.0 19.0 C16.8 17.3 21.2 16.0 23.0 17.0 C24.8 18.0 26.7 22.7 27.0 25.0 C27.3 27.3 26.5 30.7 25.0 31.0 C23.5 31.3 19.5 29.0 18.0 27.0 C16.5 25.0 15.2 20.7 16.0 19.0 Z" fill="rgb(52,52,52)" filter="url(#b1)"/><g filter="url(#b04)"><path d="M31.8 51.2h0.7v0.7h-0.7zM36.6 21.3h0.9v0.9h-0.9zM27.0 47.6h0.7v0.7h-0.7zM26.4 42.0h0.9v0.9h-0.9zM32.5 28.6h0.6v0.6h-0.6zM20.6 26.2h0.5v0.5h-0.5zM21.6 13.1h1.0v1.0h-1.0zM22.8 30.8h0.9v0.9h-0.9zM33.9 7.5h0.8v0.8h-0.8zM42.1 7.5h0.8v0.8h-0.8zM24.1 19.0h0.6v0.6h-0.6zM22.0 52.9h0.8v0.8h-0.8zM29.6 11.6h0.5v0.5h-0.5zM31.3 49.4h0.8v0.8h-0.8zM21.6 44.2h0.5v0.5h-0.5zM20.8 26.4h0.8v0.8h-0.8zM36.0 19.9h1.0v1.0h-1.0zM24.7 40.0h0.8v0.8h-0.8zM32.1 44.2h0.8v0.8h-0.8zM30.6 9.9h0.7v0.7h-0.7zM37.7 22.1h0.9v0.9h-0.9zM37.2 8.4h0.8v0.8h-0.8zM24.2 21.6h0.9v0.9h-0.9zM34.6 16.4h0.6v0.6h-0.6zM39.4 15.0h0.7v0.7h-0.7zM25.5 53.5h0.9v0.9h-0.9zM29.6 55.1h0.8v0.8h-0.8zM18.1 43.0h0.8v0.8h-0.8zM44.0 8.9h0.9v0.9h-0.9zM26.2 23.2h0.8v0.8h-0.8zM33.2 31.7h0.8v0.8h-0.8zM41.3 13.3h0.9v0.9h-0.9zM23.4 16.3h0.7v0.7h-0.7zM34.3 7.3h0.8v0.8h-0.8zM33.1 45.1h0.9v0.9h-0.9zM16.6 55.3h0.6v0.6h-0.6zM26.3 30.7h0.5v0.5h-0.5zM38.8 23.7h0.6v0.6h-0.6zM31.6 43.7h0.5v0.5h-0.5zM23.5 38.6h0.9v0.9h-0.9z" fill="#787878"/><path d="M24.5 50.8h0.5v0.5h-0.5zM37.1 15.1h0.5v0.5h-0.5zM21.0 29.0h1.0v1.0h-1.0zM29.4 11.4h0.5v0.5h-0.5zM28.5 12.1h0.8v0.8h-0.8zM38.6 10.2h0.6v0.6h-0.6zM26.3 54.9h0.7v0.7h-0.7zM30.9 36.9h1.0v1.0h-1.0zM26.2 18.1h1.0v1.0h-1.0zM36.0 23.4h0.7v0.7h-0.7zM25.9 26.1h0.5v0.5h-0.5zM23.9 24.2h0.7v0.7h-0.7zM29.0 17.0h0.6v0.6h-0.6zM39.3 14.3h0.8v0.8h-0.8zM20.7 29.8h0.7v0.7h-0.7zM35.1 33.7h0.8v0.8h-0.8zM24.0 11.4h0.8v0.8h-0.8zM37.6 18.6h0.9v0.9h-0.9zM18.3 54.5h0.7v0.7h-0.7zM30.3 13.6h1.0v1.0h-1.0zM25.3 9.5h0.9v0.9h-0.9zM43.4 10.1h0.8v0.8h-0.8zM36.9 24.5h0.8v0.8h-0.8zM28.4 50.7h0.9v0.9h-0.9zM36.2 33.0h0.6v0.6h-0.6zM26.2 17.0h0.9v0.9h-0.9zM30.8 31.4h0.5v0.5h-0.5zM26.6 42.2h0.8v0.8h-0.8zM26.1 11.2h0.9v0.9h-0.9zM42.7 9.3h1.0v1.0h-1.0zM23.7 34.4h0.7v0.7h-0.7zM28.3 32.6h0.6v0.6h-0.6zM29.4 56.7h0.8v0.8h-0.8zM22.2 55.4h0.5v0.5h-0.5zM28.4 37.2h0.9v0.9h-0.9zM39.1 18.9h0.7v0.7h-0.7zM19.6 34.0h0.6v0.6h-0.6zM25.8 30.2h0.6v0.6h-0.6zM26.0 16.7h0.7v0.7h-0.7zM18.8 46.0h0.6v0.6h-0.6zM18.8 42.6h0.6v0.6h-0.6zM27.8 20.5h0.7v0.7h-0.7zM30.8 39.4h0.9v0.9h-0.9zM35.0 7.4h0.8v0.8h-0.8z" fill="#303030"/><path d="M27.3 16.8h0.8v0.8h-0.8zM37.9 23.9h0.6v0.6h-0.6zM39.1 7.1h0.5v0.5h-0.5zM18.5 55.6h0.7v0.7h-0.7zM35.1 36.6h0.9v0.9h-0.9zM40.9 13.2h0.6v0.6h-0.6zM38.8 13.0h0.9v0.9h-0.9zM20.9 21.3h0.6v0.6h-0.6zM31.2 48.3h0.8v0.8h-0.8zM23.1 29.0h0.8v0.8h-0.8zM30.1 44.7h0.6v0.6h-0.6zM26.4 37.3h0.8v0.8h-0.8zM18.7 45.6h0.8v0.8h-0.8zM24.9 31.2h0.5v0.5h-0.5zM24.8 11.5h0.7v0.7h-0.7zM32.5 31.4h0.9v0.9h-0.9zM22.1 39.5h1.0v1.0h-1.0zM36.7 27.4h0.9v0.9h-0.9zM25.1 32.8h0.7v0.7h-0.7zM30.7 48.6h0.5v0.5h-0.5zM45.0 5.0h0.5v0.5h-0.5zM38.2 8.6h0.5v0.5h-0.5zM18.8 37.6h0.6v0.6h-0.6zM44.1 4.0h0.9v0.9h-0.9zM32.5 7.3h0.7v0.7h-0.7zM31.1 42.6h0.9v0.9h-0.9zM26.2 39.4h1.0v1.0h-1.0zM20.9 33.4h1.0v1.0h-1.0zM31.9 26.1h0.9v0.9h-0.9zM25.5 32.2h0.9v0.9h-0.9zM30.0 36.5h0.7v0.7h-0.7zM24.2 16.7h0.9v0.9h-0.9zM24.9 48.5h0.8v0.8h-0.8zM32.9 38.5h0.7v0.7h-0.7zM26.9 19.8h0.6v0.6h-0.6zM33.8 19.4h1.0v1.0h-1.0zM27.4 45.2h1.0v1.0h-1.0zM32.9 44.4h0.7v0.7h-0.7z" fill="#909090"/><path d="M31.8 9.7h1.0v1.0h-1.0zM38.1 23.3h0.9v0.9h-0.9zM36.2 19.4h0.8v0.8h-0.8zM38.3 26.6h0.9v0.9h-0.9zM31.2 47.3h0.8v0.8h-0.8zM32.4 39.4h0.9v0.9h-0.9zM23.6 51.1h0.8v0.8h-0.8zM27.0 17.4h0.7v0.7h-0.7zM31.5 51.6h0.8v0.8h-0.8zM29.7 26.0h1.0v1.0h-1.0zM31.7 23.1h0.6v0.6h-0.6zM25.4 40.4h0.5v0.5h-0.5zM38.0 8.3h0.8v0.8h-0.8zM25.8 36.2h0.9v0.9h-0.9zM35.7 8.4h0.5v0.5h-0.5zM25.5 14.3h0.7v0.7h-0.7zM21.1 40.4h0.7v0.7h-0.7zM24.7 46.2h0.5v0.5h-0.5zM37.6 17.1h0.7v0.7h-0.7zM19.2 34.2h0.9v0.9h-0.9zM26.7 43.3h0.6v0.6h-0.6zM18.9 34.8h0.5v0.5h-0.5zM34.5 30.9h0.7v0.7h-0.7zM20.4 56.2h0.5v0.5h-0.5zM34.0 21.6h0.8v0.8h-0.8zM26.5 9.8h0.5v0.5h-0.5zM32.7 11.1h0.6v0.6h-0.6zM31.5 23.7h0.5v0.5h-0.5zM41.2 16.2h1.0v1.0h-1.0zM32.7 44.6h0.6v0.6h-0.6zM23.4 55.3h0.9v0.9h-0.9zM42.3 6.2h1.0v1.0h-1.0zM35.7 14.5h0.8v0.8h-0.8zM32.0 24.2h0.5v0.5h-0.5zM33.3 17.6h0.7v0.7h-0.7zM26.6 35.2h0.6v0.6h-0.6zM31.2 38.1h0.8v0.8h-0.8zM18.3 44.2h0.9v0.9h-0.9z" fill="#606060"/><path d="M30.1 43.9h0.6v0.6h-0.6zM32.3 7.3h0.6v0.6h-0.6zM22.9 13.8h0.5v0.5h-0.5zM26.3 26.2h0.7v0.7h-0.7zM30.7 32.3h0.5v0.5h-0.5zM24.1 22.1h0.6v0.6h-0.6zM25.8 16.6h0.6v0.6h-0.6zM31.0 44.3h0.8v0.8h-0.8zM29.7 29.3h0.8v0.8h-0.8zM29.5 53.2h0.6v0.6h-0.6zM27.6 23.3h0.6v0.6h-0.6zM36.6 6.7h0.9v0.9h-0.9zM31.3 16.1h0.8v0.8h-0.8zM38.1 20.3h0.5v0.5h-0.5zM31.3 49.0h1.0v1.0h-1.0zM29.7 27.1h0.8v0.8h-0.8zM29.1 29.4h0.6v0.6h-0.6zM32.0 12.5h0.8v0.8h-0.8zM28.0 23.0h0.8v0.8h-0.8zM32.8 41.0h0.6v0.6h-0.6zM16.7 51.3h0.9v0.9h-0.9zM26.0 11.3h0.6v0.6h-0.6zM28.4 14.7h0.7v0.7h-0.7zM35.5 35.6h0.8v0.8h-0.8zM23.2 53.9h0.9v0.9h-0.9zM30.5 47.3h0.6v0.6h-0.6zM33.4 9.3h0.9v0.9h-0.9zM42.8 7.0h1.0v1.0h-1.0zM39.6 9.6h0.5v0.5h-0.5zM43.2 5.5h0.7v0.7h-0.7zM22.7 52.9h1.0v1.0h-1.0zM17.6 51.7h0.6v0.6h-0.6zM29.7 48.1h0.9v0.9h-0.9zM20.5 32.8h0.7v0.7h-0.7zM37.3 21.1h0.9v0.9h-0.9zM32.1 43.6h0.8v0.8h-0.8zM29.4 24.1h0.6v0.6h-0.6zM37.7 9.3h0.7v0.7h-0.7z" fill="#484848"/><path d="M27.9 27.5h0.5v0.5h-0.5zM30.8 12.0h0.5v0.5h-0.5z" fill="#a8a8a8"/></g><g filter="url(#b04)"><path d="M13.3 13.5h0.6v0.6h-0.6zM12.5 5.8h0.8v0.8h-0.8zM2.7 38.2h0.8v0.8h-0.8zM0.3 0.8h1.0v1.0h-1.0zM5.3 30.4h1.0v1.0h-1.0zM1.7 11.8h0.5v0.5h-0.5zM11.0 6.1h0.7v0.7h-0.7zM8.3 30.9h0.9v0.9h-0.9zM4.1 35.5h0.5v0.5h-0.5zM5.8 3.3h0.8v0.8h-0.8zM8.3 26.7h1.0v1.0h-1.0zM10.2 6.0h0.9v0.9h-0.9zM6.8 15.8h0.7v0.7h-0.7zM15.3 5.3h0.6v0.6h-0.6zM0.9 28.1h0.5v0.5h-0.5zM8.1 17.3h0.9v0.9h-0.9zM2.9 33.1h0.6v0.6h-0.6zM0.6 4.4h0.5v0.5h-0.5zM10.0 7.7h0.6v0.6h-0.6zM5.2 20.0h0.8v0.8h-0.8zM4.8 34.1h0.7v0.7h-0.7zM17.1 2.8h0.7v0.7h-0.7zM10.3 0.0h0.7v0.7h-0.7zM6.9 31.2h0.7v0.7h-0.7zM1.8 40.3h0.9v0.9h-0.9zM5.2 2.6h0.9v0.9h-0.9zM1.7 19.4h0.9v0.9h-0.9zM8.6 2.6h0.7v0.7h-0.7zM6.4 21.1h0.8v0.8h-0.8zM12.2 12.2h0.7v0.7h-0.7zM3.0 2.9h0.9v0.9h-0.9zM0.4 31.7h0.9v0.9h-0.9zM4.7 36.2h0.5v0.5h-0.5z" fill="#787878"/><path d="M2.8 15.3h0.6v0.6h-0.6zM10.9 4.9h0.6v0.6h-0.6zM1.9 16.9h0.7v0.7h-0.7zM0.3 32.4h0.8v0.8h-0.8zM11.3 12.5h0.8v0.8h-0.8zM14.2 3.7h0.5v0.5h-0.5zM3.8 37.5h0.7v0.7h-0.7zM1.5 37.9h0.6v0.6h-0.6zM2.0 26.2h0.8v0.8h-0.8zM1.4 40.7h1.0v1.0h-1.0zM7.9 3.5h0.7v0.7h-0.7zM2.5 9.9h0.9v0.9h-0.9zM3.4 5.3h0.7v0.7h-0.7zM7.7 12.3h0.7v0.7h-0.7zM1.0 39.9h0.6v0.6h-0.6zM0.7 30.9h0.7v0.7h-0.7zM1.0 13.3h0.9v0.9h-0.9zM17.3 0.1h0.7v0.7h-0.7zM1.0 6.5h0.7v0.7h-0.7zM2.8 39.8h0.6v0.6h-0.6zM9.2 27.8h0.8v0.8h-0.8zM9.5 23.0h0.9v0.9h-0.9zM8.1 11.7h0.6v0.6h-0.6zM5.6 32.7h0.7v0.7h-0.7zM6.5 33.6h0.7v0.7h-0.7zM5.0 8.3h0.6v0.6h-0.6zM2.2 19.2h0.6v0.6h-0.6zM0.4 43.0h0.8v0.8h-0.8zM2.4 0.6h0.7v0.7h-0.7z" fill="#484848"/><path d="M7.0 12.1h0.5v0.5h-0.5zM3.0 2.3h0.9v0.9h-0.9zM0.3 13.5h0.6v0.6h-0.6zM3.7 39.9h0.6v0.6h-0.6zM3.2 9.6h0.9v0.9h-0.9zM0.8 37.7h0.5v0.5h-0.5zM8.2 17.7h0.6v0.6h-0.6zM11.2 7.5h1.0v1.0h-1.0zM0.1 28.6h0.8v0.8h-0.8zM11.1 7.7h0.9v0.9h-0.9zM11.2 20.8h0.7v0.7h-0.7zM7.0 7.3h0.7v0.7h-0.7zM0.4 11.9h0.8v0.8h-0.8zM2.4 7.9h1.0v1.0h-1.0zM4.0 17.4h0.7v0.7h-0.7zM4.5 25.0h0.5v0.5h-0.5zM5.5 34.3h0.6v0.6h-0.6zM3.7 23.3h0.9v0.9h-0.9zM0.4 31.4h0.8v0.8h-0.8zM2.1 28.5h0.7v0.7h-0.7zM3.9 39.1h0.5v0.5h-0.5zM1.4 1.5h0.9v0.9h-0.9zM7.8 23.6h0.7v0.7h-0.7zM15.1 0.1h0.7v0.7h-0.7zM1.1 32.2h0.7v0.7h-0.7zM2.3 27.8h0.6v0.6h-0.6zM2.0 30.1h0.6v0.6h-0.6zM1.2 9.0h1.0v1.0h-1.0zM5.2 30.2h0.7v0.7h-0.7z" fill="#303030"/><path d="M0.5 38.8h0.8v0.8h-0.8zM15.0 7.4h1.0v1.0h-1.0zM13.0 3.4h0.9v0.9h-0.9zM4.3 25.1h0.8v0.8h-0.8zM3.9 33.7h0.7v0.7h-0.7zM2.1 31.1h0.9v0.9h-0.9zM8.0 8.9h0.6v0.6h-0.6zM14.4 12.9h0.5v0.5h-0.5zM9.0 2.8h0.8v0.8h-0.8zM5.3 26.6h0.7v0.7h-0.7zM3.1 20.2h0.7v0.7h-0.7zM8.0 26.0h0.9v0.9h-0.9zM6.5 33.1h0.9v0.9h-0.9zM8.0 15.6h0.6v0.6h-0.6zM6.1 33.4h0.6v0.6h-0.6zM11.9 0.7h0.7v0.7h-0.7zM4.5 14.0h0.8v0.8h-0.8zM4.1 4.9h0.9v0.9h-0.9zM2.7 38.9h0.9v0.9h-0.9zM7.8 20.4h1.0v1.0h-1.0zM7.6 25.3h0.6v0.6h-0.6zM7.0 34.3h0.8v0.8h-0.8zM1.9 21.1h0.9v0.9h-0.9zM9.8 5.6h0.6v0.6h-0.6zM11.8 2.7h0.8v0.8h-0.8zM8.4 25.9h0.8v0.8h-0.8zM1.8 24.9h1.0v1.0h-1.0zM5.9 34.7h0.7v0.7h-0.7zM4.9 9.7h0.5v0.5h-0.5zM2.1 19.4h0.5v0.5h-0.5z" fill="#909090"/><path d="M15.5 6.3h0.5v0.5h-0.5zM7.8 8.8h1.0v1.0h-1.0zM0.0 25.9h0.8v0.8h-0.8zM3.9 24.9h0.9v0.9h-0.9zM6.8 11.2h0.8v0.8h-0.8zM1.5 0.3h0.7v0.7h-0.7zM3.2 17.6h0.9v0.9h-0.9zM3.5 38.3h0.7v0.7h-0.7zM11.4 25.4h0.9v0.9h-0.9zM9.3 17.5h0.7v0.7h-0.7zM2.7 9.0h0.6v0.6h-0.6zM6.9 22.5h0.9v0.9h-0.9zM1.2 25.1h0.6v0.6h-0.6zM2.6 26.8h0.8v0.8h-0.8zM3.4 9.9h0.5v0.5h-0.5zM5.0 17.1h0.7v0.7h-0.7zM4.9 1.5h0.8v0.8h-0.8zM8.7 8.1h0.6v0.6h-0.6zM9.1 6.2h0.8v0.8h-0.8zM8.2 19.5h0.8v0.8h-0.8zM1.8 19.3h1.0v1.0h-1.0zM4.2 12.9h0.7v0.7h-0.7zM7.3 15.8h0.7v0.7h-0.7zM13.6 16.5h0.9v0.9h-0.9zM0.8 36.6h0.7v0.7h-0.7zM5.4 37.1h0.5v0.5h-0.5zM4.2 0.7h0.7v0.7h-0.7zM6.9 0.2h0.8v0.8h-0.8z" fill="#606060"/><path d="M3.5 3.4h0.6v0.6h-0.6z" fill="#a8a8a8"/></g><g filter="url(#b04)"><path d="M16.9 31.2h0.6v0.6h-0.6zM24.7 28.8h0.6v0.6h-0.6zM16.8 27.5h0.8v0.8h-0.8zM16.4 17.4h0.6v0.6h-0.6zM20.3 26.2h0.8v0.8h-0.8zM25.4 27.9h1.0v1.0h-1.0zM21.9 27.0h0.6v0.6h-0.6zM27.4 30.8h0.8v0.8h-0.8zM22.6 23.5h0.9v0.9h-0.9zM22.3 24.5h0.8v0.8h-0.8zM24.4 28.2h0.9v0.9h-0.9zM15.6 27.8h0.8v0.8h-0.8zM24.7 18.1h0.8v0.8h-0.8z" fill="#909090"/><path d="M25.8 17.7h0.8v0.8h-0.8zM14.2 17.1h0.9v0.9h-0.9zM18.3 28.3h0.6v0.6h-0.6zM15.5 31.7h0.9v0.9h-0.9zM24.3 20.2h0.7v0.7h-0.7zM20.1 30.5h0.6v0.6h-0.6zM22.9 29.4h0.9v0.9h-0.9zM23.2 30.5h0.8v0.8h-0.8zM15.1 19.6h0.5v0.5h-0.5zM26.8 18.3h0.6v0.6h-0.6zM24.6 22.5h1.0v1.0h-1.0zM27.8 26.2h0.7v0.7h-0.7zM20.4 21.4h0.5v0.5h-0.5zM21.1 21.7h0.6v0.6h-0.6zM14.9 18.9h0.9v0.9h-0.9zM25.1 22.9h0.7v0.7h-0.7zM26.2 16.8h0.6v0.6h-0.6z" fill="#606060"/><path d="M23.5 24.3h0.5v0.5h-0.5zM14.9 17.2h0.7v0.7h-0.7zM16.9 27.2h0.6v0.6h-0.6zM15.8 28.6h1.0v1.0h-1.0zM18.6 17.5h1.0v1.0h-1.0zM20.0 29.6h0.8v0.8h-0.8zM18.6 24.0h0.8v0.8h-0.8zM17.2 28.6h0.6v0.6h-0.6zM27.0 31.7h0.8v0.8h-0.8zM25.6 17.1h0.6v0.6h-0.6zM19.3 19.5h0.8v0.8h-0.8zM26.0 17.7h0.8v0.8h-0.8zM24.8 18.9h1.0v1.0h-1.0zM26.2 28.5h1.0v1.0h-1.0zM24.3 26.0h0.8v0.8h-0.8z" fill="#787878"/></g><path d="M50.5 -1.0 C49.9 0.2 48.2 3.5 47.0 6.0 C45.8 8.5 44.5 10.8 43.0 14.0 C41.5 17.2 39.5 21.3 38.0 25.0 C36.5 28.7 35.2 32.7 34.0 36.0 C32.8 39.3 31.8 41.2 31.0 45.0 C30.2 48.8 29.3 56.2 29.0 58.5" stroke="rgb(70,70,70)" stroke-width="0.8" fill="none" filter="url(#b05)"/></g>
<clipPath id="cp45"><rect x="0" y="0" width="56.6" height="57"/></clipPath><g transform="translate(319.7,620)" clip-path="url(#cp45)"><rect x="0" y="0" width="56.6" height="57" fill="#000"/><rect x="0" y="0" width="57" height="57" fill="#bc360a"/><path d="M12.0 4.0 C14.0 1.5 18.3 3.2 20.0 5.0 C21.7 6.8 22.3 11.7 22.0 15.0 C21.7 18.3 19.3 20.8 18.0 25.0 C16.7 29.2 15.0 35.0 14.0 40.0 C13.0 45.0 13.7 52.5 12.0 55.0 C10.3 57.5 5.0 58.3 4.0 55.0 C3.0 51.7 5.3 40.8 6.0 35.0 C6.7 29.2 7.0 25.2 8.0 20.0 C9.0 14.8 10.0 6.5 12.0 4.0 Z" fill="#5a0800" filter="url(#b2)"/><path d="M0.0 45.0 C1.3 42.7 6.3 41.8 8.0 44.0 C9.7 46.2 11.3 55.7 10.0 58.0 C8.7 60.3 1.7 60.2 0.0 58.0 C-1.7 55.8 -1.3 47.3 0.0 45.0 Z" fill="#6a1000" filter="url(#b2)"/><path d="M16.0 20.0 C16.3 17.7 21.7 16.3 24.0 18.0 C26.3 19.7 29.3 26.3 30.0 30.0 C30.7 33.7 29.3 39.7 28.0 40.0 C26.7 40.3 24.0 35.3 22.0 32.0 C20.0 28.7 15.7 22.3 16.0 20.0 Z" fill="#e07020" filter="url(#b2)"/><path d="M30.0 5.0 C31.3 1.7 38.0 3.3 40.0 5.0 C42.0 6.7 42.7 10.5 42.0 15.0 C41.3 19.5 37.7 30.3 36.0 32.0 C34.3 33.7 33.0 29.5 32.0 25.0 C31.0 20.5 28.7 8.3 30.0 5.0 Z" fill="#d05818" filter="url(#b2)"/><g filter="url(#b04)"><path d="M9.4 32.4h0.8v0.8h-0.8zM26.2 5.3h0.6v0.6h-0.6zM17.3 22.0h0.6v0.6h-0.6zM43.6 16.3h0.5v0.5h-0.5zM43.3 24.6h0.8v0.8h-0.8zM55.6 19.1h1.1v1.1h-1.1zM53.0 44.4h0.9v0.9h-0.9zM1.5 15.3h1.2v1.2h-1.2zM10.2 11.9h0.9v0.9h-0.9zM9.8 48.0h1.0v1.0h-1.0zM28.2 41.9h0.6v0.6h-0.6zM39.0 5.4h0.9v0.9h-0.9zM40.5 50.1h1.0v1.0h-1.0zM48.9 21.4h0.6v0.6h-0.6zM51.3 24.7h0.6v0.6h-0.6zM35.0 54.6h1.1v1.1h-1.1zM10.1 14.2h0.9v0.9h-0.9zM11.8 22.2h0.7v0.7h-0.7zM46.8 14.1h0.8v0.8h-0.8zM27.7 39.8h1.0v1.0h-1.0zM40.5 35.6h0.6v0.6h-0.6zM34.0 55.0h1.0v1.0h-1.0zM18.1 42.5h1.0v1.0h-1.0zM45.7 30.6h0.9v0.9h-0.9zM38.0 38.4h0.6v0.6h-0.6zM11.9 48.9h1.2v1.2h-1.2zM7.8 0.0h1.2v1.2h-1.2zM20.8 21.5h0.7v0.7h-0.7zM14.6 34.8h0.9v0.9h-0.9zM32.8 31.6h0.9v0.9h-0.9zM1.1 12.2h0.8v0.8h-0.8zM54.1 31.6h0.8v0.8h-0.8zM55.8 16.7h0.8v0.8h-0.8zM22.1 11.3h1.1v1.1h-1.1zM50.7 1.5h1.1v1.1h-1.1zM34.1 29.7h1.1v1.1h-1.1z" fill="#ffb040"/><path d="M29.7 2.7h0.6v0.6h-0.6zM27.4 39.0h1.1v1.1h-1.1zM0.2 45.2h1.0v1.0h-1.0zM27.0 12.5h1.1v1.1h-1.1zM15.7 17.9h0.8v0.8h-0.8zM19.1 55.5h1.1v1.1h-1.1zM54.2 52.8h0.6v0.6h-0.6zM38.9 4.6h0.7v0.7h-0.7zM17.6 22.6h0.8v0.8h-0.8zM42.7 31.4h0.8v0.8h-0.8zM55.9 30.6h0.8v0.8h-0.8zM37.6 1.8h1.2v1.2h-1.2zM52.2 27.4h1.1v1.1h-1.1zM29.1 23.4h0.7v0.7h-0.7zM0.5 24.9h0.8v0.8h-0.8zM28.8 43.9h0.6v0.6h-0.6zM3.2 32.9h0.6v0.6h-0.6zM57.0 8.6h0.6v0.6h-0.6zM41.7 10.5h1.1v1.1h-1.1zM48.8 10.8h1.0v1.0h-1.0zM35.8 25.2h1.0v1.0h-1.0zM36.0 15.5h1.1v1.1h-1.1zM4.8 4.7h0.8v0.8h-0.8zM46.4 28.5h0.9v0.9h-0.9zM28.3 56.3h1.1v1.1h-1.1zM42.1 15.7h0.8v0.8h-0.8zM13.5 1.9h0.8v0.8h-0.8zM32.1 29.6h0.9v0.9h-0.9zM30.8 22.4h0.8v0.8h-0.8zM5.7 19.4h0.5v0.5h-0.5zM24.0 30.5h1.1v1.1h-1.1zM6.7 27.7h0.7v0.7h-0.7zM27.0 43.0h1.1v1.1h-1.1zM23.1 35.3h0.8v0.8h-0.8zM34.8 46.5h1.1v1.1h-1.1zM49.4 3.2h1.0v1.0h-1.0zM1.7 27.7h0.5v0.5h-0.5zM38.5 43.4h0.7v0.7h-0.7zM23.7 22.1h0.6v0.6h-0.6zM5.3 31.2h0.6v0.6h-0.6zM6.8 35.9h1.0v1.0h-1.0zM42.4 39.1h0.6v0.6h-0.6zM23.5 17.0h0.6v0.6h-0.6zM20.9 2.0h1.1v1.1h-1.1zM14.4 15.3h1.1v1.1h-1.1zM51.3 51.5h1.1v1.1h-1.1zM52.7 16.4h0.7v0.7h-0.7zM7.9 46.8h1.0v1.0h-1.0zM3.5 18.1h0.7v0.7h-0.7zM19.3 8.4h1.1v1.1h-1.1zM50.7 3.1h1.2v1.2h-1.2zM55.9 29.5h0.9v0.9h-0.9zM18.5 5.4h1.1v1.1h-1.1zM9.4 51.3h0.8v0.8h-0.8zM51.4 10.1h0.5v0.5h-0.5zM56.2 4.4h0.9v0.9h-0.9zM39.8 26.4h0.7v0.7h-0.7zM3.2 10.3h0.9v0.9h-0.9zM24.8 22.0h1.0v1.0h-1.0zM44.8 24.7h0.9v0.9h-0.9zM20.0 28.2h0.5v0.5h-0.5zM19.0 56.2h1.2v1.2h-1.2zM51.6 27.7h1.1v1.1h-1.1zM4.2 48.8h0.7v0.7h-0.7zM5.7 39.7h1.0v1.0h-1.0zM24.6 2.9h0.7v0.7h-0.7zM43.2 39.0h0.9v0.9h-0.9zM31.3 17.7h0.9v0.9h-0.9zM4.5 22.7h0.8v0.8h-0.8zM1.4 54.8h0.9v0.9h-0.9zM47.7 13.7h0.7v0.7h-0.7zM33.1 10.9h0.8v0.8h-0.8zM19.6 12.1h0.9v0.9h-0.9zM1.1 29.5h1.2v1.2h-1.2zM25.7 13.3h0.7v0.7h-0.7zM54.0 45.3h0.9v0.9h-0.9zM32.7 31.6h1.0v1.0h-1.0zM44.8 7.0h0.8v0.8h-0.8zM6.3 26.8h0.8v0.8h-0.8zM50.6 34.3h1.2v1.2h-1.2zM52.7 32.6h0.7v0.7h-0.7zM3.3 49.1h0.9v0.9h-0.9zM4.1 56.0h0.6v0.6h-0.6zM51.7 4.1h0.6v0.6h-0.6zM21.1 29.8h1.1v1.1h-1.1zM25.3 36.6h0.8v0.8h-0.8zM39.5 9.1h0.8v0.8h-0.8zM30.8 47.1h0.8v0.8h-0.8zM3.3 30.8h0.9v0.9h-0.9zM14.7 50.0h0.5v0.5h-0.5zM55.8 26.2h0.7v0.7h-0.7zM27.1 32.9h0.5v0.5h-0.5zM31.8 53.9h0.8v0.8h-0.8zM36.5 42.4h0.9v0.9h-0.9zM8.2 34.8h0.6v0.6h-0.6zM3.6 12.0h0.9v0.9h-0.9zM7.5 24.3h0.5v0.5h-0.5zM41.9 40.8h1.1v1.1h-1.1zM18.1 23.5h1.2v1.2h-1.2zM49.4 33.6h1.2v1.2h-1.2zM6.4 38.9h0.7v0.7h-0.7zM15.0 31.5h1.1v1.1h-1.1zM40.1 17.3h0.7v0.7h-0.7zM45.9 50.0h0.9v0.9h-0.9zM20.7 34.9h0.7v0.7h-0.7zM23.9 37.5h1.0v1.0h-1.0zM50.9 51.4h1.0v1.0h-1.0zM32.2 35.0h0.8v0.8h-0.8zM42.0 32.6h1.0v1.0h-1.0zM28.5 17.8h1.1v1.1h-1.1zM30.5 11.6h1.0v1.0h-1.0zM1.0 33.1h0.9v0.9h-0.9zM11.2 6.0h0.8v0.8h-0.8zM53.2 51.6h0.9v0.9h-0.9zM13.4 52.8h0.7v0.7h-0.7zM0.1 16.6h1.0v1.0h-1.0zM3.2 30.1h1.0v1.0h-1.0zM39.8 46.2h0.8v0.8h-0.8zM50.0 56.4h0.9v0.9h-0.9zM32.9 39.8h0.9v0.9h-0.9zM25.4 6.8h0.7v0.7h-0.7zM22.2 37.6h1.2v1.2h-1.2zM45.4 46.1h1.1v1.1h-1.1zM28.4 30.4h0.6v0.6h-0.6zM11.9 3.6h0.6v0.6h-0.6zM29.3 18.3h0.6v0.6h-0.6zM22.6 40.4h1.2v1.2h-1.2zM0.3 31.7h1.0v1.0h-1.0zM34.6 14.2h0.8v0.8h-0.8zM55.1 18.3h0.8v0.8h-0.8zM5.0 12.9h1.0v1.0h-1.0zM21.7 42.3h0.7v0.7h-0.7zM44.0 37.7h1.1v1.1h-1.1zM26.7 36.4h1.0v1.0h-1.0zM53.8 24.4h0.8v0.8h-0.8zM39.2 29.2h0.9v0.9h-0.9zM32.0 51.5h1.1v1.1h-1.1zM21.4 41.9h0.9v0.9h-0.9zM20.2 10.5h0.8v0.8h-0.8zM43.3 1.7h0.7v0.7h-0.7zM38.0 25.5h0.8v0.8h-0.8zM15.8 55.2h0.8v0.8h-0.8zM24.7 50.9h0.8v0.8h-0.8zM29.6 43.0h0.5v0.5h-0.5zM30.8 16.8h0.6v0.6h-0.6zM31.0 52.0h1.0v1.0h-1.0zM46.6 36.0h1.1v1.1h-1.1zM7.7 34.6h0.7v0.7h-0.7zM18.0 4.8h0.6v0.6h-0.6zM40.0 39.7h0.5v0.5h-0.5zM42.5 8.2h0.9v0.9h-0.9zM56.5 17.1h0.9v0.9h-0.9zM55.1 33.5h0.9v0.9h-0.9zM36.5 1.9h0.7v0.7h-0.7zM41.8 29.5h0.8v0.8h-0.8zM18.5 28.6h0.8v0.8h-0.8zM40.1 34.5h1.2v1.2h-1.2zM46.2 5.0h1.2v1.2h-1.2zM9.9 49.8h0.8v0.8h-0.8zM39.1 1.5h1.1v1.1h-1.1zM4.6 11.9h0.6v0.6h-0.6zM1.6 26.5h1.2v1.2h-1.2zM16.1 26.3h1.0v1.0h-1.0zM18.4 16.3h0.8v0.8h-0.8zM28.3 14.9h0.6v0.6h-0.6z" fill="#e05a12"/><path d="M38.4 26.6h1.1v1.1h-1.1zM55.5 54.4h1.0v1.0h-1.0zM2.4 8.0h1.1v1.1h-1.1zM24.1 52.0h0.5v0.5h-0.5zM16.4 46.6h0.9v0.9h-0.9zM54.7 50.9h0.6v0.6h-0.6zM35.5 20.9h0.9v0.9h-0.9zM29.6 25.4h1.0v1.0h-1.0zM49.5 47.1h0.7v0.7h-0.7zM44.9 47.5h0.6v0.6h-0.6zM48.5 38.1h1.0v1.0h-1.0zM55.0 30.8h1.1v1.1h-1.1zM48.4 0.3h0.5v0.5h-0.5zM42.3 5.2h1.0v1.0h-1.0zM53.6 2.3h1.2v1.2h-1.2zM26.9 54.3h1.1v1.1h-1.1zM48.3 12.1h0.9v0.9h-0.9zM42.0 24.2h0.6v0.6h-0.6zM49.4 20.8h0.8v0.8h-0.8zM23.5 10.2h0.9v0.9h-0.9zM39.0 32.1h0.5v0.5h-0.5zM30.7 47.8h0.8v0.8h-0.8zM8.1 48.9h1.0v1.0h-1.0zM32.3 11.8h0.9v0.9h-0.9zM34.4 9.7h1.1v1.1h-1.1zM40.8 52.9h1.0v1.0h-1.0zM15.8 30.0h0.7v0.7h-0.7zM0.6 49.1h0.7v0.7h-0.7zM39.1 28.4h0.7v0.7h-0.7zM38.8 39.6h0.7v0.7h-0.7zM13.0 45.5h0.8v0.8h-0.8zM22.7 33.7h0.9v0.9h-0.9zM11.5 9.2h0.8v0.8h-0.8zM23.8 14.3h1.0v1.0h-1.0zM55.5 15.6h1.0v1.0h-1.0zM42.5 11.7h0.8v0.8h-0.8zM49.2 31.9h0.7v0.7h-0.7zM10.0 9.2h0.8v0.8h-0.8zM13.4 21.7h0.8v0.8h-0.8zM18.2 26.9h1.1v1.1h-1.1zM23.1 15.6h0.8v0.8h-0.8zM22.4 21.5h0.6v0.6h-0.6zM12.5 50.5h1.1v1.1h-1.1zM24.4 1.7h1.2v1.2h-1.2zM44.8 41.0h1.1v1.1h-1.1zM18.8 20.2h1.2v1.2h-1.2zM52.3 20.8h0.9v0.9h-0.9zM49.0 10.4h0.7v0.7h-0.7zM24.6 56.9h0.7v0.7h-0.7zM29.9 8.7h0.9v0.9h-0.9zM27.4 34.5h0.8v0.8h-0.8zM39.7 17.9h1.0v1.0h-1.0zM21.4 21.8h1.0v1.0h-1.0zM21.8 28.4h0.7v0.7h-0.7zM12.1 3.8h1.0v1.0h-1.0zM13.2 47.4h0.6v0.6h-0.6zM53.9 14.7h1.1v1.1h-1.1zM29.7 38.0h0.7v0.7h-0.7zM16.6 14.9h0.5v0.5h-0.5zM17.7 31.5h1.1v1.1h-1.1zM26.1 31.0h0.9v0.9h-0.9zM52.6 17.6h0.7v0.7h-0.7zM4.0 35.7h0.7v0.7h-0.7zM3.5 9.4h1.1v1.1h-1.1zM28.1 31.3h0.9v0.9h-0.9zM16.1 32.6h0.8v0.8h-0.8zM28.2 56.1h0.7v0.7h-0.7zM13.6 38.9h0.5v0.5h-0.5zM55.9 0.4h0.9v0.9h-0.9zM4.6 44.7h0.9v0.9h-0.9zM56.7 19.1h0.5v0.5h-0.5zM5.9 23.5h0.7v0.7h-0.7zM27.3 2.1h0.6v0.6h-0.6zM46.8 12.7h0.6v0.6h-0.6zM22.4 3.5h1.1v1.1h-1.1zM16.8 45.6h0.9v0.9h-0.9zM32.8 30.1h1.2v1.2h-1.2zM11.8 52.0h0.6v0.6h-0.6zM52.3 41.0h0.9v0.9h-0.9zM31.6 19.4h0.6v0.6h-0.6z" fill="#f07a20"/><path d="M42.0 51.5h0.7v0.7h-0.7zM33.2 52.7h0.9v0.9h-0.9zM12.8 23.7h0.7v0.7h-0.7zM11.7 10.8h0.9v0.9h-0.9zM49.3 24.0h0.8v0.8h-0.8zM41.2 42.1h0.7v0.7h-0.7zM3.5 18.5h1.1v1.1h-1.1zM10.4 48.0h1.1v1.1h-1.1zM10.3 50.7h0.9v0.9h-0.9zM43.1 21.7h0.6v0.6h-0.6zM36.6 52.4h0.7v0.7h-0.7zM44.2 29.7h1.0v1.0h-1.0zM33.5 31.6h0.7v0.7h-0.7zM37.5 15.3h0.8v0.8h-0.8zM7.9 34.0h0.9v0.9h-0.9zM42.8 35.4h0.5v0.5h-0.5zM55.8 21.2h1.1v1.1h-1.1zM25.1 38.2h0.5v0.5h-0.5zM22.0 20.7h0.6v0.6h-0.6zM27.4 56.1h1.2v1.2h-1.2zM17.3 33.8h0.5v0.5h-0.5zM44.3 41.2h0.8v0.8h-0.8zM4.7 52.3h0.7v0.7h-0.7zM43.0 31.6h0.8v0.8h-0.8zM26.9 38.3h0.8v0.8h-0.8zM28.2 51.5h1.1v1.1h-1.1zM25.5 20.0h1.0v1.0h-1.0zM15.8 55.0h0.7v0.7h-0.7zM52.2 21.5h1.0v1.0h-1.0zM36.2 1.4h0.9v0.9h-0.9zM9.9 31.4h0.8v0.8h-0.8zM14.1 17.7h0.5v0.5h-0.5zM4.3 22.3h1.1v1.1h-1.1zM2.9 5.8h0.9v0.9h-0.9zM0.0 54.6h0.8v0.8h-0.8zM20.1 5.6h0.6v0.6h-0.6zM1.9 9.1h0.6v0.6h-0.6zM30.7 6.0h0.8v0.8h-0.8zM7.7 8.3h0.7v0.7h-0.7zM54.8 49.4h0.7v0.7h-0.7zM35.9 22.5h0.5v0.5h-0.5zM34.1 25.4h0.9v0.9h-0.9zM12.6 38.7h0.8v0.8h-0.8zM47.7 45.6h1.1v1.1h-1.1zM43.5 29.0h0.7v0.7h-0.7zM35.0 16.2h0.8v0.8h-0.8zM18.0 25.5h1.0v1.0h-1.0zM28.5 3.5h0.6v0.6h-0.6zM35.3 47.3h0.6v0.6h-0.6zM51.0 54.5h1.1v1.1h-1.1zM26.1 1.6h0.7v0.7h-0.7zM2.8 9.3h0.5v0.5h-0.5zM14.5 47.1h0.7v0.7h-0.7zM49.4 3.9h0.7v0.7h-0.7zM42.6 1.6h0.9v0.9h-0.9zM39.7 6.6h1.1v1.1h-1.1zM27.1 17.3h0.8v0.8h-0.8zM39.0 21.2h0.6v0.6h-0.6zM43.3 36.6h0.6v0.6h-0.6zM27.3 35.1h1.1v1.1h-1.1zM29.2 30.2h1.0v1.0h-1.0zM5.1 42.6h0.6v0.6h-0.6zM24.5 46.8h0.6v0.6h-0.6zM51.1 51.9h1.2v1.2h-1.2zM38.1 54.8h1.0v1.0h-1.0zM1.5 2.2h0.7v0.7h-0.7zM33.9 2.8h0.9v0.9h-0.9zM41.3 51.0h1.1v1.1h-1.1zM12.6 27.8h0.5v0.5h-0.5zM13.5 22.4h0.6v0.6h-0.6zM26.8 50.1h0.7v0.7h-0.7zM13.7 1.7h1.2v1.2h-1.2zM15.5 33.1h0.9v0.9h-0.9zM18.5 9.8h0.9v0.9h-0.9zM2.1 28.8h0.7v0.7h-0.7zM6.8 52.6h0.8v0.8h-0.8zM45.0 6.7h0.9v0.9h-0.9zM3.3 29.5h0.8v0.8h-0.8zM14.5 24.5h0.7v0.7h-0.7zM46.7 29.4h1.1v1.1h-1.1zM15.7 31.2h0.6v0.6h-0.6zM9.8 14.8h0.6v0.6h-0.6zM1.5 38.8h1.0v1.0h-1.0zM4.9 5.5h0.7v0.7h-0.7zM15.5 29.9h0.9v0.9h-0.9zM34.4 15.9h1.0v1.0h-1.0zM13.9 6.1h0.8v0.8h-0.8zM25.5 2.3h1.1v1.1h-1.1zM30.2 31.7h0.6v0.6h-0.6zM3.0 52.6h0.9v0.9h-0.9zM43.8 32.2h1.1v1.1h-1.1zM38.0 15.4h0.5v0.5h-0.5zM12.9 19.2h1.0v1.0h-1.0zM9.0 23.7h0.8v0.8h-0.8zM30.3 27.9h0.8v0.8h-0.8zM8.7 47.8h0.8v0.8h-0.8zM4.2 43.1h0.6v0.6h-0.6zM48.1 34.1h0.8v0.8h-0.8zM26.8 29.3h0.6v0.6h-0.6zM19.0 52.7h1.1v1.1h-1.1z" fill="#9a2200"/><path d="M3.8 51.2h0.6v0.6h-0.6zM43.0 17.7h1.2v1.2h-1.2zM55.5 21.3h1.0v1.0h-1.0zM9.9 28.7h0.6v0.6h-0.6zM55.7 18.8h0.6v0.6h-0.6zM54.8 36.7h0.7v0.7h-0.7zM54.0 21.4h0.8v0.8h-0.8zM19.9 11.2h0.7v0.7h-0.7zM8.6 25.5h0.6v0.6h-0.6zM47.7 39.8h0.9v0.9h-0.9zM18.2 8.0h0.9v0.9h-0.9zM37.8 53.9h0.8v0.8h-0.8zM42.6 31.9h1.1v1.1h-1.1zM15.0 18.6h0.8v0.8h-0.8zM36.7 32.2h0.9v0.9h-0.9zM53.4 2.4h1.2v1.2h-1.2zM30.1 11.7h1.1v1.1h-1.1zM45.2 27.7h0.7v0.7h-0.7zM0.3 12.7h0.6v0.6h-0.6zM26.2 39.0h0.7v0.7h-0.7zM9.0 46.8h0.7v0.7h-0.7zM25.3 45.6h0.6v0.6h-0.6zM3.2 44.0h1.1v1.1h-1.1zM55.2 15.8h0.9v0.9h-0.9zM25.7 46.8h0.9v0.9h-0.9zM24.6 31.5h0.9v0.9h-0.9zM49.1 42.9h0.7v0.7h-0.7zM1.4 6.2h1.0v1.0h-1.0zM51.6 38.1h1.0v1.0h-1.0zM46.5 53.4h1.0v1.0h-1.0zM38.2 39.6h0.9v0.9h-0.9zM29.9 52.7h0.6v0.6h-0.6zM1.6 25.9h0.9v0.9h-0.9zM10.4 22.8h0.5v0.5h-0.5zM0.4 22.2h1.0v1.0h-1.0zM0.8 6.6h1.2v1.2h-1.2zM15.4 24.6h1.0v1.0h-1.0zM31.5 7.2h0.5v0.5h-0.5zM43.8 19.4h0.6v0.6h-0.6z" fill="#6a0c00"/></g><path d="M50.5 -1.0 L47.0 6.0 L43.0 14.0 L38.0 25.0 L34.0 36.0 L31.0 45.0 L29.0 58.5 L58.5 58.5 L58.5 -1.0 Z" fill="#55ec00"/><path d="M50.5 -1.0 C49.9 0.2 48.2 3.5 47.0 6.0 C45.8 8.5 44.5 10.8 43.0 14.0 C41.5 17.2 39.5 21.3 38.0 25.0 C36.5 28.7 35.2 32.7 34.0 36.0 C32.8 39.3 31.8 41.2 31.0 45.0 C30.2 48.8 29.3 56.2 29.0 58.5" stroke="#000" stroke-width="1" fill="none"/></g>
<clipPath id="cp46"><rect x="0" y="0" width="56.6" height="57"/></clipPath><g transform="translate(319.7,680)" clip-path="url(#cp46)"><rect x="0" y="0" width="56.6" height="57" fill="#000"/><path d="M-1.0 12.0 L20.0 18.0 L40.0 30.0 L58.0 40.0 L58.0 52.0 L40.0 44.0 L20.0 32.0 L-1.0 25.0 Z" fill="rgb(22,22,22)" filter="url(#b2)"/><path d="M40.0 -1.0 L58.0 -1.0 L58.0 14.0 L48.0 6.0 Z" fill="rgb(25,25,25)" filter="url(#b2)"/><ellipse cx="26" cy="31" rx="12" ry="7" transform="rotate(25 26 31)" fill="rgb(58,58,58)" filter="url(#b1)"/><ellipse cx="27" cy="31" rx="6" ry="4.3" transform="rotate(25 27 31)" fill="rgb(22,22,22)" filter="url(#b1)"/><ellipse cx="19.5" cy="30.5" rx="1.2" ry="1.2" fill="rgb(180,180,180)" filter="url(#b05)"/><ellipse cx="34" cy="38" rx="2" ry="1.2" fill="rgb(200,200,200)" filter="url(#b05)"/><ellipse cx="37.5" cy="40" rx="1.2" ry="1" fill="rgb(170,170,170)" filter="url(#b05)"/><ellipse cx="49" cy="7.5" rx="1.3" ry="2" fill="rgb(170,170,170)" filter="url(#b05)"/></g>
<clipPath id="cp47"><rect x="0" y="0" width="56.6" height="57"/></clipPath><g transform="translate(319.7,739)" clip-path="url(#cp47)"><rect x="0" y="0" width="56.6" height="57" fill="#000"/><rect x="0" y="0" width="57" height="57" fill="#0a0000"/><path d="M-1.0 12.0 L20.0 18.0 L40.0 30.0 L58.0 40.0 L58.0 52.0 L40.0 44.0 L20.0 32.0 L-1.0 25.0 Z" fill="#300000" filter="url(#b2)"/><path d="M38.0 -1.0 L58.0 -1.0 L58.0 16.0 L46.0 6.0 Z" fill="#5a0a00" filter="url(#b1)"/><ellipse cx="26" cy="31" rx="12" ry="7" transform="rotate(25 26 31)" fill="#7a1800" filter="url(#b1)"/><ellipse cx="27" cy="31" rx="6" ry="4.3" transform="rotate(25 27 31)" fill="#3a0400" filter="url(#b1)"/><ellipse cx="19.5" cy="30.5" rx="1.2" ry="1.2" fill="#ffd060" filter="url(#b05)"/><ellipse cx="34" cy="38" rx="2" ry="1.2" fill="#ffe080" filter="url(#b05)"/><ellipse cx="49" cy="7.5" rx="1.5" ry="2" fill="#ffb030" filter="url(#b05)"/><path d="M3.0 1.0 L34.0 1.0 L45.0 8.0 L58.0 18.0 L58.0 36.0 L48.0 30.0 L35.0 22.0 L22.0 17.0 L10.0 12.0 L5.0 6.0 Z" fill="#55ec00"/><g filter="url(#b04)"><path d="M23.2 14.0h1.3v1.3h-1.3zM34.3 8.2h0.7v0.7h-0.7zM41.9 11.4h1.0v1.0h-1.0zM20.0 2.8h0.8v0.8h-0.8zM24.2 16.7h1.1v1.1h-1.1zM48.9 18.1h0.8v0.8h-0.8zM27.3 16.6h0.9v0.9h-0.9zM14.8 10.7h0.9v0.9h-0.9zM52.3 17.1h1.1v1.1h-1.1zM6.2 3.8h1.2v1.2h-1.2zM14.8 8.2h0.7v0.7h-0.7zM46.0 21.7h1.0v1.0h-1.0zM41.5 10.8h1.0v1.0h-1.0zM55.7 18.5h1.2v1.2h-1.2zM50.7 17.8h0.7v0.7h-0.7zM12.8 6.7h0.7v0.7h-0.7zM34.2 18.7h1.2v1.2h-1.2zM26.0 18.3h0.9v0.9h-0.9zM40.6 18.1h1.3v1.3h-1.3zM11.2 10.1h1.2v1.2h-1.2zM34.4 8.4h1.0v1.0h-1.0zM35.9 13.1h1.2v1.2h-1.2zM14.3 6.8h1.2v1.2h-1.2zM33.2 5.6h0.9v0.9h-0.9zM54.8 33.5h0.9v0.9h-0.9zM38.8 8.6h1.0v1.0h-1.0zM38.8 14.3h1.1v1.1h-1.1zM24.6 5.6h1.1v1.1h-1.1zM52.2 16.4h1.1v1.1h-1.1zM27.5 14.6h0.8v0.8h-0.8zM33.7 2.5h0.7v0.7h-0.7zM32.8 12.9h1.0v1.0h-1.0zM21.8 1.8h1.0v1.0h-1.0zM48.0 25.8h1.2v1.2h-1.2zM14.0 3.0h0.7v0.7h-0.7zM19.8 11.7h0.8v0.8h-0.8zM53.3 22.5h0.9v0.9h-0.9zM26.7 9.3h1.0v1.0h-1.0zM20.5 13.2h0.9v0.9h-0.9zM23.4 14.5h0.8v0.8h-0.8zM53.4 15.9h1.0v1.0h-1.0zM49.5 28.2h1.0v1.0h-1.0zM42.2 15.2h0.8v0.8h-0.8zM32.6 10.8h1.1v1.1h-1.1zM26.2 16.1h1.1v1.1h-1.1zM21.5 4.0h0.9v0.9h-0.9zM48.9 22.1h0.9v0.9h-0.9zM45.9 14.4h0.8v0.8h-0.8zM33.5 6.6h0.7v0.7h-0.7zM45.8 24.4h0.8v0.8h-0.8z" fill="#0a0000"/><path d="M8.5 8.2h0.7v0.7h-0.7zM25.3 13.9h1.0v1.0h-1.0zM32.8 19.2h1.0v1.0h-1.0zM56.8 30.3h0.9v0.9h-0.9zM20.7 4.8h1.3v1.3h-1.3zM47.8 28.0h1.0v1.0h-1.0zM34.5 12.0h0.8v0.8h-0.8zM9.1 6.3h1.2v1.2h-1.2zM11.9 9.9h1.0v1.0h-1.0zM8.4 5.5h1.3v1.3h-1.3zM35.6 6.1h1.3v1.3h-1.3zM34.3 3.2h0.8v0.8h-0.8zM22.5 2.1h0.7v0.7h-0.7zM45.1 23.3h0.8v0.8h-0.8zM53.2 28.4h0.7v0.7h-0.7zM19.0 15.3h0.8v0.8h-0.8zM40.4 24.3h1.2v1.2h-1.2zM8.3 6.2h1.2v1.2h-1.2zM51.7 24.2h1.0v1.0h-1.0zM32.0 6.5h0.8v0.8h-0.8z" fill="#2a0000"/></g><path d="M-1.0 27.0 L-1.0 58.5 L47.5 58.5 Z" fill="#55ec00"/><g filter="url(#b04)"><path d="M8.9 39.4h1.0v1.0h-1.0zM17.2 38.2h1.0v1.0h-1.0zM0.8 31.9h1.1v1.1h-1.1zM2.0 35.5h1.0v1.0h-1.0zM8.1 38.2h0.8v0.8h-0.8zM2.8 33.3h1.0v1.0h-1.0z" fill="#0a0000"/></g></g>
<clipPath id="cp48"><rect x="0" y="0" width="56.7" height="57"/></clipPath><g transform="translate(377.3,560)" clip-path="url(#cp48)"><rect x="0" y="0" width="56.7" height="57" fill="#000"/><path d="M-1.0 -1.0 L50.5 -1.0 L47.0 6.0 L43.0 14.0 L38.0 25.0 L34.0 36.0 L31.0 45.0 L29.0 58.5 L-1.0 58.5 Z" fill="rgb(12,12,12)"/><path d="M30.0 8.0 C31.3 5.8 37.7 4.0 40.0 5.0 C42.3 6.0 44.3 9.8 44.0 14.0 C43.7 18.2 39.8 24.8 38.0 30.0 C36.2 35.2 34.3 40.7 33.0 45.0 C31.7 49.3 32.2 54.2 30.0 56.0 C27.8 57.8 21.7 58.7 20.0 56.0 C18.3 53.3 19.0 44.7 20.0 40.0 C21.0 35.3 24.0 31.7 26.0 28.0 C28.0 24.3 31.3 21.3 32.0 18.0 C32.7 14.7 28.7 10.2 30.0 8.0 Z" fill="rgb(21,21,21)" filter="url(#b1)"/><path d="M-1.0 -1.0 C1.5 -7.8 11.8 -2.8 14.0 -1.0 C16.2 0.8 13.0 5.7 12.0 10.0 C11.0 14.3 9.3 20.8 8.0 25.0 C6.7 29.2 5.5 32.5 4.0 35.0 C2.5 37.5 -0.2 46.0 -1.0 40.0 C-1.8 34.0 -3.5 5.8 -1.0 -1.0 Z" fill="rgb(21,21,21)" filter="url(#b1)"/><path d="M16.0 19.0 C16.8 17.3 21.2 16.0 23.0 17.0 C24.8 18.0 26.7 22.7 27.0 25.0 C27.3 27.3 26.5 30.7 25.0 31.0 C23.5 31.3 19.5 29.0 18.0 27.0 C16.5 25.0 15.2 20.7 16.0 19.0 Z" fill="rgb(49,49,49)" filter="url(#b1)"/><g filter="url(#b04)"><path d="M26.4 32.5h0.9v0.9h-0.9zM31.7 42.2h0.7v0.7h-0.7zM38.5 11.5h0.9v0.9h-0.9zM27.6 13.5h0.5v0.5h-0.5zM32.3 43.4h0.7v0.7h-0.7zM27.4 24.0h0.6v0.6h-0.6zM26.7 51.6h0.6v0.6h-0.6zM28.5 20.2h0.8v0.8h-0.8zM25.1 31.5h0.7v0.7h-0.7zM36.1 9.5h0.5v0.5h-0.5zM23.6 56.4h0.7v0.7h-0.7zM26.9 17.2h0.9v0.9h-0.9zM23.4 9.9h0.7v0.7h-0.7zM18.2 46.2h0.8v0.8h-0.8zM20.8 25.2h0.9v0.9h-0.9zM29.4 55.1h0.5v0.5h-0.5zM27.6 48.1h0.8v0.8h-0.8zM35.1 10.7h0.9v0.9h-0.9zM38.0 28.2h0.6v0.6h-0.6zM31.4 32.9h0.6v0.6h-0.6zM36.2 15.6h0.5v0.5h-0.5zM29.2 34.7h0.5v0.5h-0.5zM22.1 52.7h0.6v0.6h-0.6zM39.0 17.0h0.5v0.5h-0.5zM21.4 16.6h0.9v0.9h-0.9zM33.1 27.9h0.9v0.9h-0.9zM38.6 19.3h0.6v0.6h-0.6zM32.0 42.7h0.8v0.8h-0.8zM22.6 44.0h1.0v1.0h-1.0zM31.3 33.2h0.6v0.6h-0.6zM22.5 51.2h0.6v0.6h-0.6zM17.3 50.6h0.6v0.6h-0.6zM30.0 38.3h0.6v0.6h-0.6zM31.1 49.6h0.8v0.8h-0.8zM29.1 40.4h0.9v0.9h-0.9zM25.3 12.2h0.9v0.9h-0.9zM38.6 13.5h0.6v0.6h-0.6zM16.9 55.2h0.6v0.6h-0.6zM33.7 13.3h0.9v0.9h-0.9zM31.4 53.5h0.8v0.8h-0.8zM27.0 23.4h0.6v0.6h-0.6zM25.2 31.2h0.6v0.6h-0.6zM26.2 46.7h0.6v0.6h-0.6z" fill="#787878"/><path d="M31.1 17.1h0.7v0.7h-0.7zM43.4 4.8h0.8v0.8h-0.8zM36.1 21.9h0.7v0.7h-0.7zM21.0 37.2h0.7v0.7h-0.7zM28.4 54.1h0.9v0.9h-0.9zM27.1 42.0h0.7v0.7h-0.7zM27.0 14.8h0.9v0.9h-0.9zM32.1 39.9h0.5v0.5h-0.5zM26.2 40.2h0.7v0.7h-0.7zM26.2 38.2h0.8v0.8h-0.8zM33.1 24.6h0.6v0.6h-0.6zM33.8 35.7h0.9v0.9h-0.9zM19.7 55.1h0.6v0.6h-0.6zM33.9 23.0h1.0v1.0h-1.0zM35.9 8.1h0.7v0.7h-0.7zM28.6 19.0h0.6v0.6h-0.6zM30.3 27.3h1.0v1.0h-1.0zM27.3 48.5h0.7v0.7h-0.7zM35.1 30.9h0.6v0.6h-0.6zM29.8 32.9h0.7v0.7h-0.7zM25.4 38.0h0.7v0.7h-0.7zM36.4 11.3h0.7v0.7h-0.7zM38.2 14.9h0.6v0.6h-0.6zM33.3 19.7h0.8v0.8h-0.8zM28.7 37.3h0.6v0.6h-0.6zM33.4 27.5h0.6v0.6h-0.6zM32.8 13.2h0.9v0.9h-0.9zM26.3 30.2h1.0v1.0h-1.0zM25.5 54.8h0.7v0.7h-0.7zM37.1 13.5h0.6v0.6h-0.6zM25.3 17.9h1.0v1.0h-1.0zM36.8 29.6h0.7v0.7h-0.7zM27.3 40.9h0.9v0.9h-0.9zM39.2 17.8h1.0v1.0h-1.0zM23.1 10.4h0.9v0.9h-0.9zM43.9 7.3h0.9v0.9h-0.9zM34.0 33.7h0.7v0.7h-0.7zM26.1 11.9h0.8v0.8h-0.8zM23.0 28.8h0.6v0.6h-0.6zM28.7 49.9h0.9v0.9h-0.9zM35.0 37.9h1.0v1.0h-1.0zM32.1 38.2h1.0v1.0h-1.0zM43.2 10.3h0.5v0.5h-0.5z" fill="#303030"/><path d="M29.3 8.3h1.0v1.0h-1.0zM25.4 37.5h0.8v0.8h-0.8zM25.6 55.2h0.7v0.7h-0.7zM37.1 25.4h0.6v0.6h-0.6zM26.9 51.5h1.0v1.0h-1.0zM42.3 12.1h0.6v0.6h-0.6zM33.0 23.8h0.6v0.6h-0.6zM35.0 25.5h0.5v0.5h-0.5zM36.3 15.4h0.9v0.9h-0.9zM23.8 28.2h0.7v0.7h-0.7zM23.3 43.6h0.9v0.9h-0.9zM16.6 53.7h0.7v0.7h-0.7zM31.4 15.2h0.5v0.5h-0.5zM20.3 34.8h0.6v0.6h-0.6zM32.1 16.1h0.5v0.5h-0.5zM19.2 53.6h0.6v0.6h-0.6zM27.3 40.6h0.7v0.7h-0.7zM25.4 41.6h0.9v0.9h-0.9zM28.2 23.5h0.7v0.7h-0.7zM42.9 4.0h0.7v0.7h-0.7zM36.3 33.3h0.7v0.7h-0.7zM33.8 25.2h0.8v0.8h-0.8zM30.0 55.1h0.9v0.9h-0.9zM38.4 10.5h0.6v0.6h-0.6zM33.0 10.2h0.9v0.9h-0.9zM30.8 27.9h0.8v0.8h-0.8zM28.2 17.0h0.7v0.7h-0.7zM21.6 44.4h0.5v0.5h-0.5zM22.5 18.4h0.8v0.8h-0.8zM38.1 10.2h0.6v0.6h-0.6zM32.3 12.5h0.9v0.9h-0.9zM35.1 11.7h0.5v0.5h-0.5zM33.5 29.1h0.7v0.7h-0.7zM30.1 45.2h0.7v0.7h-0.7zM35.0 32.6h1.0v1.0h-1.0zM32.5 30.2h0.7v0.7h-0.7zM40.0 10.7h0.8v0.8h-0.8zM23.5 18.6h0.8v0.8h-0.8zM39.7 13.5h0.8v0.8h-0.8zM29.9 30.1h0.9v0.9h-0.9zM38.8 17.3h0.8v0.8h-0.8zM18.9 42.1h0.7v0.7h-0.7zM23.3 10.4h0.6v0.6h-0.6zM28.6 13.4h1.0v1.0h-1.0zM25.6 39.1h0.7v0.7h-0.7zM32.4 41.8h0.8v0.8h-0.8z" fill="#606060"/><path d="M38.6 25.1h0.8v0.8h-0.8zM24.0 52.7h0.7v0.7h-0.7zM28.4 30.0h0.8v0.8h-0.8zM21.0 50.0h0.7v0.7h-0.7zM21.1 31.7h0.5v0.5h-0.5zM31.6 31.0h0.7v0.7h-0.7zM29.3 46.9h0.9v0.9h-0.9zM22.5 43.5h0.6v0.6h-0.6zM25.0 40.0h1.0v1.0h-1.0zM34.2 30.9h0.8v0.8h-0.8zM28.3 23.7h0.8v0.8h-0.8zM38.8 14.7h0.7v0.7h-0.7zM32.5 7.5h0.5v0.5h-0.5zM16.2 55.8h1.0v1.0h-1.0zM25.9 50.4h0.7v0.7h-0.7zM26.7 32.4h0.9v0.9h-0.9zM27.6 38.1h0.5v0.5h-0.5zM19.2 38.8h1.0v1.0h-1.0zM28.9 41.1h0.7v0.7h-0.7zM22.2 50.3h1.0v1.0h-1.0zM27.5 39.2h0.6v0.6h-0.6zM33.5 15.3h0.5v0.5h-0.5zM22.2 45.8h0.8v0.8h-0.8zM32.1 12.5h0.8v0.8h-0.8zM24.4 54.4h0.9v0.9h-0.9zM24.6 24.9h0.8v0.8h-0.8zM39.6 16.4h0.9v0.9h-0.9zM33.1 25.3h0.6v0.6h-0.6zM26.6 40.9h0.8v0.8h-0.8zM27.9 16.5h0.9v0.9h-0.9zM31.9 25.8h0.9v0.9h-0.9zM18.3 56.0h0.8v0.8h-0.8zM24.1 36.4h0.9v0.9h-0.9zM44.8 6.5h0.5v0.5h-0.5zM22.3 18.2h0.8v0.8h-0.8zM31.0 30.4h0.7v0.7h-0.7zM33.1 7.2h0.9v0.9h-0.9zM28.7 26.1h0.7v0.7h-0.7zM22.9 32.9h0.6v0.6h-0.6zM29.1 34.9h0.7v0.7h-0.7zM36.1 7.1h0.7v0.7h-0.7z" fill="#484848"/><path d="M36.4 21.8h0.6v0.6h-0.6zM36.8 27.3h1.0v1.0h-1.0zM26.5 12.5h1.0v1.0h-1.0zM34.5 7.4h0.6v0.6h-0.6zM37.6 10.5h0.9v0.9h-0.9zM32.4 12.9h0.7v0.7h-0.7zM31.6 29.4h0.9v0.9h-0.9zM25.5 32.4h0.6v0.6h-0.6zM28.9 22.8h0.6v0.6h-0.6zM23.5 37.7h0.6v0.6h-0.6zM28.9 31.9h0.9v0.9h-0.9zM25.8 26.8h1.0v1.0h-1.0zM31.0 17.8h0.9v0.9h-0.9zM20.7 29.6h0.9v0.9h-0.9zM22.4 45.2h0.7v0.7h-0.7zM21.1 24.4h0.6v0.6h-0.6zM23.7 44.2h0.7v0.7h-0.7zM29.5 12.7h0.5v0.5h-0.5zM28.5 40.9h0.8v0.8h-0.8zM21.6 34.6h0.5v0.5h-0.5zM19.1 51.1h0.9v0.9h-0.9zM33.1 30.9h0.6v0.6h-0.6zM21.6 32.7h0.7v0.7h-0.7zM25.9 12.0h0.5v0.5h-0.5zM34.2 27.8h0.6v0.6h-0.6zM27.1 40.7h0.7v0.7h-0.7zM26.2 23.2h0.8v0.8h-0.8z" fill="#909090"/></g><g filter="url(#b04)"><path d="M11.9 18.5h0.6v0.6h-0.6zM3.3 22.9h0.5v0.5h-0.5zM1.0 29.3h0.6v0.6h-0.6zM0.4 2.0h0.7v0.7h-0.7zM2.4 20.1h0.9v0.9h-0.9zM16.9 0.9h0.6v0.6h-0.6zM4.5 19.9h0.8v0.8h-0.8zM0.3 40.0h0.7v0.7h-0.7zM13.4 1.9h1.0v1.0h-1.0zM10.9 5.5h0.9v0.9h-0.9zM6.8 0.2h0.7v0.7h-0.7zM4.0 25.6h1.0v1.0h-1.0zM10.0 24.4h0.6v0.6h-0.6zM1.7 2.6h0.5v0.5h-0.5zM13.6 5.7h0.9v0.9h-0.9zM7.1 11.8h0.8v0.8h-0.8zM0.5 21.3h0.6v0.6h-0.6zM6.3 16.0h0.7v0.7h-0.7zM7.6 27.7h1.0v1.0h-1.0zM0.9 11.9h0.9v0.9h-0.9zM3.1 30.6h1.0v1.0h-1.0zM2.1 31.0h0.5v0.5h-0.5zM2.0 28.5h0.8v0.8h-0.8zM9.7 2.4h0.5v0.5h-0.5zM3.9 33.5h0.6v0.6h-0.6zM8.1 22.6h1.0v1.0h-1.0zM0.3 8.7h0.7v0.7h-0.7z" fill="#606060"/><path d="M4.4 30.0h0.9v0.9h-0.9zM1.3 26.7h0.9v0.9h-0.9zM9.2 18.0h0.6v0.6h-0.6zM4.7 1.6h0.6v0.6h-0.6zM0.6 11.3h0.8v0.8h-0.8zM3.7 25.6h0.8v0.8h-0.8zM2.5 35.6h0.9v0.9h-0.9zM6.4 8.2h0.8v0.8h-0.8zM3.6 6.9h1.0v1.0h-1.0zM7.1 29.7h0.9v0.9h-0.9zM3.2 27.0h0.7v0.7h-0.7zM13.3 0.3h0.9v0.9h-0.9zM3.3 39.3h0.7v0.7h-0.7zM6.7 29.2h0.6v0.6h-0.6zM2.0 0.5h0.7v0.7h-0.7zM9.4 4.9h0.5v0.5h-0.5zM1.3 6.2h0.6v0.6h-0.6zM3.7 0.9h0.9v0.9h-0.9zM1.7 4.1h0.5v0.5h-0.5zM4.1 27.8h0.7v0.7h-0.7zM3.0 23.8h0.9v0.9h-0.9zM4.9 30.5h0.6v0.6h-0.6zM6.2 23.7h0.5v0.5h-0.5zM0.3 24.5h0.7v0.7h-0.7zM5.8 6.6h1.0v1.0h-1.0zM1.7 22.0h0.5v0.5h-0.5zM8.6 10.6h0.6v0.6h-0.6zM5.3 5.5h1.0v1.0h-1.0zM13.3 4.6h0.7v0.7h-0.7zM10.1 6.0h0.8v0.8h-0.8zM7.0 16.5h0.9v0.9h-0.9zM11.7 21.7h0.8v0.8h-0.8z" fill="#484848"/><path d="M3.7 13.7h0.9v0.9h-0.9zM6.6 3.7h0.8v0.8h-0.8zM0.2 30.9h0.7v0.7h-0.7zM0.2 24.5h0.9v0.9h-0.9zM12.9 13.6h0.9v0.9h-0.9zM1.1 39.0h0.6v0.6h-0.6zM12.3 10.6h0.8v0.8h-0.8zM4.0 8.8h0.5v0.5h-0.5zM2.5 18.0h0.8v0.8h-0.8zM7.2 24.4h0.8v0.8h-0.8zM11.3 21.4h0.8v0.8h-0.8zM7.3 19.5h0.5v0.5h-0.5zM2.1 39.5h0.7v0.7h-0.7zM9.6 9.0h0.9v0.9h-0.9zM8.5 16.8h0.7v0.7h-0.7zM1.7 23.7h0.8v0.8h-0.8zM14.1 1.9h0.8v0.8h-0.8zM0.9 9.4h0.6v0.6h-0.6zM12.3 20.6h1.0v1.0h-1.0zM7.3 29.9h0.7v0.7h-0.7zM2.3 33.1h0.6v0.6h-0.6zM3.0 17.1h0.9v0.9h-0.9zM5.0 0.1h0.7v0.7h-0.7zM0.2 34.9h0.7v0.7h-0.7zM12.5 2.5h0.7v0.7h-0.7zM1.5 26.7h0.9v0.9h-0.9zM11.8 13.5h0.5v0.5h-0.5zM3.9 31.2h0.8v0.8h-0.8zM9.7 6.9h1.0v1.0h-1.0zM4.9 30.4h0.7v0.7h-0.7zM4.8 33.8h0.7v0.7h-0.7zM10.5 9.1h0.6v0.6h-0.6zM10.2 11.5h0.7v0.7h-0.7zM13.9 3.6h0.5v0.5h-0.5zM14.8 3.1h0.8v0.8h-0.8zM12.1 14.9h0.5v0.5h-0.5z" fill="#787878"/><path d="M3.2 0.2h0.8v0.8h-0.8zM3.0 31.7h0.7v0.7h-0.7zM5.6 33.3h0.6v0.6h-0.6zM0.5 22.5h0.9v0.9h-0.9zM3.9 28.0h1.0v1.0h-1.0zM12.9 0.1h0.9v0.9h-0.9zM1.5 12.4h0.7v0.7h-0.7zM13.0 6.7h1.0v1.0h-1.0zM4.1 32.6h0.6v0.6h-0.6zM6.9 10.8h0.8v0.8h-0.8zM0.7 26.0h1.0v1.0h-1.0zM1.5 14.8h0.9v0.9h-0.9zM11.2 23.0h1.0v1.0h-1.0zM10.6 13.1h0.8v0.8h-0.8zM2.6 30.4h0.8v0.8h-0.8zM10.3 24.0h0.7v0.7h-0.7zM1.1 18.7h0.6v0.6h-0.6zM4.9 9.3h0.8v0.8h-0.8zM2.7 33.0h1.0v1.0h-1.0z" fill="#909090"/><path d="M4.0 1.4h0.7v0.7h-0.7zM9.8 6.7h0.8v0.8h-0.8zM8.5 22.7h0.7v0.7h-0.7zM2.4 22.2h0.5v0.5h-0.5zM0.7 25.3h0.9v0.9h-0.9zM7.4 21.8h0.9v0.9h-0.9zM10.5 20.4h0.8v0.8h-0.8zM6.6 15.1h0.5v0.5h-0.5zM3.2 20.8h0.5v0.5h-0.5zM8.0 19.5h1.0v1.0h-1.0zM0.2 1.0h0.7v0.7h-0.7zM5.9 20.1h0.7v0.7h-0.7zM6.6 18.8h0.6v0.6h-0.6zM9.6 14.1h1.0v1.0h-1.0zM0.3 2.5h0.8v0.8h-0.8zM15.2 4.9h0.9v0.9h-0.9zM6.1 16.0h0.7v0.7h-0.7zM5.1 24.7h0.6v0.6h-0.6zM1.6 11.0h0.5v0.5h-0.5zM3.7 37.0h0.5v0.5h-0.5zM2.5 39.8h1.0v1.0h-1.0zM0.7 24.3h0.9v0.9h-0.9zM7.9 21.3h0.8v0.8h-0.8zM3.9 17.7h0.8v0.8h-0.8zM1.2 11.9h0.5v0.5h-0.5zM0.2 36.5h0.8v0.8h-0.8zM5.2 9.1h0.6v0.6h-0.6zM2.7 14.8h0.9v0.9h-0.9zM3.5 6.1h0.8v0.8h-0.8zM4.4 8.2h0.6v0.6h-0.6zM3.4 14.4h0.9v0.9h-0.9zM5.8 11.8h0.6v0.6h-0.6zM7.9 1.4h0.6v0.6h-0.6zM3.4 3.5h0.8v0.8h-0.8zM10.8 26.2h0.7v0.7h-0.7zM9.6 15.1h0.6v0.6h-0.6z" fill="#303030"/></g><g filter="url(#b04)"><path d="M19.2 24.4h0.7v0.7h-0.7zM19.8 27.1h0.9v0.9h-0.9zM15.4 29.1h0.9v0.9h-0.9zM25.2 23.0h0.6v0.6h-0.6zM21.4 24.0h0.6v0.6h-0.6zM22.7 30.6h0.6v0.6h-0.6zM25.1 30.4h0.5v0.5h-0.5zM16.2 19.1h0.9v0.9h-0.9zM15.8 26.0h0.9v0.9h-0.9zM21.2 29.5h0.8v0.8h-0.8zM18.4 19.7h0.6v0.6h-0.6zM26.6 30.6h0.7v0.7h-0.7zM22.4 29.4h0.9v0.9h-0.9zM20.8 21.8h0.8v0.8h-0.8zM23.5 30.2h0.8v0.8h-0.8z" fill="#787878"/><path d="M27.3 17.8h0.8v0.8h-0.8zM22.2 23.1h0.9v0.9h-0.9zM17.0 23.8h0.7v0.7h-0.7zM16.0 21.4h0.9v0.9h-0.9zM24.5 27.9h0.9v0.9h-0.9zM19.3 26.3h0.6v0.6h-0.6zM24.7 17.8h0.6v0.6h-0.6zM18.3 29.1h0.6v0.6h-0.6zM17.5 26.5h0.9v0.9h-0.9zM16.7 18.7h0.5v0.5h-0.5zM18.0 30.1h0.7v0.7h-0.7zM23.6 22.7h0.5v0.5h-0.5zM22.7 29.6h0.5v0.5h-0.5zM15.1 31.0h0.8v0.8h-0.8z" fill="#909090"/><path d="M22.0 21.4h0.9v0.9h-0.9zM19.0 24.9h0.7v0.7h-0.7zM16.9 21.0h0.6v0.6h-0.6zM20.5 25.2h0.7v0.7h-0.7zM25.1 23.6h0.9v0.9h-0.9zM27.6 23.5h0.9v0.9h-0.9zM26.3 28.8h1.0v1.0h-1.0zM14.5 26.2h0.7v0.7h-0.7zM22.3 25.5h0.7v0.7h-0.7zM24.8 17.5h0.6v0.6h-0.6zM14.1 16.7h0.6v0.6h-0.6zM20.2 22.4h1.0v1.0h-1.0zM20.2 22.1h0.8v0.8h-0.8zM16.6 25.9h0.9v0.9h-0.9zM22.6 26.7h0.6v0.6h-0.6z" fill="#606060"/><path d="M21.3 17.8h0.8v0.8h-0.8z" fill="#484848"/></g><path d="M50.5 -1.0 C49.9 0.2 48.2 3.5 47.0 6.0 C45.8 8.5 44.5 10.8 43.0 14.0 C41.5 17.2 39.5 21.3 38.0 25.0 C36.5 28.7 35.2 32.7 34.0 36.0 C32.8 39.3 31.8 41.2 31.0 45.0 C30.2 48.8 29.3 56.2 29.0 58.5" stroke="rgb(70,70,70)" stroke-width="0.8" fill="none" filter="url(#b05)"/></g>
<clipPath id="cp49"><rect x="0" y="0" width="56.7" height="57"/></clipPath><g transform="translate(377.3,620)" clip-path="url(#cp49)"><rect x="0" y="0" width="56.7" height="57" fill="#000"/><rect x="0" y="0" width="57" height="57" fill="#bc360a"/><path d="M12.0 4.0 C14.0 1.5 18.3 3.2 20.0 5.0 C21.7 6.8 22.3 11.7 22.0 15.0 C21.7 18.3 19.3 20.8 18.0 25.0 C16.7 29.2 15.0 35.0 14.0 40.0 C13.0 45.0 13.7 52.5 12.0 55.0 C10.3 57.5 5.0 58.3 4.0 55.0 C3.0 51.7 5.3 40.8 6.0 35.0 C6.7 29.2 7.0 25.2 8.0 20.0 C9.0 14.8 10.0 6.5 12.0 4.0 Z" fill="#5a0800" filter="url(#b2)"/><path d="M0.0 45.0 C1.3 42.7 6.3 41.8 8.0 44.0 C9.7 46.2 11.3 55.7 10.0 58.0 C8.7 60.3 1.7 60.2 0.0 58.0 C-1.7 55.8 -1.3 47.3 0.0 45.0 Z" fill="#6a1000" filter="url(#b2)"/><path d="M16.0 20.0 C16.3 17.7 21.7 16.3 24.0 18.0 C26.3 19.7 29.3 26.3 30.0 30.0 C30.7 33.7 29.3 39.7 28.0 40.0 C26.7 40.3 24.0 35.3 22.0 32.0 C20.0 28.7 15.7 22.3 16.0 20.0 Z" fill="#e07020" filter="url(#b2)"/><path d="M30.0 5.0 C31.3 1.7 38.0 3.3 40.0 5.0 C42.0 6.7 42.7 10.5 42.0 15.0 C41.3 19.5 37.7 30.3 36.0 32.0 C34.3 33.7 33.0 29.5 32.0 25.0 C31.0 20.5 28.7 8.3 30.0 5.0 Z" fill="#d05818" filter="url(#b2)"/><g filter="url(#b04)"><path d="M3.7 51.9h1.0v1.0h-1.0zM54.1 20.5h1.2v1.2h-1.2zM32.1 25.0h0.9v0.9h-0.9zM4.0 22.9h0.7v0.7h-0.7zM42.4 15.3h0.7v0.7h-0.7zM13.3 25.2h0.6v0.6h-0.6zM28.9 5.2h0.5v0.5h-0.5zM8.3 28.2h1.1v1.1h-1.1zM44.7 9.0h1.1v1.1h-1.1zM54.7 38.2h0.8v0.8h-0.8zM48.6 49.2h0.9v0.9h-0.9zM40.3 5.7h1.2v1.2h-1.2zM37.4 31.2h1.0v1.0h-1.0zM13.5 31.9h1.1v1.1h-1.1zM37.5 0.7h1.2v1.2h-1.2zM53.0 51.8h1.2v1.2h-1.2zM45.7 4.9h1.1v1.1h-1.1zM36.6 55.3h0.7v0.7h-0.7zM25.7 26.0h0.5v0.5h-0.5zM27.6 30.0h1.1v1.1h-1.1zM26.7 35.6h0.7v0.7h-0.7zM6.0 37.2h0.7v0.7h-0.7zM35.1 56.8h0.9v0.9h-0.9zM52.9 9.4h0.7v0.7h-0.7zM8.3 9.2h1.2v1.2h-1.2zM1.6 48.7h1.0v1.0h-1.0zM54.1 31.0h1.0v1.0h-1.0zM47.6 3.4h0.8v0.8h-0.8zM10.5 47.3h1.1v1.1h-1.1zM32.1 1.0h0.6v0.6h-0.6zM29.6 49.0h1.1v1.1h-1.1zM27.7 55.6h0.6v0.6h-0.6zM32.8 31.3h0.6v0.6h-0.6zM49.8 37.4h0.8v0.8h-0.8zM45.1 53.2h0.6v0.6h-0.6zM16.1 46.9h0.9v0.9h-0.9zM43.0 3.0h1.1v1.1h-1.1zM20.2 14.0h1.2v1.2h-1.2zM20.2 8.6h0.8v0.8h-0.8zM19.8 17.5h0.8v0.8h-0.8zM8.9 33.8h1.1v1.1h-1.1zM31.3 50.3h1.2v1.2h-1.2zM10.2 5.2h0.5v0.5h-0.5zM11.2 48.3h1.0v1.0h-1.0zM49.1 14.7h1.0v1.0h-1.0zM28.5 9.2h1.2v1.2h-1.2zM43.2 25.1h0.7v0.7h-0.7zM4.3 34.6h1.1v1.1h-1.1zM35.9 10.1h0.5v0.5h-0.5zM13.0 16.4h0.6v0.6h-0.6zM53.2 48.3h1.1v1.1h-1.1zM3.7 17.6h1.1v1.1h-1.1zM36.1 10.5h0.7v0.7h-0.7zM41.3 31.7h0.9v0.9h-0.9zM33.1 55.7h0.6v0.6h-0.6zM31.4 36.5h0.6v0.6h-0.6zM23.3 36.1h0.8v0.8h-0.8zM24.9 48.3h1.2v1.2h-1.2zM28.0 25.0h0.7v0.7h-0.7zM4.0 3.3h0.6v0.6h-0.6zM13.3 40.1h0.9v0.9h-0.9zM53.4 28.4h0.5v0.5h-0.5zM9.6 49.4h1.1v1.1h-1.1zM34.5 10.9h0.6v0.6h-0.6zM19.8 29.9h0.6v0.6h-0.6zM4.0 52.9h1.2v1.2h-1.2zM53.3 36.9h0.6v0.6h-0.6zM8.4 0.7h0.6v0.6h-0.6zM37.2 28.8h0.9v0.9h-0.9zM43.1 22.8h0.7v0.7h-0.7zM21.2 11.5h1.1v1.1h-1.1zM34.9 41.5h1.1v1.1h-1.1zM10.2 7.5h1.1v1.1h-1.1zM10.1 3.6h1.0v1.0h-1.0zM12.8 48.6h1.0v1.0h-1.0zM52.7 22.3h1.0v1.0h-1.0zM1.2 23.2h0.9v0.9h-0.9zM23.3 12.0h0.8v0.8h-0.8zM19.0 52.9h0.8v0.8h-0.8zM38.0 15.7h0.8v0.8h-0.8zM30.2 12.6h0.9v0.9h-0.9zM31.3 56.1h1.2v1.2h-1.2zM51.0 51.2h0.8v0.8h-0.8zM45.8 52.7h1.0v1.0h-1.0zM33.8 10.9h0.5v0.5h-0.5zM44.6 9.7h0.5v0.5h-0.5zM5.7 26.6h0.8v0.8h-0.8zM44.6 42.7h1.1v1.1h-1.1zM16.2 49.6h1.2v1.2h-1.2zM30.7 48.3h1.1v1.1h-1.1zM29.1 50.5h0.9v0.9h-0.9zM44.0 1.2h1.0v1.0h-1.0zM40.3 22.8h0.6v0.6h-0.6zM1.6 25.0h0.8v0.8h-0.8zM13.1 29.4h0.6v0.6h-0.6zM1.1 2.0h1.1v1.1h-1.1zM26.1 23.4h0.6v0.6h-0.6zM56.1 22.6h0.7v0.7h-0.7zM19.7 6.9h1.1v1.1h-1.1zM36.5 23.1h0.5v0.5h-0.5zM18.5 40.6h0.5v0.5h-0.5zM47.0 26.4h0.6v0.6h-0.6zM46.1 34.6h0.5v0.5h-0.5z" fill="#f07a20"/><path d="M39.2 32.6h1.0v1.0h-1.0zM21.2 14.0h1.1v1.1h-1.1zM33.1 23.9h0.6v0.6h-0.6zM6.1 21.9h0.9v0.9h-0.9zM44.8 6.2h1.0v1.0h-1.0zM35.4 35.8h0.5v0.5h-0.5zM21.9 29.9h1.1v1.1h-1.1zM4.2 34.3h1.1v1.1h-1.1zM30.7 7.5h0.8v0.8h-0.8zM50.0 42.6h0.5v0.5h-0.5zM24.5 30.2h0.8v0.8h-0.8zM39.1 44.3h0.8v0.8h-0.8zM43.3 26.0h0.7v0.7h-0.7zM41.5 51.2h1.2v1.2h-1.2zM30.7 27.7h1.0v1.0h-1.0zM0.4 29.3h0.5v0.5h-0.5zM23.2 5.2h0.6v0.6h-0.6zM34.8 9.9h1.1v1.1h-1.1zM14.0 45.3h1.0v1.0h-1.0zM53.5 29.2h0.6v0.6h-0.6zM49.4 42.9h1.0v1.0h-1.0zM50.7 33.9h1.1v1.1h-1.1zM2.9 8.4h0.8v0.8h-0.8zM1.3 26.2h0.9v0.9h-0.9zM41.1 39.8h0.7v0.7h-0.7zM52.6 4.5h0.8v0.8h-0.8zM41.6 5.8h0.7v0.7h-0.7zM51.5 48.7h0.7v0.7h-0.7zM26.7 21.7h1.0v1.0h-1.0zM40.3 33.5h1.1v1.1h-1.1zM40.1 24.4h0.7v0.7h-0.7zM6.1 54.7h0.6v0.6h-0.6zM3.5 24.8h0.9v0.9h-0.9zM25.2 0.9h0.5v0.5h-0.5zM11.3 12.2h0.6v0.6h-0.6zM44.3 56.8h1.2v1.2h-1.2zM1.4 24.9h0.9v0.9h-0.9zM8.7 27.2h0.5v0.5h-0.5zM16.4 53.5h0.9v0.9h-0.9zM15.3 56.3h0.5v0.5h-0.5zM0.3 46.1h0.6v0.6h-0.6zM25.8 34.1h0.9v0.9h-0.9zM23.8 26.2h0.7v0.7h-0.7zM23.6 36.9h0.8v0.8h-0.8z" fill="#6a0c00"/><path d="M16.8 28.8h0.6v0.6h-0.6zM21.1 51.1h0.7v0.7h-0.7zM55.5 46.7h0.8v0.8h-0.8zM26.2 26.7h0.5v0.5h-0.5zM18.9 50.1h0.6v0.6h-0.6zM39.8 21.9h0.6v0.6h-0.6zM46.3 50.2h0.8v0.8h-0.8zM49.9 14.8h0.6v0.6h-0.6zM10.7 43.3h0.8v0.8h-0.8zM35.7 12.9h0.8v0.8h-0.8zM10.0 6.0h0.6v0.6h-0.6zM8.9 41.7h0.8v0.8h-0.8zM18.6 2.1h0.8v0.8h-0.8zM29.0 30.6h1.0v1.0h-1.0zM17.7 25.4h0.6v0.6h-0.6zM10.0 55.7h0.7v0.7h-0.7zM42.8 30.3h1.0v1.0h-1.0zM2.5 53.0h1.0v1.0h-1.0zM49.0 3.3h0.6v0.6h-0.6zM28.7 25.8h0.7v0.7h-0.7zM45.2 52.6h0.9v0.9h-0.9zM23.2 27.2h0.7v0.7h-0.7zM3.1 4.3h0.5v0.5h-0.5zM28.1 47.1h1.0v1.0h-1.0zM46.4 28.6h1.0v1.0h-1.0zM7.4 43.9h0.9v0.9h-0.9zM6.5 18.6h0.6v0.6h-0.6zM10.4 9.4h0.8v0.8h-0.8zM4.3 43.6h0.7v0.7h-0.7zM55.8 24.2h0.8v0.8h-0.8zM4.5 31.8h0.6v0.6h-0.6zM45.8 50.5h0.6v0.6h-0.6zM41.4 20.1h0.7v0.7h-0.7zM26.1 37.6h1.1v1.1h-1.1zM5.8 36.5h0.5v0.5h-0.5zM1.7 11.2h0.9v0.9h-0.9zM7.5 18.9h1.0v1.0h-1.0zM37.3 26.1h0.7v0.7h-0.7zM14.1 12.4h0.5v0.5h-0.5zM38.2 25.1h0.7v0.7h-0.7zM11.0 1.2h0.7v0.7h-0.7zM6.1 4.7h0.6v0.6h-0.6zM31.2 40.7h1.0v1.0h-1.0zM31.7 30.1h0.5v0.5h-0.5zM44.4 9.1h0.8v0.8h-0.8zM2.0 47.8h0.8v0.8h-0.8zM15.7 33.1h0.7v0.7h-0.7zM28.0 43.7h0.5v0.5h-0.5zM33.3 9.2h1.1v1.1h-1.1zM6.2 0.2h0.9v0.9h-0.9zM49.7 7.4h1.0v1.0h-1.0zM45.1 46.1h0.9v0.9h-0.9zM57.0 22.7h1.1v1.1h-1.1zM40.3 35.1h0.5v0.5h-0.5zM39.6 31.0h1.2v1.2h-1.2zM45.9 30.6h0.8v0.8h-0.8zM40.8 22.7h1.0v1.0h-1.0zM5.0 35.9h1.0v1.0h-1.0zM13.4 24.1h0.5v0.5h-0.5zM22.9 21.2h0.7v0.7h-0.7zM17.4 43.5h0.5v0.5h-0.5zM34.3 54.8h1.2v1.2h-1.2zM7.9 30.7h1.0v1.0h-1.0zM44.6 30.6h0.9v0.9h-0.9zM23.0 46.9h0.8v0.8h-0.8zM31.2 39.0h0.8v0.8h-0.8zM21.9 24.1h0.8v0.8h-0.8zM38.4 41.6h0.7v0.7h-0.7zM13.9 55.2h0.6v0.6h-0.6zM39.5 0.1h0.8v0.8h-0.8zM50.2 18.1h0.7v0.7h-0.7zM17.5 15.1h0.5v0.5h-0.5zM45.8 54.5h1.2v1.2h-1.2zM8.3 16.7h0.7v0.7h-0.7zM36.3 30.2h1.1v1.1h-1.1zM15.5 2.2h0.9v0.9h-0.9zM35.0 24.5h0.5v0.5h-0.5zM34.9 9.5h1.2v1.2h-1.2zM26.7 6.0h1.0v1.0h-1.0zM33.6 40.9h0.5v0.5h-0.5zM20.5 15.3h0.6v0.6h-0.6zM56.2 27.9h0.8v0.8h-0.8zM23.1 32.9h0.6v0.6h-0.6zM48.8 52.2h0.8v0.8h-0.8zM40.2 51.7h0.7v0.7h-0.7zM38.5 29.5h0.8v0.8h-0.8zM12.1 26.5h0.8v0.8h-0.8zM32.3 32.0h0.9v0.9h-0.9zM33.9 4.2h0.9v0.9h-0.9zM27.8 1.8h0.7v0.7h-0.7zM15.7 49.9h0.6v0.6h-0.6zM42.2 38.0h1.1v1.1h-1.1zM46.3 19.0h1.2v1.2h-1.2zM51.2 1.2h1.0v1.0h-1.0zM22.5 56.3h0.9v0.9h-0.9zM2.2 33.1h1.1v1.1h-1.1zM40.2 9.0h1.1v1.1h-1.1zM18.7 7.0h1.1v1.1h-1.1zM6.6 35.7h0.7v0.7h-0.7zM39.3 32.3h0.7v0.7h-0.7zM22.2 33.2h1.0v1.0h-1.0zM44.3 15.8h1.1v1.1h-1.1zM9.8 9.8h0.6v0.6h-0.6zM44.5 1.1h1.1v1.1h-1.1zM23.6 38.2h1.2v1.2h-1.2zM41.1 27.3h0.6v0.6h-0.6zM56.7 56.7h0.9v0.9h-0.9zM30.2 32.1h0.6v0.6h-0.6zM28.9 24.4h1.0v1.0h-1.0zM45.9 43.5h1.1v1.1h-1.1zM49.5 28.6h1.0v1.0h-1.0zM35.8 18.6h0.6v0.6h-0.6zM37.6 44.1h0.8v0.8h-0.8zM53.6 32.6h0.8v0.8h-0.8zM35.6 40.2h0.7v0.7h-0.7zM16.0 26.6h0.9v0.9h-0.9zM47.2 44.5h0.8v0.8h-0.8zM54.6 49.8h0.7v0.7h-0.7zM48.5 32.0h0.9v0.9h-0.9zM46.8 44.6h0.8v0.8h-0.8zM1.1 53.2h0.6v0.6h-0.6zM19.9 56.7h0.6v0.6h-0.6zM41.9 7.0h0.5v0.5h-0.5z" fill="#e05a12"/><path d="M27.0 11.6h1.0v1.0h-1.0zM21.8 12.7h0.8v0.8h-0.8zM17.2 28.8h0.5v0.5h-0.5zM38.5 16.2h0.8v0.8h-0.8zM11.7 21.1h0.7v0.7h-0.7zM4.7 7.9h0.5v0.5h-0.5zM36.6 18.0h0.6v0.6h-0.6zM0.4 4.0h0.7v0.7h-0.7zM26.2 46.9h0.5v0.5h-0.5zM26.5 39.2h0.9v0.9h-0.9zM53.6 42.4h0.6v0.6h-0.6zM17.0 6.3h1.2v1.2h-1.2zM21.0 17.8h0.5v0.5h-0.5zM9.2 3.7h0.9v0.9h-0.9zM17.7 50.2h0.9v0.9h-0.9zM47.2 27.2h0.5v0.5h-0.5zM36.8 43.4h0.5v0.5h-0.5zM33.5 20.7h0.7v0.7h-0.7zM23.2 27.6h0.9v0.9h-0.9zM8.6 28.0h0.9v0.9h-0.9zM36.3 28.6h1.0v1.0h-1.0zM41.6 19.6h0.9v0.9h-0.9zM2.2 21.5h1.2v1.2h-1.2zM45.3 51.4h0.6v0.6h-0.6zM37.5 41.9h1.0v1.0h-1.0zM48.1 36.8h0.6v0.6h-0.6zM55.0 11.5h0.9v0.9h-0.9zM9.7 51.6h0.9v0.9h-0.9zM53.2 16.4h1.1v1.1h-1.1zM43.3 34.8h0.8v0.8h-0.8zM49.7 3.7h1.1v1.1h-1.1zM45.8 51.6h0.6v0.6h-0.6zM1.2 39.7h1.2v1.2h-1.2zM43.0 43.1h0.5v0.5h-0.5zM23.4 42.4h0.5v0.5h-0.5zM2.2 56.2h1.0v1.0h-1.0zM53.1 0.8h0.7v0.7h-0.7zM4.2 50.2h0.7v0.7h-0.7zM16.0 49.3h1.2v1.2h-1.2zM25.7 21.3h1.1v1.1h-1.1zM3.8 4.3h1.1v1.1h-1.1zM6.3 37.6h1.0v1.0h-1.0zM8.9 24.4h1.2v1.2h-1.2zM26.1 5.6h0.6v0.6h-0.6zM34.6 4.4h0.8v0.8h-0.8zM41.9 12.1h0.8v0.8h-0.8zM52.9 47.4h0.9v0.9h-0.9zM39.6 39.1h0.9v0.9h-0.9zM21.2 25.5h0.9v0.9h-0.9zM8.7 46.6h1.2v1.2h-1.2zM31.4 11.3h1.0v1.0h-1.0zM37.2 3.3h0.6v0.6h-0.6zM44.9 20.7h0.8v0.8h-0.8zM7.5 17.0h0.7v0.7h-0.7zM43.9 42.9h1.0v1.0h-1.0zM49.3 14.6h1.1v1.1h-1.1zM21.2 4.3h1.1v1.1h-1.1zM23.6 34.6h1.1v1.1h-1.1zM38.8 21.1h0.6v0.6h-0.6zM6.1 20.4h0.7v0.7h-0.7zM7.3 12.8h0.6v0.6h-0.6zM3.6 54.8h0.5v0.5h-0.5zM2.8 46.9h1.0v1.0h-1.0zM11.8 8.0h0.6v0.6h-0.6zM54.0 29.7h1.1v1.1h-1.1zM36.2 56.4h0.6v0.6h-0.6zM55.5 17.2h1.0v1.0h-1.0zM15.3 40.7h0.9v0.9h-0.9zM5.0 51.2h0.8v0.8h-0.8zM54.2 8.8h1.1v1.1h-1.1zM17.2 31.7h1.1v1.1h-1.1zM40.3 46.2h1.1v1.1h-1.1zM42.3 44.3h1.0v1.0h-1.0zM18.8 47.7h0.9v0.9h-0.9zM3.4 36.6h0.7v0.7h-0.7zM18.5 8.1h1.1v1.1h-1.1zM47.2 56.5h0.7v0.7h-0.7zM41.2 12.4h0.7v0.7h-0.7zM33.2 14.2h0.7v0.7h-0.7zM14.1 20.4h1.0v1.0h-1.0zM1.4 30.6h0.9v0.9h-0.9zM12.3 12.5h0.7v0.7h-0.7zM44.0 37.1h1.0v1.0h-1.0zM55.6 19.0h0.8v0.8h-0.8zM8.4 23.9h0.6v0.6h-0.6zM52.3 30.4h0.7v0.7h-0.7zM44.4 40.1h0.7v0.7h-0.7zM22.7 5.1h0.6v0.6h-0.6zM53.8 34.3h0.7v0.7h-0.7zM4.3 38.2h1.0v1.0h-1.0zM39.3 21.3h0.8v0.8h-0.8zM11.4 53.6h1.2v1.2h-1.2zM26.6 34.2h0.5v0.5h-0.5zM56.6 18.3h1.0v1.0h-1.0zM45.6 32.6h0.7v0.7h-0.7zM45.7 22.3h0.7v0.7h-0.7zM0.4 45.6h0.7v0.7h-0.7zM37.0 50.8h1.0v1.0h-1.0zM5.9 16.2h0.9v0.9h-0.9zM1.6 52.4h0.6v0.6h-0.6zM49.9 26.4h1.1v1.1h-1.1zM19.9 24.9h0.8v0.8h-0.8z" fill="#9a2200"/><path d="M49.0 4.7h1.2v1.2h-1.2zM25.5 48.8h0.7v0.7h-0.7zM31.6 3.6h0.7v0.7h-0.7zM36.9 18.8h1.1v1.1h-1.1zM31.8 55.7h0.8v0.8h-0.8zM12.6 1.4h0.7v0.7h-0.7zM40.6 17.5h0.9v0.9h-0.9zM28.2 32.1h1.2v1.2h-1.2zM31.7 49.3h1.2v1.2h-1.2zM34.3 16.2h0.9v0.9h-0.9zM2.8 55.1h0.7v0.7h-0.7zM4.0 27.4h0.9v0.9h-0.9zM20.6 55.6h1.1v1.1h-1.1zM0.3 44.1h1.2v1.2h-1.2zM47.6 27.0h0.6v0.6h-0.6zM2.6 33.4h1.2v1.2h-1.2zM21.9 26.1h0.6v0.6h-0.6zM11.5 25.8h1.2v1.2h-1.2zM49.3 37.9h1.2v1.2h-1.2zM2.3 49.9h0.7v0.7h-0.7zM28.9 37.7h0.8v0.8h-0.8zM28.9 45.6h0.7v0.7h-0.7zM36.6 41.7h0.8v0.8h-0.8zM12.2 48.7h0.8v0.8h-0.8zM15.8 53.4h0.6v0.6h-0.6zM17.6 10.2h0.8v0.8h-0.8zM18.7 48.6h0.7v0.7h-0.7zM2.6 13.0h0.6v0.6h-0.6zM55.0 40.8h1.0v1.0h-1.0zM33.7 12.3h0.7v0.7h-0.7zM35.4 44.8h0.8v0.8h-0.8zM27.6 1.9h1.1v1.1h-1.1zM26.2 10.3h0.8v0.8h-0.8zM53.4 7.7h0.6v0.6h-0.6zM48.1 50.9h0.7v0.7h-0.7zM32.3 34.0h1.0v1.0h-1.0zM10.4 42.3h0.7v0.7h-0.7zM51.8 50.4h0.7v0.7h-0.7zM15.6 23.1h0.9v0.9h-0.9zM52.6 20.8h1.2v1.2h-1.2zM34.4 20.1h1.0v1.0h-1.0zM7.9 41.9h1.0v1.0h-1.0zM0.3 27.9h0.8v0.8h-0.8zM22.9 24.1h1.1v1.1h-1.1zM31.9 56.0h0.9v0.9h-0.9zM1.9 48.1h1.0v1.0h-1.0zM11.3 34.2h0.8v0.8h-0.8zM43.0 57.0h0.9v0.9h-0.9z" fill="#ffb040"/></g><path d="M50.5 -1.0 L47.0 6.0 L43.0 14.0 L38.0 25.0 L34.0 36.0 L31.0 45.0 L29.0 58.5 L58.5 58.5 L58.5 -1.0 Z" fill="#55ec00"/><path d="M50.5 -1.0 C49.9 0.2 48.2 3.5 47.0 6.0 C45.8 8.5 44.5 10.8 43.0 14.0 C41.5 17.2 39.5 21.3 38.0 25.0 C36.5 28.7 35.2 32.7 34.0 36.0 C32.8 39.3 31.8 41.2 31.0 45.0 C30.2 48.8 29.3 56.2 29.0 58.5" stroke="#000" stroke-width="1" fill="none"/></g>
<clipPath id="cp50"><rect x="0" y="0" width="56.7" height="57"/></clipPath><g transform="translate(377.3,680)" clip-path="url(#cp50)"><rect x="0" y="0" width="56.7" height="57" fill="#000"/><path d="M-1.0 12.0 L20.0 18.0 L40.0 30.0 L58.0 40.0 L58.0 52.0 L40.0 44.0 L20.0 32.0 L-1.0 25.0 Z" fill="rgb(22,22,22)" filter="url(#b2)"/><path d="M40.0 -1.0 L58.0 -1.0 L58.0 14.0 L48.0 6.0 Z" fill="rgb(25,25,25)" filter="url(#b2)"/><ellipse cx="26" cy="31" rx="12" ry="7" transform="rotate(25 26 31)" fill="rgb(58,58,58)" filter="url(#b1)"/><ellipse cx="27" cy="31" rx="6" ry="4.3" transform="rotate(25 27 31)" fill="rgb(22,22,22)" filter="url(#b1)"/><ellipse cx="19.5" cy="30.5" rx="1.2" ry="1.2" fill="rgb(180,180,180)" filter="url(#b05)"/><ellipse cx="34" cy="38" rx="2" ry="1.2" fill="rgb(200,200,200)" filter="url(#b05)"/><ellipse cx="37.5" cy="40" rx="1.2" ry="1" fill="rgb(170,170,170)" filter="url(#b05)"/><ellipse cx="49" cy="7.5" rx="1.3" ry="2" fill="rgb(170,170,170)" filter="url(#b05)"/></g>
<clipPath id="cp51"><rect x="0" y="0" width="56.7" height="57"/></clipPath><g transform="translate(377.3,739)" clip-path="url(#cp51)"><rect x="0" y="0" width="56.7" height="57" fill="#000"/><rect x="0" y="0" width="57" height="57" fill="#0a0000"/><path d="M-1.0 12.0 L20.0 18.0 L40.0 30.0 L58.0 40.0 L58.0 52.0 L40.0 44.0 L20.0 32.0 L-1.0 25.0 Z" fill="#300000" filter="url(#b2)"/><path d="M38.0 -1.0 L58.0 -1.0 L58.0 16.0 L46.0 6.0 Z" fill="#5a0a00" filter="url(#b1)"/><ellipse cx="26" cy="31" rx="12" ry="7" transform="rotate(25 26 31)" fill="#7a1800" filter="url(#b1)"/><ellipse cx="27" cy="31" rx="6" ry="4.3" transform="rotate(25 27 31)" fill="#3a0400" filter="url(#b1)"/><ellipse cx="19.5" cy="30.5" rx="1.2" ry="1.2" fill="#ffd060" filter="url(#b05)"/><ellipse cx="34" cy="38" rx="2" ry="1.2" fill="#ffe080" filter="url(#b05)"/><ellipse cx="49" cy="7.5" rx="1.5" ry="2" fill="#ffb030" filter="url(#b05)"/><path d="M3.0 1.0 L34.0 1.0 L45.0 8.0 L58.0 18.0 L58.0 36.0 L48.0 30.0 L35.0 22.0 L22.0 17.0 L10.0 12.0 L5.0 6.0 Z" fill="#55ec00"/><g filter="url(#b04)"><path d="M44.2 21.2h1.2v1.2h-1.2zM7.9 4.0h1.1v1.1h-1.1zM48.1 11.3h0.9v0.9h-0.9zM30.6 1.7h0.9v0.9h-0.9zM24.7 9.7h0.8v0.8h-0.8zM31.0 8.1h0.8v0.8h-0.8zM46.6 11.8h0.7v0.7h-0.7zM47.0 22.1h1.1v1.1h-1.1zM38.8 17.4h1.1v1.1h-1.1zM46.2 18.7h1.2v1.2h-1.2zM7.7 3.6h1.3v1.3h-1.3zM37.9 23.5h0.7v0.7h-0.7zM38.3 8.1h0.8v0.8h-0.8zM25.8 15.4h0.8v0.8h-0.8zM20.8 6.8h1.1v1.1h-1.1zM10.2 5.7h1.2v1.2h-1.2zM38.7 21.3h1.2v1.2h-1.2zM26.2 7.5h0.8v0.8h-0.8zM30.3 16.5h0.7v0.7h-0.7z" fill="#2a0000"/><path d="M34.3 20.6h1.1v1.1h-1.1zM52.1 16.4h0.9v0.9h-0.9zM26.3 12.9h0.9v0.9h-0.9zM46.2 12.9h0.8v0.8h-0.8zM53.4 21.1h1.0v1.0h-1.0zM40.7 14.2h1.0v1.0h-1.0zM45.4 22.1h1.0v1.0h-1.0zM21.2 9.3h0.7v0.7h-0.7zM55.6 31.9h0.9v0.9h-0.9zM22.2 10.7h1.2v1.2h-1.2zM10.2 7.2h0.9v0.9h-0.9zM40.9 20.4h0.9v0.9h-0.9zM45.0 16.8h0.9v0.9h-0.9zM49.4 12.9h0.8v0.8h-0.8zM55.8 19.9h1.1v1.1h-1.1zM35.0 2.0h0.8v0.8h-0.8zM20.5 15.6h0.8v0.8h-0.8zM23.2 6.9h1.1v1.1h-1.1zM42.2 7.9h1.0v1.0h-1.0zM48.1 19.1h1.3v1.3h-1.3zM35.1 2.4h1.1v1.1h-1.1zM47.5 17.9h1.0v1.0h-1.0zM56.1 20.1h0.8v0.8h-0.8zM19.6 9.5h0.8v0.8h-0.8zM7.7 3.2h1.0v1.0h-1.0zM18.6 1.1h0.9v0.9h-0.9zM30.9 7.0h1.3v1.3h-1.3zM31.2 13.3h1.2v1.2h-1.2zM32.9 15.4h0.9v0.9h-0.9zM50.1 26.8h1.2v1.2h-1.2zM34.4 19.1h1.0v1.0h-1.0zM15.5 13.3h1.1v1.1h-1.1zM53.4 15.3h1.0v1.0h-1.0zM31.8 18.2h1.0v1.0h-1.0zM55.0 21.9h1.1v1.1h-1.1zM38.6 9.5h0.8v0.8h-0.8zM27.8 2.1h0.9v0.9h-0.9zM36.3 17.5h1.0v1.0h-1.0zM38.5 11.7h0.9v0.9h-0.9zM44.0 9.6h1.1v1.1h-1.1zM15.3 5.6h1.1v1.1h-1.1zM23.5 3.5h0.7v0.7h-0.7zM24.4 3.2h1.2v1.2h-1.2zM15.5 5.9h0.9v0.9h-0.9zM49.6 12.3h1.0v1.0h-1.0zM19.5 1.8h1.1v1.1h-1.1zM32.5 6.3h0.9v0.9h-0.9zM23.9 17.6h1.1v1.1h-1.1zM11.2 4.5h0.8v0.8h-0.8zM26.1 3.9h0.8v0.8h-0.8zM37.9 15.7h0.9v0.9h-0.9z" fill="#0a0000"/></g><path d="M-1.0 27.0 L-1.0 58.5 L47.5 58.5 Z" fill="#55ec00"/><g filter="url(#b04)"><path d="M2.9 36.9h1.1v1.1h-1.1zM16.2 39.2h0.9v0.9h-0.9zM1.7 38.5h0.7v0.7h-0.7zM3.4 37.0h0.9v0.9h-0.9zM9.7 37.3h0.9v0.9h-0.9zM14.4 39.8h1.1v1.1h-1.1z" fill="#0a0000"/></g></g>
<text x="4.3" y="312.3" font-size="16" font-weight="bold" text-anchor="start" fill="#000">C</text>
<text x="6.5" y="562.2" font-size="16" font-weight="bold" text-anchor="start" fill="#000">E</text>
<text x="176.7" y="312.3" font-size="11.9" font-weight="bold" text-anchor="middle" fill="#000">Pre-bleach</text>
<text x="234" y="312.3" font-size="11.9" font-weight="bold" text-anchor="middle" fill="#000">bleach</text>
<text x="289.4" y="312.3" font-size="11.9" font-weight="bold" text-anchor="middle" fill="#000">10 s</text>
<text x="347.9" y="312.3" font-size="11.9" font-weight="bold" text-anchor="middle" fill="#000">30 s</text>
<text x="405.6" y="312.3" font-size="11.9" font-weight="bold" text-anchor="middle" fill="#000">60 s</text>
<text x="10.5" y="378" font-size="11.6" font-weight="bold" text-anchor="middle" fill="#000" transform="rotate(-90 10.5 378)">Control</text>
<text x="24.8" y="378" font-size="11.6" font-weight="bold" text-anchor="middle" fill="#000" transform="rotate(-90 24.8 378)">αS - Day7</text>
<text x="10.5" y="493" font-size="11.6" font-weight="bold" text-anchor="middle" fill="#000" transform="rotate(-90 10.5 493)">SPM</text>
<text x="24.8" y="493" font-size="11.6" font-weight="bold" text-anchor="middle" fill="#000" transform="rotate(-90 24.8 493)">αS - Day7</text>
<text x="10.5" y="616" font-size="11.6" font-weight="bold" text-anchor="middle" fill="#000" transform="rotate(-90 10.5 616)">Control</text>
<text x="24.8" y="616" font-size="11.6" font-weight="bold" text-anchor="middle" fill="#000" transform="rotate(-90 24.8 616)">αS - Day15</text>
<text x="10.5" y="743.5" font-size="11.6" font-weight="bold" text-anchor="middle" fill="#000" transform="rotate(-90 10.5 743.5)">SPM</text>
<text x="24.8" y="743.5" font-size="11.6" font-weight="bold" text-anchor="middle" fill="#000" transform="rotate(-90 24.8 743.5)">αS - Day15</text>
<text x="421.5" y="16.4" font-size="15.5" font-weight="bold" text-anchor="start" fill="#000">B</text>
<line x1="449" y1="75.10000000000002" x2="449" y2="247" stroke="#000" stroke-width="2"/>
<line x1="442" y1="246" x2="620" y2="246" stroke="#000" stroke-width="2"/>
<line x1="442" y1="246.0" x2="449" y2="246.0" stroke="#000" stroke-width="2"/>
<text x="439.5" y="250.6" font-size="12.5" font-weight="bold" text-anchor="end" fill="#000">0</text>
<line x1="442" y1="203.4" x2="449" y2="203.4" stroke="#000" stroke-width="2"/>
<text x="439.5" y="208.0" font-size="12.5" font-weight="bold" text-anchor="end" fill="#000">20</text>
<line x1="442" y1="160.8" x2="449" y2="160.8" stroke="#000" stroke-width="2"/>
<text x="439.5" y="165.4" font-size="12.5" font-weight="bold" text-anchor="end" fill="#000">40</text>
<line x1="442" y1="118.2" x2="449" y2="118.2" stroke="#000" stroke-width="2"/>
<text x="439.5" y="122.8" font-size="12.5" font-weight="bold" text-anchor="end" fill="#000">60</text>
<line x1="442" y1="75.60000000000002" x2="449" y2="75.60000000000002" stroke="#000" stroke-width="2"/>
<text x="439.5" y="80.20000000000002" font-size="12.5" font-weight="bold" text-anchor="end" fill="#000">80</text>
<line x1="474.7" y1="246" x2="474.7" y2="252.5" stroke="#000" stroke-width="2"/>
<text x="474.7" y="267" font-size="12.5" font-weight="bold" text-anchor="middle" fill="#000">7</text>
<line x1="533.9" y1="246" x2="533.9" y2="252.5" stroke="#000" stroke-width="2"/>
<text x="533.9" y="267" font-size="12.5" font-weight="bold" text-anchor="middle" fill="#000">13</text>
<line x1="592.8" y1="246" x2="592.8" y2="252.5" stroke="#000" stroke-width="2"/>
<text x="592.8" y="267" font-size="12.5" font-weight="bold" text-anchor="middle" fill="#000">15</text>
<text x="535" y="287" font-size="14" font-weight="bold" text-anchor="middle" fill="#000">Time (day)</text>
<text x="418.8" y="157.3" font-size="14.2" font-weight="bold" text-anchor="middle" fill="#000" transform="rotate(-90 418.8 157.3)">Number of inclusions / animal</text>
<circle cx="455" cy="64.7" r="2.6" fill="#f21d1d"/>
<text x="475" y="69.2" font-size="11.9" font-weight="bold" text-anchor="start" fill="#000">Control</text>
<rect x="452.8" y="85" width="5" height="5" fill="#000"/>
<text x="475" y="92.2" font-size="11.9" font-weight="bold" text-anchor="start" fill="#000">SPM</text>
<rect x="457" y="215.967" width="13" height="30.032999999999987" fill="#f3bcc2" stroke="#f23030" stroke-width="2"/>
<line x1="463.5" y1="223.422" x2="463.5" y2="208.512" stroke="#f23030" stroke-width="1"/>
<line x1="460.5" y1="208.512" x2="466.5" y2="208.512" stroke="#f23030" stroke-width="1"/>
<rect x="480" y="222.357" width="12" height="23.643" fill="#e9e9e9" stroke="#000" stroke-width="2"/>
<line x1="486.0" y1="233.007" x2="486.0" y2="211.707" stroke="#000" stroke-width="1"/>
<line x1="483.0" y1="211.707" x2="489.0" y2="211.707" stroke="#000" stroke-width="1"/>
<rect x="516.4" y="180.39600000000002" width="12.399999999999977" height="65.60399999999998" fill="#f3bcc2" stroke="#f23030" stroke-width="2"/>
<line x1="522.5999999999999" y1="195.306" x2="522.5999999999999" y2="165.486" stroke="#f23030" stroke-width="1"/>
<line x1="519.5999999999999" y1="165.486" x2="525.5999999999999" y2="165.486" stroke="#f23030" stroke-width="1"/>
<rect x="539" y="198.714" width="12" height="47.286" fill="#e9e9e9" stroke="#000" stroke-width="2"/>
<line x1="545.0" y1="209.364" x2="545.0" y2="188.06400000000002" stroke="#000" stroke-width="1"/>
<line x1="542.0" y1="188.06400000000002" x2="548.0" y2="188.06400000000002" stroke="#000" stroke-width="1"/>
<rect x="576" y="152.70600000000002" width="12" height="93.29399999999998" fill="#f3bcc2" stroke="#f23030" stroke-width="2"/>
<line x1="582.0" y1="181.461" x2="582.0" y2="123.95100000000001" stroke="#f23030" stroke-width="1"/>
<line x1="579.0" y1="123.95100000000001" x2="585.0" y2="123.95100000000001" stroke="#f23030" stroke-width="1"/>
<rect x="598.6" y="176.13600000000002" width="11.799999999999955" height="69.86399999999998" fill="#e9e9e9" stroke="#000" stroke-width="2"/>
<line x1="604.5" y1="195.306" x2="604.5" y2="156.966" stroke="#000" stroke-width="1"/>
<line x1="601.5" y1="156.966" x2="607.5" y2="156.966" stroke="#000" stroke-width="1"/>
<circle cx="463.5" cy="197.2" r="2.6" fill="#f21d1d"/>
<circle cx="462.0" cy="207.4" r="2.6" fill="#f21d1d"/>
<circle cx="465.4" cy="207.4" r="2.6" fill="#f21d1d"/>
<circle cx="460.5" cy="211.9" r="2.6" fill="#f21d1d"/>
<circle cx="463.5" cy="211.9" r="2.6" fill="#f21d1d"/>
<circle cx="466.9" cy="211.9" r="2.6" fill="#f21d1d"/>
<circle cx="458.2" cy="217.0" r="2.6" fill="#f21d1d"/>
<circle cx="469.5" cy="216.6" r="2.6" fill="#f21d1d"/>
<circle cx="461.5" cy="221.7" r="2.6" fill="#f21d1d"/>
<circle cx="465.5" cy="220.4" r="2.6" fill="#f21d1d"/>
<circle cx="463.5" cy="224.7" r="2.6" fill="#f21d1d"/>
<circle cx="467.5" cy="226.8" r="2.6" fill="#f21d1d"/>
<circle cx="459.5" cy="228.3" r="2.6" fill="#f21d1d"/>
<circle cx="464.5" cy="230.0" r="2.6" fill="#f21d1d"/>
<circle cx="462.5" cy="216.2" r="2.6" fill="#f21d1d"/>
<circle cx="465.5" cy="215.1" r="2.6" fill="#f21d1d"/>
<rect x="479.2" y="201.1" width="4.6" height="4.6" fill="#000"/>
<rect x="489.0" y="205.6" width="4.6" height="4.6" fill="#000"/>
<rect x="478.8" y="209.4" width="4.6" height="4.6" fill="#000"/>
<rect x="482.2" y="209.4" width="4.6" height="4.6" fill="#000"/>
<rect x="486.7" y="209.4" width="4.6" height="4.6" fill="#000"/>
<rect x="484.2" y="212.6" width="4.6" height="4.6" fill="#000"/>
<rect x="478.8" y="216.9" width="4.6" height="4.6" fill="#000"/>
<rect x="485.2" y="216.9" width="4.6" height="4.6" fill="#000"/>
<rect x="483.7" y="220.3" width="4.6" height="4.6" fill="#000"/>
<rect x="478.8" y="223.3" width="4.6" height="4.6" fill="#000"/>
<rect x="486.7" y="223.3" width="4.6" height="4.6" fill="#000"/>
<rect x="478.8" y="228.4" width="4.6" height="4.6" fill="#000"/>
<rect x="489.0" y="228.4" width="4.6" height="4.6" fill="#000"/>
<rect x="478.8" y="233.7" width="4.6" height="4.6" fill="#000"/>
<rect x="486.7" y="233.7" width="4.6" height="4.6" fill="#000"/>
<rect x="483.7" y="240.3" width="4.6" height="4.6" fill="#000"/>
<circle cx="522.6" cy="138.0" r="2.6" fill="#f21d1d"/>
<circle cx="522.6" cy="156.8" r="2.6" fill="#f21d1d"/>
<circle cx="522.6" cy="165.1" r="2.6" fill="#f21d1d"/>
<circle cx="522.6" cy="171.7" r="2.6" fill="#f21d1d"/>
<circle cx="522.6" cy="180.0" r="2.6" fill="#f21d1d"/>
<circle cx="519.6" cy="183.2" r="2.6" fill="#f21d1d"/>
<circle cx="525.6" cy="184.2" r="2.6" fill="#f21d1d"/>
<circle cx="518.6" cy="188.5" r="2.6" fill="#f21d1d"/>
<circle cx="524.6" cy="187.4" r="2.6" fill="#f21d1d"/>
<circle cx="521.6" cy="190.6" r="2.6" fill="#f21d1d"/>
<circle cx="526.6" cy="192.8" r="2.6" fill="#f21d1d"/>
<circle cx="518.6" cy="194.9" r="2.6" fill="#f21d1d"/>
<circle cx="522.6" cy="195.9" r="2.6" fill="#f21d1d"/>
<circle cx="526.6" cy="198.1" r="2.6" fill="#f21d1d"/>
<circle cx="519.6" cy="198.3" r="2.6" fill="#f21d1d"/>
<rect x="542.7" y="162.8" width="4.6" height="4.6" fill="#000"/>
<rect x="542.7" y="169.1" width="4.6" height="4.6" fill="#000"/>
<rect x="542.7" y="177.7" width="4.6" height="4.6" fill="#000"/>
<rect x="540.2" y="188.3" width="4.6" height="4.6" fill="#000"/>
<rect x="545.2" y="192.6" width="4.6" height="4.6" fill="#000"/>
<rect x="540.7" y="192.6" width="4.6" height="4.6" fill="#000"/>
<rect x="538.7" y="196.8" width="4.6" height="4.6" fill="#000"/>
<rect x="542.7" y="197.9" width="4.6" height="4.6" fill="#000"/>
<rect x="546.7" y="199.0" width="4.6" height="4.6" fill="#000"/>
<rect x="538.7" y="202.2" width="4.6" height="4.6" fill="#000"/>
<rect x="542.7" y="203.2" width="4.6" height="4.6" fill="#000"/>
<rect x="546.7" y="204.3" width="4.6" height="4.6" fill="#000"/>
<rect x="539.7" y="207.5" width="4.6" height="4.6" fill="#000"/>
<rect x="544.7" y="207.5" width="4.6" height="4.6" fill="#000"/>
<rect x="542.7" y="216.0" width="4.6" height="4.6" fill="#000"/>
<circle cx="579.5" cy="109.7" r="2.6" fill="#f21d1d"/>
<circle cx="584.5" cy="107.6" r="2.6" fill="#f21d1d"/>
<circle cx="582.0" cy="116.7" r="2.6" fill="#f21d1d"/>
<circle cx="582.0" cy="133.5" r="2.6" fill="#f21d1d"/>
<circle cx="577.0" cy="142.5" r="2.6" fill="#f21d1d"/>
<circle cx="582.0" cy="143.8" r="2.6" fill="#f21d1d"/>
<circle cx="586.7" cy="142.5" r="2.6" fill="#f21d1d"/>
<circle cx="577.0" cy="169.7" r="2.6" fill="#f21d1d"/>
<circle cx="586.7" cy="165.7" r="2.6" fill="#f21d1d"/>
<circle cx="586.7" cy="171.7" r="2.6" fill="#f21d1d"/>
<circle cx="582.0" cy="179.8" r="2.6" fill="#f21d1d"/>
<circle cx="586.7" cy="177.8" r="2.6" fill="#f21d1d"/>
<circle cx="584.5" cy="194.9" r="2.6" fill="#f21d1d"/>
<circle cx="579.5" cy="199.6" r="2.6" fill="#f21d1d"/>
<rect x="602.9" y="145.7" width="4.6" height="4.6" fill="#000"/>
<rect x="600.9" y="148.5" width="4.6" height="4.6" fill="#000"/>
<rect x="602.9" y="152.1" width="4.6" height="4.6" fill="#000"/>
<rect x="606.9" y="163.4" width="4.6" height="4.6" fill="#000"/>
<rect x="597.8" y="167.4" width="4.6" height="4.6" fill="#000"/>
<rect x="602.2" y="167.4" width="4.6" height="4.6" fill="#000"/>
<rect x="604.9" y="170.4" width="4.6" height="4.6" fill="#000"/>
<rect x="602.2" y="175.5" width="4.6" height="4.6" fill="#000"/>
<rect x="598.8" y="192.6" width="4.6" height="4.6" fill="#000"/>
<rect x="602.9" y="197.3" width="4.6" height="4.6" fill="#000"/>
<rect x="601.9" y="204.3" width="4.6" height="4.6" fill="#000"/>
<rect x="598.2" y="173.4" width="4.6" height="4.6" fill="#000"/>
<rect x="606.2" y="179.8" width="4.6" height="4.6" fill="#000"/>
<path d="M463.59999999999997 180.8 V172.5 H484.40000000000003 V180.8" fill="none" stroke="#000" stroke-width="2.5"/>
<text x="476.0" y="166.3" font-size="14" font-weight="normal" text-anchor="middle" fill="#000">ns</text>
<path d="M521.6 129.8 V122 H543.0 V129.8" fill="none" stroke="#000" stroke-width="2.5"/>
<text x="532.3" y="120.6" font-size="14" font-weight="normal" text-anchor="middle" fill="#000" letter-spacing="0.8">***</text>
<path d="M585.0 91 V83 H605.1999999999999 V91" fill="none" stroke="#000" stroke-width="2.5"/>
<text x="595.0999999999999" y="82.6" font-size="14" font-weight="normal" text-anchor="middle" fill="#000" letter-spacing="0.8">**</text>
<text x="452" y="311.6" font-size="15.5" font-weight="bold" text-anchor="start" fill="#000">D</text>
<line x1="483" y1="351.4" x2="483" y2="482.6" stroke="#000" stroke-width="2"/>
<line x1="482" y1="481.6" x2="676.5" y2="481.6" stroke="#000" stroke-width="2"/>
<line x1="477" y1="481.6" x2="483" y2="481.6" stroke="#000" stroke-width="1.6"/>
<text x="476" y="485.6" font-size="11.2" font-weight="bold" text-anchor="end" fill="#000">0</text>
<line x1="477" y1="417.0" x2="483" y2="417.0" stroke="#000" stroke-width="1.6"/>
<text x="476" y="421.0" font-size="11.2" font-weight="bold" text-anchor="end" fill="#000">50</text>
<line x1="477" y1="352.4" x2="483" y2="352.4" stroke="#000" stroke-width="1.6"/>
<text x="476" y="356.4" font-size="11.2" font-weight="bold" text-anchor="end" fill="#000">100</text>
<line x1="480" y1="475.14000000000004" x2="483" y2="475.14000000000004" stroke="#000" stroke-width="1.2"/>
<line x1="480" y1="468.68" x2="483" y2="468.68" stroke="#000" stroke-width="1.2"/>
<line x1="480" y1="462.22" x2="483" y2="462.22" stroke="#000" stroke-width="1.2"/>
<line x1="480" y1="455.76000000000005" x2="483" y2="455.76000000000005" stroke="#000" stroke-width="1.2"/>
<line x1="480" y1="449.3" x2="483" y2="449.3" stroke="#000" stroke-width="1.2"/>
<line x1="480" y1="442.84000000000003" x2="483" y2="442.84000000000003" stroke="#000" stroke-width="1.2"/>
<line x1="480" y1="436.38" x2="483" y2="436.38" stroke="#000" stroke-width="1.2"/>
<line x1="480" y1="429.92" x2="483" y2="429.92" stroke="#000" stroke-width="1.2"/>
<line x1="480" y1="423.46000000000004" x2="483" y2="423.46000000000004" stroke="#000" stroke-width="1.2"/>
<line x1="480" y1="410.54" x2="483" y2="410.54" stroke="#000" stroke-width="1.2"/>
<line x1="480" y1="404.08000000000004" x2="483" y2="404.08000000000004" stroke="#000" stroke-width="1.2"/>
<line x1="480" y1="397.62" x2="483" y2="397.62" stroke="#000" stroke-width="1.2"/>
<line x1="480" y1="391.16" x2="483" y2="391.16" stroke="#000" stroke-width="1.2"/>
<line x1="480" y1="384.70000000000005" x2="483" y2="384.70000000000005" stroke="#000" stroke-width="1.2"/>
<line x1="480" y1="378.24" x2="483" y2="378.24" stroke="#000" stroke-width="1.2"/>
<line x1="480" y1="371.78000000000003" x2="483" y2="371.78000000000003" stroke="#000" stroke-width="1.2"/>
<line x1="480" y1="365.32000000000005" x2="483" y2="365.32000000000005" stroke="#000" stroke-width="1.2"/>
<line x1="480" y1="358.86" x2="483" y2="358.86" stroke="#000" stroke-width="1.2"/>
<line x1="483.0" y1="481.6" x2="483.0" y2="487.6" stroke="#000" stroke-width="1.2"/>
<line x1="489.45" y1="481.6" x2="489.45" y2="485.1" stroke="#000" stroke-width="1.2"/>
<line x1="495.9" y1="481.6" x2="495.9" y2="485.1" stroke="#000" stroke-width="1.2"/>
<line x1="502.35" y1="481.6" x2="502.35" y2="485.1" stroke="#000" stroke-width="1.2"/>
<line x1="508.8" y1="481.6" x2="508.8" y2="485.1" stroke="#000" stroke-width="1.2"/>
<line x1="515.25" y1="481.6" x2="515.25" y2="485.1" stroke="#000" stroke-width="1.2"/>
<line x1="521.7" y1="481.6" x2="521.7" y2="485.1" stroke="#000" stroke-width="1.2"/>
<line x1="528.15" y1="481.6" x2="528.15" y2="485.1" stroke="#000" stroke-width="1.2"/>
<line x1="534.6" y1="481.6" x2="534.6" y2="485.1" stroke="#000" stroke-width="1.2"/>
<line x1="541.05" y1="481.6" x2="541.05" y2="485.1" stroke="#000" stroke-width="1.2"/>
<line x1="547.5" y1="481.6" x2="547.5" y2="487.6" stroke="#000" stroke-width="1.2"/>
<line x1="553.95" y1="481.6" x2="553.95" y2="485.1" stroke="#000" stroke-width="1.2"/>
<line x1="560.4" y1="481.6" x2="560.4" y2="485.1" stroke="#000" stroke-width="1.2"/>
<line x1="566.85" y1="481.6" x2="566.85" y2="485.1" stroke="#000" stroke-width="1.2"/>
<line x1="573.3" y1="481.6" x2="573.3" y2="485.1" stroke="#000" stroke-width="1.2"/>
<line x1="579.75" y1="481.6" x2="579.75" y2="485.1" stroke="#000" stroke-width="1.2"/>
<line x1="586.2" y1="481.6" x2="586.2" y2="485.1" stroke="#000" stroke-width="1.2"/>
<line x1="592.65" y1="481.6" x2="592.65" y2="485.1" stroke="#000" stroke-width="1.2"/>
<line x1="599.1" y1="481.6" x2="599.1" y2="485.1" stroke="#000" stroke-width="1.2"/>
<line x1="605.55" y1="481.6" x2="605.55" y2="485.1" stroke="#000" stroke-width="1.2"/>
<line x1="612.0" y1="481.6" x2="612.0" y2="487.6" stroke="#000" stroke-width="1.2"/>
<line x1="618.45" y1="481.6" x2="618.45" y2="485.1" stroke="#000" stroke-width="1.2"/>
<line x1="624.9" y1="481.6" x2="624.9" y2="485.1" stroke="#000" stroke-width="1.2"/>
<line x1="631.35" y1="481.6" x2="631.35" y2="485.1" stroke="#000" stroke-width="1.2"/>
<line x1="637.8" y1="481.6" x2="637.8" y2="485.1" stroke="#000" stroke-width="1.2"/>
<line x1="644.25" y1="481.6" x2="644.25" y2="485.1" stroke="#000" stroke-width="1.2"/>
<line x1="650.7" y1="481.6" x2="650.7" y2="485.1" stroke="#000" stroke-width="1.2"/>
<line x1="657.15" y1="481.6" x2="657.15" y2="485.1" stroke="#000" stroke-width="1.2"/>
<line x1="663.6" y1="481.6" x2="663.6" y2="485.1" stroke="#000" stroke-width="1.2"/>
<line x1="670.05" y1="481.6" x2="670.05" y2="485.1" stroke="#000" stroke-width="1.2"/>
<line x1="676.5" y1="481.6" x2="676.5" y2="487.6" stroke="#000" stroke-width="1.2"/>
<text x="483.0" y="497.6" font-size="11.2" font-weight="bold" text-anchor="middle" fill="#000">0</text>
<text x="547.5" y="497.6" font-size="11.2" font-weight="bold" text-anchor="middle" fill="#000">20</text>
<text x="612.0" y="497.6" font-size="11.2" font-weight="bold" text-anchor="middle" fill="#000">40</text>
<text x="676.5" y="497.6" font-size="11.2" font-weight="bold" text-anchor="middle" fill="#000">60</text>
<line x1="486.23" y1="471.22" x2="486.23" y2="473.55" stroke="#f04848" stroke-width="0.8"/>
<line x1="484.73" y1="471.22" x2="487.73" y2="471.22" stroke="#f04848" stroke-width="0.8"/>
<line x1="484.73" y1="473.55" x2="487.73" y2="473.55" stroke="#f04848" stroke-width="0.8"/>
<line x1="489.45" y1="462.79" x2="489.45" y2="466.70" stroke="#f04848" stroke-width="0.8"/>
<line x1="487.95" y1="462.79" x2="490.95" y2="462.79" stroke="#f04848" stroke-width="0.8"/>
<line x1="487.95" y1="466.70" x2="490.95" y2="466.70" stroke="#f04848" stroke-width="0.8"/>
<line x1="492.68" y1="455.70" x2="492.68" y2="461.00" stroke="#f04848" stroke-width="0.8"/>
<line x1="491.18" y1="455.70" x2="494.18" y2="455.70" stroke="#f04848" stroke-width="0.8"/>
<line x1="491.18" y1="461.00" x2="494.18" y2="461.00" stroke="#f04848" stroke-width="0.8"/>
<line x1="495.90" y1="449.63" x2="495.90" y2="456.21" stroke="#f04848" stroke-width="0.8"/>
<line x1="494.40" y1="449.63" x2="497.40" y2="449.63" stroke="#f04848" stroke-width="0.8"/>
<line x1="494.40" y1="456.21" x2="497.40" y2="456.21" stroke="#f04848" stroke-width="0.8"/>
<line x1="499.12" y1="444.39" x2="499.12" y2="452.16" stroke="#f04848" stroke-width="0.8"/>
<line x1="497.62" y1="444.39" x2="500.62" y2="444.39" stroke="#f04848" stroke-width="0.8"/>
<line x1="497.62" y1="452.16" x2="500.62" y2="452.16" stroke="#f04848" stroke-width="0.8"/>
<line x1="502.35" y1="439.79" x2="502.35" y2="448.70" stroke="#f04848" stroke-width="0.8"/>
<line x1="500.85" y1="439.79" x2="503.85" y2="439.79" stroke="#f04848" stroke-width="0.8"/>
<line x1="500.85" y1="448.70" x2="503.85" y2="448.70" stroke="#f04848" stroke-width="0.8"/>
<line x1="505.57" y1="435.70" x2="505.57" y2="445.71" stroke="#f04848" stroke-width="0.8"/>
<line x1="504.07" y1="435.70" x2="507.07" y2="435.70" stroke="#f04848" stroke-width="0.8"/>
<line x1="504.07" y1="445.71" x2="507.07" y2="445.71" stroke="#f04848" stroke-width="0.8"/>
<line x1="508.80" y1="432.04" x2="508.80" y2="443.11" stroke="#f04848" stroke-width="0.8"/>
<line x1="507.30" y1="432.04" x2="510.30" y2="432.04" stroke="#f04848" stroke-width="0.8"/>
<line x1="507.30" y1="443.11" x2="510.30" y2="443.11" stroke="#f04848" stroke-width="0.8"/>
<line x1="512.02" y1="428.73" x2="512.02" y2="440.82" stroke="#f04848" stroke-width="0.8"/>
<line x1="510.52" y1="428.73" x2="513.52" y2="428.73" stroke="#f04848" stroke-width="0.8"/>
<line x1="510.52" y1="440.82" x2="513.52" y2="440.82" stroke="#f04848" stroke-width="0.8"/>
<line x1="515.25" y1="425.70" x2="515.25" y2="438.78" stroke="#f04848" stroke-width="0.8"/>
<line x1="513.75" y1="425.70" x2="516.75" y2="425.70" stroke="#f04848" stroke-width="0.8"/>
<line x1="513.75" y1="438.78" x2="516.75" y2="438.78" stroke="#f04848" stroke-width="0.8"/>
<line x1="518.48" y1="422.92" x2="518.48" y2="436.97" stroke="#f04848" stroke-width="0.8"/>
<line x1="516.98" y1="422.92" x2="519.98" y2="422.92" stroke="#f04848" stroke-width="0.8"/>
<line x1="516.98" y1="436.97" x2="519.98" y2="436.97" stroke="#f04848" stroke-width="0.8"/>
<line x1="521.70" y1="420.34" x2="521.70" y2="435.33" stroke="#f04848" stroke-width="0.8"/>
<line x1="520.20" y1="420.34" x2="523.20" y2="420.34" stroke="#f04848" stroke-width="0.8"/>
<line x1="520.20" y1="435.33" x2="523.20" y2="435.33" stroke="#f04848" stroke-width="0.8"/>
<line x1="524.92" y1="417.93" x2="524.92" y2="433.85" stroke="#f04848" stroke-width="0.8"/>
<line x1="523.42" y1="417.93" x2="526.42" y2="417.93" stroke="#f04848" stroke-width="0.8"/>
<line x1="523.42" y1="433.85" x2="526.42" y2="433.85" stroke="#f04848" stroke-width="0.8"/>
<line x1="528.15" y1="415.67" x2="528.15" y2="432.50" stroke="#f04848" stroke-width="0.8"/>
<line x1="526.65" y1="415.67" x2="529.65" y2="415.67" stroke="#f04848" stroke-width="0.8"/>
<line x1="526.65" y1="432.50" x2="529.65" y2="432.50" stroke="#f04848" stroke-width="0.8"/>
<line x1="531.38" y1="413.55" x2="531.38" y2="431.27" stroke="#f04848" stroke-width="0.8"/>
<line x1="529.88" y1="413.55" x2="532.88" y2="413.55" stroke="#f04848" stroke-width="0.8"/>
<line x1="529.88" y1="431.27" x2="532.88" y2="431.27" stroke="#f04848" stroke-width="0.8"/>
<line x1="534.60" y1="411.54" x2="534.60" y2="430.15" stroke="#f04848" stroke-width="0.8"/>
<line x1="533.10" y1="411.54" x2="536.10" y2="411.54" stroke="#f04848" stroke-width="0.8"/>
<line x1="533.10" y1="430.15" x2="536.10" y2="430.15" stroke="#f04848" stroke-width="0.8"/>
<line x1="537.83" y1="409.64" x2="537.83" y2="429.11" stroke="#f04848" stroke-width="0.8"/>
<line x1="536.33" y1="409.64" x2="539.33" y2="409.64" stroke="#f04848" stroke-width="0.8"/>
<line x1="536.33" y1="429.11" x2="539.33" y2="429.11" stroke="#f04848" stroke-width="0.8"/>
<line x1="541.05" y1="407.84" x2="541.05" y2="428.16" stroke="#f04848" stroke-width="0.8"/>
<line x1="539.55" y1="407.84" x2="542.55" y2="407.84" stroke="#f04848" stroke-width="0.8"/>
<line x1="539.55" y1="428.16" x2="542.55" y2="428.16" stroke="#f04848" stroke-width="0.8"/>
<line x1="544.27" y1="406.12" x2="544.27" y2="427.28" stroke="#f04848" stroke-width="0.8"/>
<line x1="542.77" y1="406.12" x2="545.77" y2="406.12" stroke="#f04848" stroke-width="0.8"/>
<line x1="542.77" y1="427.28" x2="545.77" y2="427.28" stroke="#f04848" stroke-width="0.8"/>
<line x1="547.50" y1="404.48" x2="547.50" y2="426.48" stroke="#f04848" stroke-width="0.8"/>
<line x1="546.00" y1="404.48" x2="549.00" y2="404.48" stroke="#f04848" stroke-width="0.8"/>
<line x1="546.00" y1="426.48" x2="549.00" y2="426.48" stroke="#f04848" stroke-width="0.8"/>
<line x1="550.73" y1="402.92" x2="550.73" y2="425.73" stroke="#f04848" stroke-width="0.8"/>
<line x1="549.23" y1="402.92" x2="552.23" y2="402.92" stroke="#f04848" stroke-width="0.8"/>
<line x1="549.23" y1="425.73" x2="552.23" y2="425.73" stroke="#f04848" stroke-width="0.8"/>
<line x1="553.95" y1="401.42" x2="553.95" y2="425.05" stroke="#f04848" stroke-width="0.8"/>
<line x1="552.45" y1="401.42" x2="555.45" y2="401.42" stroke="#f04848" stroke-width="0.8"/>
<line x1="552.45" y1="425.05" x2="555.45" y2="425.05" stroke="#f04848" stroke-width="0.8"/>
<line x1="557.17" y1="399.99" x2="557.17" y2="424.41" stroke="#f04848" stroke-width="0.8"/>
<line x1="555.67" y1="399.99" x2="558.67" y2="399.99" stroke="#f04848" stroke-width="0.8"/>
<line x1="555.67" y1="424.41" x2="558.67" y2="424.41" stroke="#f04848" stroke-width="0.8"/>
<line x1="560.40" y1="398.61" x2="560.40" y2="423.83" stroke="#f04848" stroke-width="0.8"/>
<line x1="558.90" y1="398.61" x2="561.90" y2="398.61" stroke="#f04848" stroke-width="0.8"/>
<line x1="558.90" y1="423.83" x2="561.90" y2="423.83" stroke="#f04848" stroke-width="0.8"/>
<line x1="563.62" y1="397.29" x2="563.62" y2="423.30" stroke="#f04848" stroke-width="0.8"/>
<line x1="562.12" y1="397.29" x2="565.12" y2="397.29" stroke="#f04848" stroke-width="0.8"/>
<line x1="562.12" y1="423.30" x2="565.12" y2="423.30" stroke="#f04848" stroke-width="0.8"/>
<line x1="566.85" y1="396.03" x2="566.85" y2="422.81" stroke="#f04848" stroke-width="0.8"/>
<line x1="565.35" y1="396.03" x2="568.35" y2="396.03" stroke="#f04848" stroke-width="0.8"/>
<line x1="565.35" y1="422.81" x2="568.35" y2="422.81" stroke="#f04848" stroke-width="0.8"/>
<line x1="570.08" y1="394.81" x2="570.08" y2="422.36" stroke="#f04848" stroke-width="0.8"/>
<line x1="568.58" y1="394.81" x2="571.58" y2="394.81" stroke="#f04848" stroke-width="0.8"/>
<line x1="568.58" y1="422.36" x2="571.58" y2="422.36" stroke="#f04848" stroke-width="0.8"/>
<line x1="573.30" y1="393.64" x2="573.30" y2="421.95" stroke="#f04848" stroke-width="0.8"/>
<line x1="571.80" y1="393.64" x2="574.80" y2="393.64" stroke="#f04848" stroke-width="0.8"/>
<line x1="571.80" y1="421.95" x2="574.80" y2="421.95" stroke="#f04848" stroke-width="0.8"/>
<line x1="576.52" y1="392.51" x2="576.52" y2="421.57" stroke="#f04848" stroke-width="0.8"/>
<line x1="575.02" y1="392.51" x2="578.02" y2="392.51" stroke="#f04848" stroke-width="0.8"/>
<line x1="575.02" y1="421.57" x2="578.02" y2="421.57" stroke="#f04848" stroke-width="0.8"/>
<line x1="579.75" y1="391.42" x2="579.75" y2="421.24" stroke="#f04848" stroke-width="0.8"/>
<line x1="578.25" y1="391.42" x2="581.25" y2="391.42" stroke="#f04848" stroke-width="0.8"/>
<line x1="578.25" y1="421.24" x2="581.25" y2="421.24" stroke="#f04848" stroke-width="0.8"/>
<line x1="582.98" y1="390.38" x2="582.98" y2="420.93" stroke="#f04848" stroke-width="0.8"/>
<line x1="581.48" y1="390.38" x2="584.48" y2="390.38" stroke="#f04848" stroke-width="0.8"/>
<line x1="581.48" y1="420.93" x2="584.48" y2="420.93" stroke="#f04848" stroke-width="0.8"/>
<line x1="586.20" y1="389.37" x2="586.20" y2="420.66" stroke="#f04848" stroke-width="0.8"/>
<line x1="584.70" y1="389.37" x2="587.70" y2="389.37" stroke="#f04848" stroke-width="0.8"/>
<line x1="584.70" y1="420.66" x2="587.70" y2="420.66" stroke="#f04848" stroke-width="0.8"/>
<line x1="589.42" y1="388.39" x2="589.42" y2="420.41" stroke="#f04848" stroke-width="0.8"/>
<line x1="587.92" y1="388.39" x2="590.92" y2="388.39" stroke="#f04848" stroke-width="0.8"/>
<line x1="587.92" y1="420.41" x2="590.92" y2="420.41" stroke="#f04848" stroke-width="0.8"/>
<line x1="592.65" y1="387.45" x2="592.65" y2="420.20" stroke="#f04848" stroke-width="0.8"/>
<line x1="591.15" y1="387.45" x2="594.15" y2="387.45" stroke="#f04848" stroke-width="0.8"/>
<line x1="591.15" y1="420.20" x2="594.15" y2="420.20" stroke="#f04848" stroke-width="0.8"/>
<line x1="595.88" y1="386.54" x2="595.88" y2="420.01" stroke="#f04848" stroke-width="0.8"/>
<line x1="594.38" y1="386.54" x2="597.38" y2="386.54" stroke="#f04848" stroke-width="0.8"/>
<line x1="594.38" y1="420.01" x2="597.38" y2="420.01" stroke="#f04848" stroke-width="0.8"/>
<line x1="599.10" y1="385.66" x2="599.10" y2="419.84" stroke="#f04848" stroke-width="0.8"/>
<line x1="597.60" y1="385.66" x2="600.60" y2="385.66" stroke="#f04848" stroke-width="0.8"/>
<line x1="597.60" y1="419.84" x2="600.60" y2="419.84" stroke="#f04848" stroke-width="0.8"/>
<line x1="602.33" y1="384.81" x2="602.33" y2="419.70" stroke="#f04848" stroke-width="0.8"/>
<line x1="600.83" y1="384.81" x2="603.83" y2="384.81" stroke="#f04848" stroke-width="0.8"/>
<line x1="600.83" y1="419.70" x2="603.83" y2="419.70" stroke="#f04848" stroke-width="0.8"/>
<line x1="605.55" y1="383.99" x2="605.55" y2="419.58" stroke="#f04848" stroke-width="0.8"/>
<line x1="604.05" y1="383.99" x2="607.05" y2="383.99" stroke="#f04848" stroke-width="0.8"/>
<line x1="604.05" y1="419.58" x2="607.05" y2="419.58" stroke="#f04848" stroke-width="0.8"/>
<line x1="608.77" y1="383.19" x2="608.77" y2="419.49" stroke="#f04848" stroke-width="0.8"/>
<line x1="607.27" y1="383.19" x2="610.27" y2="383.19" stroke="#f04848" stroke-width="0.8"/>
<line x1="607.27" y1="419.49" x2="610.27" y2="419.49" stroke="#f04848" stroke-width="0.8"/>
<line x1="612.00" y1="382.42" x2="612.00" y2="419.41" stroke="#f04848" stroke-width="0.8"/>
<line x1="610.50" y1="382.42" x2="613.50" y2="382.42" stroke="#f04848" stroke-width="0.8"/>
<line x1="610.50" y1="419.41" x2="613.50" y2="419.41" stroke="#f04848" stroke-width="0.8"/>
<line x1="615.23" y1="381.67" x2="615.23" y2="419.35" stroke="#f04848" stroke-width="0.8"/>
<line x1="613.73" y1="381.67" x2="616.73" y2="381.67" stroke="#f04848" stroke-width="0.8"/>
<line x1="613.73" y1="419.35" x2="616.73" y2="419.35" stroke="#f04848" stroke-width="0.8"/>
<line x1="618.45" y1="380.94" x2="618.45" y2="419.31" stroke="#f04848" stroke-width="0.8"/>
<line x1="616.95" y1="380.94" x2="619.95" y2="380.94" stroke="#f04848" stroke-width="0.8"/>
<line x1="616.95" y1="419.31" x2="619.95" y2="419.31" stroke="#f04848" stroke-width="0.8"/>
<line x1="621.67" y1="380.24" x2="621.67" y2="419.29" stroke="#f04848" stroke-width="0.8"/>
<line x1="620.17" y1="380.24" x2="623.17" y2="380.24" stroke="#f04848" stroke-width="0.8"/>
<line x1="620.17" y1="419.29" x2="623.17" y2="419.29" stroke="#f04848" stroke-width="0.8"/>
<line x1="624.90" y1="379.55" x2="624.90" y2="419.28" stroke="#f04848" stroke-width="0.8"/>
<line x1="623.40" y1="379.55" x2="626.40" y2="379.55" stroke="#f04848" stroke-width="0.8"/>
<line x1="623.40" y1="419.28" x2="626.40" y2="419.28" stroke="#f04848" stroke-width="0.8"/>
<line x1="628.12" y1="378.88" x2="628.12" y2="419.29" stroke="#f04848" stroke-width="0.8"/>
<line x1="626.62" y1="378.88" x2="629.62" y2="378.88" stroke="#f04848" stroke-width="0.8"/>
<line x1="626.62" y1="419.29" x2="629.62" y2="419.29" stroke="#f04848" stroke-width="0.8"/>
<line x1="631.35" y1="378.24" x2="631.35" y2="419.31" stroke="#f04848" stroke-width="0.8"/>
<line x1="629.85" y1="378.24" x2="632.85" y2="378.24" stroke="#f04848" stroke-width="0.8"/>
<line x1="629.85" y1="419.31" x2="632.85" y2="419.31" stroke="#f04848" stroke-width="0.8"/>
<line x1="634.58" y1="377.61" x2="634.58" y2="419.35" stroke="#f04848" stroke-width="0.8"/>
<line x1="633.08" y1="377.61" x2="636.08" y2="377.61" stroke="#f04848" stroke-width="0.8"/>
<line x1="633.08" y1="419.35" x2="636.08" y2="419.35" stroke="#f04848" stroke-width="0.8"/>
<line x1="637.80" y1="376.99" x2="637.80" y2="419.40" stroke="#f04848" stroke-width="0.8"/>
<line x1="636.30" y1="376.99" x2="639.30" y2="376.99" stroke="#f04848" stroke-width="0.8"/>
<line x1="636.30" y1="419.40" x2="639.30" y2="419.40" stroke="#f04848" stroke-width="0.8"/>
<line x1="641.02" y1="376.39" x2="641.02" y2="419.46" stroke="#f04848" stroke-width="0.8"/>
<line x1="639.52" y1="376.39" x2="642.52" y2="376.39" stroke="#f04848" stroke-width="0.8"/>
<line x1="639.52" y1="419.46" x2="642.52" y2="419.46" stroke="#f04848" stroke-width="0.8"/>
<line x1="644.25" y1="375.81" x2="644.25" y2="419.54" stroke="#f04848" stroke-width="0.8"/>
<line x1="642.75" y1="375.81" x2="645.75" y2="375.81" stroke="#f04848" stroke-width="0.8"/>
<line x1="642.75" y1="419.54" x2="645.75" y2="419.54" stroke="#f04848" stroke-width="0.8"/>
<line x1="647.48" y1="375.24" x2="647.48" y2="419.62" stroke="#f04848" stroke-width="0.8"/>
<line x1="645.98" y1="375.24" x2="648.98" y2="375.24" stroke="#f04848" stroke-width="0.8"/>
<line x1="645.98" y1="419.62" x2="648.98" y2="419.62" stroke="#f04848" stroke-width="0.8"/>
<line x1="650.70" y1="374.69" x2="650.70" y2="419.72" stroke="#f04848" stroke-width="0.8"/>
<line x1="649.20" y1="374.69" x2="652.20" y2="374.69" stroke="#f04848" stroke-width="0.8"/>
<line x1="649.20" y1="419.72" x2="652.20" y2="419.72" stroke="#f04848" stroke-width="0.8"/>
<line x1="653.92" y1="374.14" x2="653.92" y2="419.83" stroke="#f04848" stroke-width="0.8"/>
<line x1="652.42" y1="374.14" x2="655.42" y2="374.14" stroke="#f04848" stroke-width="0.8"/>
<line x1="652.42" y1="419.83" x2="655.42" y2="419.83" stroke="#f04848" stroke-width="0.8"/>
<line x1="657.15" y1="373.61" x2="657.15" y2="419.94" stroke="#f04848" stroke-width="0.8"/>
<line x1="655.65" y1="373.61" x2="658.65" y2="373.61" stroke="#f04848" stroke-width="0.8"/>
<line x1="655.65" y1="419.94" x2="658.65" y2="419.94" stroke="#f04848" stroke-width="0.8"/>
<line x1="660.38" y1="373.10" x2="660.38" y2="420.06" stroke="#f04848" stroke-width="0.8"/>
<line x1="658.88" y1="373.10" x2="661.88" y2="373.10" stroke="#f04848" stroke-width="0.8"/>
<line x1="658.88" y1="420.06" x2="661.88" y2="420.06" stroke="#f04848" stroke-width="0.8"/>
<line x1="663.60" y1="372.59" x2="663.60" y2="420.20" stroke="#f04848" stroke-width="0.8"/>
<line x1="662.10" y1="372.59" x2="665.10" y2="372.59" stroke="#f04848" stroke-width="0.8"/>
<line x1="662.10" y1="420.20" x2="665.10" y2="420.20" stroke="#f04848" stroke-width="0.8"/>
<line x1="666.83" y1="372.09" x2="666.83" y2="420.34" stroke="#f04848" stroke-width="0.8"/>
<line x1="665.33" y1="372.09" x2="668.33" y2="372.09" stroke="#f04848" stroke-width="0.8"/>
<line x1="665.33" y1="420.34" x2="668.33" y2="420.34" stroke="#f04848" stroke-width="0.8"/>
<line x1="670.05" y1="371.61" x2="670.05" y2="420.49" stroke="#f04848" stroke-width="0.8"/>
<line x1="668.55" y1="371.61" x2="671.55" y2="371.61" stroke="#f04848" stroke-width="0.8"/>
<line x1="668.55" y1="420.49" x2="671.55" y2="420.49" stroke="#f04848" stroke-width="0.8"/>
<line x1="673.27" y1="371.13" x2="673.27" y2="420.64" stroke="#f04848" stroke-width="0.8"/>
<line x1="671.77" y1="371.13" x2="674.77" y2="371.13" stroke="#f04848" stroke-width="0.8"/>
<line x1="671.77" y1="420.64" x2="674.77" y2="420.64" stroke="#f04848" stroke-width="0.8"/>
<rect x="480.80" y="479.40" width="4.4" height="4.4" fill="#f23a3a"/>
<rect x="484.03" y="470.18" width="4.4" height="4.4" fill="#f23a3a"/>
<rect x="487.25" y="462.54" width="4.4" height="4.4" fill="#f23a3a"/>
<rect x="490.48" y="456.15" width="4.4" height="4.4" fill="#f23a3a"/>
<rect x="493.70" y="450.72" width="4.4" height="4.4" fill="#f23a3a"/>
<rect x="496.93" y="446.07" width="4.4" height="4.4" fill="#f23a3a"/>
<rect x="500.15" y="442.04" width="4.4" height="4.4" fill="#f23a3a"/>
<rect x="503.38" y="438.51" width="4.4" height="4.4" fill="#f23a3a"/>
<rect x="506.60" y="435.38" width="4.4" height="4.4" fill="#f23a3a"/>
<rect x="509.82" y="432.57" width="4.4" height="4.4" fill="#f23a3a"/>
<rect x="513.05" y="430.04" width="4.4" height="4.4" fill="#f23a3a"/>
<rect x="516.27" y="427.74" width="4.4" height="4.4" fill="#f23a3a"/>
<rect x="519.50" y="425.63" width="4.4" height="4.4" fill="#f23a3a"/>
<rect x="522.72" y="423.69" width="4.4" height="4.4" fill="#f23a3a"/>
<rect x="525.95" y="421.89" width="4.4" height="4.4" fill="#f23a3a"/>
<rect x="529.17" y="420.21" width="4.4" height="4.4" fill="#f23a3a"/>
<rect x="532.40" y="418.64" width="4.4" height="4.4" fill="#f23a3a"/>
<rect x="535.62" y="417.18" width="4.4" height="4.4" fill="#f23a3a"/>
<rect x="538.85" y="415.80" width="4.4" height="4.4" fill="#f23a3a"/>
<rect x="542.07" y="414.50" width="4.4" height="4.4" fill="#f23a3a"/>
<rect x="545.30" y="413.28" width="4.4" height="4.4" fill="#f23a3a"/>
<rect x="548.52" y="412.12" width="4.4" height="4.4" fill="#f23a3a"/>
<rect x="551.75" y="411.03" width="4.4" height="4.4" fill="#f23a3a"/>
<rect x="554.97" y="410.00" width="4.4" height="4.4" fill="#f23a3a"/>
<rect x="558.20" y="409.02" width="4.4" height="4.4" fill="#f23a3a"/>
<rect x="561.42" y="408.10" width="4.4" height="4.4" fill="#f23a3a"/>
<rect x="564.65" y="407.22" width="4.4" height="4.4" fill="#f23a3a"/>
<rect x="567.88" y="406.38" width="4.4" height="4.4" fill="#f23a3a"/>
<rect x="571.10" y="405.59" width="4.4" height="4.4" fill="#f23a3a"/>
<rect x="574.32" y="404.84" width="4.4" height="4.4" fill="#f23a3a"/>
<rect x="577.55" y="404.13" width="4.4" height="4.4" fill="#f23a3a"/>
<rect x="580.77" y="403.45" width="4.4" height="4.4" fill="#f23a3a"/>
<rect x="584.00" y="402.81" width="4.4" height="4.4" fill="#f23a3a"/>
<rect x="587.22" y="402.20" width="4.4" height="4.4" fill="#f23a3a"/>
<rect x="590.45" y="401.62" width="4.4" height="4.4" fill="#f23a3a"/>
<rect x="593.67" y="401.07" width="4.4" height="4.4" fill="#f23a3a"/>
<rect x="596.90" y="400.55" width="4.4" height="4.4" fill="#f23a3a"/>
<rect x="600.12" y="400.06" width="4.4" height="4.4" fill="#f23a3a"/>
<rect x="603.35" y="399.59" width="4.4" height="4.4" fill="#f23a3a"/>
<rect x="606.57" y="399.14" width="4.4" height="4.4" fill="#f23a3a"/>
<rect x="609.80" y="398.71" width="4.4" height="4.4" fill="#f23a3a"/>
<rect x="613.02" y="398.31" width="4.4" height="4.4" fill="#f23a3a"/>
<rect x="616.25" y="397.93" width="4.4" height="4.4" fill="#f23a3a"/>
<rect x="619.47" y="397.56" width="4.4" height="4.4" fill="#f23a3a"/>
<rect x="622.70" y="397.22" width="4.4" height="4.4" fill="#f23a3a"/>
<rect x="625.92" y="396.89" width="4.4" height="4.4" fill="#f23a3a"/>
<rect x="629.15" y="396.57" width="4.4" height="4.4" fill="#f23a3a"/>
<rect x="632.38" y="396.28" width="4.4" height="4.4" fill="#f23a3a"/>
<rect x="635.60" y="396.00" width="4.4" height="4.4" fill="#f23a3a"/>
<rect x="638.82" y="395.73" width="4.4" height="4.4" fill="#f23a3a"/>
<rect x="642.05" y="395.47" width="4.4" height="4.4" fill="#f23a3a"/>
<rect x="645.27" y="395.23" width="4.4" height="4.4" fill="#f23a3a"/>
<rect x="648.50" y="395.00" width="4.4" height="4.4" fill="#f23a3a"/>
<rect x="651.72" y="394.78" width="4.4" height="4.4" fill="#f23a3a"/>
<rect x="654.95" y="394.58" width="4.4" height="4.4" fill="#f23a3a"/>
<rect x="658.17" y="394.38" width="4.4" height="4.4" fill="#f23a3a"/>
<rect x="661.40" y="394.19" width="4.4" height="4.4" fill="#f23a3a"/>
<rect x="664.62" y="394.02" width="4.4" height="4.4" fill="#f23a3a"/>
<rect x="667.85" y="393.85" width="4.4" height="4.4" fill="#f23a3a"/>
<rect x="671.07" y="393.69" width="4.4" height="4.4" fill="#f23a3a"/>
<line x1="486.23" y1="479.45" x2="486.23" y2="480.44" stroke="#111" stroke-width="0.8"/>
<line x1="484.73" y1="479.45" x2="487.73" y2="479.45" stroke="#111" stroke-width="0.8"/>
<line x1="484.73" y1="480.44" x2="487.73" y2="480.44" stroke="#111" stroke-width="0.8"/>
<line x1="489.45" y1="477.50" x2="489.45" y2="479.33" stroke="#111" stroke-width="0.8"/>
<line x1="487.95" y1="477.50" x2="490.95" y2="477.50" stroke="#111" stroke-width="0.8"/>
<line x1="487.95" y1="479.33" x2="490.95" y2="479.33" stroke="#111" stroke-width="0.8"/>
<line x1="492.68" y1="475.72" x2="492.68" y2="478.26" stroke="#111" stroke-width="0.8"/>
<line x1="491.18" y1="475.72" x2="494.18" y2="475.72" stroke="#111" stroke-width="0.8"/>
<line x1="491.18" y1="478.26" x2="494.18" y2="478.26" stroke="#111" stroke-width="0.8"/>
<line x1="495.90" y1="474.11" x2="495.90" y2="477.25" stroke="#111" stroke-width="0.8"/>
<line x1="494.40" y1="474.11" x2="497.40" y2="474.11" stroke="#111" stroke-width="0.8"/>
<line x1="494.40" y1="477.25" x2="497.40" y2="477.25" stroke="#111" stroke-width="0.8"/>
<line x1="499.12" y1="472.64" x2="499.12" y2="476.29" stroke="#111" stroke-width="0.8"/>
<line x1="497.62" y1="472.64" x2="500.62" y2="472.64" stroke="#111" stroke-width="0.8"/>
<line x1="497.62" y1="476.29" x2="500.62" y2="476.29" stroke="#111" stroke-width="0.8"/>
<line x1="502.35" y1="471.30" x2="502.35" y2="475.38" stroke="#111" stroke-width="0.8"/>
<line x1="500.85" y1="471.30" x2="503.85" y2="471.30" stroke="#111" stroke-width="0.8"/>
<line x1="500.85" y1="475.38" x2="503.85" y2="475.38" stroke="#111" stroke-width="0.8"/>
<line x1="505.57" y1="470.07" x2="505.57" y2="474.52" stroke="#111" stroke-width="0.8"/>
<line x1="504.07" y1="470.07" x2="507.07" y2="470.07" stroke="#111" stroke-width="0.8"/>
<line x1="504.07" y1="474.52" x2="507.07" y2="474.52" stroke="#111" stroke-width="0.8"/>
<line x1="508.80" y1="468.95" x2="508.80" y2="473.71" stroke="#111" stroke-width="0.8"/>
<line x1="507.30" y1="468.95" x2="510.30" y2="468.95" stroke="#111" stroke-width="0.8"/>
<line x1="507.30" y1="473.71" x2="510.30" y2="473.71" stroke="#111" stroke-width="0.8"/>
<line x1="512.02" y1="467.92" x2="512.02" y2="472.94" stroke="#111" stroke-width="0.8"/>
<line x1="510.52" y1="467.92" x2="513.52" y2="467.92" stroke="#111" stroke-width="0.8"/>
<line x1="510.52" y1="472.94" x2="513.52" y2="472.94" stroke="#111" stroke-width="0.8"/>
<line x1="515.25" y1="466.99" x2="515.25" y2="472.23" stroke="#111" stroke-width="0.8"/>
<line x1="513.75" y1="466.99" x2="516.75" y2="466.99" stroke="#111" stroke-width="0.8"/>
<line x1="513.75" y1="472.23" x2="516.75" y2="472.23" stroke="#111" stroke-width="0.8"/>
<line x1="518.48" y1="466.13" x2="518.48" y2="471.55" stroke="#111" stroke-width="0.8"/>
<line x1="516.98" y1="466.13" x2="519.98" y2="466.13" stroke="#111" stroke-width="0.8"/>
<line x1="516.98" y1="471.55" x2="519.98" y2="471.55" stroke="#111" stroke-width="0.8"/>
<line x1="521.70" y1="465.34" x2="521.70" y2="470.92" stroke="#111" stroke-width="0.8"/>
<line x1="520.20" y1="465.34" x2="523.20" y2="465.34" stroke="#111" stroke-width="0.8"/>
<line x1="520.20" y1="470.92" x2="523.20" y2="470.92" stroke="#111" stroke-width="0.8"/>
<line x1="524.92" y1="464.61" x2="524.92" y2="470.33" stroke="#111" stroke-width="0.8"/>
<line x1="523.42" y1="464.61" x2="526.42" y2="464.61" stroke="#111" stroke-width="0.8"/>
<line x1="523.42" y1="470.33" x2="526.42" y2="470.33" stroke="#111" stroke-width="0.8"/>
<line x1="528.15" y1="463.95" x2="528.15" y2="469.78" stroke="#111" stroke-width="0.8"/>
<line x1="526.65" y1="463.95" x2="529.65" y2="463.95" stroke="#111" stroke-width="0.8"/>
<line x1="526.65" y1="469.78" x2="529.65" y2="469.78" stroke="#111" stroke-width="0.8"/>
<line x1="531.38" y1="463.33" x2="531.38" y2="469.26" stroke="#111" stroke-width="0.8"/>
<line x1="529.88" y1="463.33" x2="532.88" y2="463.33" stroke="#111" stroke-width="0.8"/>
<line x1="529.88" y1="469.26" x2="532.88" y2="469.26" stroke="#111" stroke-width="0.8"/>
<line x1="534.60" y1="462.77" x2="534.60" y2="468.78" stroke="#111" stroke-width="0.8"/>
<line x1="533.10" y1="462.77" x2="536.10" y2="462.77" stroke="#111" stroke-width="0.8"/>
<line x1="533.10" y1="468.78" x2="536.10" y2="468.78" stroke="#111" stroke-width="0.8"/>
<line x1="537.83" y1="462.25" x2="537.83" y2="468.33" stroke="#111" stroke-width="0.8"/>
<line x1="536.33" y1="462.25" x2="539.33" y2="462.25" stroke="#111" stroke-width="0.8"/>
<line x1="536.33" y1="468.33" x2="539.33" y2="468.33" stroke="#111" stroke-width="0.8"/>
<line x1="541.05" y1="461.78" x2="541.05" y2="467.91" stroke="#111" stroke-width="0.8"/>
<line x1="539.55" y1="461.78" x2="542.55" y2="461.78" stroke="#111" stroke-width="0.8"/>
<line x1="539.55" y1="467.91" x2="542.55" y2="467.91" stroke="#111" stroke-width="0.8"/>
<line x1="544.27" y1="461.34" x2="544.27" y2="467.53" stroke="#111" stroke-width="0.8"/>
<line x1="542.77" y1="461.34" x2="545.77" y2="461.34" stroke="#111" stroke-width="0.8"/>
<line x1="542.77" y1="467.53" x2="545.77" y2="467.53" stroke="#111" stroke-width="0.8"/>
<line x1="547.50" y1="460.93" x2="547.50" y2="467.16" stroke="#111" stroke-width="0.8"/>
<line x1="546.00" y1="460.93" x2="549.00" y2="460.93" stroke="#111" stroke-width="0.8"/>
<line x1="546.00" y1="467.16" x2="549.00" y2="467.16" stroke="#111" stroke-width="0.8"/>
<line x1="550.73" y1="460.56" x2="550.73" y2="466.82" stroke="#111" stroke-width="0.8"/>
<line x1="549.23" y1="460.56" x2="552.23" y2="460.56" stroke="#111" stroke-width="0.8"/>
<line x1="549.23" y1="466.82" x2="552.23" y2="466.82" stroke="#111" stroke-width="0.8"/>
<line x1="553.95" y1="460.22" x2="553.95" y2="466.51" stroke="#111" stroke-width="0.8"/>
<line x1="552.45" y1="460.22" x2="555.45" y2="460.22" stroke="#111" stroke-width="0.8"/>
<line x1="552.45" y1="466.51" x2="555.45" y2="466.51" stroke="#111" stroke-width="0.8"/>
<line x1="557.17" y1="459.90" x2="557.17" y2="466.22" stroke="#111" stroke-width="0.8"/>
<line x1="555.67" y1="459.90" x2="558.67" y2="459.90" stroke="#111" stroke-width="0.8"/>
<line x1="555.67" y1="466.22" x2="558.67" y2="466.22" stroke="#111" stroke-width="0.8"/>
<line x1="560.40" y1="459.61" x2="560.40" y2="465.95" stroke="#111" stroke-width="0.8"/>
<line x1="558.90" y1="459.61" x2="561.90" y2="459.61" stroke="#111" stroke-width="0.8"/>
<line x1="558.90" y1="465.95" x2="561.90" y2="465.95" stroke="#111" stroke-width="0.8"/>
<line x1="563.62" y1="459.34" x2="563.62" y2="465.70" stroke="#111" stroke-width="0.8"/>
<line x1="562.12" y1="459.34" x2="565.12" y2="459.34" stroke="#111" stroke-width="0.8"/>
<line x1="562.12" y1="465.70" x2="565.12" y2="465.70" stroke="#111" stroke-width="0.8"/>
<line x1="566.85" y1="459.09" x2="566.85" y2="465.46" stroke="#111" stroke-width="0.8"/>
<line x1="565.35" y1="459.09" x2="568.35" y2="459.09" stroke="#111" stroke-width="0.8"/>
<line x1="565.35" y1="465.46" x2="568.35" y2="465.46" stroke="#111" stroke-width="0.8"/>
<line x1="570.08" y1="458.86" x2="570.08" y2="465.24" stroke="#111" stroke-width="0.8"/>
<line x1="568.58" y1="458.86" x2="571.58" y2="458.86" stroke="#111" stroke-width="0.8"/>
<line x1="568.58" y1="465.24" x2="571.58" y2="465.24" stroke="#111" stroke-width="0.8"/>
<line x1="573.30" y1="458.64" x2="573.30" y2="465.04" stroke="#111" stroke-width="0.8"/>
<line x1="571.80" y1="458.64" x2="574.80" y2="458.64" stroke="#111" stroke-width="0.8"/>
<line x1="571.80" y1="465.04" x2="574.80" y2="465.04" stroke="#111" stroke-width="0.8"/>
<line x1="576.52" y1="458.45" x2="576.52" y2="464.85" stroke="#111" stroke-width="0.8"/>
<line x1="575.02" y1="458.45" x2="578.02" y2="458.45" stroke="#111" stroke-width="0.8"/>
<line x1="575.02" y1="464.85" x2="578.02" y2="464.85" stroke="#111" stroke-width="0.8"/>
<line x1="579.75" y1="458.26" x2="579.75" y2="464.68" stroke="#111" stroke-width="0.8"/>
<line x1="578.25" y1="458.26" x2="581.25" y2="458.26" stroke="#111" stroke-width="0.8"/>
<line x1="578.25" y1="464.68" x2="581.25" y2="464.68" stroke="#111" stroke-width="0.8"/>
<line x1="582.98" y1="458.10" x2="582.98" y2="464.52" stroke="#111" stroke-width="0.8"/>
<line x1="581.48" y1="458.10" x2="584.48" y2="458.10" stroke="#111" stroke-width="0.8"/>
<line x1="581.48" y1="464.52" x2="584.48" y2="464.52" stroke="#111" stroke-width="0.8"/>
<line x1="586.20" y1="457.94" x2="586.20" y2="464.37" stroke="#111" stroke-width="0.8"/>
<line x1="584.70" y1="457.94" x2="587.70" y2="457.94" stroke="#111" stroke-width="0.8"/>
<line x1="584.70" y1="464.37" x2="587.70" y2="464.37" stroke="#111" stroke-width="0.8"/>
<line x1="589.42" y1="457.80" x2="589.42" y2="464.23" stroke="#111" stroke-width="0.8"/>
<line x1="587.92" y1="457.80" x2="590.92" y2="457.80" stroke="#111" stroke-width="0.8"/>
<line x1="587.92" y1="464.23" x2="590.92" y2="464.23" stroke="#111" stroke-width="0.8"/>
<line x1="592.65" y1="457.66" x2="592.65" y2="464.10" stroke="#111" stroke-width="0.8"/>
<line x1="591.15" y1="457.66" x2="594.15" y2="457.66" stroke="#111" stroke-width="0.8"/>
<line x1="591.15" y1="464.10" x2="594.15" y2="464.10" stroke="#111" stroke-width="0.8"/>
<line x1="595.88" y1="457.54" x2="595.88" y2="463.98" stroke="#111" stroke-width="0.8"/>
<line x1="594.38" y1="457.54" x2="597.38" y2="457.54" stroke="#111" stroke-width="0.8"/>
<line x1="594.38" y1="463.98" x2="597.38" y2="463.98" stroke="#111" stroke-width="0.8"/>
<line x1="599.10" y1="457.43" x2="599.10" y2="463.87" stroke="#111" stroke-width="0.8"/>
<line x1="597.60" y1="457.43" x2="600.60" y2="457.43" stroke="#111" stroke-width="0.8"/>
<line x1="597.60" y1="463.87" x2="600.60" y2="463.87" stroke="#111" stroke-width="0.8"/>
<line x1="602.33" y1="457.32" x2="602.33" y2="463.77" stroke="#111" stroke-width="0.8"/>
<line x1="600.83" y1="457.32" x2="603.83" y2="457.32" stroke="#111" stroke-width="0.8"/>
<line x1="600.83" y1="463.77" x2="603.83" y2="463.77" stroke="#111" stroke-width="0.8"/>
<line x1="605.55" y1="457.23" x2="605.55" y2="463.67" stroke="#111" stroke-width="0.8"/>
<line x1="604.05" y1="457.23" x2="607.05" y2="457.23" stroke="#111" stroke-width="0.8"/>
<line x1="604.05" y1="463.67" x2="607.05" y2="463.67" stroke="#111" stroke-width="0.8"/>
<line x1="608.77" y1="457.14" x2="608.77" y2="463.59" stroke="#111" stroke-width="0.8"/>
<line x1="607.27" y1="457.14" x2="610.27" y2="457.14" stroke="#111" stroke-width="0.8"/>
<line x1="607.27" y1="463.59" x2="610.27" y2="463.59" stroke="#111" stroke-width="0.8"/>
<line x1="612.00" y1="457.05" x2="612.00" y2="463.50" stroke="#111" stroke-width="0.8"/>
<line x1="610.50" y1="457.05" x2="613.50" y2="457.05" stroke="#111" stroke-width="0.8"/>
<line x1="610.50" y1="463.50" x2="613.50" y2="463.50" stroke="#111" stroke-width="0.8"/>
<line x1="615.23" y1="456.98" x2="615.23" y2="463.43" stroke="#111" stroke-width="0.8"/>
<line x1="613.73" y1="456.98" x2="616.73" y2="456.98" stroke="#111" stroke-width="0.8"/>
<line x1="613.73" y1="463.43" x2="616.73" y2="463.43" stroke="#111" stroke-width="0.8"/>
<line x1="618.45" y1="456.90" x2="618.45" y2="463.36" stroke="#111" stroke-width="0.8"/>
<line x1="616.95" y1="456.90" x2="619.95" y2="456.90" stroke="#111" stroke-width="0.8"/>
<line x1="616.95" y1="463.36" x2="619.95" y2="463.36" stroke="#111" stroke-width="0.8"/>
<line x1="621.67" y1="456.84" x2="621.67" y2="463.29" stroke="#111" stroke-width="0.8"/>
<line x1="620.17" y1="456.84" x2="623.17" y2="456.84" stroke="#111" stroke-width="0.8"/>
<line x1="620.17" y1="463.29" x2="623.17" y2="463.29" stroke="#111" stroke-width="0.8"/>
<line x1="624.90" y1="456.78" x2="624.90" y2="463.23" stroke="#111" stroke-width="0.8"/>
<line x1="623.40" y1="456.78" x2="626.40" y2="456.78" stroke="#111" stroke-width="0.8"/>
<line x1="623.40" y1="463.23" x2="626.40" y2="463.23" stroke="#111" stroke-width="0.8"/>
<line x1="628.12" y1="456.72" x2="628.12" y2="463.18" stroke="#111" stroke-width="0.8"/>
<line x1="626.62" y1="456.72" x2="629.62" y2="456.72" stroke="#111" stroke-width="0.8"/>
<line x1="626.62" y1="463.18" x2="629.62" y2="463.18" stroke="#111" stroke-width="0.8"/>
<line x1="631.35" y1="456.67" x2="631.35" y2="463.13" stroke="#111" stroke-width="0.8"/>
<line x1="629.85" y1="456.67" x2="632.85" y2="456.67" stroke="#111" stroke-width="0.8"/>
<line x1="629.85" y1="463.13" x2="632.85" y2="463.13" stroke="#111" stroke-width="0.8"/>
<line x1="634.58" y1="456.62" x2="634.58" y2="463.08" stroke="#111" stroke-width="0.8"/>
<line x1="633.08" y1="456.62" x2="636.08" y2="456.62" stroke="#111" stroke-width="0.8"/>
<line x1="633.08" y1="463.08" x2="636.08" y2="463.08" stroke="#111" stroke-width="0.8"/>
<line x1="637.80" y1="456.58" x2="637.80" y2="463.03" stroke="#111" stroke-width="0.8"/>
<line x1="636.30" y1="456.58" x2="639.30" y2="456.58" stroke="#111" stroke-width="0.8"/>
<line x1="636.30" y1="463.03" x2="639.30" y2="463.03" stroke="#111" stroke-width="0.8"/>
<line x1="641.02" y1="456.53" x2="641.02" y2="462.99" stroke="#111" stroke-width="0.8"/>
<line x1="639.52" y1="456.53" x2="642.52" y2="456.53" stroke="#111" stroke-width="0.8"/>
<line x1="639.52" y1="462.99" x2="642.52" y2="462.99" stroke="#111" stroke-width="0.8"/>
<line x1="644.25" y1="456.50" x2="644.25" y2="462.96" stroke="#111" stroke-width="0.8"/>
<line x1="642.75" y1="456.50" x2="645.75" y2="456.50" stroke="#111" stroke-width="0.8"/>
<line x1="642.75" y1="462.96" x2="645.75" y2="462.96" stroke="#111" stroke-width="0.8"/>
<line x1="647.48" y1="456.46" x2="647.48" y2="462.92" stroke="#111" stroke-width="0.8"/>
<line x1="645.98" y1="456.46" x2="648.98" y2="456.46" stroke="#111" stroke-width="0.8"/>
<line x1="645.98" y1="462.92" x2="648.98" y2="462.92" stroke="#111" stroke-width="0.8"/>
<line x1="650.70" y1="456.43" x2="650.70" y2="462.89" stroke="#111" stroke-width="0.8"/>
<line x1="649.20" y1="456.43" x2="652.20" y2="456.43" stroke="#111" stroke-width="0.8"/>
<line x1="649.20" y1="462.89" x2="652.20" y2="462.89" stroke="#111" stroke-width="0.8"/>
<line x1="653.92" y1="456.40" x2="653.92" y2="462.86" stroke="#111" stroke-width="0.8"/>
<line x1="652.42" y1="456.40" x2="655.42" y2="456.40" stroke="#111" stroke-width="0.8"/>
<line x1="652.42" y1="462.86" x2="655.42" y2="462.86" stroke="#111" stroke-width="0.8"/>
<line x1="657.15" y1="456.37" x2="657.15" y2="462.83" stroke="#111" stroke-width="0.8"/>
<line x1="655.65" y1="456.37" x2="658.65" y2="456.37" stroke="#111" stroke-width="0.8"/>
<line x1="655.65" y1="462.83" x2="658.65" y2="462.83" stroke="#111" stroke-width="0.8"/>
<line x1="660.38" y1="456.34" x2="660.38" y2="462.80" stroke="#111" stroke-width="0.8"/>
<line x1="658.88" y1="456.34" x2="661.88" y2="456.34" stroke="#111" stroke-width="0.8"/>
<line x1="658.88" y1="462.80" x2="661.88" y2="462.80" stroke="#111" stroke-width="0.8"/>
<line x1="663.60" y1="456.32" x2="663.60" y2="462.78" stroke="#111" stroke-width="0.8"/>
<line x1="662.10" y1="456.32" x2="665.10" y2="456.32" stroke="#111" stroke-width="0.8"/>
<line x1="662.10" y1="462.78" x2="665.10" y2="462.78" stroke="#111" stroke-width="0.8"/>
<line x1="666.83" y1="456.30" x2="666.83" y2="462.76" stroke="#111" stroke-width="0.8"/>
<line x1="665.33" y1="456.30" x2="668.33" y2="456.30" stroke="#111" stroke-width="0.8"/>
<line x1="665.33" y1="462.76" x2="668.33" y2="462.76" stroke="#111" stroke-width="0.8"/>
<line x1="670.05" y1="456.28" x2="670.05" y2="462.74" stroke="#111" stroke-width="0.8"/>
<line x1="668.55" y1="456.28" x2="671.55" y2="456.28" stroke="#111" stroke-width="0.8"/>
<line x1="668.55" y1="462.74" x2="671.55" y2="462.74" stroke="#111" stroke-width="0.8"/>
<line x1="673.27" y1="456.26" x2="673.27" y2="462.72" stroke="#111" stroke-width="0.8"/>
<line x1="671.77" y1="456.26" x2="674.77" y2="456.26" stroke="#111" stroke-width="0.8"/>
<line x1="671.77" y1="462.72" x2="674.77" y2="462.72" stroke="#111" stroke-width="0.8"/>
<circle cx="483.00" cy="481.60" r="2.1" fill="#000"/>
<circle cx="486.23" cy="479.95" r="2.1" fill="#000"/>
<circle cx="489.45" cy="478.41" r="2.1" fill="#000"/>
<circle cx="492.68" cy="476.99" r="2.1" fill="#000"/>
<circle cx="495.90" cy="475.68" r="2.1" fill="#000"/>
<circle cx="499.12" cy="474.46" r="2.1" fill="#000"/>
<circle cx="502.35" cy="473.34" r="2.1" fill="#000"/>
<circle cx="505.57" cy="472.29" r="2.1" fill="#000"/>
<circle cx="508.80" cy="471.33" r="2.1" fill="#000"/>
<circle cx="512.02" cy="470.43" r="2.1" fill="#000"/>
<circle cx="515.25" cy="469.61" r="2.1" fill="#000"/>
<circle cx="518.48" cy="468.84" r="2.1" fill="#000"/>
<circle cx="521.70" cy="468.13" r="2.1" fill="#000"/>
<circle cx="524.92" cy="467.47" r="2.1" fill="#000"/>
<circle cx="528.15" cy="466.86" r="2.1" fill="#000"/>
<circle cx="531.38" cy="466.30" r="2.1" fill="#000"/>
<circle cx="534.60" cy="465.78" r="2.1" fill="#000"/>
<circle cx="537.83" cy="465.29" r="2.1" fill="#000"/>
<circle cx="541.05" cy="464.85" r="2.1" fill="#000"/>
<circle cx="544.27" cy="464.43" r="2.1" fill="#000"/>
<circle cx="547.50" cy="464.05" r="2.1" fill="#000"/>
<circle cx="550.73" cy="463.69" r="2.1" fill="#000"/>
<circle cx="553.95" cy="463.36" r="2.1" fill="#000"/>
<circle cx="557.17" cy="463.06" r="2.1" fill="#000"/>
<circle cx="560.40" cy="462.78" r="2.1" fill="#000"/>
<circle cx="563.62" cy="462.52" r="2.1" fill="#000"/>
<circle cx="566.85" cy="462.27" r="2.1" fill="#000"/>
<circle cx="570.08" cy="462.05" r="2.1" fill="#000"/>
<circle cx="573.30" cy="461.84" r="2.1" fill="#000"/>
<circle cx="576.52" cy="461.65" r="2.1" fill="#000"/>
<circle cx="579.75" cy="461.47" r="2.1" fill="#000"/>
<circle cx="582.98" cy="461.31" r="2.1" fill="#000"/>
<circle cx="586.20" cy="461.16" r="2.1" fill="#000"/>
<circle cx="589.42" cy="461.01" r="2.1" fill="#000"/>
<circle cx="592.65" cy="460.88" r="2.1" fill="#000"/>
<circle cx="595.88" cy="460.76" r="2.1" fill="#000"/>
<circle cx="599.10" cy="460.65" r="2.1" fill="#000"/>
<circle cx="602.33" cy="460.55" r="2.1" fill="#000"/>
<circle cx="605.55" cy="460.45" r="2.1" fill="#000"/>
<circle cx="608.77" cy="460.36" r="2.1" fill="#000"/>
<circle cx="612.00" cy="460.28" r="2.1" fill="#000"/>
<circle cx="615.23" cy="460.20" r="2.1" fill="#000"/>
<circle cx="618.45" cy="460.13" r="2.1" fill="#000"/>
<circle cx="621.67" cy="460.07" r="2.1" fill="#000"/>
<circle cx="624.90" cy="460.01" r="2.1" fill="#000"/>
<circle cx="628.12" cy="459.95" r="2.1" fill="#000"/>
<circle cx="631.35" cy="459.90" r="2.1" fill="#000"/>
<circle cx="634.58" cy="459.85" r="2.1" fill="#000"/>
<circle cx="637.80" cy="459.81" r="2.1" fill="#000"/>
<circle cx="641.02" cy="459.76" r="2.1" fill="#000"/>
<circle cx="644.25" cy="459.73" r="2.1" fill="#000"/>
<circle cx="647.48" cy="459.69" r="2.1" fill="#000"/>
<circle cx="650.70" cy="459.66" r="2.1" fill="#000"/>
<circle cx="653.92" cy="459.63" r="2.1" fill="#000"/>
<circle cx="657.15" cy="459.60" r="2.1" fill="#000"/>
<circle cx="660.38" cy="459.57" r="2.1" fill="#000"/>
<circle cx="663.60" cy="459.55" r="2.1" fill="#000"/>
<circle cx="666.83" cy="459.53" r="2.1" fill="#000"/>
<circle cx="670.05" cy="459.51" r="2.1" fill="#000"/>
<circle cx="673.27" cy="459.49" r="2.1" fill="#000"/>
<circle cx="491.6" cy="352.9" r="2" fill="#000"/>
<rect x="489.6" y="367.8" width="4" height="4" fill="#f23a3a"/>
<text x="506.6" y="356.2" font-size="11.5" font-weight="bold" text-anchor="start" fill="#000">Control Day7</text>
<text x="506.6" y="373.3" font-size="11.5" font-weight="bold" text-anchor="start" fill="#000">SPM Day7</text>
<text x="455.5" y="418.5" font-size="14.2" font-weight="bold" text-anchor="middle" fill="#000" transform="rotate(-90 455.5 418.5)">Fluorescence recovery (%)</text>
<text x="580" y="518" font-size="14" font-weight="bold" text-anchor="middle" fill="#000">Time (s)</text>
<text x="459.3" y="562.6" font-size="15.5" font-weight="bold" text-anchor="start" fill="#000">F</text>
<line x1="480.6" y1="616.5999999999999" x2="480.6" y2="747.4" stroke="#000" stroke-width="2"/>
<line x1="479.6" y1="746.4" x2="673.5" y2="746.4" stroke="#000" stroke-width="2"/>
<line x1="474.6" y1="746.4" x2="480.6" y2="746.4" stroke="#000" stroke-width="1.6"/>
<text x="473.6" y="750.4" font-size="11.2" font-weight="bold" text-anchor="end" fill="#000">0</text>
<line x1="474.6" y1="720.64" x2="480.6" y2="720.64" stroke="#000" stroke-width="1.6"/>
<text x="473.6" y="724.64" font-size="11.2" font-weight="bold" text-anchor="end" fill="#000">20</text>
<line x1="474.6" y1="694.88" x2="480.6" y2="694.88" stroke="#000" stroke-width="1.6"/>
<text x="473.6" y="698.88" font-size="11.2" font-weight="bold" text-anchor="end" fill="#000">40</text>
<line x1="474.6" y1="669.12" x2="480.6" y2="669.12" stroke="#000" stroke-width="1.6"/>
<text x="473.6" y="673.12" font-size="11.2" font-weight="bold" text-anchor="end" fill="#000">60</text>
<line x1="474.6" y1="643.36" x2="480.6" y2="643.36" stroke="#000" stroke-width="1.6"/>
<text x="473.6" y="647.36" font-size="11.2" font-weight="bold" text-anchor="end" fill="#000">80</text>
<line x1="474.6" y1="617.5999999999999" x2="480.6" y2="617.5999999999999" stroke="#000" stroke-width="1.6"/>
<text x="473.6" y="621.5999999999999" font-size="11.2" font-weight="bold" text-anchor="end" fill="#000">100</text>
<line x1="480.6" y1="746.4" x2="480.6" y2="752.4" stroke="#000" stroke-width="1.2"/>
<line x1="487.03000000000003" y1="746.4" x2="487.03000000000003" y2="749.9" stroke="#000" stroke-width="1.2"/>
<line x1="493.46000000000004" y1="746.4" x2="493.46000000000004" y2="749.9" stroke="#000" stroke-width="1.2"/>
<line x1="499.89000000000004" y1="746.4" x2="499.89000000000004" y2="749.9" stroke="#000" stroke-width="1.2"/>
<line x1="506.32000000000005" y1="746.4" x2="506.32000000000005" y2="749.9" stroke="#000" stroke-width="1.2"/>
<line x1="512.75" y1="746.4" x2="512.75" y2="749.9" stroke="#000" stroke-width="1.2"/>
<line x1="519.1800000000001" y1="746.4" x2="519.1800000000001" y2="749.9" stroke="#000" stroke-width="1.2"/>
<line x1="525.61" y1="746.4" x2="525.61" y2="749.9" stroke="#000" stroke-width="1.2"/>
<line x1="532.04" y1="746.4" x2="532.04" y2="749.9" stroke="#000" stroke-width="1.2"/>
<line x1="538.47" y1="746.4" x2="538.47" y2="749.9" stroke="#000" stroke-width="1.2"/>
<line x1="544.9" y1="746.4" x2="544.9" y2="752.4" stroke="#000" stroke-width="1.2"/>
<line x1="551.33" y1="746.4" x2="551.33" y2="749.9" stroke="#000" stroke-width="1.2"/>
<line x1="557.76" y1="746.4" x2="557.76" y2="749.9" stroke="#000" stroke-width="1.2"/>
<line x1="564.19" y1="746.4" x2="564.19" y2="749.9" stroke="#000" stroke-width="1.2"/>
<line x1="570.62" y1="746.4" x2="570.62" y2="749.9" stroke="#000" stroke-width="1.2"/>
<line x1="577.05" y1="746.4" x2="577.05" y2="749.9" stroke="#000" stroke-width="1.2"/>
<line x1="583.48" y1="746.4" x2="583.48" y2="749.9" stroke="#000" stroke-width="1.2"/>
<line x1="589.9100000000001" y1="746.4" x2="589.9100000000001" y2="749.9" stroke="#000" stroke-width="1.2"/>
<line x1="596.34" y1="746.4" x2="596.34" y2="749.9" stroke="#000" stroke-width="1.2"/>
<line x1="602.77" y1="746.4" x2="602.77" y2="749.9" stroke="#000" stroke-width="1.2"/>
<line x1="609.2" y1="746.4" x2="609.2" y2="752.4" stroke="#000" stroke-width="1.2"/>
<line x1="615.63" y1="746.4" x2="615.63" y2="749.9" stroke="#000" stroke-width="1.2"/>
<line x1="622.06" y1="746.4" x2="622.06" y2="749.9" stroke="#000" stroke-width="1.2"/>
<line x1="628.49" y1="746.4" x2="628.49" y2="749.9" stroke="#000" stroke-width="1.2"/>
<line x1="634.9200000000001" y1="746.4" x2="634.9200000000001" y2="749.9" stroke="#000" stroke-width="1.2"/>
<line x1="641.35" y1="746.4" x2="641.35" y2="749.9" stroke="#000" stroke-width="1.2"/>
<line x1="647.78" y1="746.4" x2="647.78" y2="749.9" stroke="#000" stroke-width="1.2"/>
<line x1="654.21" y1="746.4" x2="654.21" y2="749.9" stroke="#000" stroke-width="1.2"/>
<line x1="660.64" y1="746.4" x2="660.64" y2="749.9" stroke="#000" stroke-width="1.2"/>
<line x1="667.07" y1="746.4" x2="667.07" y2="749.9" stroke="#000" stroke-width="1.2"/>
<line x1="673.5" y1="746.4" x2="673.5" y2="752.4" stroke="#000" stroke-width="1.2"/>
<text x="480.6" y="762" font-size="11.2" font-weight="bold" text-anchor="middle" fill="#000">0</text>
<text x="544.9" y="762" font-size="11.2" font-weight="bold" text-anchor="middle" fill="#000">20</text>
<text x="609.2" y="762" font-size="11.2" font-weight="bold" text-anchor="middle" fill="#000">40</text>
<text x="673.5" y="762" font-size="11.2" font-weight="bold" text-anchor="middle" fill="#000">60</text>
<line x1="487.03" y1="722.23" x2="487.03" y2="723.89" stroke="#f04848" stroke-width="0.8"/>
<line x1="485.53" y1="722.23" x2="488.53" y2="722.23" stroke="#f04848" stroke-width="0.8"/>
<line x1="485.53" y1="723.89" x2="488.53" y2="723.89" stroke="#f04848" stroke-width="0.8"/>
<line x1="490.25" y1="712.57" x2="490.25" y2="715.56" stroke="#f04848" stroke-width="0.8"/>
<line x1="488.75" y1="712.57" x2="491.75" y2="712.57" stroke="#f04848" stroke-width="0.8"/>
<line x1="488.75" y1="715.56" x2="491.75" y2="715.56" stroke="#f04848" stroke-width="0.8"/>
<line x1="493.46" y1="704.22" x2="493.46" y2="708.70" stroke="#f04848" stroke-width="0.8"/>
<line x1="491.96" y1="704.22" x2="494.96" y2="704.22" stroke="#f04848" stroke-width="0.8"/>
<line x1="491.96" y1="708.70" x2="494.96" y2="708.70" stroke="#f04848" stroke-width="0.8"/>
<line x1="496.68" y1="696.98" x2="496.68" y2="703.07" stroke="#f04848" stroke-width="0.8"/>
<line x1="495.18" y1="696.98" x2="498.18" y2="696.98" stroke="#f04848" stroke-width="0.8"/>
<line x1="495.18" y1="703.07" x2="498.18" y2="703.07" stroke="#f04848" stroke-width="0.8"/>
<line x1="499.89" y1="690.68" x2="499.89" y2="698.43" stroke="#f04848" stroke-width="0.8"/>
<line x1="498.39" y1="690.68" x2="501.39" y2="690.68" stroke="#f04848" stroke-width="0.8"/>
<line x1="498.39" y1="698.43" x2="501.39" y2="698.43" stroke="#f04848" stroke-width="0.8"/>
<line x1="503.11" y1="685.19" x2="503.11" y2="694.63" stroke="#f04848" stroke-width="0.8"/>
<line x1="501.61" y1="685.19" x2="504.61" y2="685.19" stroke="#f04848" stroke-width="0.8"/>
<line x1="501.61" y1="694.63" x2="504.61" y2="694.63" stroke="#f04848" stroke-width="0.8"/>
<line x1="506.32" y1="680.39" x2="506.32" y2="691.50" stroke="#f04848" stroke-width="0.8"/>
<line x1="504.82" y1="680.39" x2="507.82" y2="680.39" stroke="#f04848" stroke-width="0.8"/>
<line x1="504.82" y1="691.50" x2="507.82" y2="691.50" stroke="#f04848" stroke-width="0.8"/>
<line x1="509.54" y1="676.18" x2="509.54" y2="688.94" stroke="#f04848" stroke-width="0.8"/>
<line x1="508.04" y1="676.18" x2="511.04" y2="676.18" stroke="#f04848" stroke-width="0.8"/>
<line x1="508.04" y1="688.94" x2="511.04" y2="688.94" stroke="#f04848" stroke-width="0.8"/>
<line x1="512.75" y1="672.48" x2="512.75" y2="686.84" stroke="#f04848" stroke-width="0.8"/>
<line x1="511.25" y1="672.48" x2="514.25" y2="672.48" stroke="#f04848" stroke-width="0.8"/>
<line x1="511.25" y1="686.84" x2="514.25" y2="686.84" stroke="#f04848" stroke-width="0.8"/>
<line x1="515.97" y1="669.23" x2="515.97" y2="685.13" stroke="#f04848" stroke-width="0.8"/>
<line x1="514.47" y1="669.23" x2="517.47" y2="669.23" stroke="#f04848" stroke-width="0.8"/>
<line x1="514.47" y1="685.13" x2="517.47" y2="685.13" stroke="#f04848" stroke-width="0.8"/>
<line x1="519.18" y1="666.36" x2="519.18" y2="683.72" stroke="#f04848" stroke-width="0.8"/>
<line x1="517.68" y1="666.36" x2="520.68" y2="666.36" stroke="#f04848" stroke-width="0.8"/>
<line x1="517.68" y1="683.72" x2="520.68" y2="683.72" stroke="#f04848" stroke-width="0.8"/>
<line x1="522.39" y1="663.83" x2="522.39" y2="682.57" stroke="#f04848" stroke-width="0.8"/>
<line x1="520.89" y1="663.83" x2="523.89" y2="663.83" stroke="#f04848" stroke-width="0.8"/>
<line x1="520.89" y1="682.57" x2="523.89" y2="682.57" stroke="#f04848" stroke-width="0.8"/>
<line x1="525.61" y1="661.60" x2="525.61" y2="681.63" stroke="#f04848" stroke-width="0.8"/>
<line x1="524.11" y1="661.60" x2="527.11" y2="661.60" stroke="#f04848" stroke-width="0.8"/>
<line x1="524.11" y1="681.63" x2="527.11" y2="681.63" stroke="#f04848" stroke-width="0.8"/>
<line x1="528.83" y1="659.63" x2="528.83" y2="680.86" stroke="#f04848" stroke-width="0.8"/>
<line x1="527.33" y1="659.63" x2="530.33" y2="659.63" stroke="#f04848" stroke-width="0.8"/>
<line x1="527.33" y1="680.86" x2="530.33" y2="680.86" stroke="#f04848" stroke-width="0.8"/>
<line x1="532.04" y1="657.88" x2="532.04" y2="680.23" stroke="#f04848" stroke-width="0.8"/>
<line x1="530.54" y1="657.88" x2="533.54" y2="657.88" stroke="#f04848" stroke-width="0.8"/>
<line x1="530.54" y1="680.23" x2="533.54" y2="680.23" stroke="#f04848" stroke-width="0.8"/>
<line x1="535.25" y1="656.34" x2="535.25" y2="679.71" stroke="#f04848" stroke-width="0.8"/>
<line x1="533.75" y1="656.34" x2="536.75" y2="656.34" stroke="#f04848" stroke-width="0.8"/>
<line x1="533.75" y1="679.71" x2="536.75" y2="679.71" stroke="#f04848" stroke-width="0.8"/>
<line x1="538.47" y1="654.97" x2="538.47" y2="679.28" stroke="#f04848" stroke-width="0.8"/>
<line x1="536.97" y1="654.97" x2="539.97" y2="654.97" stroke="#f04848" stroke-width="0.8"/>
<line x1="536.97" y1="679.28" x2="539.97" y2="679.28" stroke="#f04848" stroke-width="0.8"/>
<line x1="541.69" y1="653.76" x2="541.69" y2="678.93" stroke="#f04848" stroke-width="0.8"/>
<line x1="540.19" y1="653.76" x2="543.19" y2="653.76" stroke="#f04848" stroke-width="0.8"/>
<line x1="540.19" y1="678.93" x2="543.19" y2="678.93" stroke="#f04848" stroke-width="0.8"/>
<line x1="544.90" y1="652.70" x2="544.90" y2="678.64" stroke="#f04848" stroke-width="0.8"/>
<line x1="543.40" y1="652.70" x2="546.40" y2="652.70" stroke="#f04848" stroke-width="0.8"/>
<line x1="543.40" y1="678.64" x2="546.40" y2="678.64" stroke="#f04848" stroke-width="0.8"/>
<line x1="548.12" y1="651.76" x2="548.12" y2="678.39" stroke="#f04848" stroke-width="0.8"/>
<line x1="546.62" y1="651.76" x2="549.62" y2="651.76" stroke="#f04848" stroke-width="0.8"/>
<line x1="546.62" y1="678.39" x2="549.62" y2="678.39" stroke="#f04848" stroke-width="0.8"/>
<line x1="551.33" y1="650.92" x2="551.33" y2="678.19" stroke="#f04848" stroke-width="0.8"/>
<line x1="549.83" y1="650.92" x2="552.83" y2="650.92" stroke="#f04848" stroke-width="0.8"/>
<line x1="549.83" y1="678.19" x2="552.83" y2="678.19" stroke="#f04848" stroke-width="0.8"/>
<line x1="554.55" y1="650.19" x2="554.55" y2="678.02" stroke="#f04848" stroke-width="0.8"/>
<line x1="553.05" y1="650.19" x2="556.05" y2="650.19" stroke="#f04848" stroke-width="0.8"/>
<line x1="553.05" y1="678.02" x2="556.05" y2="678.02" stroke="#f04848" stroke-width="0.8"/>
<line x1="557.76" y1="649.54" x2="557.76" y2="677.87" stroke="#f04848" stroke-width="0.8"/>
<line x1="556.26" y1="649.54" x2="559.26" y2="649.54" stroke="#f04848" stroke-width="0.8"/>
<line x1="556.26" y1="677.87" x2="559.26" y2="677.87" stroke="#f04848" stroke-width="0.8"/>
<line x1="560.98" y1="648.97" x2="560.98" y2="677.74" stroke="#f04848" stroke-width="0.8"/>
<line x1="559.48" y1="648.97" x2="562.48" y2="648.97" stroke="#f04848" stroke-width="0.8"/>
<line x1="559.48" y1="677.74" x2="562.48" y2="677.74" stroke="#f04848" stroke-width="0.8"/>
<line x1="564.19" y1="648.47" x2="564.19" y2="677.63" stroke="#f04848" stroke-width="0.8"/>
<line x1="562.69" y1="648.47" x2="565.69" y2="648.47" stroke="#f04848" stroke-width="0.8"/>
<line x1="562.69" y1="677.63" x2="565.69" y2="677.63" stroke="#f04848" stroke-width="0.8"/>
<line x1="567.40" y1="648.03" x2="567.40" y2="677.54" stroke="#f04848" stroke-width="0.8"/>
<line x1="565.90" y1="648.03" x2="568.90" y2="648.03" stroke="#f04848" stroke-width="0.8"/>
<line x1="565.90" y1="677.54" x2="568.90" y2="677.54" stroke="#f04848" stroke-width="0.8"/>
<line x1="570.62" y1="647.64" x2="570.62" y2="677.45" stroke="#f04848" stroke-width="0.8"/>
<line x1="569.12" y1="647.64" x2="572.12" y2="647.64" stroke="#f04848" stroke-width="0.8"/>
<line x1="569.12" y1="677.45" x2="572.12" y2="677.45" stroke="#f04848" stroke-width="0.8"/>
<line x1="573.84" y1="647.30" x2="573.84" y2="677.38" stroke="#f04848" stroke-width="0.8"/>
<line x1="572.34" y1="647.30" x2="575.34" y2="647.30" stroke="#f04848" stroke-width="0.8"/>
<line x1="572.34" y1="677.38" x2="575.34" y2="677.38" stroke="#f04848" stroke-width="0.8"/>
<line x1="577.05" y1="647.00" x2="577.05" y2="677.31" stroke="#f04848" stroke-width="0.8"/>
<line x1="575.55" y1="647.00" x2="578.55" y2="647.00" stroke="#f04848" stroke-width="0.8"/>
<line x1="575.55" y1="677.31" x2="578.55" y2="677.31" stroke="#f04848" stroke-width="0.8"/>
<line x1="580.26" y1="646.74" x2="580.26" y2="677.25" stroke="#f04848" stroke-width="0.8"/>
<line x1="578.76" y1="646.74" x2="581.76" y2="646.74" stroke="#f04848" stroke-width="0.8"/>
<line x1="578.76" y1="677.25" x2="581.76" y2="677.25" stroke="#f04848" stroke-width="0.8"/>
<line x1="583.48" y1="646.51" x2="583.48" y2="677.19" stroke="#f04848" stroke-width="0.8"/>
<line x1="581.98" y1="646.51" x2="584.98" y2="646.51" stroke="#f04848" stroke-width="0.8"/>
<line x1="581.98" y1="677.19" x2="584.98" y2="677.19" stroke="#f04848" stroke-width="0.8"/>
<line x1="586.70" y1="646.31" x2="586.70" y2="677.14" stroke="#f04848" stroke-width="0.8"/>
<line x1="585.20" y1="646.31" x2="588.20" y2="646.31" stroke="#f04848" stroke-width="0.8"/>
<line x1="585.20" y1="677.14" x2="588.20" y2="677.14" stroke="#f04848" stroke-width="0.8"/>
<line x1="589.91" y1="646.13" x2="589.91" y2="677.09" stroke="#f04848" stroke-width="0.8"/>
<line x1="588.41" y1="646.13" x2="591.41" y2="646.13" stroke="#f04848" stroke-width="0.8"/>
<line x1="588.41" y1="677.09" x2="591.41" y2="677.09" stroke="#f04848" stroke-width="0.8"/>
<line x1="593.12" y1="645.98" x2="593.12" y2="677.05" stroke="#f04848" stroke-width="0.8"/>
<line x1="591.62" y1="645.98" x2="594.62" y2="645.98" stroke="#f04848" stroke-width="0.8"/>
<line x1="591.62" y1="677.05" x2="594.62" y2="677.05" stroke="#f04848" stroke-width="0.8"/>
<line x1="596.34" y1="645.84" x2="596.34" y2="677.01" stroke="#f04848" stroke-width="0.8"/>
<line x1="594.84" y1="645.84" x2="597.84" y2="645.84" stroke="#f04848" stroke-width="0.8"/>
<line x1="594.84" y1="677.01" x2="597.84" y2="677.01" stroke="#f04848" stroke-width="0.8"/>
<line x1="599.56" y1="645.72" x2="599.56" y2="676.98" stroke="#f04848" stroke-width="0.8"/>
<line x1="598.06" y1="645.72" x2="601.06" y2="645.72" stroke="#f04848" stroke-width="0.8"/>
<line x1="598.06" y1="676.98" x2="601.06" y2="676.98" stroke="#f04848" stroke-width="0.8"/>
<line x1="602.77" y1="645.62" x2="602.77" y2="676.94" stroke="#f04848" stroke-width="0.8"/>
<line x1="601.27" y1="645.62" x2="604.27" y2="645.62" stroke="#f04848" stroke-width="0.8"/>
<line x1="601.27" y1="676.94" x2="604.27" y2="676.94" stroke="#f04848" stroke-width="0.8"/>
<line x1="605.99" y1="645.53" x2="605.99" y2="676.91" stroke="#f04848" stroke-width="0.8"/>
<line x1="604.49" y1="645.53" x2="607.49" y2="645.53" stroke="#f04848" stroke-width="0.8"/>
<line x1="604.49" y1="676.91" x2="607.49" y2="676.91" stroke="#f04848" stroke-width="0.8"/>
<line x1="609.20" y1="645.45" x2="609.20" y2="676.88" stroke="#f04848" stroke-width="0.8"/>
<line x1="607.70" y1="645.45" x2="610.70" y2="645.45" stroke="#f04848" stroke-width="0.8"/>
<line x1="607.70" y1="676.88" x2="610.70" y2="676.88" stroke="#f04848" stroke-width="0.8"/>
<line x1="612.41" y1="645.38" x2="612.41" y2="676.86" stroke="#f04848" stroke-width="0.8"/>
<line x1="610.91" y1="645.38" x2="613.91" y2="645.38" stroke="#f04848" stroke-width="0.8"/>
<line x1="610.91" y1="676.86" x2="613.91" y2="676.86" stroke="#f04848" stroke-width="0.8"/>
<line x1="615.63" y1="645.32" x2="615.63" y2="676.83" stroke="#f04848" stroke-width="0.8"/>
<line x1="614.13" y1="645.32" x2="617.13" y2="645.32" stroke="#f04848" stroke-width="0.8"/>
<line x1="614.13" y1="676.83" x2="617.13" y2="676.83" stroke="#f04848" stroke-width="0.8"/>
<line x1="618.85" y1="645.27" x2="618.85" y2="676.81" stroke="#f04848" stroke-width="0.8"/>
<line x1="617.35" y1="645.27" x2="620.35" y2="645.27" stroke="#f04848" stroke-width="0.8"/>
<line x1="617.35" y1="676.81" x2="620.35" y2="676.81" stroke="#f04848" stroke-width="0.8"/>
<line x1="622.06" y1="645.23" x2="622.06" y2="676.79" stroke="#f04848" stroke-width="0.8"/>
<line x1="620.56" y1="645.23" x2="623.56" y2="645.23" stroke="#f04848" stroke-width="0.8"/>
<line x1="620.56" y1="676.79" x2="623.56" y2="676.79" stroke="#f04848" stroke-width="0.8"/>
<line x1="625.27" y1="645.19" x2="625.27" y2="676.77" stroke="#f04848" stroke-width="0.8"/>
<line x1="623.77" y1="645.19" x2="626.77" y2="645.19" stroke="#f04848" stroke-width="0.8"/>
<line x1="623.77" y1="676.77" x2="626.77" y2="676.77" stroke="#f04848" stroke-width="0.8"/>
<line x1="628.49" y1="645.15" x2="628.49" y2="676.75" stroke="#f04848" stroke-width="0.8"/>
<line x1="626.99" y1="645.15" x2="629.99" y2="645.15" stroke="#f04848" stroke-width="0.8"/>
<line x1="626.99" y1="676.75" x2="629.99" y2="676.75" stroke="#f04848" stroke-width="0.8"/>
<line x1="631.71" y1="645.12" x2="631.71" y2="676.74" stroke="#f04848" stroke-width="0.8"/>
<line x1="630.21" y1="645.12" x2="633.21" y2="645.12" stroke="#f04848" stroke-width="0.8"/>
<line x1="630.21" y1="676.74" x2="633.21" y2="676.74" stroke="#f04848" stroke-width="0.8"/>
<line x1="634.92" y1="645.10" x2="634.92" y2="676.72" stroke="#f04848" stroke-width="0.8"/>
<line x1="633.42" y1="645.10" x2="636.42" y2="645.10" stroke="#f04848" stroke-width="0.8"/>
<line x1="633.42" y1="676.72" x2="636.42" y2="676.72" stroke="#f04848" stroke-width="0.8"/>
<line x1="638.13" y1="645.07" x2="638.13" y2="676.71" stroke="#f04848" stroke-width="0.8"/>
<line x1="636.63" y1="645.07" x2="639.63" y2="645.07" stroke="#f04848" stroke-width="0.8"/>
<line x1="636.63" y1="676.71" x2="639.63" y2="676.71" stroke="#f04848" stroke-width="0.8"/>
<line x1="641.35" y1="645.05" x2="641.35" y2="676.70" stroke="#f04848" stroke-width="0.8"/>
<line x1="639.85" y1="645.05" x2="642.85" y2="645.05" stroke="#f04848" stroke-width="0.8"/>
<line x1="639.85" y1="676.70" x2="642.85" y2="676.70" stroke="#f04848" stroke-width="0.8"/>
<line x1="644.57" y1="645.03" x2="644.57" y2="676.69" stroke="#f04848" stroke-width="0.8"/>
<line x1="643.07" y1="645.03" x2="646.07" y2="645.03" stroke="#f04848" stroke-width="0.8"/>
<line x1="643.07" y1="676.69" x2="646.07" y2="676.69" stroke="#f04848" stroke-width="0.8"/>
<line x1="647.78" y1="645.02" x2="647.78" y2="676.68" stroke="#f04848" stroke-width="0.8"/>
<line x1="646.28" y1="645.02" x2="649.28" y2="645.02" stroke="#f04848" stroke-width="0.8"/>
<line x1="646.28" y1="676.68" x2="649.28" y2="676.68" stroke="#f04848" stroke-width="0.8"/>
<line x1="651.00" y1="645.01" x2="651.00" y2="676.67" stroke="#f04848" stroke-width="0.8"/>
<line x1="649.50" y1="645.01" x2="652.50" y2="645.01" stroke="#f04848" stroke-width="0.8"/>
<line x1="649.50" y1="676.67" x2="652.50" y2="676.67" stroke="#f04848" stroke-width="0.8"/>
<line x1="654.21" y1="644.99" x2="654.21" y2="676.66" stroke="#f04848" stroke-width="0.8"/>
<line x1="652.71" y1="644.99" x2="655.71" y2="644.99" stroke="#f04848" stroke-width="0.8"/>
<line x1="652.71" y1="676.66" x2="655.71" y2="676.66" stroke="#f04848" stroke-width="0.8"/>
<line x1="657.42" y1="644.98" x2="657.42" y2="676.65" stroke="#f04848" stroke-width="0.8"/>
<line x1="655.92" y1="644.98" x2="658.92" y2="644.98" stroke="#f04848" stroke-width="0.8"/>
<line x1="655.92" y1="676.65" x2="658.92" y2="676.65" stroke="#f04848" stroke-width="0.8"/>
<line x1="660.64" y1="644.97" x2="660.64" y2="676.65" stroke="#f04848" stroke-width="0.8"/>
<line x1="659.14" y1="644.97" x2="662.14" y2="644.97" stroke="#f04848" stroke-width="0.8"/>
<line x1="659.14" y1="676.65" x2="662.14" y2="676.65" stroke="#f04848" stroke-width="0.8"/>
<line x1="663.86" y1="644.97" x2="663.86" y2="676.64" stroke="#f04848" stroke-width="0.8"/>
<line x1="662.36" y1="644.97" x2="665.36" y2="644.97" stroke="#f04848" stroke-width="0.8"/>
<line x1="662.36" y1="676.64" x2="665.36" y2="676.64" stroke="#f04848" stroke-width="0.8"/>
<line x1="667.07" y1="644.96" x2="667.07" y2="676.64" stroke="#f04848" stroke-width="0.8"/>
<line x1="665.57" y1="644.96" x2="668.57" y2="644.96" stroke="#f04848" stroke-width="0.8"/>
<line x1="665.57" y1="676.64" x2="668.57" y2="676.64" stroke="#f04848" stroke-width="0.8"/>
<line x1="670.29" y1="644.95" x2="670.29" y2="676.63" stroke="#f04848" stroke-width="0.8"/>
<line x1="668.79" y1="644.95" x2="671.79" y2="644.95" stroke="#f04848" stroke-width="0.8"/>
<line x1="668.79" y1="676.63" x2="671.79" y2="676.63" stroke="#f04848" stroke-width="0.8"/>
<rect x="478.40" y="744.20" width="4.4" height="4.4" fill="#f23a3a"/>
<rect x="481.62" y="731.52" width="4.4" height="4.4" fill="#f23a3a"/>
<rect x="484.83" y="720.86" width="4.4" height="4.4" fill="#f23a3a"/>
<rect x="488.05" y="711.86" width="4.4" height="4.4" fill="#f23a3a"/>
<rect x="491.26" y="704.26" width="4.4" height="4.4" fill="#f23a3a"/>
<rect x="494.48" y="697.82" width="4.4" height="4.4" fill="#f23a3a"/>
<rect x="497.69" y="692.36" width="4.4" height="4.4" fill="#f23a3a"/>
<rect x="500.91" y="687.71" width="4.4" height="4.4" fill="#f23a3a"/>
<rect x="504.12" y="683.75" width="4.4" height="4.4" fill="#f23a3a"/>
<rect x="507.34" y="680.36" width="4.4" height="4.4" fill="#f23a3a"/>
<rect x="510.55" y="677.46" width="4.4" height="4.4" fill="#f23a3a"/>
<rect x="513.76" y="674.98" width="4.4" height="4.4" fill="#f23a3a"/>
<rect x="516.98" y="672.84" width="4.4" height="4.4" fill="#f23a3a"/>
<rect x="520.19" y="671.00" width="4.4" height="4.4" fill="#f23a3a"/>
<rect x="523.41" y="669.41" width="4.4" height="4.4" fill="#f23a3a"/>
<rect x="526.62" y="668.04" width="4.4" height="4.4" fill="#f23a3a"/>
<rect x="529.84" y="666.85" width="4.4" height="4.4" fill="#f23a3a"/>
<rect x="533.05" y="665.82" width="4.4" height="4.4" fill="#f23a3a"/>
<rect x="536.27" y="664.93" width="4.4" height="4.4" fill="#f23a3a"/>
<rect x="539.49" y="664.15" width="4.4" height="4.4" fill="#f23a3a"/>
<rect x="542.70" y="663.47" width="4.4" height="4.4" fill="#f23a3a"/>
<rect x="545.91" y="662.87" width="4.4" height="4.4" fill="#f23a3a"/>
<rect x="549.13" y="662.36" width="4.4" height="4.4" fill="#f23a3a"/>
<rect x="552.35" y="661.90" width="4.4" height="4.4" fill="#f23a3a"/>
<rect x="555.56" y="661.51" width="4.4" height="4.4" fill="#f23a3a"/>
<rect x="558.77" y="661.16" width="4.4" height="4.4" fill="#f23a3a"/>
<rect x="561.99" y="660.85" width="4.4" height="4.4" fill="#f23a3a"/>
<rect x="565.20" y="660.58" width="4.4" height="4.4" fill="#f23a3a"/>
<rect x="568.42" y="660.35" width="4.4" height="4.4" fill="#f23a3a"/>
<rect x="571.63" y="660.14" width="4.4" height="4.4" fill="#f23a3a"/>
<rect x="574.85" y="659.95" width="4.4" height="4.4" fill="#f23a3a"/>
<rect x="578.06" y="659.79" width="4.4" height="4.4" fill="#f23a3a"/>
<rect x="581.28" y="659.65" width="4.4" height="4.4" fill="#f23a3a"/>
<rect x="584.50" y="659.52" width="4.4" height="4.4" fill="#f23a3a"/>
<rect x="587.71" y="659.41" width="4.4" height="4.4" fill="#f23a3a"/>
<rect x="590.92" y="659.31" width="4.4" height="4.4" fill="#f23a3a"/>
<rect x="594.14" y="659.23" width="4.4" height="4.4" fill="#f23a3a"/>
<rect x="597.36" y="659.15" width="4.4" height="4.4" fill="#f23a3a"/>
<rect x="600.57" y="659.08" width="4.4" height="4.4" fill="#f23a3a"/>
<rect x="603.78" y="659.02" width="4.4" height="4.4" fill="#f23a3a"/>
<rect x="607.00" y="658.97" width="4.4" height="4.4" fill="#f23a3a"/>
<rect x="610.21" y="658.92" width="4.4" height="4.4" fill="#f23a3a"/>
<rect x="613.43" y="658.88" width="4.4" height="4.4" fill="#f23a3a"/>
<rect x="616.64" y="658.84" width="4.4" height="4.4" fill="#f23a3a"/>
<rect x="619.86" y="658.81" width="4.4" height="4.4" fill="#f23a3a"/>
<rect x="623.07" y="658.78" width="4.4" height="4.4" fill="#f23a3a"/>
<rect x="626.29" y="658.75" width="4.4" height="4.4" fill="#f23a3a"/>
<rect x="629.50" y="658.73" width="4.4" height="4.4" fill="#f23a3a"/>
<rect x="632.72" y="658.71" width="4.4" height="4.4" fill="#f23a3a"/>
<rect x="635.93" y="658.69" width="4.4" height="4.4" fill="#f23a3a"/>
<rect x="639.15" y="658.68" width="4.4" height="4.4" fill="#f23a3a"/>
<rect x="642.37" y="658.66" width="4.4" height="4.4" fill="#f23a3a"/>
<rect x="645.58" y="658.65" width="4.4" height="4.4" fill="#f23a3a"/>
<rect x="648.79" y="658.64" width="4.4" height="4.4" fill="#f23a3a"/>
<rect x="652.01" y="658.63" width="4.4" height="4.4" fill="#f23a3a"/>
<rect x="655.22" y="658.62" width="4.4" height="4.4" fill="#f23a3a"/>
<rect x="658.44" y="658.61" width="4.4" height="4.4" fill="#f23a3a"/>
<rect x="661.65" y="658.60" width="4.4" height="4.4" fill="#f23a3a"/>
<rect x="664.87" y="658.60" width="4.4" height="4.4" fill="#f23a3a"/>
<rect x="668.09" y="658.59" width="4.4" height="4.4" fill="#f23a3a"/>
<line x1="483.81" y1="744.88" x2="483.81" y2="745.80" stroke="#111" stroke-width="0.8"/>
<line x1="482.31" y1="744.88" x2="485.31" y2="744.88" stroke="#111" stroke-width="0.8"/>
<line x1="482.31" y1="745.80" x2="485.31" y2="745.80" stroke="#111" stroke-width="0.8"/>
<line x1="487.03" y1="743.42" x2="487.03" y2="745.21" stroke="#111" stroke-width="0.8"/>
<line x1="485.53" y1="743.42" x2="488.53" y2="743.42" stroke="#111" stroke-width="0.8"/>
<line x1="485.53" y1="745.21" x2="488.53" y2="745.21" stroke="#111" stroke-width="0.8"/>
<line x1="490.25" y1="742.00" x2="490.25" y2="744.65" stroke="#111" stroke-width="0.8"/>
<line x1="488.75" y1="742.00" x2="491.75" y2="742.00" stroke="#111" stroke-width="0.8"/>
<line x1="488.75" y1="744.65" x2="491.75" y2="744.65" stroke="#111" stroke-width="0.8"/>
<line x1="493.46" y1="740.63" x2="493.46" y2="744.10" stroke="#111" stroke-width="0.8"/>
<line x1="491.96" y1="740.63" x2="494.96" y2="740.63" stroke="#111" stroke-width="0.8"/>
<line x1="491.96" y1="744.10" x2="494.96" y2="744.10" stroke="#111" stroke-width="0.8"/>
<line x1="496.68" y1="739.30" x2="496.68" y2="743.57" stroke="#111" stroke-width="0.8"/>
<line x1="495.18" y1="739.30" x2="498.18" y2="739.30" stroke="#111" stroke-width="0.8"/>
<line x1="495.18" y1="743.57" x2="498.18" y2="743.57" stroke="#111" stroke-width="0.8"/>
<line x1="499.89" y1="738.02" x2="499.89" y2="743.06" stroke="#111" stroke-width="0.8"/>
<line x1="498.39" y1="738.02" x2="501.39" y2="738.02" stroke="#111" stroke-width="0.8"/>
<line x1="498.39" y1="743.06" x2="501.39" y2="743.06" stroke="#111" stroke-width="0.8"/>
<line x1="503.11" y1="736.78" x2="503.11" y2="742.57" stroke="#111" stroke-width="0.8"/>
<line x1="501.61" y1="736.78" x2="504.61" y2="736.78" stroke="#111" stroke-width="0.8"/>
<line x1="501.61" y1="742.57" x2="504.61" y2="742.57" stroke="#111" stroke-width="0.8"/>
<line x1="506.32" y1="735.58" x2="506.32" y2="742.09" stroke="#111" stroke-width="0.8"/>
<line x1="504.82" y1="735.58" x2="507.82" y2="735.58" stroke="#111" stroke-width="0.8"/>
<line x1="504.82" y1="742.09" x2="507.82" y2="742.09" stroke="#111" stroke-width="0.8"/>
<line x1="509.54" y1="734.42" x2="509.54" y2="741.62" stroke="#111" stroke-width="0.8"/>
<line x1="508.04" y1="734.42" x2="511.04" y2="734.42" stroke="#111" stroke-width="0.8"/>
<line x1="508.04" y1="741.62" x2="511.04" y2="741.62" stroke="#111" stroke-width="0.8"/>
<line x1="512.75" y1="733.30" x2="512.75" y2="741.18" stroke="#111" stroke-width="0.8"/>
<line x1="511.25" y1="733.30" x2="514.25" y2="733.30" stroke="#111" stroke-width="0.8"/>
<line x1="511.25" y1="741.18" x2="514.25" y2="741.18" stroke="#111" stroke-width="0.8"/>
<line x1="515.97" y1="732.21" x2="515.97" y2="740.74" stroke="#111" stroke-width="0.8"/>
<line x1="514.47" y1="732.21" x2="517.47" y2="732.21" stroke="#111" stroke-width="0.8"/>
<line x1="514.47" y1="740.74" x2="517.47" y2="740.74" stroke="#111" stroke-width="0.8"/>
<line x1="519.18" y1="731.16" x2="519.18" y2="740.32" stroke="#111" stroke-width="0.8"/>
<line x1="517.68" y1="731.16" x2="520.68" y2="731.16" stroke="#111" stroke-width="0.8"/>
<line x1="517.68" y1="740.32" x2="520.68" y2="740.32" stroke="#111" stroke-width="0.8"/>
<line x1="522.39" y1="730.14" x2="522.39" y2="739.92" stroke="#111" stroke-width="0.8"/>
<line x1="520.89" y1="730.14" x2="523.89" y2="730.14" stroke="#111" stroke-width="0.8"/>
<line x1="520.89" y1="739.92" x2="523.89" y2="739.92" stroke="#111" stroke-width="0.8"/>
<line x1="525.61" y1="729.16" x2="525.61" y2="739.53" stroke="#111" stroke-width="0.8"/>
<line x1="524.11" y1="729.16" x2="527.11" y2="729.16" stroke="#111" stroke-width="0.8"/>
<line x1="524.11" y1="739.53" x2="527.11" y2="739.53" stroke="#111" stroke-width="0.8"/>
<line x1="528.83" y1="728.21" x2="528.83" y2="739.15" stroke="#111" stroke-width="0.8"/>
<line x1="527.33" y1="728.21" x2="530.33" y2="728.21" stroke="#111" stroke-width="0.8"/>
<line x1="527.33" y1="739.15" x2="530.33" y2="739.15" stroke="#111" stroke-width="0.8"/>
<line x1="532.04" y1="727.29" x2="532.04" y2="738.78" stroke="#111" stroke-width="0.8"/>
<line x1="530.54" y1="727.29" x2="533.54" y2="727.29" stroke="#111" stroke-width="0.8"/>
<line x1="530.54" y1="738.78" x2="533.54" y2="738.78" stroke="#111" stroke-width="0.8"/>
<line x1="535.25" y1="726.40" x2="535.25" y2="738.43" stroke="#111" stroke-width="0.8"/>
<line x1="533.75" y1="726.40" x2="536.75" y2="726.40" stroke="#111" stroke-width="0.8"/>
<line x1="533.75" y1="738.43" x2="536.75" y2="738.43" stroke="#111" stroke-width="0.8"/>
<line x1="538.47" y1="725.54" x2="538.47" y2="738.09" stroke="#111" stroke-width="0.8"/>
<line x1="536.97" y1="725.54" x2="539.97" y2="725.54" stroke="#111" stroke-width="0.8"/>
<line x1="536.97" y1="738.09" x2="539.97" y2="738.09" stroke="#111" stroke-width="0.8"/>
<line x1="541.69" y1="724.71" x2="541.69" y2="737.75" stroke="#111" stroke-width="0.8"/>
<line x1="540.19" y1="724.71" x2="543.19" y2="724.71" stroke="#111" stroke-width="0.8"/>
<line x1="540.19" y1="737.75" x2="543.19" y2="737.75" stroke="#111" stroke-width="0.8"/>
<line x1="544.90" y1="723.91" x2="544.90" y2="737.43" stroke="#111" stroke-width="0.8"/>
<line x1="543.40" y1="723.91" x2="546.40" y2="723.91" stroke="#111" stroke-width="0.8"/>
<line x1="543.40" y1="737.43" x2="546.40" y2="737.43" stroke="#111" stroke-width="0.8"/>
<line x1="548.12" y1="723.13" x2="548.12" y2="737.12" stroke="#111" stroke-width="0.8"/>
<line x1="546.62" y1="723.13" x2="549.62" y2="723.13" stroke="#111" stroke-width="0.8"/>
<line x1="546.62" y1="737.12" x2="549.62" y2="737.12" stroke="#111" stroke-width="0.8"/>
<line x1="551.33" y1="722.37" x2="551.33" y2="736.82" stroke="#111" stroke-width="0.8"/>
<line x1="549.83" y1="722.37" x2="552.83" y2="722.37" stroke="#111" stroke-width="0.8"/>
<line x1="549.83" y1="736.82" x2="552.83" y2="736.82" stroke="#111" stroke-width="0.8"/>
<line x1="554.55" y1="721.65" x2="554.55" y2="736.53" stroke="#111" stroke-width="0.8"/>
<line x1="553.05" y1="721.65" x2="556.05" y2="721.65" stroke="#111" stroke-width="0.8"/>
<line x1="553.05" y1="736.53" x2="556.05" y2="736.53" stroke="#111" stroke-width="0.8"/>
<line x1="557.76" y1="720.94" x2="557.76" y2="736.25" stroke="#111" stroke-width="0.8"/>
<line x1="556.26" y1="720.94" x2="559.26" y2="720.94" stroke="#111" stroke-width="0.8"/>
<line x1="556.26" y1="736.25" x2="559.26" y2="736.25" stroke="#111" stroke-width="0.8"/>
<line x1="560.98" y1="720.26" x2="560.98" y2="735.98" stroke="#111" stroke-width="0.8"/>
<line x1="559.48" y1="720.26" x2="562.48" y2="720.26" stroke="#111" stroke-width="0.8"/>
<line x1="559.48" y1="735.98" x2="562.48" y2="735.98" stroke="#111" stroke-width="0.8"/>
<line x1="564.19" y1="719.60" x2="564.19" y2="735.72" stroke="#111" stroke-width="0.8"/>
<line x1="562.69" y1="719.60" x2="565.69" y2="719.60" stroke="#111" stroke-width="0.8"/>
<line x1="562.69" y1="735.72" x2="565.69" y2="735.72" stroke="#111" stroke-width="0.8"/>
<line x1="567.40" y1="718.97" x2="567.40" y2="735.46" stroke="#111" stroke-width="0.8"/>
<line x1="565.90" y1="718.97" x2="568.90" y2="718.97" stroke="#111" stroke-width="0.8"/>
<line x1="565.90" y1="735.46" x2="568.90" y2="735.46" stroke="#111" stroke-width="0.8"/>
<line x1="570.62" y1="718.35" x2="570.62" y2="735.22" stroke="#111" stroke-width="0.8"/>
<line x1="569.12" y1="718.35" x2="572.12" y2="718.35" stroke="#111" stroke-width="0.8"/>
<line x1="569.12" y1="735.22" x2="572.12" y2="735.22" stroke="#111" stroke-width="0.8"/>
<line x1="573.84" y1="717.75" x2="573.84" y2="734.98" stroke="#111" stroke-width="0.8"/>
<line x1="572.34" y1="717.75" x2="575.34" y2="717.75" stroke="#111" stroke-width="0.8"/>
<line x1="572.34" y1="734.98" x2="575.34" y2="734.98" stroke="#111" stroke-width="0.8"/>
<line x1="577.05" y1="717.18" x2="577.05" y2="734.75" stroke="#111" stroke-width="0.8"/>
<line x1="575.55" y1="717.18" x2="578.55" y2="717.18" stroke="#111" stroke-width="0.8"/>
<line x1="575.55" y1="734.75" x2="578.55" y2="734.75" stroke="#111" stroke-width="0.8"/>
<line x1="580.26" y1="716.62" x2="580.26" y2="734.53" stroke="#111" stroke-width="0.8"/>
<line x1="578.76" y1="716.62" x2="581.76" y2="716.62" stroke="#111" stroke-width="0.8"/>
<line x1="578.76" y1="734.53" x2="581.76" y2="734.53" stroke="#111" stroke-width="0.8"/>
<line x1="583.48" y1="716.08" x2="583.48" y2="734.31" stroke="#111" stroke-width="0.8"/>
<line x1="581.98" y1="716.08" x2="584.98" y2="716.08" stroke="#111" stroke-width="0.8"/>
<line x1="581.98" y1="734.31" x2="584.98" y2="734.31" stroke="#111" stroke-width="0.8"/>
<line x1="586.70" y1="715.56" x2="586.70" y2="734.11" stroke="#111" stroke-width="0.8"/>
<line x1="585.20" y1="715.56" x2="588.20" y2="715.56" stroke="#111" stroke-width="0.8"/>
<line x1="585.20" y1="734.11" x2="588.20" y2="734.11" stroke="#111" stroke-width="0.8"/>
<line x1="589.91" y1="715.05" x2="589.91" y2="733.91" stroke="#111" stroke-width="0.8"/>
<line x1="588.41" y1="715.05" x2="591.41" y2="715.05" stroke="#111" stroke-width="0.8"/>
<line x1="588.41" y1="733.91" x2="591.41" y2="733.91" stroke="#111" stroke-width="0.8"/>
<line x1="593.12" y1="714.57" x2="593.12" y2="733.71" stroke="#111" stroke-width="0.8"/>
<line x1="591.62" y1="714.57" x2="594.62" y2="714.57" stroke="#111" stroke-width="0.8"/>
<line x1="591.62" y1="733.71" x2="594.62" y2="733.71" stroke="#111" stroke-width="0.8"/>
<line x1="596.34" y1="714.09" x2="596.34" y2="733.52" stroke="#111" stroke-width="0.8"/>
<line x1="594.84" y1="714.09" x2="597.84" y2="714.09" stroke="#111" stroke-width="0.8"/>
<line x1="594.84" y1="733.52" x2="597.84" y2="733.52" stroke="#111" stroke-width="0.8"/>
<line x1="599.56" y1="713.64" x2="599.56" y2="733.34" stroke="#111" stroke-width="0.8"/>
<line x1="598.06" y1="713.64" x2="601.06" y2="713.64" stroke="#111" stroke-width="0.8"/>
<line x1="598.06" y1="733.34" x2="601.06" y2="733.34" stroke="#111" stroke-width="0.8"/>
<line x1="602.77" y1="713.20" x2="602.77" y2="733.16" stroke="#111" stroke-width="0.8"/>
<line x1="601.27" y1="713.20" x2="604.27" y2="713.20" stroke="#111" stroke-width="0.8"/>
<line x1="601.27" y1="733.16" x2="604.27" y2="733.16" stroke="#111" stroke-width="0.8"/>
<line x1="605.99" y1="712.77" x2="605.99" y2="732.99" stroke="#111" stroke-width="0.8"/>
<line x1="604.49" y1="712.77" x2="607.49" y2="712.77" stroke="#111" stroke-width="0.8"/>
<line x1="604.49" y1="732.99" x2="607.49" y2="732.99" stroke="#111" stroke-width="0.8"/>
<line x1="609.20" y1="712.36" x2="609.20" y2="732.83" stroke="#111" stroke-width="0.8"/>
<line x1="607.70" y1="712.36" x2="610.70" y2="712.36" stroke="#111" stroke-width="0.8"/>
<line x1="607.70" y1="732.83" x2="610.70" y2="732.83" stroke="#111" stroke-width="0.8"/>
<line x1="612.41" y1="711.96" x2="612.41" y2="732.67" stroke="#111" stroke-width="0.8"/>
<line x1="610.91" y1="711.96" x2="613.91" y2="711.96" stroke="#111" stroke-width="0.8"/>
<line x1="610.91" y1="732.67" x2="613.91" y2="732.67" stroke="#111" stroke-width="0.8"/>
<line x1="615.63" y1="711.57" x2="615.63" y2="732.52" stroke="#111" stroke-width="0.8"/>
<line x1="614.13" y1="711.57" x2="617.13" y2="711.57" stroke="#111" stroke-width="0.8"/>
<line x1="614.13" y1="732.52" x2="617.13" y2="732.52" stroke="#111" stroke-width="0.8"/>
<line x1="618.85" y1="711.20" x2="618.85" y2="732.37" stroke="#111" stroke-width="0.8"/>
<line x1="617.35" y1="711.20" x2="620.35" y2="711.20" stroke="#111" stroke-width="0.8"/>
<line x1="617.35" y1="732.37" x2="620.35" y2="732.37" stroke="#111" stroke-width="0.8"/>
<line x1="622.06" y1="710.83" x2="622.06" y2="732.22" stroke="#111" stroke-width="0.8"/>
<line x1="620.56" y1="710.83" x2="623.56" y2="710.83" stroke="#111" stroke-width="0.8"/>
<line x1="620.56" y1="732.22" x2="623.56" y2="732.22" stroke="#111" stroke-width="0.8"/>
<line x1="625.27" y1="710.49" x2="625.27" y2="732.08" stroke="#111" stroke-width="0.8"/>
<line x1="623.77" y1="710.49" x2="626.77" y2="710.49" stroke="#111" stroke-width="0.8"/>
<line x1="623.77" y1="732.08" x2="626.77" y2="732.08" stroke="#111" stroke-width="0.8"/>
<line x1="628.49" y1="710.15" x2="628.49" y2="731.95" stroke="#111" stroke-width="0.8"/>
<line x1="626.99" y1="710.15" x2="629.99" y2="710.15" stroke="#111" stroke-width="0.8"/>
<line x1="626.99" y1="731.95" x2="629.99" y2="731.95" stroke="#111" stroke-width="0.8"/>
<line x1="631.71" y1="709.82" x2="631.71" y2="731.82" stroke="#111" stroke-width="0.8"/>
<line x1="630.21" y1="709.82" x2="633.21" y2="709.82" stroke="#111" stroke-width="0.8"/>
<line x1="630.21" y1="731.82" x2="633.21" y2="731.82" stroke="#111" stroke-width="0.8"/>
<line x1="634.92" y1="709.50" x2="634.92" y2="731.69" stroke="#111" stroke-width="0.8"/>
<line x1="633.42" y1="709.50" x2="636.42" y2="709.50" stroke="#111" stroke-width="0.8"/>
<line x1="633.42" y1="731.69" x2="636.42" y2="731.69" stroke="#111" stroke-width="0.8"/>
<line x1="638.13" y1="709.20" x2="638.13" y2="731.57" stroke="#111" stroke-width="0.8"/>
<line x1="636.63" y1="709.20" x2="639.63" y2="709.20" stroke="#111" stroke-width="0.8"/>
<line x1="636.63" y1="731.57" x2="639.63" y2="731.57" stroke="#111" stroke-width="0.8"/>
<line x1="641.35" y1="708.90" x2="641.35" y2="731.45" stroke="#111" stroke-width="0.8"/>
<line x1="639.85" y1="708.90" x2="642.85" y2="708.90" stroke="#111" stroke-width="0.8"/>
<line x1="639.85" y1="731.45" x2="642.85" y2="731.45" stroke="#111" stroke-width="0.8"/>
<line x1="644.57" y1="708.62" x2="644.57" y2="731.34" stroke="#111" stroke-width="0.8"/>
<line x1="643.07" y1="708.62" x2="646.07" y2="708.62" stroke="#111" stroke-width="0.8"/>
<line x1="643.07" y1="731.34" x2="646.07" y2="731.34" stroke="#111" stroke-width="0.8"/>
<line x1="647.78" y1="708.34" x2="647.78" y2="731.23" stroke="#111" stroke-width="0.8"/>
<line x1="646.28" y1="708.34" x2="649.28" y2="708.34" stroke="#111" stroke-width="0.8"/>
<line x1="646.28" y1="731.23" x2="649.28" y2="731.23" stroke="#111" stroke-width="0.8"/>
<line x1="651.00" y1="708.07" x2="651.00" y2="731.12" stroke="#111" stroke-width="0.8"/>
<line x1="649.50" y1="708.07" x2="652.50" y2="708.07" stroke="#111" stroke-width="0.8"/>
<line x1="649.50" y1="731.12" x2="652.50" y2="731.12" stroke="#111" stroke-width="0.8"/>
<line x1="654.21" y1="707.81" x2="654.21" y2="731.02" stroke="#111" stroke-width="0.8"/>
<line x1="652.71" y1="707.81" x2="655.71" y2="707.81" stroke="#111" stroke-width="0.8"/>
<line x1="652.71" y1="731.02" x2="655.71" y2="731.02" stroke="#111" stroke-width="0.8"/>
<line x1="657.42" y1="707.56" x2="657.42" y2="730.92" stroke="#111" stroke-width="0.8"/>
<line x1="655.92" y1="707.56" x2="658.92" y2="707.56" stroke="#111" stroke-width="0.8"/>
<line x1="655.92" y1="730.92" x2="658.92" y2="730.92" stroke="#111" stroke-width="0.8"/>
<line x1="660.64" y1="707.32" x2="660.64" y2="730.82" stroke="#111" stroke-width="0.8"/>
<line x1="659.14" y1="707.32" x2="662.14" y2="707.32" stroke="#111" stroke-width="0.8"/>
<line x1="659.14" y1="730.82" x2="662.14" y2="730.82" stroke="#111" stroke-width="0.8"/>
<line x1="663.86" y1="707.08" x2="663.86" y2="730.73" stroke="#111" stroke-width="0.8"/>
<line x1="662.36" y1="707.08" x2="665.36" y2="707.08" stroke="#111" stroke-width="0.8"/>
<line x1="662.36" y1="730.73" x2="665.36" y2="730.73" stroke="#111" stroke-width="0.8"/>
<line x1="667.07" y1="706.86" x2="667.07" y2="730.64" stroke="#111" stroke-width="0.8"/>
<line x1="665.57" y1="706.86" x2="668.57" y2="706.86" stroke="#111" stroke-width="0.8"/>
<line x1="665.57" y1="730.64" x2="668.57" y2="730.64" stroke="#111" stroke-width="0.8"/>
<line x1="670.29" y1="706.64" x2="670.29" y2="730.55" stroke="#111" stroke-width="0.8"/>
<line x1="668.79" y1="706.64" x2="671.79" y2="706.64" stroke="#111" stroke-width="0.8"/>
<line x1="668.79" y1="730.55" x2="671.79" y2="730.55" stroke="#111" stroke-width="0.8"/>
<circle cx="480.60" cy="746.40" r="2.1" fill="#000"/>
<circle cx="483.81" cy="745.34" r="2.1" fill="#000"/>
<circle cx="487.03" cy="744.32" r="2.1" fill="#000"/>
<circle cx="490.25" cy="743.32" r="2.1" fill="#000"/>
<circle cx="493.46" cy="742.36" r="2.1" fill="#000"/>
<circle cx="496.68" cy="741.44" r="2.1" fill="#000"/>
<circle cx="499.89" cy="740.54" r="2.1" fill="#000"/>
<circle cx="503.11" cy="739.67" r="2.1" fill="#000"/>
<circle cx="506.32" cy="738.83" r="2.1" fill="#000"/>
<circle cx="509.54" cy="738.02" r="2.1" fill="#000"/>
<circle cx="512.75" cy="737.24" r="2.1" fill="#000"/>
<circle cx="515.97" cy="736.48" r="2.1" fill="#000"/>
<circle cx="519.18" cy="735.74" r="2.1" fill="#000"/>
<circle cx="522.39" cy="735.03" r="2.1" fill="#000"/>
<circle cx="525.61" cy="734.34" r="2.1" fill="#000"/>
<circle cx="528.83" cy="733.68" r="2.1" fill="#000"/>
<circle cx="532.04" cy="733.04" r="2.1" fill="#000"/>
<circle cx="535.25" cy="732.42" r="2.1" fill="#000"/>
<circle cx="538.47" cy="731.81" r="2.1" fill="#000"/>
<circle cx="541.69" cy="731.23" r="2.1" fill="#000"/>
<circle cx="544.90" cy="730.67" r="2.1" fill="#000"/>
<circle cx="548.12" cy="730.13" r="2.1" fill="#000"/>
<circle cx="551.33" cy="729.60" r="2.1" fill="#000"/>
<circle cx="554.55" cy="729.09" r="2.1" fill="#000"/>
<circle cx="557.76" cy="728.60" r="2.1" fill="#000"/>
<circle cx="560.98" cy="728.12" r="2.1" fill="#000"/>
<circle cx="564.19" cy="727.66" r="2.1" fill="#000"/>
<circle cx="567.40" cy="727.22" r="2.1" fill="#000"/>
<circle cx="570.62" cy="726.78" r="2.1" fill="#000"/>
<circle cx="573.84" cy="726.37" r="2.1" fill="#000"/>
<circle cx="577.05" cy="725.96" r="2.1" fill="#000"/>
<circle cx="580.26" cy="725.57" r="2.1" fill="#000"/>
<circle cx="583.48" cy="725.20" r="2.1" fill="#000"/>
<circle cx="586.70" cy="724.83" r="2.1" fill="#000"/>
<circle cx="589.91" cy="724.48" r="2.1" fill="#000"/>
<circle cx="593.12" cy="724.14" r="2.1" fill="#000"/>
<circle cx="596.34" cy="723.81" r="2.1" fill="#000"/>
<circle cx="599.56" cy="723.49" r="2.1" fill="#000"/>
<circle cx="602.77" cy="723.18" r="2.1" fill="#000"/>
<circle cx="605.99" cy="722.88" r="2.1" fill="#000"/>
<circle cx="609.20" cy="722.59" r="2.1" fill="#000"/>
<circle cx="612.41" cy="722.31" r="2.1" fill="#000"/>
<circle cx="615.63" cy="722.04" r="2.1" fill="#000"/>
<circle cx="618.85" cy="721.78" r="2.1" fill="#000"/>
<circle cx="622.06" cy="721.53" r="2.1" fill="#000"/>
<circle cx="625.27" cy="721.28" r="2.1" fill="#000"/>
<circle cx="628.49" cy="721.05" r="2.1" fill="#000"/>
<circle cx="631.71" cy="720.82" r="2.1" fill="#000"/>
<circle cx="634.92" cy="720.60" r="2.1" fill="#000"/>
<circle cx="638.13" cy="720.38" r="2.1" fill="#000"/>
<circle cx="641.35" cy="720.18" r="2.1" fill="#000"/>
<circle cx="644.57" cy="719.98" r="2.1" fill="#000"/>
<circle cx="647.78" cy="719.78" r="2.1" fill="#000"/>
<circle cx="651.00" cy="719.60" r="2.1" fill="#000"/>
<circle cx="654.21" cy="719.42" r="2.1" fill="#000"/>
<circle cx="657.42" cy="719.24" r="2.1" fill="#000"/>
<circle cx="660.64" cy="719.07" r="2.1" fill="#000"/>
<circle cx="663.86" cy="718.91" r="2.1" fill="#000"/>
<circle cx="667.07" cy="718.75" r="2.1" fill="#000"/>
<circle cx="670.29" cy="718.59" r="2.1" fill="#000"/>
<circle cx="488.4" cy="620.7" r="2" fill="#000"/>
<rect x="486.4" y="635.3" width="4" height="4" fill="#f23a3a"/>
<text x="503.4" y="624" font-size="11.5" font-weight="bold" text-anchor="start" fill="#000">Control Day15</text>
<text x="503.4" y="640.8" font-size="11.5" font-weight="bold" text-anchor="start" fill="#000">SPM Day15</text>
<text x="453" y="682" font-size="14.3" font-weight="bold" text-anchor="middle" fill="#000" transform="rotate(-90 453 682)">Fluorescence recovery (%)</text>
<text x="584" y="779" font-size="14" font-weight="bold" text-anchor="middle" fill="#000">Time (s)</text>
</svg></body></html>
